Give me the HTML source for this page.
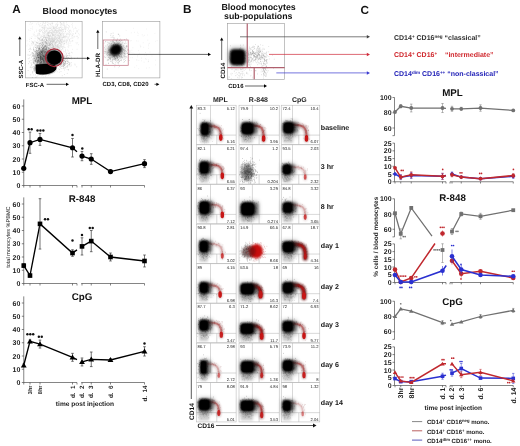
<!DOCTYPE html><html><head><meta charset="utf-8"><style>html,body{margin:0;padding:0;background:#fff;width:520px;height:446px;overflow:hidden}svg{display:block;will-change:transform}</style></head><body>
<svg width="520" height="446" viewBox="0 0 520 446" style="font-family:'Liberation Sans', sans-serif" text-rendering="geometricPrecision">
<defs>
<radialGradient id="gk"><stop offset="0" stop-color="#000" stop-opacity="1"/><stop offset="0.55" stop-color="#000" stop-opacity="0.95"/><stop offset="1" stop-color="#000" stop-opacity="0"/></radialGradient>
<radialGradient id="gg"><stop offset="0" stop-color="#444" stop-opacity="0.55"/><stop offset="1" stop-color="#444" stop-opacity="0"/></radialGradient>
<radialGradient id="gr"><stop offset="0" stop-color="#c81010" stop-opacity="1"/><stop offset="0.45" stop-color="#c81414" stop-opacity="0.85"/><stop offset="1" stop-color="#c01818" stop-opacity="0"/></radialGradient>
<radialGradient id="grl"><stop offset="0" stop-color="#c83030" stop-opacity="0.55"/><stop offset="1" stop-color="#c83030" stop-opacity="0"/></radialGradient>
<radialGradient id="gkr"><stop offset="0" stop-color="#200000" stop-opacity="1"/><stop offset="0.55" stop-color="#300505" stop-opacity="0.95"/><stop offset="1" stop-color="#300505" stop-opacity="0"/></radialGradient>
<filter id="b12" x="-60%" y="-60%" width="220%" height="220%"><feGaussianBlur stdDeviation="1.2"/></filter>
<filter id="b08" x="-60%" y="-60%" width="220%" height="220%"><feGaussianBlur stdDeviation="0.8"/></filter>
<filter id="b05" x="-60%" y="-60%" width="220%" height="220%"><feGaussianBlur stdDeviation="0.5"/></filter>
<filter id="b20" x="-60%" y="-60%" width="220%" height="220%"><feGaussianBlur stdDeviation="2.0"/></filter>
</defs>
<text transform="translate(12.2 13.2) scale(0.1)" font-size="118.00" font-weight="bold" fill="#111" text-anchor="start">A</text>
<text transform="translate(42.6 13.7) scale(0.1)" font-size="89.00" font-weight="bold" fill="#111" text-anchor="start">Blood monocytes</text>
<text transform="translate(183 13.4) scale(0.1)" font-size="118.00" font-weight="bold" fill="#111" text-anchor="start">B</text>
<text transform="translate(258.6 9.6) scale(0.1)" font-size="88.50" font-weight="bold" fill="#111" text-anchor="middle">Blood monocytes</text>
<text transform="translate(258.3 18.8) scale(0.1)" font-size="88.00" font-weight="bold" fill="#111" text-anchor="middle">sub-populations</text>
<text transform="translate(360.6 13.6) scale(0.1)" font-size="118.00" font-weight="bold" fill="#111" text-anchor="start">C</text>
<rect x="25.5" y="21.5" width="56.6" height="56.4" fill="none" stroke="#999" stroke-width="0.6"/>
<path d="M55.4,60.0h0.55M55.6,54.6h0.55M41.5,72.6h0.55M59.4,37.5h0.55M48.5,28.5h0.55M45.4,65.5h0.55M47.2,63.8h0.55M44.5,39.1h0.55M51.3,47.2h0.55M45.6,56.4h0.55M61.0,47.3h0.55M32.5,41.9h0.55M77.5,42.7h0.55M59.9,42.8h0.55M33.7,61.0h0.55M42.4,48.0h0.55M52.9,49.9h0.55M64.2,43.8h0.55M52.4,39.6h0.55M62.6,41.1h0.55M45.4,61.7h0.55M34.8,64.0h0.55M42.9,72.2h0.55M51.1,39.7h0.55M37.1,54.6h0.55M46.2,64.0h0.55M51.2,38.2h0.55M63.0,41.5h0.55M40.1,57.8h0.55M66.1,27.7h0.55M49.2,49.9h0.55M42.3,69.4h0.55M46.8,54.9h0.55M61.8,54.1h0.55M56.6,38.9h0.55M53.5,52.1h0.55M48.6,52.2h0.55M47.9,54.2h0.55M40.3,73.0h0.55M29.9,67.5h0.55M46.5,30.2h0.55M37.0,34.0h0.55M59.3,64.1h0.55M60.0,25.2h0.55M43.3,59.7h0.55M45.2,63.9h0.55M61.5,46.7h0.55M47.9,56.1h0.55M52.7,67.5h0.55M39.7,39.2h0.55M31.8,67.4h0.55M53.3,56.6h0.55M30.0,49.6h0.55M54.9,25.7h0.55M53.8,64.4h0.55M67.7,33.0h0.55M45.3,67.0h0.55M31.0,38.5h0.55M39.3,50.5h0.55M47.3,62.3h0.55M46.6,61.0h0.55M33.5,42.4h0.55M44.7,43.4h0.55M37.9,71.1h0.55M38.0,65.1h0.55M45.6,50.8h0.55M46.2,40.4h0.55M46.5,50.3h0.55M31.7,36.7h0.55M37.4,45.8h0.55M45.5,56.8h0.55M61.3,30.6h0.55M46.2,46.3h0.55M53.8,50.9h0.55M33.7,68.6h0.55M49.1,35.4h0.55M53.7,38.6h0.55M63.7,46.6h0.55M45.5,60.1h0.55M46.7,53.4h0.55M50.4,40.5h0.55M72.2,52.8h0.55M52.9,35.4h0.55M52.7,39.3h0.55M42.3,49.8h0.55M40.7,26.3h0.55M46.5,64.1h0.55M41.0,69.1h0.55M30.9,49.5h0.55M52.1,56.8h0.55M47.8,62.8h0.55M56.5,53.2h0.55M44.5,61.7h0.55M47.9,54.4h0.55M52.0,46.7h0.55M57.4,37.8h0.55M39.7,31.4h0.55M38.1,49.8h0.55M49.6,54.0h0.55M38.2,67.7h0.55M64.6,26.5h0.55M51.3,53.1h0.55M46.9,63.1h0.55M52.6,34.8h0.55M53.8,52.8h0.55M48.1,47.2h0.55M51.0,59.5h0.55M42.6,69.1h0.55M51.0,37.1h0.55M46.6,29.9h0.55M44.8,55.8h0.55M34.1,63.6h0.55M60.1,40.9h0.55M37.7,50.1h0.55M46.9,22.4h0.55M46.1,56.9h0.55M41.0,30.5h0.55M41.3,52.6h0.55M40.9,37.0h0.55M58.9,40.4h0.55M45.4,53.4h0.55M52.0,32.1h0.55M53.9,31.0h0.55M54.1,40.9h0.55M46.9,54.7h0.55M48.6,65.0h0.55M37.2,55.0h0.55M61.4,53.0h0.55M69.5,31.1h0.55M52.6,33.9h0.55M59.4,38.7h0.55M38.9,68.5h0.55M60.2,40.5h0.55M41.6,58.8h0.55M42.6,48.5h0.55M46.8,63.0h0.55M55.2,34.3h0.55M32.4,29.0h0.55M58.3,51.1h0.55M48.8,54.9h0.55M48.8,49.0h0.55M52.7,59.3h0.55M42.2,32.3h0.55M40.4,63.4h0.55M46.0,50.9h0.55M38.9,64.3h0.55M27.7,54.8h0.55M41.3,53.4h0.55M47.5,66.1h0.55M61.1,49.8h0.55M52.7,53.1h0.55M43.1,69.0h0.55M42.3,38.7h0.55M44.8,49.4h0.55M53.6,70.8h0.55M55.9,38.4h0.55M52.2,44.7h0.55M56.3,32.4h0.55M31.3,63.7h0.55M34.3,34.3h0.55M35.7,61.1h0.55M39.8,30.8h0.55M63.0,47.2h0.55M42.0,57.4h0.55M39.4,51.6h0.55M46.6,60.5h0.55M43.6,58.3h0.55M47.8,48.6h0.55M47.8,52.0h0.55M46.4,37.4h0.55M45.7,42.2h0.55M49.3,45.6h0.55M46.1,46.7h0.55M41.6,40.1h0.55M50.9,51.3h0.55M39.8,64.3h0.55M44.9,65.4h0.55M50.5,36.9h0.55M58.3,30.7h0.55M46.3,72.6h0.55M63.8,25.5h0.55M41.9,67.5h0.55M43.1,55.2h0.55M44.8,54.4h0.55M48.5,63.0h0.55M36.0,51.2h0.55M36.6,56.9h0.55M52.3,65.1h0.55M54.0,32.9h0.55M47.0,68.7h0.55M51.9,36.2h0.55M49.2,28.2h0.55M55.8,56.5h0.55M34.5,35.9h0.55M67.7,44.0h0.55M55.2,39.0h0.55M47.3,53.3h0.55M40.4,31.7h0.55M48.4,50.4h0.55M39.9,61.2h0.55M39.3,59.2h0.55M54.7,34.8h0.55M47.2,40.8h0.55M48.1,54.5h0.55M49.9,30.6h0.55M66.1,26.1h0.55M45.6,63.5h0.55M39.7,60.0h0.55M48.9,28.0h0.55M26.8,40.8h0.55M66.2,22.2h0.55M43.3,72.8h0.55M60.4,41.0h0.55M56.0,35.6h0.55M34.4,61.2h0.55M46.8,60.1h0.55M48.0,39.5h0.55M45.3,72.2h0.55M47.4,53.8h0.55M45.4,61.3h0.55M45.9,71.4h0.55M53.9,55.0h0.55M44.4,48.9h0.55M55.0,36.4h0.55M58.8,60.1h0.55M41.5,54.4h0.55M50.1,62.3h0.55M49.5,37.0h0.55M52.6,50.3h0.55M48.2,35.4h0.55M57.5,32.6h0.55M54.5,44.8h0.55M56.6,47.1h0.55M69.5,35.5h0.55M58.1,29.8h0.55M48.1,57.1h0.55M43.5,47.1h0.55M36.8,76.4h0.55M37.9,60.7h0.55M59.3,36.2h0.55M41.8,42.7h0.55M36.5,70.5h0.55M48.9,37.0h0.55M51.8,45.6h0.55M46.3,49.0h0.55M59.7,42.6h0.55M35.8,67.6h0.55M72.6,40.9h0.55M63.3,52.0h0.55M46.4,52.2h0.55M65.7,33.0h0.55M71.1,35.0h0.55M32.9,62.5h0.55M51.6,58.9h0.55M51.5,70.2h0.55M48.8,40.4h0.55M44.1,41.4h0.55M48.5,34.9h0.55M48.1,23.2h0.55M46.8,37.9h0.55M59.7,37.1h0.55M43.4,23.3h0.55M46.6,58.9h0.55M33.2,48.6h0.55M51.1,63.6h0.55M52.2,55.9h0.55M39.6,60.6h0.55M62.4,57.7h0.55M47.7,51.3h0.55M45.4,38.8h0.55M35.4,67.3h0.55M61.0,45.5h0.55M44.4,52.6h0.55M55.0,61.1h0.55M35.1,72.4h0.55M38.8,42.1h0.55M61.6,34.1h0.55M35.6,64.7h0.55M49.4,51.3h0.55M47.2,58.3h0.55M50.5,28.5h0.55M54.1,40.0h0.55M57.2,40.2h0.55M56.0,33.2h0.55M56.7,23.9h0.55M60.8,40.2h0.55M38.1,24.3h0.55M39.3,51.8h0.55M44.2,35.7h0.55M42.6,61.6h0.55M48.5,75.5h0.55M48.3,61.1h0.55M46.8,32.1h0.55M38.6,70.3h0.55M72.0,37.3h0.55M53.6,31.9h0.55M46.3,62.7h0.55M40.6,40.8h0.55M43.1,62.1h0.55M46.9,54.2h0.55M47.5,42.4h0.55M53.1,28.0h0.55M35.9,54.0h0.55M38.2,55.3h0.55M45.6,63.1h0.55M47.1,72.2h0.55M34.8,47.6h0.55M43.4,62.4h0.55M53.0,34.7h0.55M51.6,37.3h0.55M47.3,24.9h0.55M57.4,31.6h0.55M44.4,65.2h0.55M57.2,54.8h0.55M55.7,39.6h0.55M36.0,42.2h0.55M53.2,62.4h0.55M46.0,30.5h0.55M57.6,48.3h0.55M61.3,28.8h0.55M58.8,36.8h0.55M51.5,60.0h0.55M54.3,59.2h0.55M42.5,55.3h0.55M54.1,28.5h0.55M41.9,61.3h0.55M35.7,73.5h0.55M50.5,35.8h0.55M39.0,48.2h0.55M59.5,31.2h0.55M41.7,48.5h0.55M34.4,32.2h0.55M43.0,55.9h0.55M45.3,63.7h0.55M37.7,60.0h0.55M56.8,45.4h0.55M52.7,34.7h0.55M49.0,43.9h0.55M64.0,33.0h0.55M38.6,63.9h0.55M55.2,34.7h0.55M46.9,48.2h0.55M72.0,49.4h0.55M49.7,52.1h0.55M37.9,54.2h0.55M51.9,52.2h0.55M50.1,55.9h0.55M51.4,52.8h0.55M38.1,42.9h0.55M44.5,52.8h0.55M44.0,35.7h0.55M62.4,37.8h0.55M43.6,59.4h0.55M48.6,49.0h0.55M42.1,63.1h0.55M38.7,41.4h0.55M73.7,37.6h0.55M49.3,36.0h0.55M49.7,71.2h0.55M55.6,43.4h0.55M50.5,39.1h0.55M48.8,38.6h0.55M42.1,24.0h0.55M48.1,32.8h0.55M33.2,42.3h0.55M56.0,48.9h0.55M40.0,68.0h0.55M47.9,47.5h0.55M41.1,35.4h0.55M44.7,26.6h0.55M38.7,61.7h0.55M35.5,72.8h0.55M42.9,28.1h0.55M59.7,27.3h0.55M45.8,38.6h0.55M44.1,40.1h0.55M53.6,40.2h0.55M59.5,33.1h0.55M51.6,47.5h0.55M67.6,38.4h0.55M53.3,31.8h0.55M51.4,57.2h0.55M32.8,34.0h0.55M46.2,34.0h0.55M65.3,29.5h0.55M43.6,66.1h0.55M47.0,28.0h0.55M47.6,33.8h0.55M48.1,48.4h0.55M68.7,33.3h0.55M48.1,60.3h0.55M54.9,49.4h0.55M43.9,37.0h0.55M40.6,62.5h0.55M43.7,61.3h0.55M73.7,36.5h0.55M45.6,63.8h0.55M55.4,63.0h0.55M41.3,46.1h0.55M31.9,42.1h0.55M44.7,58.2h0.55M52.9,38.5h0.55M42.2,58.6h0.55M36.6,71.6h0.55M44.2,50.8h0.55M44.0,36.4h0.55M31.0,53.0h0.55M61.3,60.7h0.55M45.1,25.2h0.55M45.2,30.7h0.55M44.1,46.7h0.55M56.4,26.5h0.55M44.2,65.4h0.55M72.5,35.4h0.55M44.8,32.9h0.55M52.5,54.2h0.55M58.4,35.1h0.55M41.5,43.7h0.55M56.2,30.2h0.55M34.8,66.3h0.55M65.5,26.2h0.55M45.6,48.9h0.55M44.9,45.0h0.55M46.7,68.7h0.55M56.2,56.7h0.55M64.9,31.3h0.55M54.6,72.7h0.55M54.1,31.9h0.55M62.0,46.7h0.55M52.6,38.8h0.55M45.8,61.6h0.55M44.0,56.6h0.55M37.1,64.6h0.55M42.6,58.0h0.55M49.7,23.5h0.55M66.7,52.8h0.55M41.0,72.7h0.55M45.1,42.8h0.55M36.3,24.0h0.55M48.8,73.6h0.55M36.1,50.6h0.55M45.9,68.4h0.55M44.9,64.0h0.55M54.5,40.3h0.55M59.9,46.2h0.55M51.1,29.9h0.55M63.4,22.5h0.55M59.6,40.9h0.55M43.9,64.3h0.55M50.0,41.8h0.55M50.6,54.0h0.55M58.9,28.0h0.55M76.6,43.8h0.55M38.5,68.7h0.55M46.8,59.2h0.55M49.2,54.5h0.55M47.5,54.6h0.55M76.8,49.3h0.55M47.2,53.7h0.55M42.6,57.8h0.55M35.2,61.5h0.55M38.1,62.5h0.55M54.6,54.0h0.55M49.6,45.5h0.55M59.4,48.6h0.55M54.8,44.8h0.55M53.0,35.6h0.55M50.6,65.5h0.55M53.6,51.8h0.55M40.2,48.3h0.55M33.0,66.5h0.55M40.1,45.6h0.55M35.0,62.1h0.55M48.0,45.2h0.55M62.5,33.3h0.55M58.5,35.1h0.55M53.7,32.3h0.55M47.6,43.2h0.55M51.2,38.2h0.55M49.3,49.6h0.55M56.2,52.6h0.55M49.7,40.3h0.55M50.9,23.2h0.55M35.0,54.1h0.55M58.8,32.5h0.55M54.9,37.5h0.55M58.5,47.4h0.55M54.1,46.9h0.55M55.2,30.9h0.55M64.4,40.0h0.55M50.5,27.1h0.55M55.3,44.8h0.55M60.9,46.6h0.55M45.8,64.2h0.55M48.3,55.6h0.55M56.4,38.1h0.55M45.2,42.3h0.55M41.7,40.5h0.55M51.1,49.7h0.55M58.3,43.7h0.55M67.3,27.5h0.55M50.6,39.9h0.55M50.1,60.4h0.55M36.6,54.6h0.55M56.1,64.3h0.55M39.9,59.9h0.55M38.8,32.3h0.55M53.1,30.1h0.55M31.7,44.9h0.55M42.2,66.1h0.55M48.0,38.1h0.55M47.4,28.5h0.55M50.2,47.2h0.55M45.4,48.0h0.55M44.6,31.8h0.55M51.8,60.4h0.55M62.4,38.4h0.55M62.2,32.7h0.55M47.6,56.6h0.55M61.6,42.1h0.55M50.9,36.4h0.55M41.2,57.0h0.55M45.0,50.6h0.55M39.7,56.0h0.55M37.1,37.4h0.55M59.1,41.7h0.55M45.3,38.8h0.55M51.4,34.0h0.55M36.0,45.8h0.55M51.3,53.8h0.55M48.6,49.6h0.55M35.3,57.9h0.55M54.5,42.6h0.55M58.9,39.4h0.55M44.9,36.2h0.55M49.9,53.0h0.55M50.8,43.0h0.55M44.1,59.8h0.55M48.6,67.8h0.55M53.7,35.3h0.55M66.1,33.9h0.55M57.3,63.1h0.55M57.3,42.0h0.55M32.0,23.4h0.55M43.8,61.6h0.55M46.1,46.3h0.55M65.9,42.0h0.55M55.5,36.6h0.55M60.4,43.4h0.55M52.7,39.5h0.55M65.5,50.9h0.55M39.0,63.3h0.55M49.7,53.1h0.55M46.2,61.5h0.55M48.5,56.5h0.55M58.8,41.4h0.55M62.4,40.1h0.55M36.7,67.9h0.55M46.7,57.9h0.55M41.4,59.3h0.55M71.9,33.6h0.55M41.3,55.5h0.55M63.8,27.4h0.55M42.2,42.5h0.55M57.6,47.2h0.55M47.9,42.2h0.55M40.0,60.7h0.55M40.5,69.9h0.55M38.6,55.4h0.55M68.6,27.5h0.55M44.4,60.4h0.55M36.8,57.0h0.55M70.0,33.7h0.55M54.8,67.7h0.55M49.8,41.3h0.55M42.6,64.4h0.55M46.7,72.2h0.55M50.6,39.5h0.55M41.4,59.9h0.55M52.4,37.9h0.55M51.9,33.3h0.55M59.1,49.4h0.55M61.6,28.8h0.55M53.9,36.9h0.55M64.6,25.9h0.55M44.6,28.9h0.55M36.5,57.9h0.55M43.0,62.2h0.55M45.6,23.0h0.55M43.9,40.0h0.55M44.8,68.5h0.55M41.9,56.4h0.55M52.6,47.1h0.55M43.3,63.4h0.55M40.6,65.1h0.55M58.6,45.0h0.55M52.5,44.3h0.55M42.6,58.4h0.55M44.6,65.9h0.55M39.1,68.9h0.55M49.7,69.0h0.55M66.1,42.1h0.55M43.6,60.2h0.55M42.4,39.9h0.55M44.8,60.1h0.55M32.9,68.7h0.55M63.3,29.8h0.55M33.8,61.2h0.55M45.6,56.9h0.55M44.1,54.1h0.55M34.8,66.1h0.55M32.2,41.7h0.55M52.5,50.8h0.55M58.0,46.8h0.55M59.2,30.1h0.55M60.3,59.9h0.55M56.6,26.4h0.55M38.5,51.9h0.55M41.5,40.3h0.55M62.7,23.3h0.55M48.3,55.2h0.55M48.4,62.9h0.55M69.3,26.6h0.55M60.4,30.5h0.55M59.0,41.9h0.55M58.8,42.0h0.55M41.3,55.7h0.55M37.7,61.9h0.55M41.5,43.2h0.55M53.7,62.1h0.55M54.0,35.9h0.55M59.2,41.6h0.55M57.7,48.5h0.55M55.6,49.0h0.55M39.3,29.6h0.55M74.5,36.3h0.55M48.5,36.6h0.55M46.7,37.2h0.55M43.3,71.7h0.55M38.3,68.5h0.55M57.6,44.8h0.55M43.4,35.4h0.55M43.4,46.3h0.55M47.8,32.6h0.55M55.9,27.8h0.55M58.1,43.6h0.55M50.9,26.0h0.55M46.2,58.1h0.55M46.4,74.8h0.55M41.8,58.8h0.55M47.3,58.6h0.55M31.8,45.0h0.55M32.3,62.2h0.55M55.4,39.3h0.55M42.0,51.7h0.55M65.2,31.5h0.55M49.4,64.7h0.55M52.5,38.9h0.55M45.1,47.2h0.55M37.7,75.7h0.55M61.9,29.6h0.55M58.7,35.2h0.55M29.3,41.4h0.55M60.1,30.1h0.55M41.8,29.4h0.55M59.2,61.2h0.55M44.9,49.6h0.55M50.4,32.7h0.55M55.0,52.4h0.55M47.1,51.6h0.55M43.6,60.4h0.55M37.8,66.2h0.55M47.8,56.8h0.55M55.6,43.6h0.55M54.1,50.1h0.55M48.5,70.3h0.55M35.4,41.8h0.55M40.7,66.3h0.55M43.3,72.7h0.55M61.5,41.4h0.55M51.5,29.3h0.55M50.9,47.8h0.55M52.2,35.5h0.55M39.5,53.5h0.55M38.2,66.4h0.55M57.6,39.8h0.55M58.2,52.4h0.55M45.6,53.4h0.55M46.5,68.2h0.55M62.3,27.4h0.55M43.1,67.4h0.55M64.0,29.3h0.55M39.2,40.3h0.55M62.3,42.2h0.55M55.8,31.1h0.55M52.6,34.8h0.55M57.4,30.8h0.55M36.6,36.6h0.55M47.3,56.4h0.55M42.3,64.2h0.55M49.2,59.1h0.55M52.3,64.8h0.55M41.2,66.3h0.55M42.6,59.2h0.55M40.8,61.8h0.55M65.7,36.0h0.55M41.2,47.7h0.55M44.3,62.7h0.55M55.4,55.8h0.55M58.2,37.1h0.55M36.4,61.2h0.55M53.5,40.1h0.55M46.5,44.2h0.55M33.2,43.1h0.55M41.5,61.2h0.55M54.5,49.1h0.55M47.0,56.0h0.55M64.8,40.1h0.55M50.0,68.6h0.55M58.1,31.5h0.55M36.4,68.7h0.55M49.2,54.4h0.55M63.0,37.7h0.55M44.2,62.1h0.55M47.4,37.5h0.55M45.1,50.7h0.55M50.6,57.8h0.55M40.8,50.4h0.55M49.4,48.6h0.55M40.2,29.3h0.55M44.0,29.6h0.55M48.5,33.4h0.55M70.9,57.9h0.55M54.7,40.0h0.55M52.2,59.5h0.55M57.1,34.7h0.55M63.2,34.0h0.55M73.3,29.1h0.55M51.9,38.1h0.55M50.7,35.7h0.55M58.3,31.3h0.55M39.6,49.5h0.55M41.1,63.4h0.55M41.1,37.1h0.55M57.1,53.0h0.55M51.7,41.7h0.55M38.7,55.6h0.55M55.3,30.3h0.55M36.7,53.9h0.55M50.4,60.2h0.55M50.9,40.6h0.55M36.7,52.6h0.55M43.2,51.8h0.55M52.6,55.7h0.55M55.3,45.2h0.55M60.3,38.8h0.55M37.7,58.9h0.55M47.8,56.3h0.55M36.6,69.8h0.55M61.1,31.6h0.55M38.5,57.5h0.55M49.0,42.3h0.55M60.0,23.1h0.55M65.6,38.2h0.55M50.3,42.8h0.55M43.9,34.8h0.55M39.3,45.9h0.55M37.8,63.7h0.55M48.2,36.8h0.55M57.4,36.2h0.55M51.2,32.7h0.55M58.9,50.4h0.55M31.6,54.6h0.55M38.2,67.4h0.55M40.8,71.0h0.55M51.3,52.3h0.55M50.3,42.4h0.55M60.0,31.2h0.55M48.0,56.0h0.55M43.3,44.4h0.55M75.2,33.2h0.55M39.4,53.5h0.55M55.8,45.5h0.55M55.4,30.6h0.55M46.2,50.0h0.55M46.4,48.1h0.55M61.4,39.3h0.55M55.2,37.7h0.55M44.5,42.8h0.55M48.5,61.0h0.55M49.0,69.4h0.55M50.2,53.8h0.55M54.6,38.8h0.55M51.6,38.5h0.55M59.8,50.9h0.55M50.4,51.6h0.55M53.1,41.4h0.55M53.3,48.7h0.55M42.6,59.3h0.55M44.7,62.2h0.55M56.8,25.1h0.55M46.8,46.9h0.55M62.8,36.5h0.55M52.6,46.8h0.55M39.4,58.2h0.55M33.8,62.8h0.55M44.7,57.8h0.55M48.9,58.0h0.55M39.5,66.4h0.55M34.5,62.8h0.55M50.9,40.2h0.55M59.2,46.9h0.55M53.3,54.5h0.55M45.7,41.6h0.55M54.5,43.9h0.55M37.5,64.2h0.55M42.9,58.8h0.55M49.3,57.4h0.55M48.2,63.6h0.55M78.5,33.4h0.55M39.4,45.7h0.55M56.3,41.2h0.55M43.4,67.0h0.55M41.0,64.4h0.55M37.6,47.1h0.55M53.4,42.6h0.55M35.2,36.0h0.55M51.2,47.9h0.55M60.1,34.5h0.55M50.5,34.4h0.55M50.8,54.1h0.55M75.8,28.6h0.55M47.4,55.5h0.55M54.1,49.4h0.55M49.8,32.3h0.55M51.1,60.2h0.55M67.3,50.0h0.55M60.3,27.3h0.55M55.1,45.7h0.55M52.1,53.7h0.55M76.0,31.1h0.55M53.9,38.1h0.55M57.7,55.6h0.55M38.6,45.4h0.55M31.0,38.5h0.55M35.9,58.9h0.55M37.7,53.6h0.55M52.8,47.5h0.55M59.0,29.0h0.55M37.8,66.7h0.55M54.4,40.8h0.55M42.5,40.5h0.55M41.4,65.2h0.55M51.0,55.2h0.55M40.5,62.6h0.55M57.7,44.9h0.55M75.7,32.9h0.55M43.3,47.0h0.55M56.8,39.3h0.55M42.6,50.8h0.55M29.8,47.1h0.55M37.8,47.9h0.55M61.5,35.8h0.55M47.1,56.5h0.55M35.5,47.6h0.55M37.2,37.7h0.55M54.4,60.2h0.55M38.5,67.1h0.55M48.1,33.1h0.55M57.2,32.2h0.55M46.3,50.1h0.55M33.6,57.8h0.55M57.4,22.2h0.55M43.3,58.9h0.55M49.0,44.6h0.55M60.8,34.8h0.55M64.5,26.9h0.55M40.7,60.1h0.55M62.7,35.6h0.55M41.9,25.1h0.55M56.6,48.0h0.55M52.0,35.1h0.55M43.8,50.7h0.55M47.1,55.6h0.55M49.1,39.0h0.55M52.0,60.5h0.55M43.4,38.0h0.55M35.0,44.2h0.55M36.2,30.1h0.55M48.9,42.7h0.55M58.2,40.5h0.55M40.1,35.0h0.55M44.7,58.6h0.55M48.1,25.7h0.55M44.4,56.1h0.55M61.2,41.8h0.55M50.6,45.4h0.55M40.5,23.6h0.55M34.7,60.5h0.55M34.2,62.0h0.55M50.3,62.7h0.55M59.8,22.7h0.55M61.5,38.7h0.55M55.7,45.4h0.55M42.5,67.9h0.55M59.0,37.2h0.55M57.3,37.7h0.55M57.8,47.4h0.55M52.7,35.1h0.55M46.4,47.5h0.55M39.3,35.7h0.55M53.7,55.1h0.55M41.9,67.0h0.55M36.8,43.7h0.55M40.6,62.6h0.55M37.1,57.2h0.55M54.7,43.4h0.55M27.7,44.1h0.55M42.5,71.7h0.55M49.1,47.3h0.55M28.8,61.2h0.55M36.7,69.1h0.55M54.3,38.0h0.55M43.7,32.7h0.55M36.5,62.5h0.55M45.8,65.8h0.55M65.8,29.0h0.55M62.6,39.5h0.55M41.3,75.9h0.55M50.0,53.1h0.55M44.5,65.1h0.55M47.4,70.5h0.55M52.3,45.6h0.55M57.7,28.4h0.55M36.6,61.6h0.55M41.7,50.3h0.55M37.6,68.6h0.55M44.9,34.3h0.55M58.3,57.5h0.55M53.8,47.1h0.55M50.7,41.4h0.55M48.6,55.3h0.55M58.0,35.6h0.55M43.9,52.5h0.55M55.2,39.0h0.55M46.3,72.2h0.55M60.3,49.1h0.55M43.1,64.0h0.55M73.4,31.2h0.55M41.6,38.7h0.55M55.4,36.2h0.55M57.7,54.6h0.55M44.7,63.1h0.55M57.4,50.0h0.55M50.2,63.6h0.55M54.6,58.9h0.55M38.1,67.8h0.55M64.2,47.5h0.55M41.9,72.1h0.55M44.4,33.1h0.55M39.5,31.5h0.55M33.1,42.9h0.55M36.0,61.9h0.55M45.3,55.2h0.55M51.6,44.0h0.55M49.5,39.1h0.55M66.2,36.4h0.55M54.9,33.1h0.55M54.0,50.9h0.55M50.9,33.5h0.55M56.4,24.0h0.55M39.1,61.8h0.55M53.8,44.5h0.55M40.6,51.0h0.55M46.5,66.2h0.55M41.2,42.2h0.55M45.9,58.2h0.55M51.3,41.9h0.55M37.9,68.9h0.55M42.9,36.2h0.55M43.4,44.9h0.55M39.2,72.2h0.55M40.7,62.9h0.55M54.2,39.0h0.55M50.4,47.2h0.55M47.2,63.6h0.55M59.3,35.9h0.55M51.6,30.5h0.55M49.6,74.2h0.55M48.8,40.1h0.55M54.7,57.7h0.55M51.7,46.1h0.55M39.1,74.3h0.55M62.8,46.6h0.55M50.2,60.3h0.55M51.7,41.5h0.55M59.3,37.7h0.55M43.0,47.7h0.55M60.4,35.2h0.55M38.3,70.2h0.55M45.1,53.1h0.55M45.5,66.2h0.55M45.8,53.5h0.55M55.8,46.3h0.55M43.4,49.5h0.55M48.2,62.6h0.55M57.0,58.4h0.55M52.3,54.2h0.55M58.1,36.0h0.55M49.2,42.7h0.55M56.0,38.7h0.55M58.5,47.1h0.55M50.3,28.7h0.55M61.3,49.5h0.55M46.8,67.1h0.55M58.9,38.6h0.55M46.8,70.0h0.55M48.1,43.0h0.55M56.5,37.6h0.55M47.5,54.3h0.55M46.7,56.2h0.55M57.4,34.0h0.55M41.5,57.3h0.55M42.2,69.9h0.55M50.3,49.1h0.55M45.5,44.4h0.55M59.5,32.4h0.55M39.4,49.8h0.55M38.7,58.8h0.55M41.9,59.2h0.55M49.8,54.8h0.55M40.8,71.4h0.55M59.1,53.6h0.55M43.4,52.8h0.55M52.5,49.1h0.55M41.6,53.2h0.55M53.9,64.9h0.55M62.7,43.8h0.55M37.3,51.1h0.55M35.1,60.1h0.55M64.8,35.7h0.55M38.6,46.4h0.55M56.6,42.6h0.55M66.4,43.9h0.55M43.9,53.7h0.55M46.9,41.1h0.55M49.6,57.4h0.55M48.9,39.3h0.55M40.9,51.0h0.55M56.6,57.6h0.55M34.0,70.6h0.55M41.8,29.8h0.55M60.5,40.3h0.55M58.4,47.1h0.55M47.4,30.1h0.55M37.5,70.3h0.55M43.5,76.9h0.55M43.5,68.6h0.55M45.4,76.5h0.55M64.0,23.0h0.55M42.1,50.7h0.55M43.5,72.7h0.55M51.4,50.1h0.55M61.0,43.3h0.55M56.8,45.4h0.55M60.4,40.6h0.55M66.1,39.9h0.55M33.6,61.2h0.55M38.3,60.5h0.55M50.5,68.1h0.55M45.7,63.1h0.55M47.6,44.7h0.55M38.8,49.6h0.55M48.0,38.9h0.55M49.3,60.0h0.55M40.1,47.3h0.55M41.5,62.4h0.55M40.0,72.6h0.55M54.2,58.3h0.55M52.5,41.5h0.55M45.2,46.0h0.55M55.6,30.5h0.55M43.9,54.3h0.55M46.4,55.0h0.55M63.5,43.2h0.55M57.7,38.8h0.55M50.4,67.7h0.55M43.3,62.9h0.55M54.4,30.2h0.55M43.3,67.2h0.55M46.2,53.0h0.55M44.5,56.3h0.55M48.0,68.5h0.55M51.1,50.4h0.55M45.0,71.5h0.55M48.9,40.7h0.55M35.3,57.5h0.55M57.5,40.6h0.55M49.5,38.9h0.55M46.1,63.1h0.55M53.3,61.9h0.55M53.9,57.9h0.55M62.9,44.4h0.55M40.1,37.1h0.55M54.4,40.7h0.55M52.3,54.9h0.55M42.7,36.3h0.55M46.8,42.6h0.55M68.0,25.6h0.55M39.8,62.2h0.55M68.5,42.2h0.55M49.9,60.0h0.55M49.2,45.1h0.55M40.4,56.8h0.55M48.7,33.2h0.55M42.6,65.9h0.55M57.1,45.1h0.55M39.2,61.1h0.55M51.8,25.8h0.55M57.5,42.5h0.55M40.9,60.1h0.55M43.1,33.2h0.55M41.5,51.5h0.55M58.6,50.3h0.55M42.5,59.6h0.55M48.0,39.5h0.55M37.3,43.2h0.55M55.3,33.0h0.55M55.0,24.4h0.55M58.9,36.0h0.55M42.1,48.0h0.55M65.4,52.2h0.55M47.0,34.3h0.55M52.9,32.9h0.55M45.5,58.7h0.55M46.3,51.3h0.55M42.6,39.1h0.55M51.8,51.4h0.55M46.9,65.6h0.55M45.4,38.0h0.55M35.3,54.9h0.55M38.2,59.7h0.55M48.1,50.4h0.55M65.5,27.9h0.55M44.2,60.5h0.55M43.9,67.0h0.55M53.1,40.7h0.55M46.7,60.9h0.55M48.7,60.6h0.55M45.6,49.0h0.55M29.8,30.4h0.55M59.1,50.0h0.55M38.6,55.7h0.55M53.3,45.7h0.55M57.2,60.1h0.55M52.9,43.1h0.55M58.0,38.6h0.55M57.0,44.8h0.55M60.2,35.0h0.55M41.3,30.6h0.55M44.1,27.8h0.55M53.9,61.1h0.55M38.3,55.0h0.55M43.8,40.4h0.55M42.8,42.0h0.55M38.0,51.1h0.55M38.0,60.4h0.55M56.9,46.7h0.55M57.3,39.9h0.55M39.4,67.6h0.55M44.8,48.9h0.55M51.7,33.8h0.55M48.5,32.5h0.55M46.0,47.9h0.55M32.3,26.9h0.55M42.5,75.3h0.55M55.3,43.9h0.55M37.4,65.2h0.55M45.6,31.5h0.55M62.7,65.2h0.55M45.3,63.6h0.55M44.5,45.1h0.55M33.4,71.8h0.55M53.6,39.4h0.55M60.7,47.3h0.55M52.2,34.1h0.55M69.3,39.6h0.55M53.0,37.7h0.55M37.4,35.8h0.55M45.6,57.3h0.55M41.9,57.4h0.55M37.4,40.4h0.55M42.7,48.9h0.55M42.6,60.6h0.55M47.2,55.3h0.55M49.1,31.1h0.55M44.0,27.6h0.55M66.2,34.8h0.55M47.2,60.7h0.55M67.6,36.2h0.55M47.8,43.1h0.55M59.7,53.5h0.55M42.0,32.1h0.55M42.6,39.2h0.55M49.3,30.4h0.55M65.0,55.0h0.55M50.5,42.0h0.55M55.3,42.0h0.55M61.8,53.4h0.55M40.6,50.1h0.55M53.4,62.8h0.55M47.2,49.7h0.55M56.4,30.5h0.55M54.0,55.1h0.55M61.8,56.2h0.55M37.9,35.8h0.55M76.8,30.8h0.55M36.7,59.5h0.55M37.4,64.0h0.55M50.8,57.2h0.55M46.5,58.8h0.55M40.1,50.1h0.55M43.3,68.2h0.55M63.6,41.3h0.55M45.3,42.2h0.55M43.2,46.5h0.55M45.9,57.0h0.55M37.7,70.0h0.55M61.1,42.2h0.55M69.7,30.1h0.55M52.6,23.6h0.55M46.7,54.3h0.55M43.3,50.6h0.55M49.2,68.0h0.55M41.6,68.9h0.55M52.5,53.0h0.55M60.9,42.0h0.55M51.9,40.8h0.55M30.8,69.3h0.55M47.9,38.9h0.55M48.7,41.9h0.55M44.6,65.0h0.55M45.8,35.4h0.55M41.1,48.2h0.55M43.1,71.0h0.55M48.9,54.6h0.55M42.1,61.6h0.55M40.7,50.6h0.55M45.9,45.9h0.55M45.3,68.7h0.55M37.5,63.7h0.55M56.5,34.2h0.55M58.4,53.5h0.55M45.6,62.2h0.55M48.9,31.8h0.55M47.1,48.7h0.55M41.2,42.0h0.55M47.7,47.4h0.55M55.6,27.9h0.55M36.6,52.7h0.55M56.8,54.6h0.55M48.0,40.9h0.55M35.0,68.5h0.55M43.7,46.9h0.55M50.2,36.3h0.55M50.4,35.3h0.55M58.6,45.0h0.55M71.0,31.9h0.55M59.7,43.3h0.55M44.4,46.0h0.55M41.4,58.0h0.55M45.5,75.0h0.55M49.4,40.2h0.55M36.0,68.8h0.55M54.1,49.4h0.55M37.8,22.8h0.55M51.6,50.8h0.55M55.0,39.9h0.55M43.5,64.5h0.55M53.8,49.4h0.55M48.1,48.5h0.55M51.6,42.8h0.55M44.9,57.2h0.55M42.9,38.1h0.55M43.7,52.4h0.55M35.6,53.6h0.55M45.6,27.7h0.55M44.2,46.7h0.55M46.7,68.0h0.55M50.0,40.8h0.55M46.0,57.5h0.55M53.1,38.3h0.55M50.7,52.7h0.55M41.1,72.3h0.55M70.4,38.7h0.55M44.4,55.6h0.55M40.5,59.1h0.55M52.4,57.9h0.55M48.8,52.1h0.55M46.7,36.9h0.55M34.8,69.3h0.55M61.0,30.6h0.55M46.2,48.5h0.55M42.9,36.7h0.55M47.6,60.1h0.55M78.1,44.7h0.55M41.9,53.8h0.55M43.0,61.4h0.55M38.5,58.3h0.55M48.8,59.2h0.55M43.5,27.2h0.55M43.3,72.3h0.55M48.6,45.4h0.55M41.8,72.7h0.55M49.6,50.1h0.55M55.8,45.7h0.55M48.7,48.8h0.55M48.0,37.1h0.55M47.3,55.2h0.55M56.3,57.3h0.55M55.7,48.4h0.55M54.0,48.7h0.55M57.7,47.8h0.55M48.3,60.2h0.55M42.5,48.3h0.55M53.5,57.1h0.55M50.8,41.1h0.55M49.5,36.6h0.55M61.4,44.5h0.55M43.9,53.7h0.55M45.7,44.3h0.55M40.5,38.1h0.55M59.4,47.6h0.55M44.8,42.2h0.55M42.1,36.5h0.55M52.8,64.6h0.55M70.3,43.1h0.55M68.2,47.1h0.55M38.8,38.4h0.55M48.4,57.1h0.55M42.1,74.9h0.55M45.9,67.1h0.55M40.8,66.7h0.55M47.9,44.9h0.55M39.7,31.0h0.55M41.7,27.6h0.55M55.3,61.8h0.55M33.4,56.2h0.55M50.0,54.8h0.55M64.1,28.0h0.55M52.2,23.9h0.55M53.6,51.8h0.55M42.1,50.1h0.55M56.0,31.9h0.55M41.3,47.3h0.55M49.3,61.0h0.55M52.3,49.8h0.55M37.4,74.2h0.55M46.4,40.5h0.55M71.3,38.2h0.55M38.4,38.4h0.55M60.2,22.7h0.55M46.1,71.6h0.55M51.6,48.3h0.55M40.3,46.3h0.55M48.1,50.0h0.55M41.5,63.3h0.55M64.2,41.9h0.55M38.4,55.4h0.55M47.2,47.0h0.55M33.8,59.8h0.55M34.9,68.2h0.55M42.4,67.8h0.55M55.7,41.8h0.55M52.6,32.5h0.55M46.0,64.6h0.55M60.8,35.8h0.55M36.6,72.7h0.55M60.6,60.2h0.55M51.5,47.5h0.55M50.5,52.9h0.55M61.7,24.9h0.55M50.2,51.3h0.55M59.8,46.3h0.55M34.5,66.5h0.55M54.4,30.4h0.55M57.7,46.6h0.55M49.7,35.5h0.55M48.6,45.6h0.55M66.8,37.4h0.55M66.7,41.9h0.55M41.6,66.2h0.55M37.7,64.3h0.55M55.1,45.8h0.55M45.1,53.1h0.55M69.0,32.5h0.55M51.1,39.9h0.55M42.3,69.8h0.55M53.0,40.2h0.55M56.1,49.4h0.55M47.7,45.1h0.55M45.8,41.5h0.55M43.0,66.2h0.55M44.8,53.2h0.55M53.6,48.1h0.55M46.5,60.8h0.55M46.8,58.7h0.55M57.5,65.3h0.55M47.9,63.6h0.55M47.9,51.3h0.55M49.8,38.5h0.55M57.5,45.4h0.55M45.9,62.5h0.55M37.1,66.1h0.55M36.9,46.2h0.55M53.4,49.7h0.55M37.9,62.1h0.55M58.8,33.6h0.55M40.2,65.8h0.55M36.6,61.9h0.55M40.2,58.9h0.55M57.8,40.5h0.55M48.0,32.2h0.55M49.0,58.5h0.55M63.1,35.7h0.55M70.6,30.4h0.55M57.3,30.4h0.55M53.7,27.8h0.55M63.7,25.5h0.55M50.7,62.3h0.55M48.1,70.8h0.55M40.9,61.1h0.55M44.1,57.2h0.55M48.9,52.8h0.55M42.1,71.2h0.55M46.2,55.7h0.55M48.1,51.3h0.55M77.0,31.8h0.55M69.5,34.8h0.55M41.3,36.3h0.55M48.4,51.0h0.55M36.5,61.5h0.55M63.2,37.6h0.55M66.3,42.2h0.55M42.7,42.0h0.55M32.1,42.1h0.55M48.0,43.4h0.55M34.9,64.6h0.55M60.0,34.4h0.55M64.7,53.2h0.55M49.2,32.5h0.55M59.7,27.7h0.55M32.3,54.9h0.55M38.4,46.8h0.55M39.1,55.3h0.55M50.1,24.9h0.55M41.9,60.4h0.55M45.2,68.9h0.55M52.0,42.9h0.55M38.7,65.9h0.55M50.8,45.9h0.55M57.5,48.2h0.55M54.6,45.8h0.55M48.7,53.9h0.55M49.7,28.6h0.55M46.2,48.3h0.55M40.2,43.2h0.55M51.3,44.0h0.55M43.0,56.1h0.55M42.1,42.4h0.55M51.7,33.3h0.55M43.8,66.3h0.55M45.3,37.7h0.55M40.1,37.2h0.55M35.6,56.4h0.55M36.6,57.1h0.55M43.0,44.7h0.55M62.9,30.9h0.55M47.8,50.1h0.55M51.8,43.9h0.55M49.9,51.2h0.55M62.9,50.9h0.55M62.2,48.2h0.55M57.4,25.5h0.55M35.7,77.4h0.55M41.8,27.1h0.55M73.2,33.8h0.55M44.2,28.5h0.55M56.4,41.0h0.55M59.9,29.8h0.55M47.6,40.9h0.55M49.0,57.4h0.55M54.9,37.9h0.55M50.3,50.9h0.55M39.9,65.7h0.55M38.3,49.0h0.55M48.2,48.3h0.55M50.0,24.5h0.55M45.4,41.8h0.55M46.1,52.5h0.55M59.5,50.2h0.55M61.6,45.7h0.55M40.4,48.6h0.55M34.6,64.8h0.55M47.9,57.5h0.55M61.7,29.7h0.55M35.3,69.7h0.55M40.0,54.5h0.55M49.6,59.5h0.55M51.8,46.9h0.55M47.1,63.4h0.55M43.2,52.1h0.55M51.1,59.7h0.55M68.6,38.9h0.55M35.0,44.9h0.55M47.1,32.0h0.55M42.0,42.8h0.55M60.2,24.9h0.55M44.3,25.5h0.55M54.6,43.8h0.55M48.9,26.9h0.55M45.7,69.6h0.55M44.3,52.9h0.55M48.9,53.1h0.55M37.4,48.9h0.55M57.0,25.4h0.55M51.2,60.2h0.55M34.7,68.2h0.55M47.6,61.2h0.55M56.6,27.8h0.55M47.2,38.0h0.55M72.2,40.8h0.55M56.6,44.5h0.55M44.2,49.1h0.55M52.2,30.5h0.55M39.7,57.5h0.55M36.1,31.4h0.55M75.8,42.7h0.55M36.9,68.2h0.55M58.8,38.0h0.55M48.9,37.0h0.55M63.9,41.2h0.55M52.7,31.5h0.55M36.9,50.9h0.55M51.0,38.9h0.55M48.6,49.9h0.55M58.1,52.2h0.55M39.9,66.9h0.55M47.7,58.0h0.55M72.2,27.2h0.55M59.2,53.4h0.55M43.3,72.0h0.55M75.3,33.5h0.55M49.6,54.3h0.55M41.8,65.8h0.55M51.6,57.0h0.55M51.8,36.5h0.55M42.3,47.7h0.55M55.7,62.0h0.55M64.1,43.6h0.55M52.7,46.6h0.55M62.7,31.8h0.55M28.1,49.5h0.55M42.5,60.1h0.55M40.6,61.9h0.55M62.3,37.6h0.55M45.0,53.5h0.55M63.7,36.5h0.55M60.9,26.3h0.55M48.8,50.8h0.55M47.8,35.3h0.55M68.2,28.5h0.55M38.0,45.0h0.55M40.4,70.0h0.55M48.5,42.5h0.55M40.6,73.6h0.55M64.9,47.7h0.55M65.1,28.2h0.55M43.3,68.4h0.55M44.5,56.3h0.55M49.4,57.2h0.55M48.4,37.2h0.55M49.1,38.6h0.55M47.8,48.7h0.55M77.7,38.7h0.55M51.0,31.1h0.55M53.8,52.5h0.55M69.6,30.6h0.55M36.8,59.8h0.55M44.7,26.3h0.55M49.8,59.6h0.55M52.0,66.0h0.55M58.3,41.3h0.55M44.5,37.2h0.55M37.4,38.8h0.55M51.6,65.8h0.55M40.9,66.1h0.55M38.7,39.4h0.55M59.6,40.2h0.55M44.9,40.9h0.55M36.8,65.6h0.55M44.6,45.0h0.55M51.0,51.7h0.55M36.2,65.1h0.55M47.7,53.2h0.55M52.0,26.7h0.55M48.9,62.3h0.55M54.7,59.5h0.55M47.8,61.0h0.55M45.6,39.2h0.55M39.9,69.6h0.55M61.6,39.5h0.55M58.8,38.1h0.55M54.8,27.1h0.55M50.9,56.1h0.55M61.1,44.2h0.55M43.1,50.5h0.55M37.8,67.8h0.55M53.0,46.8h0.55M42.1,67.4h0.55M53.2,26.9h0.55M57.0,40.0h0.55M46.3,50.3h0.55M42.2,63.4h0.55M58.1,27.9h0.55M34.8,38.3h0.55M45.4,55.4h0.55M53.6,64.4h0.55M39.2,49.0h0.55M39.4,67.1h0.55M51.6,43.0h0.55M48.4,66.1h0.55M55.2,43.5h0.55M50.8,44.1h0.55M44.2,40.4h0.55M43.6,67.4h0.55M47.3,35.3h0.55M54.0,38.6h0.55M76.8,36.1h0.55M52.5,49.9h0.55M51.9,71.4h0.55M50.1,44.5h0.55M42.4,62.7h0.55M31.2,64.8h0.55M53.6,54.3h0.55M45.0,59.2h0.55M50.9,55.2h0.55M60.9,33.5h0.55M40.6,67.5h0.55M52.1,39.6h0.55M38.8,61.5h0.55M49.5,37.5h0.55M55.6,43.7h0.55M38.9,67.4h0.55M57.0,49.1h0.55M47.4,33.6h0.55M55.7,63.1h0.55M50.1,60.8h0.55M60.0,22.5h0.55M56.5,52.7h0.55M53.4,61.5h0.55M42.4,45.4h0.55M60.3,33.2h0.55M60.7,39.7h0.55M43.6,63.4h0.55M57.2,40.8h0.55M45.7,63.9h0.55M46.9,42.2h0.55M59.4,33.1h0.55M37.7,34.9h0.55M42.7,68.1h0.55M63.6,36.5h0.55M60.1,40.0h0.55M47.6,60.2h0.55M46.4,49.2h0.55M42.1,53.6h0.55M34.6,44.9h0.55M49.5,52.9h0.55M50.7,44.5h0.55M33.7,41.8h0.55M58.0,41.8h0.55M39.4,66.0h0.55M51.0,61.7h0.55M51.7,40.0h0.55M72.0,25.8h0.55M56.5,32.3h0.55M62.7,49.0h0.55M63.1,34.9h0.55M37.8,66.9h0.55M45.8,36.8h0.55M51.1,32.5h0.55M50.8,40.6h0.55M52.1,53.0h0.55M43.8,35.6h0.55M57.8,37.2h0.55M42.8,69.6h0.55M42.1,45.9h0.55M50.4,60.7h0.55M65.0,37.4h0.55M52.6,42.5h0.55M29.7,24.2h0.55M50.2,56.8h0.55M33.7,46.7h0.55M50.1,30.5h0.55M53.1,48.7h0.55M44.0,50.2h0.55M42.7,64.5h0.55M55.9,58.3h0.55M38.1,38.2h0.55M50.8,27.8h0.55M59.9,36.2h0.55M66.1,34.3h0.55M66.9,40.2h0.55M41.5,47.2h0.55M45.0,73.7h0.55M67.2,24.6h0.55M45.9,57.4h0.55M37.2,71.5h0.55M50.4,51.4h0.55M44.3,69.4h0.55M63.9,24.4h0.55M45.8,46.2h0.55M57.7,30.3h0.55M67.9,37.8h0.55M54.7,32.1h0.55M35.9,49.3h0.55M52.8,35.0h0.55M68.2,31.4h0.55M56.4,53.7h0.55M60.3,39.3h0.55M59.9,33.3h0.55M48.9,53.0h0.55M46.2,46.8h0.55M53.4,40.1h0.55M41.4,63.0h0.55M48.0,55.8h0.55M66.3,24.2h0.55M60.3,36.1h0.55M41.9,58.6h0.55M52.5,39.7h0.55M59.7,29.9h0.55M47.4,49.3h0.55M46.7,36.0h0.55M42.9,61.3h0.55M64.7,59.1h0.55M53.9,28.6h0.55M58.7,27.6h0.55M54.5,45.9h0.55M47.5,33.6h0.55M61.0,52.1h0.55M49.7,40.5h0.55M50.9,57.2h0.55M41.0,62.9h0.55M62.0,59.3h0.55M49.8,63.4h0.55M48.4,35.5h0.55M47.7,24.5h0.55M38.2,50.0h0.55M53.1,45.3h0.55M48.0,53.0h0.55M53.1,51.4h0.55M48.3,28.2h0.55M52.9,64.7h0.55M49.4,40.9h0.55M41.0,72.5h0.55M44.4,42.6h0.55M52.0,35.9h0.55M50.4,32.4h0.55M53.1,41.4h0.55M50.1,44.1h0.55M40.4,74.6h0.55M49.0,53.7h0.55M53.2,26.2h0.55M49.1,69.0h0.55M57.8,32.4h0.55M47.2,43.3h0.55M44.2,33.7h0.55M48.1,57.4h0.55M69.0,36.7h0.55M46.7,66.8h0.55M35.1,44.5h0.55M39.8,57.5h0.55M44.5,62.3h0.55M50.6,59.4h0.55M53.3,28.7h0.55M55.4,46.7h0.55M55.0,47.9h0.55M49.1,64.7h0.55M36.1,62.9h0.55M38.6,61.6h0.55M52.7,51.7h0.55M42.6,59.3h0.55M47.2,37.0h0.55M53.8,31.3h0.55M51.1,58.8h0.55M37.7,52.0h0.55M47.4,49.9h0.55M46.5,53.1h0.55M45.1,70.9h0.55M45.6,50.9h0.55M30.4,66.2h0.55M49.9,55.8h0.55M57.4,35.5h0.55M48.3,50.1h0.55M32.6,42.7h0.55M40.3,40.3h0.55M41.8,27.5h0.55M37.2,64.7h0.55M48.6,34.9h0.55M45.4,72.0h0.55M44.9,64.6h0.55M45.0,61.4h0.55M55.2,29.7h0.55M41.9,62.4h0.55M39.5,63.4h0.55M44.8,48.1h0.55M42.1,50.0h0.55M67.3,30.4h0.55M39.9,68.1h0.55M42.1,43.1h0.55M59.4,43.2h0.55M74.7,28.4h0.55M61.3,23.4h0.55M57.2,35.3h0.55M47.9,43.9h0.55M35.2,47.4h0.55M60.2,67.1h0.55M42.6,60.6h0.55M76.8,30.9h0.55M47.0,67.8h0.55M68.3,37.1h0.55M58.9,49.6h0.55M60.3,47.9h0.55M46.0,65.8h0.55M49.1,43.4h0.55M53.7,28.2h0.55M52.3,28.9h0.55M39.1,34.0h0.55M43.8,70.6h0.55M69.0,40.4h0.55M48.0,40.9h0.55M52.3,35.0h0.55M50.6,66.1h0.55M47.8,51.4h0.55M46.2,53.2h0.55M48.0,38.4h0.55M50.8,46.9h0.55M37.0,55.6h0.55M39.7,63.8h0.55M43.2,44.7h0.55M43.7,58.6h0.55M47.1,50.2h0.55M42.1,33.9h0.55M68.7,43.4h0.55M59.6,38.2h0.55M49.1,44.5h0.55M54.6,43.3h0.55M33.3,35.1h0.55M46.3,39.8h0.55M56.9,45.7h0.55M41.9,68.3h0.55M60.0,43.5h0.55M45.3,60.5h0.55M56.9,48.1h0.55M51.8,44.0h0.55M58.0,52.8h0.55M44.6,31.7h0.55M50.9,43.4h0.55M38.0,64.3h0.55M61.2,42.1h0.55M63.7,34.9h0.55M42.7,62.7h0.55M34.6,40.9h0.55M30.7,28.5h0.55M56.5,54.7h0.55M60.2,41.2h0.55M36.5,50.0h0.55M47.0,46.1h0.55M43.0,65.4h0.55M54.0,40.9h0.55M51.2,61.1h0.55M38.3,62.4h0.55M40.1,51.0h0.55M40.7,71.8h0.55M47.7,38.2h0.55M57.7,45.4h0.55M43.1,67.3h0.55M49.9,44.9h0.55M41.0,39.5h0.55M52.4,33.9h0.55M47.8,66.3h0.55M41.3,40.0h0.55M59.4,29.1h0.55M47.7,50.9h0.55M68.3,53.4h0.55M41.1,56.0h0.55M51.9,61.3h0.55M44.0,64.6h0.55M35.0,77.4h0.55M45.1,45.1h0.55M45.8,46.7h0.55M40.9,65.2h0.55M53.4,45.3h0.55M53.3,47.2h0.55M56.6,41.1h0.55M69.9,34.3h0.55M49.7,24.0h0.55M42.8,27.9h0.55M47.9,66.2h0.55M46.9,55.6h0.55M43.2,71.1h0.55M52.7,46.1h0.55M53.6,46.3h0.55M44.9,46.1h0.55M41.2,61.1h0.55M69.6,41.1h0.55M38.9,68.0h0.55M44.7,39.5h0.55M46.1,54.1h0.55M38.2,62.0h0.55M57.2,28.6h0.55M42.5,57.0h0.55M61.4,37.6h0.55M38.7,57.3h0.55M43.6,40.9h0.55M45.1,65.2h0.55M66.9,40.8h0.55M50.3,66.4h0.55M65.8,40.8h0.55M44.6,37.1h0.55M49.9,61.1h0.55M44.8,56.9h0.55M52.6,52.0h0.55M41.3,58.4h0.55M52.3,41.9h0.55M43.8,26.0h0.55M39.6,61.5h0.55M38.8,66.5h0.55M47.0,54.7h0.55M37.7,58.5h0.55M34.9,45.8h0.55M49.5,60.8h0.55M54.0,41.9h0.55M51.7,23.9h0.55M40.8,49.2h0.55M55.7,41.9h0.55M51.3,66.9h0.55M62.4,29.5h0.55M40.6,66.6h0.55M50.5,48.5h0.55M64.9,41.8h0.55M53.7,34.4h0.55M44.0,64.4h0.55M45.7,56.1h0.55M58.3,47.4h0.55M29.4,39.5h0.55M59.9,44.7h0.55M47.9,50.7h0.55M43.4,40.6h0.55M38.8,33.8h0.55M46.7,28.7h0.55M54.9,29.5h0.55M71.8,40.8h0.55M53.6,56.4h0.55M29.8,38.1h0.55M46.0,38.9h0.55M39.3,54.7h0.55M49.6,38.9h0.55M62.1,37.2h0.55M33.6,51.3h0.55M40.8,65.4h0.55M54.1,42.1h0.55M48.7,56.3h0.55M61.6,37.7h0.55M52.3,37.8h0.55M59.3,30.6h0.55M51.7,33.1h0.55M44.7,52.7h0.55M51.5,56.5h0.55M40.4,69.2h0.55M46.6,47.6h0.55M50.2,35.4h0.55M64.5,37.4h0.55M46.5,48.2h0.55M50.0,45.3h0.55M47.5,50.3h0.55M58.0,38.6h0.55M54.1,35.1h0.55M56.2,31.3h0.55M67.4,39.9h0.55M53.9,55.7h0.55M38.6,63.1h0.55M54.0,56.3h0.55M48.7,42.3h0.55M41.0,57.2h0.55M43.2,47.0h0.55M46.3,43.3h0.55M58.9,36.1h0.55M45.9,54.3h0.55M45.6,38.2h0.55M49.8,45.5h0.55M60.0,46.1h0.55M50.3,55.5h0.55M46.2,31.4h0.55M51.6,27.9h0.55M48.3,42.9h0.55M67.7,46.8h0.55M69.3,41.0h0.55M42.2,63.9h0.55M42.8,44.7h0.55M68.7,25.9h0.55M43.6,30.1h0.55M43.9,68.5h0.55M38.9,24.9h0.55M61.3,40.5h0.55M67.6,33.8h0.55M71.6,36.7h0.55M48.3,41.0h0.55M57.2,46.6h0.55M52.4,39.4h0.55M54.2,50.8h0.55M65.7,36.6h0.55M47.4,59.7h0.55M42.8,47.2h0.55M48.5,36.1h0.55M45.1,63.1h0.55M45.7,61.6h0.55M31.9,52.8h0.55M44.7,53.2h0.55M61.9,34.4h0.55M45.1,51.5h0.55M35.2,60.1h0.55M49.8,31.0h0.55M43.2,46.5h0.55M38.8,44.3h0.55M53.5,66.7h0.55M62.7,42.1h0.55M63.8,28.5h0.55M47.5,70.3h0.55M47.0,44.9h0.55M44.8,65.3h0.55M55.8,33.9h0.55M42.3,31.3h0.55M55.7,69.2h0.55M41.0,60.9h0.55M59.5,48.2h0.55M62.1,42.9h0.55M48.6,33.7h0.55M37.6,61.6h0.55M49.3,40.0h0.55M44.6,62.4h0.55M53.0,28.1h0.55M42.9,39.8h0.55M60.3,34.3h0.55M48.5,35.5h0.55M42.0,53.1h0.55M45.3,23.2h0.55M31.8,53.3h0.55M39.6,50.6h0.55M46.1,38.0h0.55M32.0,56.5h0.55M42.7,61.5h0.55M47.2,57.3h0.55M45.7,43.2h0.55M53.5,44.9h0.55M50.8,37.4h0.55M72.7,34.6h0.55M39.4,72.3h0.55M68.1,45.0h0.55M60.0,27.4h0.55M45.7,59.0h0.55M50.1,70.0h0.55M78.0,37.5h0.55M49.0,49.3h0.55M46.7,34.6h0.55M41.7,59.8h0.55M60.6,39.5h0.55M62.4,47.1h0.55M41.2,69.3h0.55M51.1,41.3h0.55M50.0,48.1h0.55M35.0,51.6h0.55M44.0,31.6h0.55M35.5,67.9h0.55M49.1,50.3h0.55M36.8,35.6h0.55M40.5,64.5h0.55M50.4,59.9h0.55M54.7,35.1h0.55M45.1,22.2h0.55M45.7,51.7h0.55M52.0,45.3h0.55M38.3,38.5h0.55M40.7,25.5h0.55M41.5,61.8h0.55M34.8,69.7h0.55M61.0,33.7h0.55M63.0,29.5h0.55M48.3,52.8h0.55M31.4,24.1h0.55M48.0,48.7h0.55M44.2,61.2h0.55M43.6,57.7h0.55M48.5,41.3h0.55M68.4,51.0h0.55M30.4,63.0h0.55M61.9,24.9h0.55M48.6,35.7h0.55M46.0,47.1h0.55M55.4,49.5h0.55M34.6,46.0h0.55M55.2,46.8h0.55M43.3,66.4h0.55M43.4,68.7h0.55M52.0,38.6h0.55M47.7,47.7h0.55M38.6,37.5h0.55M40.1,40.3h0.55M35.4,60.7h0.55M51.9,22.8h0.55M48.2,54.1h0.55M48.7,58.5h0.55M43.9,40.8h0.55M47.9,56.0h0.55M44.7,51.6h0.55M26.7,45.9h0.55M75.9,36.4h0.55M54.6,54.0h0.55M31.3,41.1h0.55M55.1,49.5h0.55M55.0,65.5h0.55M58.2,52.2h0.55M53.8,59.2h0.55M42.8,34.8h0.55M49.4,45.0h0.55M44.4,39.6h0.55M42.8,22.2h0.55M43.0,64.8h0.55M52.4,52.4h0.55M59.3,52.7h0.55M65.0,49.6h0.55M53.3,47.6h0.55M40.2,57.6h0.55M40.6,67.0h0.55M32.1,72.9h0.55M37.9,68.3h0.55M51.7,61.7h0.55M59.4,60.5h0.55M54.5,41.2h0.55M48.5,63.9h0.55M47.1,37.8h0.55M54.2,39.5h0.55M60.2,37.4h0.55M64.0,38.0h0.55M49.9,41.5h0.55M77.4,36.8h0.55M50.1,45.3h0.55M53.6,32.7h0.55M51.5,52.0h0.55M43.8,30.6h0.55M50.0,41.8h0.55M41.4,63.1h0.55M37.9,54.5h0.55M65.9,40.1h0.55M46.7,33.3h0.55M44.6,51.3h0.55M48.6,32.4h0.55M46.7,51.7h0.55M44.2,43.9h0.55M49.9,57.4h0.55M38.2,62.5h0.55M40.6,53.4h0.55M68.9,39.4h0.55M42.2,62.9h0.55M34.6,49.8h0.55M38.9,66.7h0.55M49.1,36.7h0.55M47.6,32.6h0.55M52.7,39.2h0.55M43.8,57.5h0.55M50.4,38.6h0.55M45.7,58.6h0.55M54.2,49.2h0.55M42.9,49.4h0.55M46.3,37.5h0.55M49.6,33.0h0.55M60.1,34.4h0.55M68.8,45.7h0.55M39.8,50.8h0.55M58.4,50.8h0.55M50.2,54.8h0.55M42.1,69.3h0.55M42.7,66.2h0.55M59.3,50.6h0.55M43.5,71.9h0.55M44.5,61.5h0.55M39.4,33.6h0.55M34.4,65.2h0.55M50.6,57.3h0.55M59.6,47.0h0.55M53.2,35.8h0.55M53.7,33.9h0.55M63.5,33.5h0.55M45.7,54.9h0.55M63.2,37.2h0.55M59.5,38.9h0.55M45.2,25.3h0.55M52.4,30.3h0.55M49.5,45.8h0.55M78.9,34.8h0.55M46.5,27.2h0.55M58.7,47.7h0.55M52.2,37.8h0.55M48.4,47.3h0.55M41.8,42.9h0.55M39.1,52.7h0.55M37.2,55.9h0.55M36.0,77.2h0.55M64.6,43.7h0.55M42.5,47.3h0.55M54.4,27.8h0.55M47.5,40.4h0.55M71.7,24.5h0.55M50.6,39.2h0.55M62.2,30.9h0.55M55.8,28.8h0.55M50.9,38.6h0.55M52.8,51.0h0.55M45.1,32.6h0.55M35.7,58.7h0.55M42.9,61.6h0.55M46.8,44.8h0.55M46.7,51.6h0.55M41.1,44.0h0.55M45.2,57.9h0.55M46.6,49.1h0.55M63.5,37.4h0.55M43.1,64.8h0.55M40.0,44.2h0.55M47.3,24.4h0.55M47.3,40.7h0.55M35.4,45.7h0.55M39.8,63.3h0.55M42.2,70.1h0.55M63.4,23.3h0.55M46.1,50.2h0.55M36.4,69.3h0.55M70.8,45.7h0.55M60.4,41.8h0.55M58.2,44.8h0.55M42.2,27.6h0.55M36.9,53.4h0.55M50.5,59.8h0.55M43.7,51.7h0.55M42.7,48.5h0.55M51.1,40.7h0.55M60.1,45.5h0.55M42.5,62.5h0.55M42.8,26.0h0.55M31.0,62.7h0.55M43.9,67.6h0.55M59.8,50.0h0.55M37.6,46.0h0.55M42.9,56.5h0.55M42.8,28.5h0.55M50.9,41.6h0.55M36.8,66.3h0.55M61.5,24.2h0.55M44.1,49.0h0.55M52.0,42.3h0.55M48.9,47.4h0.55M47.0,57.2h0.55M39.2,39.3h0.55M51.5,60.1h0.55M45.9,61.7h0.55M48.5,48.7h0.55M53.2,48.7h0.55M52.0,56.1h0.55M32.1,60.8h0.55M69.4,34.3h0.55M52.9,42.9h0.55M72.3,23.4h0.55M45.2,46.2h0.55M42.2,71.5h0.55M64.0,40.8h0.55M53.7,52.7h0.55M44.8,59.6h0.55M42.7,67.2h0.55M48.0,39.1h0.55M30.4,22.6h0.55M65.4,29.1h0.55M36.6,63.3h0.55M45.8,58.0h0.55M54.5,29.9h0.55M61.8,29.2h0.55M34.3,65.3h0.55M39.1,26.1h0.55M41.8,66.0h0.55M44.3,54.6h0.55M45.3,60.2h0.55M52.0,23.2h0.55M44.7,27.9h0.55M42.9,56.9h0.55M57.9,46.3h0.55M39.8,39.7h0.55M50.3,41.7h0.55M47.4,72.5h0.55M35.4,65.4h0.55M54.7,44.5h0.55M36.2,70.9h0.55M54.5,56.1h0.55M42.9,62.0h0.55M65.6,27.4h0.55M38.9,39.2h0.55M43.9,58.0h0.55M47.8,52.5h0.55M47.1,50.3h0.55M45.9,35.2h0.55M49.9,53.2h0.55M41.9,61.8h0.55M43.2,44.3h0.55M52.9,27.2h0.55M40.4,64.4h0.55M46.2,67.5h0.55M47.2,41.6h0.55M56.3,27.9h0.55M45.0,62.8h0.55M53.7,42.1h0.55M53.4,40.8h0.55M44.3,52.0h0.55M54.4,39.3h0.55M48.0,29.8h0.55M34.0,56.7h0.55M57.1,52.7h0.55M44.4,23.7h0.55M54.3,37.4h0.55M67.3,34.1h0.55M54.6,57.6h0.55M59.1,33.2h0.55M41.3,66.7h0.55M41.6,58.1h0.55M62.9,31.6h0.55M54.2,40.9h0.55M41.9,61.7h0.55M68.1,29.3h0.55M41.1,54.3h0.55M56.0,40.2h0.55M43.0,69.2h0.55M57.0,41.6h0.55M51.9,43.1h0.55M39.7,55.6h0.55M47.4,45.8h0.55M46.1,44.8h0.55M57.0,48.4h0.55M58.7,38.7h0.55M45.3,59.5h0.55M63.3,24.7h0.55M56.5,38.2h0.55M51.6,61.5h0.55M41.6,58.7h0.55M48.1,39.0h0.55M38.0,33.8h0.55M38.6,63.2h0.55M42.3,68.1h0.55M48.1,48.9h0.55M44.6,51.5h0.55M50.1,48.9h0.55M57.8,24.4h0.55M57.0,26.3h0.55M62.2,39.7h0.55M49.7,55.8h0.55M49.6,38.4h0.55M61.0,27.7h0.55M53.0,45.6h0.55M45.1,39.8h0.55M57.4,24.4h0.55M47.7,62.8h0.55M64.0,43.5h0.55M58.8,42.5h0.55M43.1,51.6h0.55M60.1,44.3h0.55M36.8,54.7h0.55M64.7,36.5h0.55M52.0,54.1h0.55M56.6,32.0h0.55M64.8,36.5h0.55M45.7,48.7h0.55M47.6,50.0h0.55M33.0,49.4h0.55M44.4,29.3h0.55M61.3,24.0h0.55M47.2,44.7h0.55M44.0,49.0h0.55M57.0,44.4h0.55M47.1,48.5h0.55M44.8,68.6h0.55M44.1,46.0h0.55M29.6,45.3h0.55M42.2,67.9h0.55M37.9,69.1h0.55M64.4,36.7h0.55M42.9,22.3h0.55M44.8,50.8h0.55M60.2,52.0h0.55M33.3,74.8h0.55M41.4,59.3h0.55M39.7,67.9h0.55M46.9,55.1h0.55M58.7,34.2h0.55M61.3,36.1h0.55M43.2,32.8h0.55M69.7,31.9h0.55M50.5,67.0h0.55M46.0,56.6h0.55M52.1,40.9h0.55M58.4,30.2h0.55M42.5,24.4h0.55M52.0,44.0h0.55M39.9,41.0h0.55M58.6,41.9h0.55M65.3,31.0h0.55M42.7,55.8h0.55M50.7,56.8h0.55M42.0,55.3h0.55M41.6,51.3h0.55M47.6,35.2h0.55M47.9,42.2h0.55M55.7,28.9h0.55M36.5,71.5h0.55M54.6,60.4h0.55M38.5,65.8h0.55M57.9,38.7h0.55M54.4,48.2h0.55M43.2,40.9h0.55M37.9,30.3h0.55M42.0,47.2h0.55M59.0,54.9h0.55M49.6,48.5h0.55M70.7,41.5h0.55M48.0,42.0h0.55M49.7,43.3h0.55M53.1,27.8h0.55M41.7,44.1h0.55M55.3,27.3h0.55M55.6,42.2h0.55M68.3,34.4h0.55M72.6,38.6h0.55M56.6,36.8h0.55M47.2,62.4h0.55M58.3,40.6h0.55M56.7,49.7h0.55M64.6,51.5h0.55M62.9,40.7h0.55M36.2,53.7h0.55M51.0,32.6h0.55M50.3,48.9h0.55M47.3,56.9h0.55M54.1,47.0h0.55M39.1,47.5h0.55M45.3,67.1h0.55M42.7,64.3h0.55M45.7,42.8h0.55M46.5,54.8h0.55M45.0,48.5h0.55M52.6,43.1h0.55M53.5,28.2h0.55M52.7,46.8h0.55M44.7,47.6h0.55M37.8,67.2h0.55M45.7,64.9h0.55M48.0,52.5h0.55M43.6,37.4h0.55M52.4,63.3h0.55M60.8,32.2h0.55M42.9,49.9h0.55M44.5,44.1h0.55M42.1,59.4h0.55M52.7,55.2h0.55M53.7,51.6h0.55M42.6,46.7h0.55M43.8,46.1h0.55M39.9,51.0h0.55M45.3,71.6h0.55M38.9,34.2h0.55M46.5,52.1h0.55M54.0,36.4h0.55M56.2,47.2h0.55M28.0,29.9h0.55M49.2,43.1h0.55M54.3,59.5h0.55M39.0,64.1h0.55M57.9,52.1h0.55M47.5,65.0h0.55M54.8,32.7h0.55M55.8,35.7h0.55M44.1,49.7h0.55M43.9,54.9h0.55M49.6,33.3h0.55M39.4,57.8h0.55M46.8,73.9h0.55M49.9,54.2h0.55M61.0,42.0h0.55M39.0,44.7h0.55M72.2,35.5h0.55M48.4,44.2h0.55M58.6,33.6h0.55M53.5,46.7h0.55M49.1,38.4h0.55M78.6,29.8h0.55M44.1,48.6h0.55M51.7,29.6h0.55M46.7,66.7h0.55M50.5,64.9h0.55M47.4,51.0h0.55M59.3,45.5h0.55M48.7,50.6h0.55M75.4,27.4h0.55M44.2,53.0h0.55M37.0,60.5h0.55M37.0,64.6h0.55M65.5,50.7h0.55M42.9,51.4h0.55M39.0,30.3h0.55M48.3,55.3h0.55M56.3,42.9h0.55M57.9,49.1h0.55M55.0,47.6h0.55M45.2,49.2h0.55M48.0,64.1h0.55M61.2,50.4h0.55M42.0,51.0h0.55M37.5,62.8h0.55M57.1,55.4h0.55M43.4,74.5h0.55M43.2,64.8h0.55M52.2,31.5h0.55M45.6,51.6h0.55M39.9,74.4h0.55M52.1,47.2h0.55M60.8,44.7h0.55M54.6,26.8h0.55M48.8,31.5h0.55M40.5,59.3h0.55M44.9,37.4h0.55M39.1,51.9h0.55M63.6,45.3h0.55" stroke="#555" stroke-width="0.55" opacity="0.28"/>
<ellipse cx="44" cy="58" rx="11" ry="11" fill="url(#gg)" opacity="1"/>
<ellipse cx="47" cy="62" rx="7" ry="6" fill="url(#gg)" opacity="1"/>
<path d="M39.6,51.7h0.60M41.1,61.8h0.60M36.7,56.2h0.60M38.4,62.2h0.60M40.9,52.9h0.60M42.4,45.0h0.60M40.9,60.0h0.60M45.7,58.8h0.60M42.8,48.3h0.60M39.4,48.2h0.60M43.0,56.2h0.60M33.0,50.0h0.60M43.9,47.8h0.60M40.3,58.3h0.60M41.8,44.5h0.60M39.9,56.0h0.60M36.3,64.3h0.60M45.5,48.9h0.60M47.0,52.3h0.60M44.4,56.9h0.60M49.9,51.0h0.60M43.6,59.0h0.60M36.2,57.7h0.60M50.0,61.5h0.60M39.3,52.6h0.60M46.4,59.1h0.60M49.9,53.6h0.60M51.9,47.4h0.60M42.2,52.8h0.60M36.4,61.8h0.60M38.5,56.1h0.60M47.0,63.7h0.60M42.5,49.6h0.60M32.7,53.6h0.60M42.3,63.7h0.60M36.6,69.1h0.60M51.9,41.8h0.60M36.0,58.4h0.60M37.9,59.5h0.60M54.6,55.0h0.60M51.1,58.6h0.60M35.7,52.8h0.60M47.3,53.0h0.60M50.9,52.4h0.60M38.5,60.5h0.60M42.8,51.0h0.60M40.0,59.1h0.60M45.0,66.9h0.60M49.6,58.3h0.60M35.4,51.6h0.60M43.2,47.9h0.60M40.1,53.6h0.60M39.5,60.9h0.60M34.9,60.5h0.60M40.0,59.7h0.60M50.7,49.5h0.60M50.6,53.5h0.60M40.4,62.7h0.60M50.4,46.8h0.60M39.3,62.5h0.60M41.7,54.3h0.60M37.4,65.6h0.60M42.6,48.0h0.60M39.1,49.5h0.60M40.0,56.8h0.60M46.7,43.9h0.60M33.6,56.3h0.60M48.9,47.8h0.60M53.0,41.3h0.60M49.7,63.1h0.60M33.7,55.1h0.60M43.2,52.0h0.60M41.2,52.9h0.60M44.2,49.1h0.60M38.0,57.5h0.60M48.1,47.5h0.60M35.3,64.0h0.60M40.0,66.8h0.60M39.6,45.8h0.60M38.9,38.6h0.60M43.6,47.6h0.60M39.6,48.5h0.60M38.8,59.9h0.60M49.5,44.9h0.60M49.0,55.7h0.60M38.0,52.9h0.60M44.5,45.4h0.60M50.1,54.3h0.60M38.0,57.3h0.60M47.4,61.3h0.60M37.0,56.1h0.60M45.4,59.5h0.60M46.1,53.2h0.60M46.7,44.2h0.60M42.4,46.4h0.60M37.6,64.5h0.60M36.7,42.3h0.60M38.5,52.7h0.60M49.0,52.3h0.60M35.2,61.2h0.60M42.0,59.1h0.60M47.6,51.9h0.60M44.9,51.2h0.60M38.7,54.5h0.60M47.5,47.7h0.60M37.0,57.4h0.60M40.7,59.5h0.60M43.1,49.3h0.60M43.4,60.3h0.60M27.8,55.1h0.60M36.9,57.8h0.60M49.2,56.2h0.60M37.3,54.8h0.60M40.7,58.8h0.60M35.5,53.9h0.60M43.6,61.2h0.60M41.0,63.8h0.60M35.0,61.2h0.60M45.8,49.1h0.60M40.0,56.2h0.60M39.3,64.2h0.60M44.3,52.1h0.60M51.9,57.1h0.60M35.9,59.3h0.60M42.6,49.2h0.60M34.1,60.5h0.60M37.3,53.6h0.60M40.7,52.9h0.60M38.2,54.4h0.60M41.3,62.9h0.60M44.0,46.9h0.60M35.9,52.2h0.60M27.9,58.7h0.60M41.7,55.9h0.60M38.2,48.3h0.60M36.9,57.9h0.60M38.5,58.2h0.60M49.8,43.8h0.60M37.3,62.6h0.60M39.5,54.9h0.60M45.1,47.0h0.60M51.3,58.3h0.60M45.9,53.4h0.60M44.3,65.0h0.60M44.0,63.3h0.60M40.7,65.2h0.60M43.2,56.7h0.60M47.9,50.9h0.60M29.2,55.3h0.60M44.7,50.9h0.60M43.7,48.5h0.60M38.0,54.6h0.60M40.0,60.6h0.60M39.7,58.9h0.60M46.9,51.9h0.60M37.1,47.5h0.60M42.5,51.2h0.60M53.0,54.9h0.60M46.2,51.1h0.60M48.5,48.4h0.60M45.3,58.0h0.60M43.9,46.7h0.60M50.5,54.6h0.60M55.0,42.5h0.60M31.7,64.3h0.60M49.2,58.6h0.60M44.3,60.8h0.60M40.1,55.2h0.60M41.2,44.4h0.60M40.3,59.9h0.60M46.2,47.6h0.60M45.2,57.2h0.60M45.9,54.7h0.60M37.8,61.2h0.60M51.1,50.1h0.60M34.6,59.1h0.60M43.3,56.1h0.60M35.0,59.6h0.60M42.1,56.8h0.60M45.1,52.5h0.60M43.2,56.7h0.60M43.8,58.9h0.60M38.8,48.1h0.60M37.4,61.9h0.60M36.0,61.0h0.60M43.8,62.7h0.60M51.2,59.3h0.60M39.7,63.4h0.60M40.7,62.1h0.60M37.3,63.8h0.60M49.1,43.6h0.60M47.0,55.9h0.60M39.2,51.5h0.60M37.4,61.8h0.60M43.5,55.3h0.60M44.6,49.4h0.60M40.7,50.9h0.60M44.5,47.3h0.60M37.4,60.7h0.60M43.8,55.9h0.60M44.1,54.2h0.60M34.5,58.4h0.60M49.6,62.6h0.60M37.5,72.0h0.60M35.5,56.1h0.60M41.4,52.7h0.60M35.4,51.4h0.60M48.3,45.7h0.60M42.5,51.6h0.60M36.0,57.2h0.60M47.5,60.9h0.60M43.9,61.9h0.60M40.0,58.6h0.60M48.6,54.9h0.60M45.4,46.1h0.60M36.7,46.4h0.60M44.6,59.1h0.60M39.2,63.9h0.60M30.7,60.4h0.60M40.0,60.2h0.60M50.0,52.6h0.60M37.2,56.0h0.60M43.4,51.3h0.60M43.6,50.3h0.60M43.6,52.9h0.60M52.0,51.8h0.60M44.1,56.7h0.60M51.3,52.0h0.60M35.0,65.1h0.60M40.4,51.4h0.60M43.2,48.2h0.60M42.5,67.0h0.60M43.5,50.1h0.60M34.5,56.7h0.60M38.2,57.5h0.60M33.3,47.8h0.60M43.3,58.9h0.60M29.4,51.5h0.60M42.5,55.2h0.60M41.9,51.7h0.60M41.0,58.6h0.60M29.0,49.0h0.60M46.4,55.5h0.60M49.7,51.5h0.60M47.0,64.8h0.60M32.2,71.6h0.60M43.2,67.8h0.60M37.4,52.1h0.60M40.8,62.6h0.60M46.1,47.1h0.60M47.5,56.4h0.60M44.7,53.9h0.60M45.5,46.2h0.60M46.5,52.4h0.60M33.5,54.3h0.60M39.0,61.0h0.60M48.9,49.0h0.60M41.2,54.7h0.60M45.4,48.6h0.60M39.4,61.4h0.60M42.8,66.6h0.60M52.5,40.7h0.60M42.4,51.1h0.60M45.7,56.8h0.60M42.0,58.8h0.60M37.1,63.3h0.60M47.0,63.7h0.60M38.9,55.6h0.60M43.9,61.5h0.60M36.4,59.8h0.60M43.2,60.1h0.60M40.3,54.1h0.60M34.2,51.2h0.60M41.0,52.4h0.60M41.8,52.5h0.60M42.0,55.8h0.60M39.8,53.1h0.60M40.2,58.0h0.60M44.8,53.7h0.60M43.4,43.2h0.60M35.7,55.2h0.60M33.5,63.4h0.60M42.4,52.4h0.60M42.9,51.4h0.60M39.2,54.3h0.60M35.7,53.1h0.60M44.2,49.2h0.60M45.1,59.3h0.60M48.4,53.0h0.60M40.4,45.3h0.60M41.1,40.2h0.60M49.8,55.1h0.60M44.3,52.1h0.60M36.8,64.7h0.60M37.7,45.6h0.60M45.2,49.6h0.60M41.0,64.5h0.60M43.4,61.5h0.60M38.4,61.0h0.60M42.2,46.1h0.60M41.6,53.0h0.60M49.9,51.2h0.60M48.9,52.4h0.60M41.8,42.0h0.60M46.1,45.9h0.60M42.7,55.8h0.60M46.0,42.2h0.60M38.5,56.9h0.60M32.7,56.0h0.60M43.6,51.7h0.60M40.9,59.5h0.60M44.2,50.1h0.60M47.2,52.3h0.60M40.6,61.8h0.60M42.7,67.5h0.60M45.7,57.9h0.60M40.6,55.8h0.60M35.4,74.8h0.60M47.1,51.1h0.60M52.9,48.0h0.60M49.8,48.9h0.60M39.0,49.8h0.60M44.8,46.0h0.60M44.8,55.5h0.60M50.5,51.2h0.60M32.6,55.9h0.60M38.2,60.7h0.60M36.1,42.8h0.60M36.6,67.5h0.60M42.5,40.7h0.60M36.0,63.0h0.60M52.4,49.5h0.60M44.9,42.3h0.60M41.4,47.4h0.60M40.4,63.0h0.60M52.8,57.3h0.60M44.7,58.0h0.60M36.8,67.4h0.60M40.3,66.2h0.60M40.7,61.0h0.60M44.3,55.4h0.60M40.3,51.2h0.60M43.2,52.7h0.60M42.7,50.0h0.60M46.2,55.1h0.60M42.1,53.4h0.60M48.9,54.2h0.60M50.3,52.3h0.60M46.4,61.8h0.60M38.7,57.0h0.60M49.4,51.2h0.60M40.2,56.6h0.60M42.0,52.8h0.60M41.2,57.0h0.60M40.8,65.8h0.60M32.1,72.8h0.60M35.5,65.6h0.60M45.7,45.7h0.60M41.2,52.0h0.60M52.3,44.4h0.60M39.8,53.0h0.60M43.5,58.8h0.60M46.0,55.7h0.60M37.5,62.2h0.60M47.9,60.7h0.60M45.1,50.0h0.60M49.4,61.5h0.60M49.2,46.1h0.60M37.4,71.4h0.60M41.9,53.4h0.60M48.8,56.8h0.60M39.8,68.8h0.60M39.7,47.6h0.60M44.4,57.1h0.60M42.7,54.1h0.60M41.5,57.5h0.60M40.9,52.4h0.60M46.1,48.7h0.60M50.2,42.1h0.60M45.0,55.5h0.60M33.3,61.3h0.60M31.2,65.8h0.60M35.5,61.3h0.60M37.0,65.0h0.60M38.1,61.1h0.60M46.2,42.7h0.60M42.2,58.8h0.60M38.7,66.3h0.60M43.2,44.7h0.60M45.1,51.2h0.60M41.6,54.8h0.60M35.5,60.3h0.60M36.3,66.0h0.60M39.9,62.1h0.60M42.8,50.3h0.60M42.4,48.5h0.60M43.4,56.8h0.60M42.1,43.3h0.60M43.9,41.9h0.60M42.9,43.8h0.60M48.3,49.1h0.60M40.0,53.2h0.60M40.9,57.7h0.60M43.2,60.5h0.60M36.9,62.2h0.60M45.6,51.3h0.60M51.5,50.4h0.60M40.2,63.8h0.60M41.5,57.4h0.60M40.5,59.5h0.60M42.9,55.5h0.60M50.4,44.5h0.60M43.9,53.6h0.60M49.1,60.6h0.60M37.4,57.9h0.60M43.9,46.9h0.60M39.4,57.7h0.60M43.7,63.9h0.60M43.4,54.4h0.60M39.3,63.0h0.60M38.1,62.1h0.60M38.8,53.5h0.60M43.1,60.9h0.60M44.3,52.2h0.60M36.0,48.9h0.60M39.8,50.9h0.60M50.6,53.2h0.60M45.5,56.5h0.60M37.2,53.6h0.60M48.5,49.0h0.60M38.4,50.5h0.60M46.7,52.6h0.60M42.4,58.7h0.60M40.7,57.9h0.60M47.7,56.2h0.60M46.4,49.0h0.60M39.4,53.0h0.60M47.3,52.3h0.60M33.7,58.2h0.60M59.1,43.3h0.60M37.4,53.8h0.60M46.7,50.0h0.60M40.1,62.6h0.60M38.8,59.1h0.60M45.2,49.4h0.60M41.3,50.0h0.60M44.0,64.8h0.60M47.6,45.7h0.60M41.2,51.6h0.60M34.3,51.3h0.60M47.0,47.3h0.60M41.6,51.4h0.60M47.5,62.6h0.60M44.8,57.0h0.60M34.2,58.4h0.60M44.9,41.7h0.60M45.9,54.2h0.60M40.5,58.2h0.60M39.9,57.2h0.60M48.1,55.4h0.60M40.5,54.5h0.60M45.8,53.7h0.60M44.3,50.9h0.60M40.1,58.3h0.60M39.3,52.4h0.60M38.2,47.9h0.60M40.8,58.5h0.60M38.2,52.5h0.60M37.4,55.3h0.60M41.8,58.3h0.60M45.3,45.7h0.60M43.7,45.6h0.60M39.5,53.4h0.60M48.2,53.0h0.60M38.3,54.9h0.60M28.0,63.6h0.60M32.9,58.5h0.60M43.1,62.9h0.60M39.5,59.4h0.60M37.8,60.4h0.60M41.8,48.7h0.60M44.8,52.9h0.60M47.2,50.9h0.60M45.9,49.4h0.60M35.3,68.3h0.60M41.3,45.3h0.60M36.3,50.6h0.60M49.8,55.2h0.60M46.2,55.6h0.60M33.6,66.4h0.60M51.7,45.5h0.60M36.9,55.8h0.60M45.2,54.8h0.60M41.7,59.0h0.60M37.7,60.6h0.60M36.4,58.2h0.60M45.0,58.0h0.60M40.7,54.3h0.60M32.5,52.5h0.60M42.2,39.8h0.60M47.7,50.7h0.60M43.3,56.0h0.60M37.7,46.1h0.60M39.6,57.4h0.60M46.0,47.3h0.60M39.6,54.7h0.60M38.3,49.9h0.60M46.0,40.7h0.60M46.3,63.7h0.60M37.4,60.1h0.60M33.4,62.6h0.60M40.1,55.2h0.60M39.4,54.5h0.60M43.2,55.8h0.60M36.5,58.2h0.60M44.2,56.0h0.60M48.3,52.3h0.60M47.5,56.4h0.60M49.3,55.0h0.60M40.4,55.9h0.60M42.1,66.0h0.60M42.3,49.6h0.60M41.4,64.2h0.60M45.7,54.3h0.60M47.1,57.2h0.60M40.9,59.2h0.60M46.4,39.8h0.60M40.8,59.9h0.60M42.2,59.2h0.60M39.6,61.8h0.60M38.1,64.5h0.60M39.9,60.1h0.60M39.0,55.9h0.60M43.3,56.7h0.60M48.0,58.1h0.60M45.4,59.3h0.60M48.9,51.4h0.60M37.8,60.4h0.60M37.6,56.0h0.60M43.7,57.3h0.60M42.2,59.2h0.60M39.9,57.1h0.60M41.3,51.2h0.60M36.0,51.4h0.60M35.2,52.1h0.60M46.0,48.6h0.60M41.4,56.9h0.60M43.3,48.7h0.60M40.4,57.4h0.60M40.0,68.8h0.60M33.2,53.5h0.60M45.6,51.8h0.60M37.2,68.7h0.60M38.5,63.8h0.60M47.5,54.2h0.60M29.5,58.0h0.60M53.2,46.8h0.60M43.3,50.3h0.60M42.6,55.8h0.60M48.2,53.4h0.60M54.6,47.9h0.60M35.0,72.2h0.60M39.8,58.8h0.60M30.5,74.8h0.60M46.6,54.5h0.60M33.8,52.8h0.60M50.9,43.6h0.60M38.4,57.6h0.60M33.1,49.4h0.60M39.6,43.7h0.60M40.3,62.9h0.60M48.5,53.0h0.60M49.2,44.9h0.60M34.6,55.7h0.60M43.4,47.9h0.60M35.3,50.1h0.60M56.7,46.5h0.60M34.6,60.1h0.60M36.2,47.6h0.60M39.0,62.2h0.60M36.4,66.3h0.60M42.2,54.3h0.60M42.7,58.0h0.60M38.9,46.3h0.60M40.1,56.7h0.60M39.3,48.3h0.60M38.1,55.8h0.60M38.5,58.0h0.60M46.2,50.0h0.60M44.5,46.7h0.60M40.1,60.3h0.60M43.3,42.1h0.60M44.9,54.1h0.60M40.5,57.8h0.60M40.8,61.5h0.60M46.6,40.3h0.60M41.0,52.2h0.60M39.2,56.7h0.60M37.2,62.7h0.60M39.5,53.8h0.60M34.4,67.7h0.60M41.2,46.9h0.60M38.3,59.1h0.60M42.6,53.9h0.60M42.3,39.2h0.60M41.9,53.1h0.60M47.9,60.6h0.60M40.8,61.9h0.60M42.1,45.6h0.60M36.2,63.7h0.60M47.6,53.2h0.60M34.3,58.6h0.60M49.6,50.1h0.60M50.7,53.1h0.60M45.6,55.1h0.60M42.5,50.5h0.60M42.9,60.2h0.60M46.0,54.7h0.60M32.3,67.0h0.60M49.4,57.0h0.60M33.0,62.3h0.60M42.4,55.6h0.60M44.4,58.8h0.60M36.6,67.8h0.60M32.6,55.6h0.60M37.9,53.6h0.60M40.5,56.4h0.60M30.3,54.9h0.60M52.5,56.7h0.60M43.8,60.6h0.60M44.7,52.4h0.60M43.7,57.9h0.60M45.3,62.9h0.60M47.8,35.3h0.60M46.6,60.9h0.60M44.5,51.5h0.60M48.1,68.1h0.60M43.5,52.9h0.60M40.3,64.7h0.60M41.3,61.9h0.60M42.0,57.7h0.60M36.6,53.4h0.60M42.4,54.6h0.60M40.1,56.5h0.60M40.3,52.7h0.60M29.9,67.2h0.60M42.0,45.7h0.60M41.1,51.4h0.60M44.9,37.6h0.60M45.6,64.5h0.60M38.8,57.8h0.60M42.3,42.7h0.60M41.6,59.3h0.60M39.3,53.7h0.60M30.0,48.4h0.60M45.8,58.1h0.60M41.0,59.0h0.60M37.4,42.9h0.60M36.2,54.1h0.60M45.0,41.9h0.60M46.1,55.5h0.60M40.1,69.6h0.60M39.1,43.8h0.60M42.2,65.9h0.60M42.5,58.0h0.60M42.9,60.5h0.60M34.7,57.3h0.60M47.2,54.3h0.60M39.7,50.2h0.60M38.1,57.2h0.60M45.1,56.6h0.60M46.0,43.2h0.60M43.2,47.9h0.60M38.7,56.1h0.60M32.3,77.5h0.60M40.0,50.0h0.60M38.1,51.2h0.60M37.9,60.8h0.60M31.4,57.1h0.60M46.1,52.9h0.60M38.6,54.9h0.60M44.6,55.0h0.60M41.3,54.8h0.60M36.8,54.7h0.60M44.2,56.4h0.60M37.4,52.9h0.60M40.6,56.8h0.60M37.9,59.4h0.60M44.0,62.3h0.60M39.4,63.1h0.60M42.3,53.9h0.60M36.1,52.4h0.60M49.7,51.3h0.60M48.9,48.5h0.60M37.9,67.0h0.60M45.6,47.8h0.60M43.6,54.6h0.60M46.7,53.2h0.60M36.4,48.7h0.60M41.4,62.6h0.60M43.0,55.7h0.60M45.3,55.1h0.60M39.5,55.6h0.60M47.9,53.9h0.60M45.9,51.9h0.60M38.5,54.7h0.60M39.1,47.2h0.60M38.9,49.0h0.60M31.5,67.8h0.60M44.2,56.6h0.60M43.5,37.7h0.60M45.6,51.9h0.60M47.4,54.5h0.60M38.5,48.6h0.60M39.9,43.3h0.60M46.4,53.0h0.60M46.4,52.8h0.60M42.6,51.1h0.60M41.7,49.9h0.60M48.2,57.5h0.60M29.2,61.9h0.60M43.8,64.3h0.60M42.0,53.8h0.60M39.7,54.9h0.60M43.9,55.9h0.60M41.4,47.5h0.60M43.8,68.6h0.60M38.8,48.7h0.60M40.1,58.6h0.60M40.8,56.3h0.60M40.1,62.8h0.60M33.5,59.3h0.60M42.2,59.2h0.60M36.5,50.7h0.60M39.1,58.5h0.60M42.7,60.5h0.60M33.1,60.3h0.60M39.5,60.9h0.60M43.9,50.6h0.60M50.7,64.0h0.60M46.4,53.6h0.60M37.8,61.4h0.60M38.7,66.6h0.60M49.9,50.6h0.60M32.4,59.2h0.60M45.1,54.5h0.60M42.4,51.0h0.60M49.7,57.4h0.60M33.7,58.0h0.60M40.6,57.0h0.60M40.5,54.0h0.60M32.8,54.7h0.60M40.2,51.4h0.60M39.6,63.5h0.60M33.6,50.1h0.60M41.2,62.3h0.60M37.3,55.2h0.60M40.9,61.5h0.60M39.9,52.7h0.60M36.6,61.0h0.60M47.6,54.3h0.60M40.7,56.1h0.60M38.6,52.6h0.60M43.2,61.4h0.60M41.0,49.7h0.60M45.6,45.8h0.60M42.8,56.3h0.60M37.2,51.1h0.60M40.0,52.1h0.60M34.5,61.7h0.60M35.8,57.8h0.60M38.6,64.2h0.60M41.7,54.9h0.60M47.5,43.7h0.60M52.3,58.3h0.60M43.8,47.6h0.60M36.8,64.6h0.60M37.6,56.3h0.60M43.4,62.7h0.60M45.2,43.7h0.60M41.9,59.3h0.60M41.8,51.8h0.60M53.5,48.8h0.60M41.5,50.4h0.60M37.5,47.9h0.60M35.1,61.1h0.60M38.7,43.4h0.60M47.3,46.2h0.60M35.5,47.5h0.60M39.7,46.8h0.60M40.0,57.5h0.60M40.0,52.1h0.60M45.2,55.5h0.60M46.5,52.9h0.60M40.3,63.7h0.60M27.8,70.5h0.60M41.5,52.4h0.60M39.9,57.5h0.60M36.9,53.0h0.60M35.5,62.5h0.60M33.0,55.7h0.60M42.7,49.9h0.60M43.1,53.9h0.60M41.4,56.6h0.60M47.9,54.9h0.60M56.3,42.0h0.60M45.9,65.8h0.60M47.7,59.2h0.60M45.9,49.5h0.60M50.6,50.6h0.60M38.7,53.5h0.60M41.9,57.5h0.60M38.1,50.8h0.60M40.6,63.1h0.60M43.8,59.0h0.60M42.3,51.3h0.60M40.1,53.5h0.60M45.4,53.0h0.60M53.1,52.9h0.60M45.8,55.4h0.60M42.4,52.5h0.60M49.0,56.2h0.60M43.8,56.8h0.60M43.3,60.0h0.60M50.6,53.8h0.60M33.8,63.7h0.60M46.9,57.9h0.60M40.0,56.0h0.60M49.3,52.9h0.60M47.9,57.5h0.60M41.5,52.0h0.60M32.5,53.0h0.60M38.1,49.2h0.60M37.6,54.8h0.60M44.7,56.7h0.60M41.5,57.9h0.60M46.8,61.6h0.60M48.4,57.7h0.60M45.1,51.8h0.60M46.7,51.1h0.60M45.6,52.2h0.60M37.0,61.7h0.60M40.3,60.1h0.60M46.1,43.4h0.60M48.4,56.8h0.60M36.6,59.5h0.60M39.3,48.5h0.60M48.5,53.1h0.60M47.3,55.4h0.60M40.8,55.1h0.60M36.9,60.5h0.60M46.1,57.5h0.60M42.8,59.5h0.60M53.1,48.8h0.60M43.5,62.5h0.60M40.6,54.6h0.60M37.0,61.8h0.60M35.5,56.5h0.60M45.5,60.9h0.60M41.2,51.4h0.60M36.1,44.9h0.60M49.0,51.5h0.60M35.9,50.5h0.60M34.6,55.0h0.60M35.7,59.1h0.60M45.4,46.4h0.60M40.5,49.7h0.60M35.0,60.9h0.60M36.8,55.3h0.60M37.9,57.5h0.60M40.4,43.0h0.60M40.0,64.6h0.60M37.1,50.6h0.60M42.4,48.5h0.60M45.7,57.2h0.60M36.9,51.2h0.60M49.3,53.4h0.60M42.1,49.2h0.60M44.1,52.1h0.60M47.8,51.8h0.60M34.7,55.0h0.60M31.6,43.4h0.60M42.3,57.1h0.60M40.8,51.3h0.60M39.1,52.5h0.60M38.5,57.5h0.60M40.4,58.4h0.60M49.3,56.5h0.60M39.7,56.8h0.60M51.4,56.9h0.60M45.5,65.4h0.60M33.5,43.9h0.60M36.8,55.6h0.60M47.1,57.9h0.60M36.5,68.3h0.60M37.3,68.6h0.60M33.7,63.2h0.60M46.6,39.6h0.60" stroke="#222" stroke-width="0.60" opacity="0.35" fill="none"/>
<path d="M57.8,60.3h0.60M61.7,64.9h0.60M65.4,64.0h0.60M58.2,68.8h0.60M67.9,62.2h0.60M59.1,61.9h0.60M60.8,59.4h0.60M61.9,59.6h0.60M65.1,59.6h0.60M64.4,63.3h0.60M62.8,64.0h0.60M56.8,71.8h0.60M58.5,64.8h0.60M62.0,60.4h0.60M70.6,66.2h0.60M60.6,64.2h0.60M65.3,68.0h0.60M67.0,61.4h0.60M60.7,57.7h0.60M63.2,65.3h0.60M60.0,64.6h0.60M62.6,60.3h0.60M55.8,66.3h0.60M74.6,64.1h0.60M56.5,58.2h0.60M63.2,64.5h0.60M69.5,52.9h0.60M71.2,62.7h0.60M62.6,63.5h0.60M60.2,61.0h0.60M67.2,55.5h0.60M61.4,64.2h0.60M53.7,61.5h0.60M69.6,63.5h0.60M65.5,64.7h0.60M63.0,63.4h0.60M57.9,61.3h0.60M71.2,57.4h0.60M61.1,57.3h0.60M59.3,59.1h0.60M55.8,63.0h0.60M57.2,64.1h0.60M71.0,52.4h0.60M61.1,54.1h0.60M61.3,63.5h0.60M63.0,66.6h0.60M62.7,55.5h0.60M69.5,58.5h0.60M61.5,63.3h0.60M57.6,62.4h0.60M69.4,55.7h0.60M53.6,60.4h0.60M61.1,57.2h0.60M50.4,65.5h0.60M63.9,57.0h0.60M64.8,61.8h0.60M62.8,57.0h0.60M60.9,63.9h0.60M53.2,58.1h0.60M66.8,69.6h0.60M65.3,61.8h0.60M56.5,60.5h0.60M60.7,63.7h0.60M60.7,71.5h0.60M68.6,53.7h0.60M56.1,62.0h0.60M66.9,63.6h0.60M48.2,55.8h0.60M68.7,64.3h0.60M74.8,65.1h0.60M64.3,67.9h0.60M59.7,60.0h0.60M56.9,63.0h0.60M64.2,65.6h0.60M69.2,64.4h0.60M68.1,61.1h0.60M57.2,64.8h0.60M67.1,67.2h0.60M61.2,60.3h0.60M60.2,63.4h0.60M61.7,61.3h0.60M63.3,60.9h0.60M63.7,59.8h0.60M54.2,60.9h0.60M71.5,58.9h0.60M66.6,67.2h0.60M59.3,63.0h0.60M50.5,64.2h0.60M69.7,62.8h0.60M52.0,59.8h0.60M58.3,62.5h0.60M63.4,60.5h0.60M60.4,58.9h0.60M64.9,62.8h0.60M63.7,60.1h0.60M64.5,60.9h0.60M63.5,61.4h0.60M58.7,57.8h0.60M52.6,56.8h0.60M64.3,74.5h0.60M53.8,58.9h0.60M61.9,75.7h0.60M61.0,57.6h0.60M64.1,70.0h0.60M48.0,57.5h0.60M68.2,57.6h0.60M61.5,59.6h0.60M65.8,56.4h0.60M63.5,62.9h0.60M64.8,63.7h0.60M62.8,55.2h0.60M60.4,58.4h0.60M64.7,61.1h0.60M62.8,66.3h0.60M61.5,68.5h0.60M66.2,56.3h0.60M59.1,66.7h0.60M59.5,66.6h0.60M59.2,61.6h0.60M67.1,55.9h0.60M62.4,60.3h0.60M62.8,68.6h0.60M64.5,56.8h0.60M66.8,60.3h0.60M62.8,66.5h0.60M60.4,65.7h0.60M62.9,58.5h0.60M60.4,56.8h0.60M67.9,62.6h0.60M66.8,57.7h0.60M66.2,57.4h0.60M63.4,62.0h0.60M59.0,63.2h0.60M62.2,58.7h0.60M58.3,57.0h0.60M68.9,62.6h0.60M60.2,64.7h0.60M57.7,57.5h0.60M63.8,68.1h0.60M63.5,62.6h0.60M70.7,56.0h0.60M77.3,57.8h0.60M61.6,56.8h0.60M55.9,61.1h0.60M74.2,58.4h0.60M58.9,63.1h0.60M56.9,61.0h0.60M66.1,53.6h0.60M60.5,60.9h0.60M59.4,61.6h0.60M53.0,60.3h0.60M59.4,58.0h0.60M68.3,69.8h0.60M66.0,58.7h0.60M69.1,63.9h0.60M57.9,64.3h0.60M59.1,64.2h0.60M66.6,66.5h0.60M56.7,61.5h0.60M62.0,57.3h0.60M64.1,64.7h0.60M55.1,59.9h0.60M56.5,57.1h0.60M56.7,67.3h0.60M58.7,60.5h0.60M66.9,66.0h0.60M69.0,54.0h0.60M65.8,55.2h0.60M58.8,60.4h0.60M59.1,69.6h0.60M61.2,66.6h0.60M61.1,61.8h0.60M64.6,63.7h0.60M64.5,55.3h0.60M64.5,63.2h0.60M65.0,61.8h0.60M64.0,56.9h0.60M67.7,57.3h0.60M69.0,65.9h0.60M61.7,60.9h0.60M65.9,60.8h0.60M56.1,63.1h0.60M55.9,60.2h0.60M71.0,65.1h0.60M59.7,61.7h0.60M58.8,62.0h0.60M54.8,64.7h0.60M62.1,59.6h0.60M58.9,72.2h0.60M59.8,60.1h0.60M59.1,60.1h0.60M68.5,64.6h0.60M64.1,63.4h0.60M56.3,52.6h0.60M69.6,64.8h0.60M63.1,63.1h0.60M63.0,62.1h0.60M60.7,53.3h0.60M64.8,62.2h0.60M66.9,63.2h0.60M60.6,64.3h0.60M62.9,60.3h0.60M60.1,60.4h0.60M60.5,60.3h0.60M66.9,73.4h0.60M61.4,66.4h0.60M52.1,49.4h0.60M59.6,61.4h0.60M58.3,56.7h0.60M57.7,60.0h0.60M62.8,60.7h0.60M56.0,60.6h0.60M69.6,58.6h0.60M62.3,65.9h0.60M58.0,59.8h0.60M76.5,66.8h0.60M59.4,62.6h0.60M62.5,62.6h0.60M64.3,60.8h0.60M50.9,58.3h0.60M62.8,56.7h0.60M60.4,67.8h0.60M63.2,59.4h0.60M62.7,66.1h0.60M53.4,57.1h0.60M58.7,60.3h0.60M61.6,59.7h0.60M62.5,62.3h0.60M56.2,59.6h0.60M55.8,63.1h0.60M63.3,64.5h0.60M57.6,59.9h0.60M50.9,62.0h0.60M53.9,63.3h0.60M67.4,63.7h0.60M65.1,62.9h0.60M63.9,65.6h0.60M68.3,69.8h0.60M60.7,65.2h0.60M66.3,63.7h0.60M63.3,57.1h0.60M67.4,58.6h0.60M58.7,58.7h0.60M64.8,58.2h0.60M64.3,64.2h0.60M62.5,60.7h0.60M65.0,67.1h0.60M59.7,57.9h0.60M59.0,58.6h0.60M60.8,61.4h0.60M50.5,67.7h0.60M57.9,60.3h0.60M52.2,54.4h0.60M56.9,62.9h0.60M66.2,55.0h0.60M63.1,67.9h0.60M60.6,65.6h0.60M63.6,58.4h0.60M67.0,59.6h0.60M63.8,60.4h0.60M60.9,62.6h0.60M68.6,55.5h0.60M56.4,62.4h0.60M66.9,61.3h0.60M61.1,64.0h0.60M69.9,58.5h0.60M54.0,60.9h0.60M65.8,56.9h0.60M67.6,65.6h0.60M65.9,58.7h0.60M55.5,64.5h0.60M63.3,64.7h0.60M55.3,50.5h0.60M67.6,65.9h0.60M60.6,62.0h0.60M64.3,64.9h0.60M61.1,60.0h0.60M57.1,66.0h0.60M62.5,48.8h0.60M63.7,59.8h0.60M55.6,60.0h0.60M55.6,60.3h0.60M59.3,64.0h0.60M56.9,54.9h0.60M59.0,56.7h0.60M65.7,61.2h0.60M53.7,58.6h0.60M61.9,61.8h0.60M52.8,61.5h0.60M63.5,65.8h0.60M67.5,61.5h0.60M55.5,60.5h0.60M65.2,58.4h0.60M68.3,58.3h0.60M56.4,65.2h0.60M61.5,63.2h0.60M60.5,62.1h0.60M59.1,69.3h0.60M65.3,61.5h0.60M64.4,65.2h0.60" stroke="#333" stroke-width="0.60" opacity="0.3" fill="none"/>
<path d="M35.6,64.5 C42,63.6 51,63.8 55.5,65.5 C58,67.5 56,71 51,73 C45,75 38,75 36,73.5 Z" fill="#000"/>
<ellipse cx="45" cy="69" rx="12.5" ry="6.5" fill="url(#gk)" opacity="0.7"/>
<circle cx="54.3" cy="57.7" r="7.2" fill="#000"/>
<ellipse cx="54.3" cy="57.7" rx="9.3" ry="9.3" fill="url(#gk)" opacity="1"/>
<circle cx="54.3" cy="57.7" r="8.8" fill="none" stroke="#a82838" stroke-width="1.25"/>
<line x1="63.2" y1="58.3" x2="87.5" y2="58.3" stroke="#000" stroke-width="0.6"/>
<path d="M90,58.3 L87,56.65 L87,59.949999999999996 Z" fill="#000"/>
<text transform="translate(22.8 78.6) rotate(-90) scale(0.1)" font-size="60.00" font-weight="bold" fill="#111" text-anchor="start">SSC-A</text>
<line x1="19.8" y1="56" x2="19.8" y2="38.7" stroke="#000" stroke-width="0.6"/>
<path d="M19.8,36.2 L18.150000000000002,39.2 L21.45,39.2 Z" fill="#000"/>
<text transform="translate(25.8 87) scale(0.1)" font-size="60.00" font-weight="bold" fill="#111" text-anchor="start">FSC-A</text>
<line x1="46.6" y1="84.3" x2="66.5" y2="84.3" stroke="#000" stroke-width="0.6"/>
<path d="M69,84.3 L66,82.64999999999999 L66,85.95 Z" fill="#000"/>
<rect x="102.4" y="21.4" width="57.5" height="56.5" fill="none" stroke="#999" stroke-width="0.6"/>
<path d="M112.6,52.1h0.60M116.6,47.4h0.60M111.2,49.7h0.60M113.8,48.4h0.60M104.8,51.5h0.60M119.1,51.4h0.60M124.9,56.4h0.60M113.5,46.7h0.60M118.2,48.6h0.60M106.6,51.8h0.60M113.9,49.6h0.60M118.9,52.2h0.60M126.6,46.3h0.60M115.0,52.9h0.60M113.1,47.8h0.60M125.1,41.9h0.60M117.4,40.0h0.60M117.4,38.9h0.60M109.1,58.1h0.60M123.9,51.8h0.60M116.8,44.0h0.60M113.5,42.7h0.60M115.0,50.4h0.60M116.2,56.0h0.60M112.0,37.1h0.60M109.1,43.1h0.60M113.5,48.2h0.60M115.3,59.6h0.60M115.6,44.2h0.60M113.8,45.5h0.60M114.2,54.6h0.60M109.3,55.4h0.60M125.3,60.5h0.60M124.4,51.6h0.60M108.1,63.6h0.60M115.2,52.4h0.60M113.5,45.1h0.60M118.9,42.2h0.60M108.0,54.5h0.60M113.4,45.7h0.60M118.2,59.9h0.60M113.9,50.1h0.60M118.6,56.9h0.60M121.2,55.2h0.60M111.9,54.3h0.60M115.5,40.4h0.60M122.3,54.6h0.60M123.0,50.6h0.60M119.5,50.6h0.60M116.4,56.7h0.60M115.8,54.8h0.60M115.3,58.7h0.60M119.1,40.6h0.60M124.6,53.7h0.60M112.7,47.1h0.60M126.4,51.6h0.60M118.3,54.7h0.60M112.2,61.9h0.60M127.0,46.1h0.60M121.7,40.8h0.60M113.7,51.4h0.60M115.8,54.6h0.60M117.7,53.3h0.60M114.8,52.9h0.60M112.5,63.3h0.60M115.8,58.7h0.60M116.1,50.1h0.60M114.5,42.9h0.60M126.9,53.6h0.60M116.2,48.1h0.60M122.5,48.9h0.60M113.0,47.6h0.60M123.9,52.9h0.60M114.7,47.0h0.60M122.5,52.8h0.60M113.7,56.6h0.60M120.3,44.8h0.60M121.8,57.8h0.60M114.2,42.7h0.60M121.5,48.9h0.60M114.4,49.2h0.60M114.0,56.2h0.60M109.6,54.3h0.60M121.8,57.6h0.60M119.5,52.7h0.60M114.5,50.3h0.60M110.7,61.4h0.60M114.9,44.7h0.60M120.1,60.4h0.60M117.0,49.0h0.60M109.5,55.0h0.60M114.2,46.9h0.60M118.8,43.0h0.60M119.5,35.9h0.60M112.2,42.1h0.60M114.2,56.0h0.60M108.5,59.5h0.60M111.8,48.0h0.60M120.9,46.5h0.60M123.4,49.7h0.60M115.0,45.0h0.60M121.8,50.6h0.60M112.9,45.1h0.60M112.1,50.4h0.60M111.7,55.9h0.60M115.4,47.2h0.60M118.0,59.8h0.60M104.3,53.2h0.60M121.4,51.9h0.60M120.0,41.5h0.60M111.5,57.3h0.60M115.1,51.4h0.60M119.0,53.3h0.60M118.0,47.9h0.60M113.9,59.1h0.60M112.9,42.1h0.60M113.7,56.5h0.60M125.3,51.9h0.60M112.2,54.8h0.60M117.2,58.3h0.60M118.4,55.7h0.60M118.3,53.6h0.60M110.7,50.0h0.60M124.2,59.2h0.60M120.8,53.4h0.60M115.0,53.2h0.60M113.8,57.7h0.60M113.9,46.3h0.60M106.9,60.6h0.60M111.5,45.7h0.60M117.8,62.1h0.60M119.2,49.0h0.60M118.6,45.9h0.60M114.3,51.2h0.60M115.7,55.8h0.60M118.5,62.6h0.60M120.1,49.3h0.60M117.0,45.8h0.60M112.3,48.9h0.60M121.1,46.8h0.60M107.3,44.8h0.60M109.2,49.9h0.60M114.0,43.8h0.60M111.4,48.5h0.60M117.7,54.8h0.60M122.7,49.4h0.60M119.0,51.5h0.60M109.8,47.1h0.60M127.4,50.0h0.60M124.5,56.1h0.60M124.6,49.9h0.60M120.7,49.2h0.60M109.7,43.8h0.60M118.0,41.1h0.60M117.6,45.7h0.60M117.6,42.6h0.60M120.2,49.6h0.60M107.5,42.2h0.60M116.0,41.0h0.60M117.4,54.0h0.60M112.2,59.6h0.60M123.4,52.9h0.60M118.1,53.9h0.60M114.3,59.1h0.60M112.8,35.6h0.60M115.8,53.7h0.60M120.1,44.2h0.60M123.1,46.0h0.60M119.1,55.5h0.60M116.7,58.0h0.60M113.1,63.6h0.60M118.3,48.4h0.60M129.6,51.0h0.60M107.1,59.7h0.60M123.9,47.5h0.60M110.4,57.9h0.60M116.0,45.1h0.60M113.2,51.4h0.60M120.9,60.6h0.60M112.4,60.4h0.60M107.7,55.4h0.60M115.0,53.7h0.60M113.4,46.6h0.60M117.2,58.0h0.60M103.9,51.3h0.60M113.6,44.4h0.60M108.6,54.2h0.60M118.7,55.0h0.60M105.1,41.7h0.60M112.5,48.4h0.60M125.1,48.6h0.60M116.4,57.1h0.60M124.6,53.3h0.60M117.5,62.9h0.60M113.6,40.0h0.60M111.7,49.1h0.60M122.7,53.0h0.60M122.1,51.6h0.60M116.0,47.5h0.60M109.2,54.1h0.60M117.7,54.5h0.60M112.9,48.4h0.60M117.7,54.8h0.60M126.3,45.6h0.60M121.0,56.5h0.60M114.3,51.9h0.60M115.4,60.4h0.60M129.3,53.0h0.60M114.4,56.9h0.60M118.4,49.9h0.60M119.7,56.4h0.60M113.6,56.3h0.60M103.8,43.1h0.60M114.1,52.0h0.60M108.0,60.1h0.60M113.7,51.9h0.60M115.5,55.7h0.60M112.7,55.6h0.60M111.3,41.9h0.60M118.5,52.0h0.60M120.4,39.1h0.60M116.3,47.1h0.60M114.7,48.6h0.60M113.7,46.9h0.60M121.2,40.4h0.60M106.8,53.1h0.60M126.4,46.3h0.60M110.9,43.8h0.60M110.3,58.7h0.60M119.4,56.6h0.60M117.6,52.5h0.60M112.6,45.0h0.60M119.0,66.3h0.60M113.8,58.8h0.60M112.0,51.3h0.60M124.8,50.6h0.60M119.1,47.6h0.60M125.7,43.4h0.60M118.7,49.5h0.60M116.8,53.2h0.60M122.7,56.4h0.60M121.3,53.3h0.60M110.1,59.3h0.60M123.9,54.0h0.60M120.0,49.6h0.60M108.1,57.1h0.60M111.9,62.8h0.60M119.4,50.9h0.60M112.5,51.7h0.60M110.4,48.7h0.60M124.2,49.2h0.60M125.5,50.4h0.60M117.9,45.3h0.60M114.1,48.3h0.60M108.3,63.0h0.60M118.9,50.5h0.60M109.9,51.2h0.60M110.1,45.0h0.60M114.7,64.4h0.60M106.5,54.5h0.60M112.8,33.1h0.60M108.2,50.2h0.60M116.0,46.4h0.60M125.2,54.3h0.60M112.4,40.8h0.60M116.6,46.9h0.60M121.2,44.6h0.60M122.1,48.2h0.60M116.7,49.3h0.60M119.0,58.1h0.60M112.8,45.4h0.60M125.8,56.9h0.60M125.9,56.9h0.60M116.4,61.1h0.60M112.1,48.4h0.60M113.6,55.3h0.60M111.2,49.9h0.60M111.2,49.6h0.60M121.7,57.9h0.60M114.5,66.8h0.60M111.9,53.8h0.60M113.1,37.3h0.60M109.4,58.7h0.60M106.9,69.1h0.60M115.0,52.7h0.60M122.4,51.2h0.60M112.3,47.2h0.60M110.7,54.4h0.60M113.2,54.2h0.60M107.7,48.3h0.60M126.7,53.3h0.60M115.1,58.4h0.60M117.2,60.5h0.60M109.5,55.8h0.60M110.0,55.2h0.60M128.8,60.5h0.60M111.1,53.6h0.60M118.1,46.5h0.60M117.0,44.4h0.60M120.8,56.7h0.60M114.8,55.3h0.60M128.4,50.0h0.60M105.7,53.1h0.60M113.2,46.2h0.60M120.5,57.2h0.60M118.9,61.2h0.60M112.3,48.4h0.60M117.9,34.2h0.60M114.5,51.4h0.60M110.5,52.4h0.60M121.3,47.1h0.60M118.7,50.1h0.60M114.8,51.7h0.60M123.7,54.3h0.60M119.3,51.9h0.60M104.2,56.9h0.60M115.5,51.6h0.60M112.9,41.4h0.60M123.6,62.4h0.60M124.1,39.6h0.60M118.6,43.7h0.60M114.6,47.8h0.60M112.3,46.2h0.60M113.1,55.8h0.60M124.3,56.8h0.60M115.6,50.1h0.60M114.3,50.9h0.60M112.3,49.9h0.60M120.2,49.6h0.60M111.3,50.3h0.60M116.1,50.5h0.60M114.2,55.4h0.60M115.4,44.7h0.60M118.7,46.6h0.60M119.8,56.1h0.60M118.2,52.9h0.60M108.4,49.8h0.60M116.3,55.0h0.60M109.6,50.1h0.60M107.4,52.1h0.60M116.0,51.8h0.60M124.5,55.6h0.60M114.6,47.4h0.60M113.2,55.9h0.60M120.5,47.9h0.60M115.0,48.3h0.60M119.3,52.2h0.60M111.7,45.5h0.60M122.6,42.3h0.60M105.9,31.9h0.60M126.5,47.7h0.60M120.2,54.5h0.60M120.1,58.1h0.60M113.1,50.9h0.60M120.9,54.5h0.60M111.5,46.3h0.60M107.8,52.6h0.60M112.7,41.3h0.60M112.6,53.0h0.60M116.6,49.6h0.60M116.5,55.1h0.60M109.1,45.9h0.60M120.9,55.6h0.60M108.0,46.5h0.60M123.4,55.7h0.60M114.8,57.4h0.60M123.0,59.8h0.60M108.1,43.0h0.60M112.9,50.7h0.60M113.7,52.5h0.60M123.6,57.8h0.60M121.0,51.0h0.60M124.5,53.9h0.60M116.9,50.9h0.60M105.7,64.4h0.60M115.5,56.6h0.60M127.9,49.8h0.60M109.3,57.3h0.60M116.9,45.1h0.60M120.8,51.1h0.60M110.5,35.3h0.60M110.2,53.4h0.60M110.0,57.1h0.60M127.5,53.0h0.60M116.8,50.5h0.60M120.3,51.2h0.60M121.2,59.8h0.60M120.2,45.0h0.60M119.2,49.4h0.60M117.3,57.0h0.60M112.0,52.3h0.60M123.6,45.8h0.60M114.6,55.5h0.60M114.3,57.4h0.60M110.1,41.7h0.60M117.7,50.2h0.60M117.3,57.0h0.60M121.3,48.9h0.60M113.5,39.0h0.60M110.3,52.5h0.60M116.8,41.8h0.60M119.9,50.8h0.60M121.6,48.8h0.60M120.8,44.2h0.60M105.5,46.0h0.60M119.4,53.6h0.60M105.4,51.9h0.60M119.2,61.4h0.60M119.8,54.2h0.60M107.0,53.3h0.60M104.9,49.2h0.60M113.6,45.0h0.60M110.1,50.2h0.60M118.8,47.0h0.60M117.2,55.4h0.60M115.5,62.8h0.60M113.9,46.5h0.60M105.3,57.6h0.60M119.3,49.9h0.60M117.3,50.2h0.60M120.3,51.0h0.60M116.8,50.5h0.60M110.8,37.3h0.60M118.6,43.3h0.60M117.8,55.0h0.60M125.8,46.4h0.60M116.4,56.9h0.60M112.0,47.4h0.60M118.0,63.8h0.60M121.5,56.9h0.60M110.4,55.1h0.60M121.8,43.2h0.60M115.7,49.8h0.60M119.1,40.3h0.60M119.4,51.0h0.60M114.1,38.0h0.60M104.3,47.7h0.60M119.1,53.6h0.60M119.7,40.6h0.60M116.7,59.3h0.60M107.2,55.0h0.60M111.6,54.4h0.60M116.1,41.0h0.60M109.9,58.9h0.60M115.0,58.6h0.60M117.4,56.5h0.60M113.4,52.4h0.60M113.6,56.6h0.60M112.5,57.8h0.60M124.1,43.5h0.60M114.7,54.4h0.60M125.2,58.1h0.60M116.1,40.4h0.60M120.2,47.4h0.60M116.6,53.5h0.60M107.9,57.6h0.60M120.6,54.6h0.60M118.8,53.2h0.60M108.0,47.9h0.60M120.0,49.0h0.60M115.7,53.3h0.60M116.1,52.6h0.60M118.2,51.0h0.60M109.6,49.4h0.60M120.8,46.9h0.60M118.1,52.9h0.60M110.8,33.7h0.60M115.5,46.2h0.60M112.2,56.8h0.60M111.4,53.2h0.60M116.2,52.2h0.60M126.4,38.9h0.60M120.8,50.1h0.60M114.1,46.9h0.60M115.8,51.3h0.60M110.6,61.1h0.60M111.5,50.2h0.60M108.7,51.9h0.60M117.5,57.7h0.60M120.9,47.9h0.60M124.3,50.4h0.60M124.0,61.5h0.60M113.4,44.4h0.60M118.5,59.8h0.60M117.7,57.7h0.60M118.8,56.5h0.60M122.8,49.2h0.60M107.9,50.3h0.60M111.3,43.7h0.60M114.7,55.4h0.60M105.6,41.7h0.60M119.9,45.6h0.60M113.5,59.3h0.60M121.7,53.2h0.60M118.5,34.4h0.60M118.6,53.4h0.60M108.0,52.1h0.60M118.1,50.3h0.60" stroke="#333" stroke-width="0.60" opacity="0.45" fill="none"/>
<path d="M147.9,61.7h0.60M140.6,46.7h0.60M128.5,65.1h0.60M134.5,54.2h0.60M155.3,60.2h0.60M127.6,48.9h0.60M133.1,28.3h0.60M132.2,57.7h0.60M143.5,47.3h0.60M141.9,34.7h0.60M132.6,47.8h0.60M148.0,45.8h0.60M138.5,54.4h0.60M154.6,33.4h0.60M145.4,52.5h0.60M139.4,53.3h0.60M120.6,50.4h0.60M137.8,33.7h0.60M148.4,48.4h0.60M136.7,60.0h0.60M131.0,40.6h0.60M148.3,61.5h0.60M125.8,30.4h0.60M128.3,51.4h0.60M137.8,41.1h0.60M130.2,40.9h0.60M136.5,65.7h0.60M146.3,68.1h0.60M148.2,60.0h0.60M151.7,56.0h0.60M155.3,64.9h0.60M158.0,52.9h0.60M137.3,56.9h0.60M136.4,40.9h0.60M144.4,35.3h0.60M138.5,68.6h0.60M141.3,60.8h0.60M146.4,55.1h0.60M141.1,58.1h0.60M130.6,57.7h0.60M129.5,40.1h0.60M134.3,32.4h0.60M120.7,55.0h0.60M145.1,58.7h0.60M147.5,40.2h0.60M147.1,35.0h0.60M136.0,59.9h0.60M118.4,67.7h0.60M130.7,52.6h0.60M149.7,52.1h0.60M149.3,43.4h0.60M155.0,41.3h0.60M131.6,50.2h0.60M156.8,40.7h0.60M139.9,45.3h0.60M130.9,32.8h0.60M145.9,59.3h0.60M132.7,53.0h0.60M144.5,55.0h0.60M138.4,50.6h0.60M142.8,36.0h0.60M138.6,60.5h0.60M134.5,67.3h0.60M137.7,35.5h0.60M137.2,32.2h0.60M146.1,29.0h0.60M140.2,46.9h0.60M137.1,55.6h0.60M142.9,42.7h0.60M148.1,44.1h0.60M148.9,67.7h0.60M143.8,62.2h0.60M126.9,57.4h0.60M125.3,47.7h0.60" stroke="#999" stroke-width="0.60" opacity="0.3" fill="none"/>
<ellipse cx="115.3" cy="50.5" rx="8.5" ry="7.5" transform="rotate(-35 115.3 50.5)" fill="#333" opacity="0.4" filter="url(#b20)"/>
<ellipse cx="115.7" cy="49.8" rx="6.4" ry="5.4" transform="rotate(-35 115.7 49.8)" fill="#000" filter="url(#b08)"/>
<rect x="103.2" y="40" width="25" height="25.3" fill="none" stroke="#c07080" stroke-width="0.7"/>
<line x1="128.2" y1="54.4" x2="208.5" y2="54.4" stroke="#000" stroke-width="0.6"/>
<path d="M211,54.4 L208,52.75 L208,56.05 Z" fill="#000"/>
<text transform="translate(99.6 77) rotate(-90) scale(0.1)" font-size="63.00" font-weight="bold" fill="#111" text-anchor="start">HLA-DR</text>
<line x1="97.8" y1="49" x2="97.8" y2="32.3" stroke="#000" stroke-width="0.6"/>
<path d="M97.8,29.8 L96.14999999999999,32.8 L99.45,32.8 Z" fill="#000"/>
<text transform="translate(102.5 86.4) scale(0.1)" font-size="60.00" font-weight="bold" fill="#111" text-anchor="start">CD3, CD8, CD20</text>
<line x1="154.5" y1="84.3" x2="156.9" y2="84.3" stroke="#000" stroke-width="0.6"/>
<path d="M159.4,84.3 L156.4,82.64999999999999 L156.4,85.95 Z" fill="#000"/>
<rect x="227.4" y="23.5" width="57.3" height="55.8" fill="none" stroke="#999" stroke-width="0.6"/>
<path d="M252.4,51.7h0.60M251.5,55.1h0.60M260.8,50.1h0.60M253.3,47.1h0.60M252.9,46.1h0.60M248.1,57.0h0.60M262.2,51.6h0.60M259.1,51.7h0.60M263.3,62.4h0.60M253.2,53.0h0.60M266.3,61.7h0.60M256.9,57.7h0.60M255.3,54.4h0.60M258.8,48.4h0.60M250.8,64.1h0.60M261.3,57.1h0.60M257.3,48.2h0.60M254.2,48.4h0.60M268.6,56.5h0.60M261.3,55.9h0.60M254.7,60.0h0.60M262.2,57.7h0.60M260.5,58.1h0.60M255.4,56.8h0.60M257.5,53.9h0.60M260.8,64.1h0.60M254.4,60.1h0.60M251.0,54.2h0.60M263.1,54.7h0.60M259.1,49.9h0.60M250.2,62.1h0.60M257.9,54.6h0.60M248.8,50.6h0.60M250.9,54.8h0.60M256.3,52.4h0.60M253.0,55.5h0.60M263.9,49.1h0.60M248.6,59.8h0.60M248.6,53.3h0.60M257.7,62.7h0.60M256.5,59.6h0.60M257.8,51.6h0.60M258.1,46.3h0.60M261.9,61.3h0.60M255.8,58.5h0.60M250.8,61.3h0.60M253.2,51.6h0.60M252.5,47.5h0.60M261.0,63.5h0.60M248.5,54.2h0.60M259.7,52.6h0.60M262.9,55.4h0.60M250.7,53.7h0.60M264.2,59.7h0.60M256.5,56.8h0.60M253.9,55.6h0.60M253.5,55.7h0.60M253.9,55.8h0.60M261.1,54.9h0.60M249.3,57.1h0.60M255.5,52.9h0.60M260.3,51.5h0.60M262.5,57.4h0.60M252.9,52.0h0.60M256.3,51.2h0.60M262.6,45.4h0.60M257.9,53.5h0.60M250.5,57.7h0.60M254.1,56.9h0.60M254.4,53.8h0.60M260.1,59.1h0.60M262.9,54.9h0.60M265.8,53.6h0.60M249.0,47.1h0.60M248.5,51.3h0.60M257.2,54.9h0.60M258.4,54.5h0.60M255.5,53.7h0.60M257.2,50.2h0.60M264.6,61.6h0.60M257.2,64.7h0.60M251.3,58.8h0.60M252.6,59.3h0.60M257.7,59.0h0.60M260.6,57.2h0.60M255.4,61.8h0.60M259.1,57.1h0.60M265.5,53.9h0.60M267.3,59.6h0.60M257.5,48.8h0.60M264.2,53.7h0.60M257.6,55.5h0.60M262.6,57.7h0.60M259.1,55.7h0.60M261.7,57.4h0.60M266.6,51.9h0.60M264.7,56.6h0.60M258.8,57.9h0.60M255.0,58.1h0.60M255.8,58.1h0.60M252.5,60.0h0.60M248.0,52.2h0.60M256.7,56.0h0.60M252.3,53.3h0.60M258.5,59.5h0.60M264.7,53.0h0.60M256.6,53.7h0.60M248.0,53.1h0.60M263.7,49.3h0.60M273.9,59.2h0.60M267.2,55.8h0.60M266.4,52.6h0.60M264.5,58.2h0.60M261.7,58.2h0.60M260.5,57.8h0.60M264.1,56.8h0.60M260.8,56.8h0.60M257.9,51.3h0.60M249.7,48.7h0.60M261.1,53.6h0.60M264.5,68.3h0.60M261.6,53.0h0.60M259.3,54.1h0.60M258.7,63.9h0.60M266.5,60.5h0.60M258.7,62.6h0.60M261.9,58.8h0.60M250.2,52.4h0.60M258.0,54.1h0.60M254.0,46.5h0.60M252.6,54.6h0.60M258.9,50.4h0.60M256.3,62.7h0.60M258.0,46.6h0.60M256.0,55.0h0.60M264.5,55.8h0.60M265.1,56.4h0.60M264.0,60.8h0.60M266.1,55.9h0.60M260.8,71.8h0.60M249.9,55.9h0.60M259.9,52.0h0.60M261.9,54.3h0.60M261.7,55.8h0.60M251.6,59.5h0.60M268.9,59.0h0.60M258.7,47.7h0.60M259.0,54.9h0.60M252.4,46.8h0.60M259.7,59.2h0.60M261.3,64.8h0.60M256.9,61.1h0.60M256.9,50.9h0.60M256.7,56.9h0.60M252.7,51.7h0.60M258.6,58.8h0.60M255.7,57.1h0.60M254.1,53.6h0.60M258.2,59.2h0.60M266.4,54.5h0.60M259.7,63.4h0.60M262.0,53.5h0.60M259.5,48.9h0.60M252.9,49.3h0.60M263.1,53.1h0.60M257.6,55.3h0.60M255.9,50.0h0.60M268.5,46.5h0.60M256.9,58.0h0.60M255.9,54.6h0.60M258.9,56.0h0.60M255.1,59.6h0.60M260.1,61.5h0.60M257.6,46.5h0.60M259.8,48.0h0.60M253.8,60.4h0.60M259.0,52.0h0.60M256.4,55.5h0.60M254.6,53.7h0.60M253.4,56.0h0.60M266.4,61.3h0.60M249.8,65.0h0.60M256.4,49.0h0.60M248.4,55.6h0.60M258.5,52.3h0.60M252.4,54.1h0.60M258.6,57.9h0.60M260.4,44.8h0.60M253.6,56.1h0.60M259.3,58.5h0.60M248.4,61.7h0.60M250.1,54.2h0.60M254.4,53.0h0.60M252.6,58.5h0.60M261.7,56.5h0.60M249.7,52.3h0.60M256.8,56.7h0.60M253.9,53.9h0.60M272.4,55.3h0.60M255.4,44.5h0.60M252.7,62.0h0.60M262.0,49.9h0.60M261.7,55.8h0.60M252.5,58.4h0.60M253.5,53.7h0.60M257.2,55.9h0.60M254.6,56.3h0.60M257.1,55.9h0.60M259.4,52.3h0.60M249.1,54.7h0.60M264.3,56.4h0.60M258.4,51.9h0.60M250.4,49.7h0.60M251.8,53.4h0.60M248.1,54.5h0.60M257.0,47.5h0.60M253.9,56.0h0.60M259.3,58.3h0.60M255.1,54.4h0.60M255.7,57.4h0.60M253.1,54.3h0.60M258.0,53.5h0.60M250.8,60.8h0.60M260.0,51.1h0.60M268.5,51.8h0.60M252.0,53.5h0.60M260.2,61.4h0.60M265.1,57.4h0.60M257.5,57.9h0.60M252.5,52.0h0.60M260.2,55.9h0.60M258.5,50.7h0.60M258.5,48.9h0.60M262.5,55.1h0.60M253.4,53.0h0.60M273.3,68.4h0.60M253.0,60.9h0.60M257.2,56.1h0.60M251.5,49.4h0.60M258.5,53.1h0.60M260.0,59.6h0.60M256.4,57.3h0.60M258.1,56.0h0.60M254.1,56.1h0.60M259.6,55.4h0.60M254.5,48.8h0.60M250.9,61.7h0.60M263.0,56.3h0.60M258.8,54.4h0.60M261.1,59.1h0.60M255.7,56.4h0.60M262.7,48.3h0.60M251.7,52.6h0.60M250.4,53.2h0.60M252.2,53.3h0.60M259.9,50.0h0.60M257.7,60.9h0.60M258.2,49.8h0.60M253.6,60.0h0.60M255.6,52.3h0.60M261.7,52.0h0.60M250.7,57.7h0.60M257.2,52.3h0.60M259.8,59.8h0.60M263.4,55.5h0.60M259.8,57.2h0.60M248.5,62.2h0.60M253.3,52.6h0.60M252.4,50.9h0.60M263.5,55.1h0.60M253.8,47.2h0.60M258.1,54.8h0.60M251.2,54.6h0.60M250.1,57.2h0.60M257.7,45.9h0.60M250.6,52.2h0.60M261.7,57.6h0.60M260.8,62.2h0.60M255.5,52.9h0.60M260.4,51.4h0.60M252.1,59.1h0.60" stroke="#333" stroke-width="0.60" opacity="0.35" fill="none"/>
<path d="M261.0,74.7h0.60M266.4,59.5h0.60M265.2,68.0h0.60M265.8,66.4h0.60M264.4,74.8h0.60M263.7,70.0h0.60M265.4,67.5h0.60M265.8,70.5h0.60M265.7,59.9h0.60M263.0,69.4h0.60M266.2,74.9h0.60M264.6,64.5h0.60M263.0,58.8h0.60M263.8,70.8h0.60M264.4,61.0h0.60M264.4,68.3h0.60M263.5,75.0h0.60M265.2,73.3h0.60M264.7,63.4h0.60M266.1,73.3h0.60M263.7,61.7h0.60M265.7,65.4h0.60M262.9,67.7h0.60M265.3,64.5h0.60M264.6,72.8h0.60M265.6,60.6h0.60M265.6,76.5h0.60M265.9,67.6h0.60M265.1,60.5h0.60M263.7,65.6h0.60M267.5,68.1h0.60M263.1,76.1h0.60M266.3,60.2h0.60M264.2,60.0h0.60M266.0,57.2h0.60M267.2,63.0h0.60M263.0,78.1h0.60M265.3,69.7h0.60M265.8,63.3h0.60M265.8,66.7h0.60M265.3,69.2h0.60M266.5,61.9h0.60M262.5,71.2h0.60M267.9,70.7h0.60M264.3,71.3h0.60M262.8,68.5h0.60M262.1,68.6h0.60M265.6,76.2h0.60M263.8,72.5h0.60M266.5,63.1h0.60M264.1,59.2h0.60M263.3,70.1h0.60M261.6,66.6h0.60M265.6,74.9h0.60M260.9,69.9h0.60M263.6,57.1h0.60M263.1,70.9h0.60M264.5,71.4h0.60M264.1,71.2h0.60M263.1,63.4h0.60M264.3,59.7h0.60M266.3,66.9h0.60M263.1,63.9h0.60M263.1,68.6h0.60M264.0,72.2h0.60M262.9,67.7h0.60M262.4,65.8h0.60M266.5,67.5h0.60M265.8,67.8h0.60M263.0,63.8h0.60M262.9,69.7h0.60M266.9,72.1h0.60M263.1,68.6h0.60M263.5,73.6h0.60M262.6,71.7h0.60M262.8,65.8h0.60M264.8,68.7h0.60M264.4,67.7h0.60M263.3,67.5h0.60M264.4,63.6h0.60M265.3,68.9h0.60M263.4,74.3h0.60M263.7,58.9h0.60M266.3,66.2h0.60M266.6,70.1h0.60M263.3,73.4h0.60M265.2,72.5h0.60M264.6,75.5h0.60" stroke="#444" stroke-width="0.60" opacity="0.4" fill="none"/>
<path d="M246.3,73.1h0.60M230.0,73.9h0.60M240.6,71.2h0.60M238.8,78.3h0.60M237.0,77.3h0.60M233.9,71.2h0.60M246.4,73.5h0.60M241.6,77.0h0.60M251.0,70.5h0.60M244.0,74.7h0.60M238.5,72.3h0.60M243.5,68.2h0.60M242.6,71.5h0.60M242.3,71.9h0.60M243.5,73.3h0.60M235.3,75.6h0.60M245.1,69.4h0.60M231.5,73.3h0.60M237.6,77.9h0.60M250.7,75.4h0.60M247.4,73.1h0.60M231.0,74.9h0.60M228.3,78.7h0.60M241.8,77.4h0.60M235.8,69.4h0.60M238.8,75.4h0.60M238.7,72.6h0.60M240.6,73.5h0.60M249.4,70.2h0.60M241.9,69.6h0.60M239.8,75.3h0.60M242.3,74.9h0.60M235.1,69.8h0.60M246.5,73.0h0.60M230.9,78.5h0.60M257.4,74.4h0.60M229.3,76.8h0.60M242.3,77.6h0.60M240.2,69.2h0.60M239.0,72.8h0.60M242.0,73.5h0.60M243.8,70.5h0.60M236.4,72.5h0.60M242.9,69.1h0.60M228.0,77.0h0.60M240.7,76.9h0.60M240.4,74.8h0.60M242.5,75.3h0.60M232.0,73.6h0.60M252.3,78.1h0.60M234.4,71.3h0.60M238.9,77.1h0.60M246.2,72.3h0.60M228.9,77.5h0.60M250.0,76.0h0.60M244.1,75.7h0.60M252.4,77.2h0.60M249.7,70.7h0.60M236.6,74.0h0.60M239.9,73.8h0.60M257.0,73.4h0.60M238.7,73.7h0.60M237.8,69.9h0.60M247.6,74.1h0.60M242.5,74.1h0.60M234.8,69.4h0.60M238.1,75.6h0.60M239.2,76.1h0.60M234.8,73.2h0.60M241.1,73.7h0.60M241.2,78.2h0.60M237.2,74.4h0.60M235.7,75.6h0.60M241.6,71.9h0.60" stroke="#777" stroke-width="0.60" opacity="0.35" fill="none"/>
<path d="M232.3,52.2h0.60M237.9,58.8h0.60M236.3,57.5h0.60M241.1,69.4h0.60M249.1,69.2h0.60M241.1,59.1h0.60M255.0,59.9h0.60M245.1,55.6h0.60M235.9,61.8h0.60M235.5,54.8h0.60M228.6,59.4h0.60M239.3,60.7h0.60M233.4,52.0h0.60M248.5,58.1h0.60M246.1,52.5h0.60M230.1,45.8h0.60M242.3,62.8h0.60M250.2,66.6h0.60M236.0,54.2h0.60M238.4,54.2h0.60M228.8,57.8h0.60M241.0,54.3h0.60M240.3,51.7h0.60M237.5,56.4h0.60M236.5,57.6h0.60M230.3,51.5h0.60M233.7,61.6h0.60M232.7,53.5h0.60M255.2,56.8h0.60M237.1,53.7h0.60M251.3,60.6h0.60M242.0,65.7h0.60M230.9,49.9h0.60M248.5,60.1h0.60M236.1,61.9h0.60M239.3,67.4h0.60M230.3,59.7h0.60M247.5,62.3h0.60M237.2,56.1h0.60M236.7,61.3h0.60M236.9,57.3h0.60M247.9,57.5h0.60M241.9,57.4h0.60M240.1,47.3h0.60M232.8,59.8h0.60M235.1,55.0h0.60M240.4,69.1h0.60M234.2,53.4h0.60M239.6,53.9h0.60M236.9,62.7h0.60M247.8,59.8h0.60M248.9,62.9h0.60M236.5,61.9h0.60M241.2,61.7h0.60M242.1,68.3h0.60M230.3,59.8h0.60M231.7,69.2h0.60M236.0,56.2h0.60M239.8,57.8h0.60M253.1,57.7h0.60M241.9,63.2h0.60M251.6,53.4h0.60M242.3,51.6h0.60M243.8,64.9h0.60M236.0,56.6h0.60M249.2,60.1h0.60M246.2,55.8h0.60M237.6,56.2h0.60M252.1,50.8h0.60M236.0,65.6h0.60M239.5,52.7h0.60M241.8,56.9h0.60M239.1,60.4h0.60M246.1,50.7h0.60M241.5,65.3h0.60M229.7,57.5h0.60M231.1,61.2h0.60M233.5,56.4h0.60M236.8,60.2h0.60M229.9,51.2h0.60M241.4,64.6h0.60M236.1,60.0h0.60M242.0,58.5h0.60M239.8,55.3h0.60M238.1,63.9h0.60M243.4,64.2h0.60M234.4,58.6h0.60M235.0,51.6h0.60M246.9,56.6h0.60M241.8,51.1h0.60M238.0,57.4h0.60M237.0,62.9h0.60M243.5,58.6h0.60M241.7,55.8h0.60M234.5,56.6h0.60M232.1,57.2h0.60M239.1,63.5h0.60M236.6,69.8h0.60M236.0,58.6h0.60M239.8,55.0h0.60M239.5,49.4h0.60M248.6,55.2h0.60M239.8,49.1h0.60M244.3,51.7h0.60M250.4,52.9h0.60M234.3,61.2h0.60M249.8,48.3h0.60M243.4,50.6h0.60M236.6,61.4h0.60M237.0,65.4h0.60M234.5,58.8h0.60M248.8,65.2h0.60M241.8,60.9h0.60M237.4,57.7h0.60M235.5,59.9h0.60M246.4,53.1h0.60M231.0,58.2h0.60M255.3,59.1h0.60M241.0,57.8h0.60M251.5,47.7h0.60M253.7,52.1h0.60M255.6,70.9h0.60M251.4,57.3h0.60M244.5,55.3h0.60M236.5,59.0h0.60M237.5,52.7h0.60M237.8,61.2h0.60M234.0,59.8h0.60M229.6,58.5h0.60M231.1,61.8h0.60M231.9,61.0h0.60M248.4,53.9h0.60M240.4,53.8h0.60M243.6,61.7h0.60M248.7,64.5h0.60M249.9,54.4h0.60M240.8,60.6h0.60M241.4,51.5h0.60M255.5,70.5h0.60M240.4,45.2h0.60M253.9,57.1h0.60M257.3,52.8h0.60M244.0,61.9h0.60M228.9,56.4h0.60M243.7,61.2h0.60M242.9,45.1h0.60M252.2,50.4h0.60M242.9,62.6h0.60M232.4,50.2h0.60M242.0,55.8h0.60M239.2,57.0h0.60M239.0,59.5h0.60M235.9,57.8h0.60M235.6,53.7h0.60M242.6,53.9h0.60M244.0,57.9h0.60M248.2,60.9h0.60M245.0,58.5h0.60M240.2,63.3h0.60M245.1,51.3h0.60M240.6,62.9h0.60M241.1,51.7h0.60M245.9,61.0h0.60M248.7,58.8h0.60M240.8,62.2h0.60M231.5,66.5h0.60M243.0,59.1h0.60M245.7,61.9h0.60M239.1,54.1h0.60M246.8,62.6h0.60M242.8,54.9h0.60M240.7,53.3h0.60M259.3,54.7h0.60M246.6,66.0h0.60M233.3,55.3h0.60M229.8,58.8h0.60M238.2,58.0h0.60M240.2,55.7h0.60M240.8,57.6h0.60M234.4,56.4h0.60M235.5,51.6h0.60M239.7,48.7h0.60M244.0,57.8h0.60M241.2,63.7h0.60M247.2,55.8h0.60M242.6,63.9h0.60M238.7,59.9h0.60M243.1,52.8h0.60M242.1,56.0h0.60M237.9,60.1h0.60" stroke="#222" stroke-width="0.60" opacity="0.4" fill="none"/>
<rect x="228.5" y="47.5" width="19" height="19" rx="5" fill="#333" opacity="0.35" filter="url(#b20)"/>
<rect x="229.8" y="49.2" width="15.6" height="16" rx="4.5" fill="#000" filter="url(#b08)"/>
<g stroke="#b0606e" stroke-width="1.2" fill="none"><line x1="247.25" y1="23.5" x2="247.25" y2="67.6"/><line x1="227.4" y1="67.6" x2="284.7" y2="67.6"/><line x1="254.2" y1="67.6" x2="254.2" y2="79.3"/></g>
<text transform="translate(224.6 78.6) rotate(-90) scale(0.1)" font-size="62.00" font-weight="bold" fill="#111" text-anchor="start">CD14</text>
<line x1="221.7" y1="60" x2="221.7" y2="40.1" stroke="#000" stroke-width="0.6"/>
<path d="M221.7,37.6 L220.04999999999998,40.6 L223.35,40.6 Z" fill="#000"/>
<text transform="translate(228.2 88.4) scale(0.1)" font-size="60.00" font-weight="bold" fill="#111" text-anchor="start">CD16</text>
<line x1="245" y1="86" x2="264.5" y2="86" stroke="#000" stroke-width="0.6"/>
<path d="M267,86 L264,84.35 L264,87.65 Z" fill="#000"/>
<line x1="240" y1="36.8" x2="367.3" y2="36.8" stroke="#444" stroke-width="0.7"/>
<path d="M370,36.8 L366.8,35.04 L366.8,38.559999999999995 Z" fill="#444"/>
<line x1="269" y1="54.4" x2="367.3" y2="54.4" stroke="#d02a3a" stroke-width="0.7"/>
<path d="M370,54.4 L366.8,52.64 L366.8,56.16 Z" fill="#d02a3a"/>
<line x1="276.3" y1="72.9" x2="367.3" y2="72.9" stroke="#3a3ad0" stroke-width="0.7"/>
<path d="M370,72.9 L366.8,71.14 L366.8,74.66000000000001 Z" fill="#3a3ad0"/>
<text x="394" y="40" font-size="7.0" font-weight="bold" fill="#333">CD14<tspan dy="-2.2" font-size="4.6">+</tspan><tspan dy="2.2"> CD16</tspan><tspan dy="-2.2" font-size="4.6">neg</tspan><tspan dy="2.2"> “classical”</tspan></text>
<text x="394" y="57" font-size="7.0" font-weight="bold" fill="#d0282e">CD14<tspan dy="-2.2" font-size="4.6">+</tspan><tspan dy="2.2"> CD16</tspan><tspan dy="-2.2" font-size="4.6">+</tspan><tspan dy="2.2" xml:space="preserve">    “intermediate”</tspan></text>
<text x="394" y="76" font-size="7.0" font-weight="bold" fill="#2424b8">CD14<tspan dy="-2.2" font-size="4.6">dim</tspan><tspan dy="2.2"> CD16</tspan><tspan dy="-2.2" font-size="4.6">++</tspan><tspan dy="2.2"> “non-classical”</tspan></text>
<text transform="translate(82 104.3) scale(0.1)" font-size="98.00" font-weight="bold" fill="#111" text-anchor="middle">MPL</text>
<line x1="23.75" y1="185.5" x2="23.75" y2="99.375" stroke="#333" stroke-width="0.6"/>
<line x1="21.8" y1="185.5" x2="23.75" y2="185.5" stroke="#333" stroke-width="0.6"/>
<text transform="translate(20.3 188.0) scale(0.1)" font-size="70.00" font-weight="bold" fill="#222" text-anchor="end">0</text>
<line x1="21.8" y1="172.25" x2="23.75" y2="172.25" stroke="#333" stroke-width="0.6"/>
<text transform="translate(20.3 174.75) scale(0.1)" font-size="70.00" font-weight="bold" fill="#222" text-anchor="end">10</text>
<line x1="21.8" y1="159.0" x2="23.75" y2="159.0" stroke="#333" stroke-width="0.6"/>
<text transform="translate(20.3 161.5) scale(0.1)" font-size="70.00" font-weight="bold" fill="#222" text-anchor="end">20</text>
<line x1="21.8" y1="145.75" x2="23.75" y2="145.75" stroke="#333" stroke-width="0.6"/>
<text transform="translate(20.3 148.25) scale(0.1)" font-size="70.00" font-weight="bold" fill="#222" text-anchor="end">30</text>
<line x1="21.8" y1="132.5" x2="23.75" y2="132.5" stroke="#333" stroke-width="0.6"/>
<text transform="translate(20.3 135.0) scale(0.1)" font-size="70.00" font-weight="bold" fill="#222" text-anchor="end">40</text>
<line x1="21.8" y1="119.25" x2="23.75" y2="119.25" stroke="#333" stroke-width="0.6"/>
<text transform="translate(20.3 121.75) scale(0.1)" font-size="70.00" font-weight="bold" fill="#222" text-anchor="end">50</text>
<line x1="21.8" y1="106.0" x2="23.75" y2="106.0" stroke="#333" stroke-width="0.6"/>
<text transform="translate(20.3 108.5) scale(0.1)" font-size="70.00" font-weight="bold" fill="#222" text-anchor="end">60</text>
<line x1="23.75" y1="185.5" x2="77" y2="185.5" stroke="#333" stroke-width="0.6"/>
<line x1="81.25" y1="185.5" x2="144.5" y2="185.5" stroke="#333" stroke-width="0.6"/>
<line x1="23.75" y1="185.5" x2="23.75" y2="187.5" stroke="#333" stroke-width="0.6"/>
<line x1="30" y1="185.5" x2="30" y2="187.5" stroke="#333" stroke-width="0.6"/>
<line x1="40" y1="185.5" x2="40" y2="187.5" stroke="#333" stroke-width="0.6"/>
<line x1="72.5" y1="185.5" x2="72.5" y2="187.5" stroke="#333" stroke-width="0.6"/>
<line x1="82" y1="185.5" x2="82" y2="187.5" stroke="#333" stroke-width="0.6"/>
<line x1="91.25" y1="185.5" x2="91.25" y2="187.5" stroke="#333" stroke-width="0.6"/>
<line x1="110.5" y1="185.5" x2="110.5" y2="187.5" stroke="#333" stroke-width="0.6"/>
<line x1="144.5" y1="185.5" x2="144.5" y2="187.5" stroke="#333" stroke-width="0.6"/>
<line x1="77" y1="185.5" x2="77" y2="187.5" stroke="#333" stroke-width="0.6"/>
<polyline points="23.75,168.28 30.00,142.70 40.00,139.39 72.50,147.74 77.00,151.69" fill="none" stroke="#000" stroke-width="1.35"/>
<polyline points="82.00,156.09 91.25,159.00 110.50,171.59 144.50,163.64" fill="none" stroke="#000" stroke-width="1.35"/>
<path d="M23.75,166.95V169.6M22.45,166.95h2.6M22.45,169.6h2.6" stroke="#444" stroke-width="0.75" fill="none"/>
<path d="M30,132.10250000000002V153.3025M28.7,132.10250000000002h2.6M28.7,153.3025h2.6" stroke="#444" stroke-width="0.75" fill="none"/>
<path d="M40,133.4275V145.35250000000002M38.7,133.4275h2.6M38.7,145.35250000000002h2.6" stroke="#444" stroke-width="0.75" fill="none"/>
<path d="M72.5,138.4625V157.0125M71.2,138.4625h2.6M71.2,157.0125h2.6" stroke="#444" stroke-width="0.75" fill="none"/>
<path d="M82,151.4475V160.7225M80.7,151.4475h2.6M80.7,160.7225h2.6" stroke="#444" stroke-width="0.75" fill="none"/>
<path d="M91.25,153.7V164.3M89.95,153.7h2.6M89.95,164.3h2.6" stroke="#444" stroke-width="0.75" fill="none"/>
<path d="M110.5,170.2625V172.9125M109.2,170.2625h2.6M109.2,172.9125h2.6" stroke="#444" stroke-width="0.75" fill="none"/>
<path d="M144.5,159.6625V167.6125M143.2,159.6625h2.6M143.2,167.6125h2.6" stroke="#444" stroke-width="0.75" fill="none"/>
<circle cx="23.75" cy="168.28" r="2.6" fill="#000"/>
<circle cx="30" cy="142.70" r="2.6" fill="#000"/>
<circle cx="40" cy="139.39" r="2.6" fill="#000"/>
<circle cx="72.5" cy="147.74" r="2.6" fill="#000"/>
<circle cx="82" cy="156.09" r="2.6" fill="#000"/>
<circle cx="91.25" cy="159.00" r="2.6" fill="#000"/>
<circle cx="110.5" cy="171.59" r="2.6" fill="#000"/>
<circle cx="144.5" cy="163.64" r="2.6" fill="#000"/>
<circle cx="28.75" cy="129.25" r="1.23" fill="#111"/>
<circle cx="31.65" cy="129.25" r="1.23" fill="#111"/>
<circle cx="37.55" cy="130.40" r="1.23" fill="#111"/>
<circle cx="40.45" cy="130.40" r="1.23" fill="#111"/>
<circle cx="43.35" cy="130.40" r="1.23" fill="#111"/>
<circle cx="72.50" cy="135.00" r="1.23" fill="#111"/>
<circle cx="82.30" cy="148.60" r="1.23" fill="#111"/>
<text transform="translate(82 202.3) scale(0.1)" font-size="98.00" font-weight="bold" fill="#111" text-anchor="middle">R-848</text>
<line x1="23.75" y1="283.5" x2="23.75" y2="197.375" stroke="#333" stroke-width="0.6"/>
<line x1="21.8" y1="283.5" x2="23.75" y2="283.5" stroke="#333" stroke-width="0.6"/>
<text transform="translate(20.3 286.0) scale(0.1)" font-size="70.00" font-weight="bold" fill="#222" text-anchor="end">0</text>
<line x1="21.8" y1="270.25" x2="23.75" y2="270.25" stroke="#333" stroke-width="0.6"/>
<text transform="translate(20.3 272.75) scale(0.1)" font-size="70.00" font-weight="bold" fill="#222" text-anchor="end">10</text>
<line x1="21.8" y1="257.0" x2="23.75" y2="257.0" stroke="#333" stroke-width="0.6"/>
<text transform="translate(20.3 259.5) scale(0.1)" font-size="70.00" font-weight="bold" fill="#222" text-anchor="end">20</text>
<line x1="21.8" y1="243.75" x2="23.75" y2="243.75" stroke="#333" stroke-width="0.6"/>
<text transform="translate(20.3 246.25) scale(0.1)" font-size="70.00" font-weight="bold" fill="#222" text-anchor="end">30</text>
<line x1="21.8" y1="230.5" x2="23.75" y2="230.5" stroke="#333" stroke-width="0.6"/>
<text transform="translate(20.3 233.0) scale(0.1)" font-size="70.00" font-weight="bold" fill="#222" text-anchor="end">40</text>
<line x1="21.8" y1="217.25" x2="23.75" y2="217.25" stroke="#333" stroke-width="0.6"/>
<text transform="translate(20.3 219.75) scale(0.1)" font-size="70.00" font-weight="bold" fill="#222" text-anchor="end">50</text>
<line x1="21.8" y1="204.0" x2="23.75" y2="204.0" stroke="#333" stroke-width="0.6"/>
<text transform="translate(20.3 206.5) scale(0.1)" font-size="70.00" font-weight="bold" fill="#222" text-anchor="end">60</text>
<line x1="23.75" y1="283.5" x2="77" y2="283.5" stroke="#333" stroke-width="0.6"/>
<line x1="81.25" y1="283.5" x2="144.5" y2="283.5" stroke="#333" stroke-width="0.6"/>
<line x1="23.75" y1="283.5" x2="23.75" y2="285.5" stroke="#333" stroke-width="0.6"/>
<line x1="30" y1="283.5" x2="30" y2="285.5" stroke="#333" stroke-width="0.6"/>
<line x1="40" y1="283.5" x2="40" y2="285.5" stroke="#333" stroke-width="0.6"/>
<line x1="72.5" y1="283.5" x2="72.5" y2="285.5" stroke="#333" stroke-width="0.6"/>
<line x1="82" y1="283.5" x2="82" y2="285.5" stroke="#333" stroke-width="0.6"/>
<line x1="91.25" y1="283.5" x2="91.25" y2="285.5" stroke="#333" stroke-width="0.6"/>
<line x1="110.5" y1="283.5" x2="110.5" y2="285.5" stroke="#333" stroke-width="0.6"/>
<line x1="144.5" y1="283.5" x2="144.5" y2="285.5" stroke="#333" stroke-width="0.6"/>
<line x1="77" y1="283.5" x2="77" y2="285.5" stroke="#333" stroke-width="0.6"/>
<polyline points="23.75,265.61 30.00,275.55 40.00,223.88 72.50,253.03 77.00,249.89" fill="none" stroke="#000" stroke-width="1.35"/>
<polyline points="82.00,246.40 91.25,241.10 110.50,257.00 144.50,260.98" fill="none" stroke="#000" stroke-width="1.35"/>
<path d="M23.75,263.625V267.6M22.45,263.625h2.6M22.45,267.6h2.6" stroke="#444" stroke-width="0.75" fill="none"/>
<path d="M30,274.225V276.875M28.7,274.225h2.6M28.7,276.875h2.6" stroke="#444" stroke-width="0.75" fill="none"/>
<path d="M40,198.7V249.05M38.7,198.7h2.6M38.7,249.05h2.6" stroke="#444" stroke-width="0.75" fill="none"/>
<path d="M72.5,249.7125V256.3375M71.2,249.7125h2.6M71.2,256.3375h2.6" stroke="#444" stroke-width="0.75" fill="none"/>
<path d="M82,237.7875V255.0125M80.7,237.7875h2.6M80.7,255.0125h2.6" stroke="#444" stroke-width="0.75" fill="none"/>
<path d="M91.25,230.5V251.7M89.95,230.5h2.6M89.95,251.7h2.6" stroke="#444" stroke-width="0.75" fill="none"/>
<path d="M110.5,253.025V260.975M109.2,253.025h2.6M109.2,260.975h2.6" stroke="#444" stroke-width="0.75" fill="none"/>
<path d="M144.5,255.0125V266.9375M143.2,255.0125h2.6M143.2,266.9375h2.6" stroke="#444" stroke-width="0.75" fill="none"/>
<rect x="21.45" y="263.31" width="4.6" height="4.6" fill="#000"/>
<rect x="27.7" y="273.25" width="4.6" height="4.6" fill="#000"/>
<rect x="37.7" y="221.57" width="4.6" height="4.6" fill="#000"/>
<rect x="70.2" y="250.72" width="4.6" height="4.6" fill="#000"/>
<rect x="79.7" y="244.10" width="4.6" height="4.6" fill="#000"/>
<rect x="88.95" y="238.80" width="4.6" height="4.6" fill="#000"/>
<rect x="108.2" y="254.70" width="4.6" height="4.6" fill="#000"/>
<rect x="142.2" y="258.68" width="4.6" height="4.6" fill="#000"/>
<circle cx="45.05" cy="219.20" r="1.23" fill="#111"/>
<circle cx="47.95" cy="219.20" r="1.23" fill="#111"/>
<circle cx="72.50" cy="240.60" r="1.23" fill="#111"/>
<circle cx="82.00" cy="235.00" r="1.23" fill="#111"/>
<circle cx="89.80" cy="228.00" r="1.23" fill="#111"/>
<circle cx="92.70" cy="228.00" r="1.23" fill="#111"/>
<text transform="translate(9.7 267.8) rotate(-90) scale(0.1)" font-size="55.50" font-weight="normal" fill="#222" text-anchor="start">total monocytes %PBMC</text>
<text transform="translate(82 300.4) scale(0.1)" font-size="98.00" font-weight="bold" fill="#111" text-anchor="middle">CpG</text>
<line x1="23.75" y1="382.5" x2="23.75" y2="296.375" stroke="#333" stroke-width="0.6"/>
<line x1="21.8" y1="382.5" x2="23.75" y2="382.5" stroke="#333" stroke-width="0.6"/>
<text transform="translate(20.3 385.0) scale(0.1)" font-size="70.00" font-weight="bold" fill="#222" text-anchor="end">0</text>
<line x1="21.8" y1="369.25" x2="23.75" y2="369.25" stroke="#333" stroke-width="0.6"/>
<text transform="translate(20.3 371.75) scale(0.1)" font-size="70.00" font-weight="bold" fill="#222" text-anchor="end">10</text>
<line x1="21.8" y1="356.0" x2="23.75" y2="356.0" stroke="#333" stroke-width="0.6"/>
<text transform="translate(20.3 358.5) scale(0.1)" font-size="70.00" font-weight="bold" fill="#222" text-anchor="end">20</text>
<line x1="21.8" y1="342.75" x2="23.75" y2="342.75" stroke="#333" stroke-width="0.6"/>
<text transform="translate(20.3 345.25) scale(0.1)" font-size="70.00" font-weight="bold" fill="#222" text-anchor="end">30</text>
<line x1="21.8" y1="329.5" x2="23.75" y2="329.5" stroke="#333" stroke-width="0.6"/>
<text transform="translate(20.3 332.0) scale(0.1)" font-size="70.00" font-weight="bold" fill="#222" text-anchor="end">40</text>
<line x1="21.8" y1="316.25" x2="23.75" y2="316.25" stroke="#333" stroke-width="0.6"/>
<text transform="translate(20.3 318.75) scale(0.1)" font-size="70.00" font-weight="bold" fill="#222" text-anchor="end">50</text>
<line x1="21.8" y1="303.0" x2="23.75" y2="303.0" stroke="#333" stroke-width="0.6"/>
<text transform="translate(20.3 305.5) scale(0.1)" font-size="70.00" font-weight="bold" fill="#222" text-anchor="end">60</text>
<line x1="23.75" y1="382.5" x2="77" y2="382.5" stroke="#333" stroke-width="0.6"/>
<line x1="81.25" y1="382.5" x2="144.5" y2="382.5" stroke="#333" stroke-width="0.6"/>
<line x1="23.75" y1="382.5" x2="23.75" y2="384.5" stroke="#333" stroke-width="0.6"/>
<line x1="30" y1="382.5" x2="30" y2="384.5" stroke="#333" stroke-width="0.6"/>
<line x1="40" y1="382.5" x2="40" y2="384.5" stroke="#333" stroke-width="0.6"/>
<line x1="72.5" y1="382.5" x2="72.5" y2="384.5" stroke="#333" stroke-width="0.6"/>
<line x1="82" y1="382.5" x2="82" y2="384.5" stroke="#333" stroke-width="0.6"/>
<line x1="91.25" y1="382.5" x2="91.25" y2="384.5" stroke="#333" stroke-width="0.6"/>
<line x1="110.5" y1="382.5" x2="110.5" y2="384.5" stroke="#333" stroke-width="0.6"/>
<line x1="144.5" y1="382.5" x2="144.5" y2="384.5" stroke="#333" stroke-width="0.6"/>
<line x1="77" y1="382.5" x2="77" y2="384.5" stroke="#333" stroke-width="0.6"/>
<polyline points="23.75,365.27 30.00,341.43 40.00,344.07 72.50,357.32 77.00,359.52" fill="none" stroke="#000" stroke-width="1.35"/>
<polyline points="82.00,361.96 91.25,359.31 110.50,359.98 144.50,351.36" fill="none" stroke="#000" stroke-width="1.35"/>
<path d="M23.75,363.95V366.6M22.45,363.95h2.6M22.45,366.6h2.6" stroke="#444" stroke-width="0.75" fill="none"/>
<path d="M30,340.1V342.75M28.7,340.1h2.6M28.7,342.75h2.6" stroke="#444" stroke-width="0.75" fill="none"/>
<path d="M40,340.1V348.05M38.7,340.1h2.6M38.7,348.05h2.6" stroke="#444" stroke-width="0.75" fill="none"/>
<path d="M72.5,353.35V361.3M71.2,353.35h2.6M71.2,361.3h2.6" stroke="#444" stroke-width="0.75" fill="none"/>
<path d="M82,357.9875V365.9375M80.7,357.9875h2.6M80.7,365.9375h2.6" stroke="#444" stroke-width="0.75" fill="none"/>
<path d="M91.25,352.025V366.6M89.95,352.025h2.6M89.95,366.6h2.6" stroke="#444" stroke-width="0.75" fill="none"/>
<path d="M110.5,358.65V361.3M109.2,358.65h2.6M109.2,361.3h2.6" stroke="#444" stroke-width="0.75" fill="none"/>
<path d="M144.5,346.725V356.0M143.2,346.725h2.6M143.2,356.0h2.6" stroke="#444" stroke-width="0.75" fill="none"/>
<path d="M23.75,362.38 L26.65,367.38 L20.85,367.38 Z" fill="#000"/>
<path d="M30,338.53 L32.9,343.53 L27.1,343.53 Z" fill="#000"/>
<path d="M40,341.18 L42.9,346.18 L37.1,346.18 Z" fill="#000"/>
<path d="M72.5,354.43 L75.4,359.43 L69.6,359.43 Z" fill="#000"/>
<path d="M82,359.06 L84.9,364.06 L79.1,364.06 Z" fill="#000"/>
<path d="M91.25,356.41 L94.15,361.41 L88.35,361.41 Z" fill="#000"/>
<path d="M110.5,357.08 L113.4,362.08 L107.6,362.08 Z" fill="#000"/>
<path d="M144.5,348.46 L147.4,353.46 L141.6,353.46 Z" fill="#000"/>
<circle cx="27.40" cy="334.20" r="1.23" fill="#111"/>
<circle cx="30.30" cy="334.20" r="1.23" fill="#111"/>
<circle cx="33.20" cy="334.20" r="1.23" fill="#111"/>
<circle cx="38.85" cy="336.70" r="1.23" fill="#111"/>
<circle cx="41.75" cy="336.70" r="1.23" fill="#111"/>
<circle cx="144.50" cy="343.50" r="1.23" fill="#111"/>
<text transform="translate(31.8 385.5) rotate(-90) scale(0.1)" font-size="56.00" font-weight="bold" fill="#222" text-anchor="end">3hr</text>
<text transform="translate(41.8 385.5) rotate(-90) scale(0.1)" font-size="56.00" font-weight="bold" fill="#222" text-anchor="end">8hr</text>
<text transform="translate(74.7 385.5) rotate(-90) scale(0.1)" font-size="63.00" font-weight="bold" fill="#222" text-anchor="end" xml:space="preserve">d.  1</text>
<text transform="translate(84.2 385.5) rotate(-90) scale(0.1)" font-size="63.00" font-weight="bold" fill="#222" text-anchor="end" xml:space="preserve">d.  2</text>
<text transform="translate(93.45 385.5) rotate(-90) scale(0.1)" font-size="63.00" font-weight="bold" fill="#222" text-anchor="end" xml:space="preserve">d.  3</text>
<text transform="translate(112.7 385.5) rotate(-90) scale(0.1)" font-size="63.00" font-weight="bold" fill="#222" text-anchor="end" xml:space="preserve">d.  6</text>
<text transform="translate(146.7 385.5) rotate(-90) scale(0.1)" font-size="63.00" font-weight="bold" fill="#222" text-anchor="end" xml:space="preserve">d.  14</text>
<text transform="translate(85 405.8) scale(0.1)" font-size="66.00" font-weight="bold" fill="#222" text-anchor="middle">time post injection</text>
<text transform="translate(220.4 101.6) scale(0.1)" font-size="70.00" font-weight="bold" fill="#222" text-anchor="middle">MPL</text>
<text transform="translate(258.4 101.6) scale(0.1)" font-size="70.00" font-weight="bold" fill="#222" text-anchor="middle">R-848</text>
<text transform="translate(299.4 101.6) scale(0.1)" font-size="70.00" font-weight="bold" fill="#222" text-anchor="middle">CpG</text>
<text transform="translate(320.8 130.4) scale(0.1)" font-size="71.00" font-weight="bold" fill="#111" text-anchor="start">baseline</text>
<text transform="translate(320.8 168.70000000000002) scale(0.1)" font-size="71.00" font-weight="bold" fill="#111" text-anchor="start">3 hr</text>
<text transform="translate(320.8 208.9) scale(0.1)" font-size="71.00" font-weight="bold" fill="#111" text-anchor="start">8 hr</text>
<text transform="translate(320.8 248.3) scale(0.1)" font-size="71.00" font-weight="bold" fill="#111" text-anchor="start">day 1</text>
<text transform="translate(320.8 288.5) scale(0.1)" font-size="71.00" font-weight="bold" fill="#111" text-anchor="start">day 2</text>
<text transform="translate(320.8 327.3) scale(0.1)" font-size="71.00" font-weight="bold" fill="#111" text-anchor="start">day 3</text>
<text transform="translate(320.8 367.3) scale(0.1)" font-size="71.00" font-weight="bold" fill="#111" text-anchor="start">day 6</text>
<text transform="translate(320.8 405.3) scale(0.1)" font-size="71.00" font-weight="bold" fill="#111" text-anchor="start">day 14</text>
<rect x="196.3" y="105.2" width="39.8" height="39.2" fill="none" stroke="#b0b0b0" stroke-width="0.5"/>
<g stroke="#a8a8a8" stroke-width="0.45"><line x1="210.5" y1="105.2" x2="210.5" y2="135.1"/><line x1="196.3" y1="135.1" x2="236.10000000000002" y2="135.1"/><line x1="216.8" y1="135.1" x2="216.8" y2="144.4"/></g>
<text transform="translate(197.5 110.2) scale(0.1)" font-size="42.00" font-weight="normal" fill="#222" text-anchor="start">83.3</text>
<text transform="translate(234.90000000000003 110.2) scale(0.1)" font-size="42.00" font-weight="normal" fill="#222" text-anchor="end">5.12</text>
<text transform="translate(234.90000000000003 143.4) scale(0.1)" font-size="42.00" font-weight="normal" fill="#222" text-anchor="end">5.16</text>
<path d="M206.5,135.2h0.56M204.1,136.9h0.56M202.2,138.3h0.56M204.2,135.7h0.56M207.3,137.2h0.56M201.7,137.2h0.56M204.3,138.1h0.56M210.8,138.7h0.56M208.6,137.0h0.56M206.0,138.6h0.56M204.5,138.0h0.56M203.6,139.0h0.56M202.3,141.5h0.56M204.4,138.3h0.56M205.2,133.5h0.56M205.9,135.3h0.56M205.3,136.4h0.56M204.0,133.8h0.56M201.3,136.1h0.56M201.9,138.0h0.56M201.0,137.9h0.56M206.2,135.6h0.56M202.2,136.6h0.56M206.9,140.7h0.56M210.5,137.6h0.56M206.4,137.8h0.56M204.7,134.8h0.56M203.8,140.0h0.56M208.5,136.0h0.56M200.4,141.9h0.56M204.8,138.5h0.56M204.3,133.1h0.56M205.6,135.1h0.56M204.0,135.9h0.56M204.1,143.1h0.56M208.8,132.7h0.56M200.6,136.2h0.56M203.0,139.2h0.56M209.0,135.6h0.56M206.3,136.9h0.56M199.5,140.2h0.56M209.4,135.4h0.56M206.5,136.2h0.56M204.5,136.3h0.56M204.4,137.5h0.56M203.1,138.0h0.56M201.3,139.3h0.56M202.2,133.0h0.56M207.0,136.6h0.56M203.3,139.6h0.56M204.7,142.0h0.56M205.9,134.0h0.56M203.4,135.8h0.56M204.0,141.4h0.56M212.1,141.5h0.56M206.0,138.7h0.56M205.2,132.1h0.56M208.5,142.1h0.56M203.4,137.3h0.56M202.9,136.9h0.56M202.4,134.7h0.56M208.0,132.8h0.56M207.5,134.7h0.56M204.1,132.6h0.56M206.5,135.0h0.56M211.5,135.2h0.56M205.4,139.0h0.56M202.2,135.4h0.56M201.9,138.7h0.56M205.6,139.8h0.56M200.9,135.2h0.56M204.4,136.3h0.56M205.6,140.1h0.56M205.1,135.5h0.56M204.6,135.7h0.56M203.0,141.8h0.56M206.6,141.7h0.56M204.2,137.2h0.56M201.4,138.0h0.56M206.7,139.0h0.56M201.6,137.6h0.56M207.2,136.3h0.56M206.7,136.2h0.56M204.8,136.0h0.56M200.8,135.4h0.56M205.2,136.7h0.56M204.7,136.0h0.56M207.1,137.0h0.56M205.8,136.3h0.56M208.3,137.1h0.56M205.9,142.6h0.56M205.9,133.7h0.56M203.0,138.2h0.56M201.2,133.9h0.56M204.4,133.6h0.56M207.7,138.4h0.56M203.9,140.3h0.56M202.9,134.6h0.56M207.2,137.4h0.56M204.2,139.9h0.56M204.4,138.9h0.56M205.4,140.1h0.56M206.2,136.3h0.56M208.8,136.5h0.56M209.4,134.4h0.56M204.9,132.1h0.56M206.2,140.6h0.56M203.7,138.5h0.56M204.2,140.8h0.56" stroke="#444" stroke-width="0.56" opacity="0.35" fill="none"/>
<rect x="200.93" y="134.72" width="7.62" height="8.18" fill="#666" opacity="0.32" filter="url(#b12)"/>
<path d="M207.40,125.80 C217.80,125.80 221.60,127.30 220.80,139.40" fill="none" stroke="#702020" stroke-width="4.17" stroke-linecap="round" opacity="0.41" filter="url(#b08)"/>
<path d="M207.40,125.80 C217.80,125.80 221.60,127.30 220.80,139.40" fill="none" stroke="#b01818" stroke-width="1.84" stroke-linecap="round" opacity="0.39" filter="url(#b05)"/>
<path d="M211.5,127.3h0.5M221.6,133.7h0.5M204.1,125.1h0.5M208.8,125.3h0.5M219.2,129.8h0.5M211.3,125.6h0.5M211.4,126.0h0.5M218.8,134.2h0.5M220.5,127.8h0.5M214.7,127.2h0.5M213.9,125.2h0.5M209.0,128.2h0.5M214.7,128.3h0.5M220.2,139.2h0.5M214.7,127.7h0.5M220.0,131.9h0.5M221.5,134.6h0.5M214.4,125.2h0.5M215.2,126.7h0.5M216.3,127.0h0.5M214.6,125.5h0.5M215.7,129.0h0.5M205.8,128.3h0.5M221.0,132.2h0.5M216.4,126.6h0.5M207.9,127.0h0.5M222.0,137.5h0.5M219.2,127.4h0.5M213.2,125.5h0.5M211.1,127.2h0.5M212.2,125.9h0.5M211.1,124.8h0.5M219.3,133.4h0.5M209.4,125.0h0.5M221.8,133.6h0.5M213.6,124.4h0.5M210.9,125.8h0.5M208.5,125.5h0.5M223.3,138.7h0.5M220.5,131.0h0.5M221.8,130.3h0.5M206.6,129.0h0.5M219.2,134.0h0.5M221.3,125.6h0.5M221.8,137.9h0.5M220.8,138.4h0.5M223.1,129.1h0.5M221.1,137.8h0.5M217.6,126.8h0.5M221.0,134.5h0.5M212.8,127.0h0.5M214.5,126.9h0.5M214.9,125.6h0.5M221.0,134.8h0.5M214.7,125.2h0.5M214.1,126.0h0.5M218.2,127.6h0.5M221.4,133.4h0.5M219.6,128.5h0.5M214.5,127.4h0.5M209.1,126.2h0.5M207.9,126.6h0.5M210.3,124.1h0.5M221.5,128.7h0.5M220.7,131.8h0.5M214.9,127.5h0.5" stroke="#6a1515" stroke-width="0.5" opacity="0.5"/>
<ellipse cx="220.80" cy="137.60" rx="1.75" ry="3.30" fill="#c81212" opacity="1.00" filter="url(#b05)"/>
<path d="M202.9,131.9h0.60M208.9,137.0h0.60M204.5,130.9h0.60M203.1,131.2h0.60M206.4,134.2h0.60M204.4,129.1h0.60M206.1,128.3h0.60M210.3,120.8h0.60M200.3,127.1h0.60M206.6,129.0h0.60M205.9,123.4h0.60M206.4,130.9h0.60M209.1,131.9h0.60M203.2,126.2h0.60M201.8,127.1h0.60M204.6,133.5h0.60M209.2,129.2h0.60M206.4,128.3h0.60M201.4,130.9h0.60M202.9,123.0h0.60M202.6,134.4h0.60M201.8,133.9h0.60M201.2,128.7h0.60M206.2,127.5h0.60M202.3,128.9h0.60M209.2,131.3h0.60M205.3,131.0h0.60M208.0,133.8h0.60M204.1,125.7h0.60M202.2,129.2h0.60M204.0,128.9h0.60M203.2,138.0h0.60M203.0,134.1h0.60M202.5,126.1h0.60M201.7,124.9h0.60M200.5,125.9h0.60M204.2,131.5h0.60M200.1,130.5h0.60M204.5,128.9h0.60M199.1,130.7h0.60M206.6,133.1h0.60M204.0,133.4h0.60M205.0,125.6h0.60M206.2,132.5h0.60M205.4,128.8h0.60M204.2,131.4h0.60M200.0,130.0h0.60M201.4,127.0h0.60M205.4,133.4h0.60M204.8,125.6h0.60M212.0,130.1h0.60M197.6,128.6h0.60M202.9,126.7h0.60M207.6,136.7h0.60M205.1,124.0h0.60M207.1,129.3h0.60M203.7,129.7h0.60M201.7,129.6h0.60M205.8,133.3h0.60M210.2,126.6h0.60M205.8,126.0h0.60M205.1,133.1h0.60M206.5,127.9h0.60M209.6,132.2h0.60M208.1,129.2h0.60M208.4,128.4h0.60M207.1,129.1h0.60M204.8,123.3h0.60M207.4,131.0h0.60M203.2,129.2h0.60M206.4,131.2h0.60M199.3,134.3h0.60M202.1,135.9h0.60M207.9,129.4h0.60M205.4,130.0h0.60M203.7,134.4h0.60M203.0,127.0h0.60M204.2,123.2h0.60M207.6,124.6h0.60M208.9,132.4h0.60M210.2,126.8h0.60M204.0,127.3h0.60M206.9,125.7h0.60M204.0,120.5h0.60M204.9,129.7h0.60M210.2,125.9h0.60M207.4,131.0h0.60M207.2,124.9h0.60M207.4,129.6h0.60M208.7,136.8h0.60M202.9,127.4h0.60M208.9,122.8h0.60M198.1,129.9h0.60M205.7,134.5h0.60M206.8,128.8h0.60M203.3,122.2h0.60M206.2,126.7h0.60M203.8,130.1h0.60M199.3,128.6h0.60M203.1,136.2h0.60M204.5,133.1h0.60M202.1,123.1h0.60M207.2,127.7h0.60M201.2,132.9h0.60M206.2,122.6h0.60M204.2,136.3h0.60M205.1,123.9h0.60M202.6,134.0h0.60M208.9,131.5h0.60M200.7,132.0h0.60M202.6,127.1h0.60M203.5,132.9h0.60M206.2,131.1h0.60M203.6,127.0h0.60M207.8,126.7h0.60M204.1,131.0h0.60M204.3,132.6h0.60M206.4,131.3h0.60M211.1,126.9h0.60M210.5,124.2h0.60M202.7,119.7h0.60M203.0,126.0h0.60M206.8,133.6h0.60M211.2,127.0h0.60M207.7,128.2h0.60M199.8,113.4h0.60M203.9,121.7h0.60M207.2,125.4h0.60M206.6,126.4h0.60M206.1,125.4h0.60M205.9,135.7h0.60M205.8,123.8h0.60M202.7,129.4h0.60M207.0,124.3h0.60M202.3,122.9h0.60M209.6,130.0h0.60M205.7,127.3h0.60M210.1,131.1h0.60M204.6,133.5h0.60M206.4,127.9h0.60M203.8,128.9h0.60M208.6,123.6h0.60M200.3,131.5h0.60M207.7,134.4h0.60M206.4,123.3h0.60M207.1,129.6h0.60M202.1,122.9h0.60M200.6,129.2h0.60M201.3,130.3h0.60M204.4,131.3h0.60M207.2,125.5h0.60M203.8,131.7h0.60M203.1,132.7h0.60M206.5,132.3h0.60M203.2,131.9h0.60M204.2,129.7h0.60M206.6,126.8h0.60M204.7,119.9h0.60M202.9,131.3h0.60" stroke="#000" stroke-width="0.60" opacity="0.5" fill="none"/>
<rect x="199.93" y="121.39" width="12.97" height="17.33" rx="3" fill="#333" opacity="0.35" filter="url(#b20)"/>
<rect x="201.43" y="122.89" width="11.47" height="11.83" rx="2" fill="#222" opacity="0.45" filter="url(#b12)"/>
<rect x="200.43" y="122.39" width="8.97" height="13.33" rx="3.45" fill="#000" filter="url(#b08)"/>
<rect x="201.63" y="123.59" width="6.17" height="10.93" rx="2.30" fill="#000" opacity="0.8"/>
<rect x="239.0" y="105.2" width="40.2" height="39.2" fill="none" stroke="#b0b0b0" stroke-width="0.5"/>
<g stroke="#a8a8a8" stroke-width="0.45"><line x1="252.4" y1="105.2" x2="252.4" y2="135.1"/><line x1="239.0" y1="135.1" x2="279.2" y2="135.1"/><line x1="259.1" y1="135.1" x2="259.1" y2="144.4"/></g>
<text transform="translate(240.2 110.2) scale(0.1)" font-size="42.00" font-weight="normal" fill="#222" text-anchor="start">79.9</text>
<text transform="translate(278.0 110.2) scale(0.1)" font-size="42.00" font-weight="normal" fill="#222" text-anchor="end">10.2</text>
<text transform="translate(278.0 143.4) scale(0.1)" font-size="42.00" font-weight="normal" fill="#222" text-anchor="end">3.95</text>
<path d="M244.4,131.8h0.56M243.4,136.2h0.56M249.3,138.2h0.56M243.5,137.9h0.56M244.0,139.6h0.56M248.5,135.4h0.56M246.1,136.7h0.56M245.8,139.7h0.56M248.3,135.5h0.56M248.7,133.5h0.56M247.9,136.1h0.56M245.8,136.8h0.56M248.1,133.3h0.56M249.6,135.5h0.56M248.4,140.9h0.56M244.5,140.9h0.56M246.4,141.5h0.56M245.1,139.5h0.56M245.9,140.0h0.56M249.9,137.7h0.56M245.1,139.5h0.56M248.4,134.2h0.56M249.0,136.5h0.56M247.1,134.5h0.56M248.0,139.0h0.56M245.1,138.9h0.56M242.4,137.2h0.56M248.1,134.6h0.56M247.8,133.7h0.56M252.5,137.9h0.56M250.4,134.6h0.56M241.3,136.7h0.56M251.1,136.5h0.56M250.6,137.9h0.56M248.3,139.5h0.56M245.8,135.9h0.56M250.4,138.0h0.56M246.0,134.2h0.56M251.4,129.0h0.56M249.9,136.5h0.56M243.9,137.9h0.56M248.7,142.5h0.56M248.2,130.7h0.56M244.9,138.8h0.56M246.1,136.8h0.56M247.2,140.4h0.56M248.3,136.5h0.56M245.7,139.4h0.56M245.6,137.9h0.56M248.5,138.7h0.56M249.5,137.6h0.56M252.7,138.8h0.56M245.4,134.7h0.56M245.6,140.2h0.56M244.5,140.7h0.56M248.6,135.5h0.56M244.8,136.7h0.56M249.4,136.7h0.56M249.3,137.3h0.56M251.0,135.7h0.56M247.1,134.1h0.56M246.6,134.5h0.56M243.4,136.4h0.56M249.2,131.4h0.56M244.0,133.5h0.56M248.4,138.3h0.56M248.3,136.4h0.56M245.4,137.4h0.56M245.1,136.3h0.56M248.5,136.3h0.56M250.6,131.6h0.56M243.2,139.3h0.56M245.9,135.7h0.56M246.0,136.7h0.56M247.0,137.8h0.56M249.9,141.4h0.56M241.8,136.6h0.56M245.1,137.4h0.56M244.8,137.1h0.56M248.1,136.8h0.56M248.0,138.5h0.56M244.6,136.8h0.56M250.2,139.2h0.56M250.0,134.9h0.56M245.7,139.3h0.56M247.4,137.6h0.56M246.5,139.1h0.56M247.9,134.5h0.56M248.4,136.0h0.56M246.7,138.3h0.56M247.8,135.5h0.56M244.3,135.8h0.56M247.1,134.0h0.56M245.8,142.6h0.56M245.7,137.0h0.56M244.2,136.1h0.56M248.1,137.3h0.56M243.0,137.0h0.56M244.8,139.6h0.56M247.1,140.8h0.56M248.4,134.1h0.56M249.9,135.7h0.56M247.1,137.1h0.56M244.0,139.8h0.56M247.8,134.4h0.56M243.8,138.0h0.56M250.6,137.9h0.56M248.2,135.9h0.56M250.3,138.2h0.56" stroke="#444" stroke-width="0.56" opacity="0.35" fill="none"/>
<rect x="241.44" y="133.78" width="11.27" height="9.12" fill="#666" opacity="0.32" filter="url(#b12)"/>
<path d="M252.20,125.50 C260.60,125.50 264.40,127.00 263.60,140.30" fill="none" stroke="#702020" stroke-width="4.24" stroke-linecap="round" opacity="0.45" filter="url(#b08)"/>
<path d="M252.20,125.50 C260.60,125.50 264.40,127.00 263.60,140.30" fill="none" stroke="#b01818" stroke-width="1.88" stroke-linecap="round" opacity="0.42" filter="url(#b05)"/>
<path d="M262.7,127.7h0.5M267.0,137.9h0.5M254.1,126.5h0.5M262.5,136.1h0.5M254.3,122.4h0.5M255.3,125.9h0.5M263.7,135.6h0.5M263.0,134.7h0.5M256.6,125.4h0.5M262.8,130.3h0.5M262.8,139.9h0.5M256.6,126.0h0.5M263.5,136.8h0.5M257.1,123.7h0.5M256.5,126.7h0.5M261.8,134.1h0.5M264.1,127.7h0.5M252.1,124.8h0.5M262.0,134.4h0.5M264.9,127.7h0.5M264.0,136.6h0.5M262.4,133.1h0.5M259.3,125.8h0.5M255.1,126.1h0.5M264.5,135.1h0.5M256.8,125.1h0.5M253.7,125.5h0.5M253.6,124.6h0.5M262.3,127.4h0.5M259.8,124.9h0.5M261.5,130.9h0.5M253.6,125.9h0.5M251.3,125.2h0.5M255.1,126.3h0.5M262.4,136.1h0.5M258.7,126.6h0.5M254.8,125.4h0.5M264.0,130.5h0.5M253.1,126.3h0.5M253.1,127.1h0.5M260.0,124.7h0.5M264.1,137.3h0.5M265.7,128.4h0.5M259.3,126.4h0.5M256.3,126.0h0.5M262.5,132.6h0.5M262.5,132.7h0.5M255.6,126.5h0.5M264.2,138.2h0.5M265.4,138.2h0.5M258.7,127.6h0.5M253.3,125.4h0.5M260.0,124.4h0.5M254.7,125.9h0.5M257.9,126.3h0.5M252.9,125.7h0.5M263.9,136.7h0.5M259.9,126.3h0.5M264.6,134.7h0.5M255.6,126.6h0.5M256.0,125.4h0.5M263.8,131.0h0.5M260.7,136.5h0.5M264.8,129.9h0.5M255.3,126.6h0.5M261.4,140.2h0.5M262.8,138.9h0.5M263.2,131.9h0.5M252.4,126.4h0.5M258.6,127.0h0.5M257.1,126.6h0.5M263.1,131.3h0.5" stroke="#6a1515" stroke-width="0.5" opacity="0.5"/>
<ellipse cx="263.60" cy="138.50" rx="1.75" ry="3.30" fill="#c81212" opacity="1.00" filter="url(#b05)"/>
<path d="M250.5,125.6h0.60M245.7,133.3h0.60M253.2,124.3h0.60M248.1,130.7h0.60M256.7,130.9h0.60M246.7,131.8h0.60M247.7,125.5h0.60M247.3,127.8h0.60M246.6,128.9h0.60M248.8,125.8h0.60M250.1,123.0h0.60M250.0,130.3h0.60M249.1,123.3h0.60M245.5,129.3h0.60M249.3,131.2h0.60M241.5,128.7h0.60M251.7,124.5h0.60M242.7,126.9h0.60M246.4,127.7h0.60M252.3,129.6h0.60M240.0,131.4h0.60M247.8,131.6h0.60M247.3,133.5h0.60M248.0,126.9h0.60M242.8,131.9h0.60M246.9,122.5h0.60M250.7,133.2h0.60M250.0,134.7h0.60M252.2,126.0h0.60M249.2,131.2h0.60M241.7,133.7h0.60M249.4,131.6h0.60M244.0,131.5h0.60M247.3,127.5h0.60M247.6,129.8h0.60M241.5,128.6h0.60M248.9,122.9h0.60M254.1,137.7h0.60M250.1,128.6h0.60M243.4,124.7h0.60M242.6,131.7h0.60M244.0,129.3h0.60M245.7,131.8h0.60M252.4,131.9h0.60M250.0,132.4h0.60M254.1,125.6h0.60M248.5,126.4h0.60M247.6,127.9h0.60M247.9,131.2h0.60M242.4,119.5h0.60M248.5,132.4h0.60M245.9,133.8h0.60M256.3,128.9h0.60M246.6,130.5h0.60M250.4,123.4h0.60M249.4,121.5h0.60M243.3,129.5h0.60M248.7,124.5h0.60M247.6,133.2h0.60M241.0,130.6h0.60M252.4,123.9h0.60M252.1,130.2h0.60M246.2,128.8h0.60M247.3,128.8h0.60M246.6,126.1h0.60M251.0,134.7h0.60M246.7,133.7h0.60M244.4,124.2h0.60M249.9,129.5h0.60M249.2,125.3h0.60M245.9,132.3h0.60M253.7,129.6h0.60M248.9,119.4h0.60M244.9,133.3h0.60M254.9,125.8h0.60M242.3,127.2h0.60M245.1,127.4h0.60M243.6,131.0h0.60M248.6,124.1h0.60M241.2,136.0h0.60M249.6,129.4h0.60M240.8,136.3h0.60M243.4,129.1h0.60M248.7,126.1h0.60M247.9,127.1h0.60M245.0,126.8h0.60M249.1,134.5h0.60M246.5,136.4h0.60M245.7,129.1h0.60M246.5,122.7h0.60M247.1,128.0h0.60M244.1,131.3h0.60M249.0,127.6h0.60M244.0,129.8h0.60M244.2,125.7h0.60M245.4,132.0h0.60M246.3,128.1h0.60M246.1,130.8h0.60M246.7,131.6h0.60M246.8,131.7h0.60M246.2,126.1h0.60M249.0,128.0h0.60M245.6,133.8h0.60M245.4,126.0h0.60M246.0,133.8h0.60M242.1,132.8h0.60M249.4,127.3h0.60M246.0,126.2h0.60M241.9,123.1h0.60M245.6,130.8h0.60M243.7,127.5h0.60M244.3,128.0h0.60M248.9,133.0h0.60M249.6,130.0h0.60M252.7,131.3h0.60M249.2,130.7h0.60M250.5,125.1h0.60M243.8,129.0h0.60M240.4,127.8h0.60M246.0,129.9h0.60M250.0,133.3h0.60M248.6,133.8h0.60M244.8,130.2h0.60M246.7,125.4h0.60M248.2,132.1h0.60M245.9,129.1h0.60M251.5,128.1h0.60M246.0,129.8h0.60M249.0,130.2h0.60M252.0,130.3h0.60M242.6,123.0h0.60M246.9,134.7h0.60M247.4,127.2h0.60M248.3,130.6h0.60M252.1,124.2h0.60M250.2,129.4h0.60M250.4,132.6h0.60M249.1,126.0h0.60M246.7,132.5h0.60M241.4,131.9h0.60M250.3,134.9h0.60M243.9,126.6h0.60M251.1,127.7h0.60M248.8,119.5h0.60M256.5,122.2h0.60M240.8,130.5h0.60M249.1,125.9h0.60M248.1,125.5h0.60M247.7,126.7h0.60M243.2,131.2h0.60M247.2,128.9h0.60M242.4,126.2h0.60M246.1,126.6h0.60" stroke="#000" stroke-width="0.60" opacity="0.5" fill="none"/>
<rect x="240.44" y="121.31" width="17.26" height="16.47" rx="3" fill="#333" opacity="0.35" filter="url(#b20)"/>
<rect x="241.94" y="122.81" width="15.76" height="10.97" rx="2" fill="#222" opacity="0.45" filter="url(#b12)"/>
<rect x="240.94" y="122.31" width="13.26" height="12.47" rx="4.35" fill="#000" filter="url(#b08)"/>
<rect x="242.14" y="123.51" width="10.46" height="10.07" rx="2.90" fill="#000" opacity="0.8"/>
<rect x="281.2" y="105.2" width="38.6" height="39.2" fill="none" stroke="#b0b0b0" stroke-width="0.5"/>
<g stroke="#a8a8a8" stroke-width="0.45"><line x1="292.5" y1="105.2" x2="292.5" y2="135.1"/><line x1="281.2" y1="135.1" x2="319.8" y2="135.1"/><line x1="298.8" y1="135.1" x2="298.8" y2="144.4"/></g>
<text transform="translate(282.4 110.2) scale(0.1)" font-size="42.00" font-weight="normal" fill="#222" text-anchor="start">72.4</text>
<text transform="translate(318.6 110.2) scale(0.1)" font-size="42.00" font-weight="normal" fill="#222" text-anchor="end">10.4</text>
<text transform="translate(318.6 143.4) scale(0.1)" font-size="42.00" font-weight="normal" fill="#222" text-anchor="end">6.07</text>
<path d="M289.2,136.5h0.56M287.7,136.0h0.56M289.3,138.9h0.56M285.4,138.8h0.56M290.6,138.4h0.56M286.8,136.9h0.56M293.9,133.2h0.56M290.5,135.8h0.56M292.7,136.8h0.56M290.5,134.9h0.56M286.9,140.4h0.56M284.9,135.2h0.56M287.6,133.4h0.56M289.9,133.4h0.56M288.4,135.8h0.56M282.4,136.8h0.56M284.1,136.5h0.56M282.0,135.1h0.56M290.4,137.1h0.56M291.2,140.4h0.56M290.2,136.0h0.56M287.9,138.0h0.56M284.9,133.9h0.56M288.2,140.7h0.56M285.3,137.0h0.56M286.4,138.2h0.56M289.2,136.3h0.56M290.7,135.8h0.56M283.8,141.6h0.56M287.9,137.2h0.56M290.3,134.4h0.56M287.0,134.6h0.56M289.8,137.4h0.56M288.8,133.2h0.56M286.0,132.9h0.56M284.6,134.6h0.56M289.0,137.6h0.56M283.4,138.0h0.56M289.2,140.3h0.56M290.5,132.7h0.56M289.5,137.0h0.56M289.1,134.6h0.56M292.1,136.7h0.56M286.7,132.0h0.56M287.6,133.0h0.56M284.3,140.4h0.56M288.1,138.8h0.56M291.2,138.2h0.56M287.1,133.5h0.56M287.8,136.7h0.56M287.9,135.7h0.56M288.6,132.9h0.56M291.1,133.5h0.56M288.6,134.3h0.56M291.9,135.0h0.56M285.8,135.5h0.56M290.6,133.4h0.56M284.8,135.1h0.56M290.3,129.2h0.56M290.7,142.0h0.56M287.8,138.7h0.56M287.9,131.8h0.56M287.1,137.9h0.56M285.3,135.7h0.56M286.5,137.4h0.56M294.9,136.6h0.56M284.8,140.5h0.56M287.5,135.4h0.56M289.6,138.3h0.56M288.8,137.3h0.56M288.7,133.4h0.56M290.3,138.6h0.56M286.1,132.1h0.56M286.6,136.9h0.56M292.0,137.0h0.56M288.4,137.0h0.56M284.2,135.5h0.56M288.6,138.1h0.56M290.4,140.5h0.56M286.4,135.3h0.56M287.0,137.6h0.56M293.6,136.9h0.56M288.7,134.1h0.56M284.8,140.8h0.56M288.0,139.9h0.56M290.5,135.2h0.56M288.9,134.2h0.56M290.0,136.0h0.56M290.4,139.5h0.56M286.7,138.4h0.56M289.4,135.1h0.56M289.0,139.5h0.56M288.7,138.8h0.56M289.2,139.5h0.56M287.9,135.6h0.56M290.0,130.7h0.56M286.9,140.2h0.56M286.3,141.0h0.56M292.6,135.2h0.56M286.2,137.4h0.56M290.7,140.7h0.56M292.4,134.6h0.56M290.6,135.1h0.56M291.2,137.6h0.56M292.2,136.2h0.56M290.5,133.2h0.56M285.6,137.7h0.56M288.5,138.6h0.56M294.5,134.8h0.56" stroke="#444" stroke-width="0.56" opacity="0.35" fill="none"/>
<rect x="283.20" y="132.86" width="9.94" height="10.04" fill="#666" opacity="0.32" filter="url(#b12)"/>
<path d="M292.40,124.90 C303.50,124.90 307.30,126.40 306.50,140.20" fill="none" stroke="#702020" stroke-width="4.24" stroke-linecap="round" opacity="0.45" filter="url(#b08)"/>
<path d="M292.40,124.90 C303.50,124.90 307.30,126.40 306.50,140.20" fill="none" stroke="#b01818" stroke-width="1.88" stroke-linecap="round" opacity="0.42" filter="url(#b05)"/>
<path d="M306.2,125.3h0.5M306.9,127.2h0.5M306.7,139.6h0.5M291.2,126.0h0.5M298.7,124.4h0.5M295.1,124.2h0.5M308.5,130.6h0.5M298.6,124.8h0.5M301.0,125.8h0.5M300.4,125.3h0.5M305.3,140.6h0.5M305.1,132.7h0.5M304.5,139.9h0.5M299.4,129.0h0.5M296.8,124.5h0.5M295.9,124.9h0.5M308.5,129.7h0.5M305.9,135.5h0.5M307.5,136.4h0.5M295.2,125.5h0.5M303.5,138.2h0.5M292.8,125.4h0.5M298.9,124.4h0.5M294.1,124.0h0.5M298.4,124.7h0.5M295.5,125.3h0.5M301.4,125.9h0.5M306.0,138.3h0.5M302.8,126.1h0.5M305.8,128.2h0.5M294.7,124.5h0.5M305.2,126.7h0.5M309.4,138.9h0.5M305.0,125.3h0.5M295.0,125.2h0.5M297.0,124.4h0.5M305.3,137.8h0.5M302.7,125.5h0.5M294.7,123.3h0.5M306.4,133.2h0.5M293.7,124.7h0.5M308.5,130.6h0.5M303.6,125.5h0.5M308.1,127.0h0.5M295.5,127.4h0.5M307.8,130.5h0.5M298.0,124.7h0.5M305.9,130.7h0.5M297.9,122.4h0.5M308.9,139.6h0.5M306.2,127.1h0.5M305.7,129.9h0.5M304.6,126.8h0.5M306.1,131.0h0.5M292.7,125.4h0.5M306.1,136.3h0.5M300.0,124.9h0.5M297.8,126.2h0.5M297.6,125.0h0.5M296.8,125.0h0.5M291.8,125.9h0.5M308.3,126.0h0.5M292.9,124.1h0.5M306.8,125.7h0.5M303.4,124.9h0.5M306.6,126.2h0.5M294.3,124.8h0.5M305.0,137.8h0.5M293.7,124.8h0.5M307.3,128.3h0.5M302.5,123.7h0.5M294.0,124.5h0.5" stroke="#6a1515" stroke-width="0.5" opacity="0.5"/>
<ellipse cx="306.50" cy="138.40" rx="1.75" ry="3.30" fill="#c81212" opacity="1.00" filter="url(#b05)"/>
<path d="M290.2,125.0h0.60M288.2,131.7h0.60M286.5,127.7h0.60M283.1,123.6h0.60M290.6,131.9h0.60M286.0,127.1h0.60M289.6,126.3h0.60M288.7,126.4h0.60M290.6,126.0h0.60M286.6,123.0h0.60M285.6,122.6h0.60M287.9,131.3h0.60M283.6,124.8h0.60M285.6,129.4h0.60M287.3,126.7h0.60M284.9,126.8h0.60M287.1,125.0h0.60M293.6,129.5h0.60M287.8,128.9h0.60M296.9,129.9h0.60M286.4,127.7h0.60M292.6,129.4h0.60M287.4,128.1h0.60M284.3,126.6h0.60M286.9,126.9h0.60M293.4,127.9h0.60M292.7,127.8h0.60M282.9,132.0h0.60M286.4,127.4h0.60M292.5,132.6h0.60M289.0,132.2h0.60M286.6,130.0h0.60M285.0,131.2h0.60M286.3,130.0h0.60M284.0,132.8h0.60M294.4,126.9h0.60M288.6,124.4h0.60M287.7,122.7h0.60M291.1,127.5h0.60M292.7,127.8h0.60M287.6,124.9h0.60M290.8,127.3h0.60M284.0,122.6h0.60M291.9,127.4h0.60M288.2,125.8h0.60M286.5,127.7h0.60M289.1,123.6h0.60M297.6,130.9h0.60M292.6,125.5h0.60M283.4,129.6h0.60M286.1,127.7h0.60M294.5,127.7h0.60M293.3,125.0h0.60M287.0,130.1h0.60M290.0,120.9h0.60M284.3,126.2h0.60M285.7,125.5h0.60M287.2,128.3h0.60M282.9,124.5h0.60M285.0,131.9h0.60M287.8,122.6h0.60M290.2,130.9h0.60M282.4,123.5h0.60M290.1,127.9h0.60M290.7,133.3h0.60M290.9,131.2h0.60M286.6,132.6h0.60M285.8,128.9h0.60M291.3,124.5h0.60M286.7,120.3h0.60M287.1,123.2h0.60M288.6,126.1h0.60M285.9,126.6h0.60M286.9,127.7h0.60M287.4,131.6h0.60M292.3,119.1h0.60M293.4,127.0h0.60M289.7,124.6h0.60M290.6,129.7h0.60M286.3,123.8h0.60M290.3,129.2h0.60M285.1,120.3h0.60M284.3,129.1h0.60M293.1,124.3h0.60M286.3,124.0h0.60M289.7,125.0h0.60M294.6,129.7h0.60M287.7,126.3h0.60M292.1,126.3h0.60M287.0,128.1h0.60M292.3,132.6h0.60M287.1,123.5h0.60M285.1,127.1h0.60M290.8,118.7h0.60M290.8,129.1h0.60M289.2,122.6h0.60M288.8,125.9h0.60M285.0,129.8h0.60M293.0,128.3h0.60M290.6,131.1h0.60M288.6,126.2h0.60M293.9,125.6h0.60M287.4,128.8h0.60M286.9,124.4h0.60M292.5,127.6h0.60M285.9,125.7h0.60M290.6,130.5h0.60M289.2,131.6h0.60M288.4,133.1h0.60M291.8,123.8h0.60M288.1,128.8h0.60M288.4,124.3h0.60M290.2,127.4h0.60M283.1,123.3h0.60M287.1,130.8h0.60M288.4,128.3h0.60M291.9,126.9h0.60M288.6,127.4h0.60M291.8,125.4h0.60M289.9,125.2h0.60M288.8,131.4h0.60M285.7,129.3h0.60M288.8,128.4h0.60M290.4,127.9h0.60M290.3,133.8h0.60M286.0,124.0h0.60M291.2,129.0h0.60M295.7,125.5h0.60M291.1,125.8h0.60M286.8,125.6h0.60M285.6,124.5h0.60M287.4,127.1h0.60M288.7,130.4h0.60M285.3,127.4h0.60M285.4,130.5h0.60M285.3,126.5h0.60M285.7,131.3h0.60M284.2,123.8h0.60M287.1,126.5h0.60M285.3,131.5h0.60M286.6,120.6h0.60M287.8,123.2h0.60M286.2,126.0h0.60M285.3,126.2h0.60M287.1,129.8h0.60M297.5,125.3h0.60M286.9,131.5h0.60M294.6,130.3h0.60M287.6,134.2h0.60M288.8,131.7h0.60M286.6,123.5h0.60M293.3,124.7h0.60M284.8,128.1h0.60M285.2,129.9h0.60M288.8,127.0h0.60M286.6,132.6h0.60" stroke="#000" stroke-width="0.60" opacity="0.5" fill="none"/>
<rect x="282.20" y="120.82" width="15.70" height="16.04" rx="3" fill="#333" opacity="0.35" filter="url(#b20)"/>
<rect x="283.70" y="122.32" width="14.20" height="10.54" rx="2" fill="#222" opacity="0.45" filter="url(#b12)"/>
<rect x="282.70" y="121.82" width="11.70" height="12.04" rx="4.20" fill="#000" filter="url(#b08)"/>
<rect x="283.90" y="123.02" width="8.90" height="9.64" rx="2.80" fill="#000" opacity="0.8"/>
<rect x="196.3" y="144.85" width="39.8" height="39.2" fill="none" stroke="#b0b0b0" stroke-width="0.5"/>
<g stroke="#a8a8a8" stroke-width="0.45"><line x1="210.5" y1="144.85" x2="210.5" y2="174.75"/><line x1="196.3" y1="174.75" x2="236.10000000000002" y2="174.75"/><line x1="216.8" y1="174.75" x2="216.8" y2="184.05"/></g>
<text transform="translate(197.5 149.85) scale(0.1)" font-size="42.00" font-weight="normal" fill="#222" text-anchor="start">82.1</text>
<text transform="translate(234.90000000000003 149.85) scale(0.1)" font-size="42.00" font-weight="normal" fill="#222" text-anchor="end">6.21</text>
<text transform="translate(234.90000000000003 183.05) scale(0.1)" font-size="42.00" font-weight="normal" fill="#222" text-anchor="end">6.55</text>
<path d="M208.0,178.9h0.56M200.6,180.1h0.56M204.5,180.3h0.56M205.7,174.5h0.56M199.7,174.5h0.56M207.5,175.0h0.56M208.7,173.0h0.56M206.0,175.9h0.56M200.4,177.0h0.56M203.1,175.4h0.56M198.5,173.7h0.56M202.4,175.8h0.56M201.9,181.1h0.56M203.1,176.6h0.56M203.3,179.2h0.56M205.8,178.5h0.56M200.0,176.5h0.56M203.8,177.7h0.56M202.4,176.5h0.56M201.5,175.3h0.56M205.2,174.9h0.56M201.9,175.8h0.56M205.1,177.1h0.56M200.9,175.1h0.56M201.0,173.7h0.56M210.7,179.1h0.56M206.1,175.4h0.56M206.5,179.9h0.56M207.6,177.9h0.56M201.5,181.9h0.56M206.3,178.2h0.56M205.1,177.0h0.56M203.1,172.0h0.56M209.1,182.4h0.56M205.5,177.8h0.56M204.1,178.0h0.56M203.7,175.9h0.56M205.9,172.0h0.56M208.0,175.2h0.56M205.7,177.6h0.56M208.5,180.2h0.56M200.6,173.8h0.56M204.6,172.2h0.56M205.8,175.8h0.56M202.0,178.2h0.56M201.6,174.3h0.56M204.1,178.2h0.56M203.6,175.3h0.56M204.7,175.2h0.56M199.0,178.4h0.56M205.4,178.8h0.56M204.5,177.3h0.56M199.5,172.8h0.56M198.8,179.0h0.56M202.2,179.4h0.56M205.3,175.0h0.56M203.8,174.2h0.56M202.9,177.0h0.56M205.9,175.0h0.56M199.7,178.9h0.56M201.0,177.9h0.56M199.9,173.9h0.56M198.6,177.7h0.56M209.2,176.5h0.56M198.4,175.6h0.56M204.8,177.0h0.56M204.5,173.7h0.56M203.2,180.7h0.56M202.5,175.2h0.56M200.7,174.6h0.56M207.3,177.0h0.56M202.6,175.3h0.56M206.3,174.8h0.56M201.8,175.4h0.56M197.0,178.9h0.56M201.8,178.0h0.56M204.0,178.6h0.56M202.5,182.1h0.56M205.5,175.6h0.56M204.9,171.1h0.56M200.9,171.2h0.56M203.3,181.4h0.56M204.9,172.6h0.56M199.7,177.1h0.56M205.7,175.6h0.56M208.0,176.7h0.56M209.6,178.2h0.56M209.7,169.7h0.56M206.1,178.0h0.56M208.1,177.6h0.56M205.1,176.9h0.56M204.6,177.5h0.56M208.4,172.2h0.56M202.8,172.6h0.56M202.4,176.8h0.56M204.5,177.1h0.56M206.0,177.2h0.56M203.1,175.9h0.56M201.1,175.1h0.56M203.7,177.1h0.56M199.6,178.8h0.56M203.8,172.4h0.56M203.5,177.5h0.56M204.3,175.1h0.56M201.5,176.7h0.56M204.4,176.9h0.56M202.9,179.1h0.56M199.0,176.1h0.56M199.5,171.4h0.56" stroke="#444" stroke-width="0.56" opacity="0.35" fill="none"/>
<rect x="199.66" y="173.25" width="8.62" height="9.30" fill="#666" opacity="0.32" filter="url(#b12)"/>
<path d="M207.30,164.65 C219.30,164.65 223.10,166.15 222.30,177.65" fill="none" stroke="#702020" stroke-width="4.17" stroke-linecap="round" opacity="0.41" filter="url(#b08)"/>
<path d="M207.30,164.65 C219.30,164.65 223.10,166.15 222.30,177.65" fill="none" stroke="#b01818" stroke-width="1.84" stroke-linecap="round" opacity="0.39" filter="url(#b05)"/>
<path d="M211.4,165.9h0.5M209.9,166.2h0.5M214.4,167.0h0.5M223.6,168.8h0.5M216.5,163.7h0.5M214.6,163.8h0.5M222.5,169.7h0.5M218.3,165.5h0.5M215.9,164.7h0.5M209.3,163.5h0.5M223.3,167.0h0.5M214.9,164.5h0.5M218.8,165.2h0.5M208.0,165.2h0.5M207.9,162.4h0.5M207.7,165.4h0.5M215.3,165.0h0.5M214.2,164.9h0.5M213.4,163.2h0.5M222.0,170.5h0.5M211.8,165.0h0.5M221.8,170.0h0.5M216.6,165.4h0.5M208.9,166.7h0.5M220.7,163.8h0.5M222.9,169.0h0.5M221.3,168.8h0.5M207.1,164.8h0.5M224.2,168.2h0.5M206.7,166.1h0.5M221.0,169.4h0.5M214.3,165.9h0.5M216.0,164.7h0.5M209.6,163.7h0.5M215.8,165.0h0.5M221.9,179.0h0.5M212.4,164.3h0.5M216.7,165.4h0.5M214.7,163.7h0.5M207.9,165.5h0.5M218.7,163.6h0.5M223.6,168.8h0.5M223.6,167.6h0.5M211.7,164.6h0.5M215.4,166.7h0.5M217.7,164.3h0.5M216.2,165.0h0.5M216.1,165.2h0.5M213.1,163.5h0.5M223.0,169.5h0.5M222.8,176.0h0.5M215.9,165.8h0.5M221.2,172.7h0.5M216.6,165.0h0.5M216.9,163.4h0.5M210.2,162.2h0.5M223.5,172.3h0.5M212.0,165.0h0.5M222.6,166.9h0.5M210.4,165.1h0.5M221.1,172.1h0.5M213.0,165.5h0.5M221.9,167.8h0.5M222.7,166.4h0.5M221.6,166.1h0.5M223.2,177.4h0.5" stroke="#6a1515" stroke-width="0.5" opacity="0.5"/>
<ellipse cx="222.30" cy="175.85" rx="1.75" ry="3.30" fill="#c81212" opacity="1.00" filter="url(#b05)"/>
<path d="M201.2,162.6h0.60M201.6,168.2h0.60M203.0,169.3h0.60M205.3,163.5h0.60M206.3,167.6h0.60M208.6,167.1h0.60M202.7,167.1h0.60M207.4,169.4h0.60M207.3,171.2h0.60M204.8,175.7h0.60M203.5,166.7h0.60M207.1,163.5h0.60M204.7,171.1h0.60M201.1,160.9h0.60M199.5,171.5h0.60M211.3,164.4h0.60M199.9,163.1h0.60M208.5,170.2h0.60M205.8,165.0h0.60M205.8,164.9h0.60M205.5,164.9h0.60M200.0,166.0h0.60M205.1,168.7h0.60M202.2,170.8h0.60M199.0,160.6h0.60M205.6,167.0h0.60M203.7,165.9h0.60M205.4,168.3h0.60M208.0,164.2h0.60M200.0,167.1h0.60M203.1,166.4h0.60M197.4,168.8h0.60M208.9,168.8h0.60M207.6,169.6h0.60M204.6,168.9h0.60M207.1,169.1h0.60M205.8,167.3h0.60M201.6,168.8h0.60M202.6,169.5h0.60M197.1,173.7h0.60M207.9,172.9h0.60M205.1,163.8h0.60M202.7,163.4h0.60M205.1,167.6h0.60M204.4,161.0h0.60M199.4,159.8h0.60M208.2,169.3h0.60M204.1,166.3h0.60M198.5,166.2h0.60M202.6,164.5h0.60M207.0,160.4h0.60M204.4,170.4h0.60M206.4,162.2h0.60M208.2,166.9h0.60M203.1,168.7h0.60M207.2,167.9h0.60M202.9,168.3h0.60M205.1,174.8h0.60M204.0,164.3h0.60M209.8,172.8h0.60M208.5,164.2h0.60M202.2,162.7h0.60M203.6,172.2h0.60M206.8,167.7h0.60M204.7,169.2h0.60M203.6,163.8h0.60M201.9,173.4h0.60M201.1,163.5h0.60M205.7,166.3h0.60M203.0,168.1h0.60M203.6,161.7h0.60M206.9,168.3h0.60M209.3,170.5h0.60M202.3,166.0h0.60M201.8,159.7h0.60M206.3,165.1h0.60M207.1,168.2h0.60M203.7,173.3h0.60M201.2,173.7h0.60M202.9,175.1h0.60M207.6,165.7h0.60M209.5,169.0h0.60M205.1,166.1h0.60M203.9,166.1h0.60M203.0,170.4h0.60M206.6,171.9h0.60M207.8,167.3h0.60M206.4,166.7h0.60M205.9,169.8h0.60M205.3,164.7h0.60M200.5,173.6h0.60M201.7,165.4h0.60M205.3,166.2h0.60M205.4,172.4h0.60M199.4,167.9h0.60M206.0,162.6h0.60M206.4,172.8h0.60M204.2,169.3h0.60M203.2,171.0h0.60M202.5,167.6h0.60M202.1,165.0h0.60M207.7,167.4h0.60M206.9,161.9h0.60M200.5,164.4h0.60M210.0,171.7h0.60M211.0,166.0h0.60M206.0,168.9h0.60M203.3,169.7h0.60M204.0,169.3h0.60M198.7,163.9h0.60M201.1,173.5h0.60M206.8,164.2h0.60M205.7,165.6h0.60M200.7,164.3h0.60M213.3,167.9h0.60M203.9,172.0h0.60M205.0,163.7h0.60M210.7,175.4h0.60M206.6,164.6h0.60M204.0,168.0h0.60M200.7,176.9h0.60M204.2,165.6h0.60M203.3,166.4h0.60M207.7,168.4h0.60M205.5,167.3h0.60M198.8,169.7h0.60M206.2,163.9h0.60M200.7,165.5h0.60M200.1,158.8h0.60M202.9,165.5h0.60M204.5,171.8h0.60M201.4,162.1h0.60M203.8,170.0h0.60M208.6,170.9h0.60M204.5,167.8h0.60M198.8,170.0h0.60M206.5,167.3h0.60M203.2,169.0h0.60M205.5,169.4h0.60M205.4,162.2h0.60M202.4,161.7h0.60M206.6,176.7h0.60M201.7,167.1h0.60M204.9,165.1h0.60M209.3,168.3h0.60M210.7,175.6h0.60M205.6,164.9h0.60M208.2,166.6h0.60M201.6,166.8h0.60M207.6,164.8h0.60M203.4,170.7h0.60M203.3,170.7h0.60M207.9,165.8h0.60M200.5,163.4h0.60M208.0,169.5h0.60M204.4,166.2h0.60M207.4,165.9h0.60M212.5,168.7h0.60" stroke="#000" stroke-width="0.60" opacity="0.5" fill="none"/>
<rect x="198.66" y="160.35" width="14.14" height="16.90" rx="3" fill="#333" opacity="0.35" filter="url(#b20)"/>
<rect x="200.16" y="161.85" width="12.64" height="11.40" rx="2" fill="#222" opacity="0.45" filter="url(#b12)"/>
<rect x="199.16" y="161.35" width="10.14" height="12.90" rx="3.90" fill="#000" filter="url(#b08)"/>
<rect x="200.36" y="162.55" width="7.34" height="10.50" rx="2.60" fill="#000" opacity="0.8"/>
<rect x="239.0" y="144.85" width="40.2" height="39.2" fill="none" stroke="#b0b0b0" stroke-width="0.5"/>
<g stroke="#a8a8a8" stroke-width="0.45"><line x1="252.4" y1="144.85" x2="252.4" y2="174.75"/><line x1="239.0" y1="174.75" x2="279.2" y2="174.75"/><line x1="259.1" y1="174.75" x2="259.1" y2="184.05"/></g>
<text transform="translate(240.2 149.85) scale(0.1)" font-size="42.00" font-weight="normal" fill="#222" text-anchor="start">97.4</text>
<text transform="translate(278.0 149.85) scale(0.1)" font-size="42.00" font-weight="normal" fill="#222" text-anchor="end">1.2</text>
<text transform="translate(278.0 183.05) scale(0.1)" font-size="42.00" font-weight="normal" fill="#222" text-anchor="end">0.204</text>
<path d="M241.8,177.4h0.60M248.4,172.2h0.60M246.9,178.1h0.60M245.8,179.9h0.60M244.8,176.7h0.60M242.2,177.0h0.60M244.1,171.1h0.60M250.2,168.5h0.60M249.4,172.2h0.60M252.1,176.6h0.60M248.4,171.3h0.60M244.3,179.1h0.60M246.7,166.1h0.60M244.7,163.0h0.60M244.4,170.0h0.60M248.4,176.7h0.60M250.4,163.3h0.60M245.8,175.1h0.60M248.7,172.1h0.60M244.7,175.7h0.60M247.2,171.0h0.60M247.1,171.1h0.60M248.5,177.6h0.60M247.7,169.1h0.60M247.1,171.4h0.60M249.2,175.9h0.60M253.3,176.5h0.60M241.5,168.1h0.60M243.0,173.6h0.60M255.8,174.4h0.60M245.5,178.9h0.60M249.7,168.2h0.60M244.1,179.4h0.60M250.2,162.0h0.60M244.8,174.9h0.60M242.7,172.2h0.60M244.3,164.0h0.60M245.6,169.6h0.60M248.4,163.8h0.60M248.4,170.4h0.60M241.8,178.1h0.60M245.8,174.2h0.60M253.0,174.2h0.60M250.8,173.2h0.60M245.4,173.1h0.60M241.8,174.5h0.60M250.4,174.3h0.60M245.0,166.3h0.60M244.8,170.8h0.60M242.4,181.5h0.60M244.5,172.8h0.60M245.7,172.8h0.60M239.8,167.2h0.60M247.3,172.0h0.60M248.8,169.6h0.60M250.3,173.3h0.60M247.2,172.3h0.60M251.2,172.0h0.60M252.9,172.8h0.60M248.3,172.2h0.60M248.5,174.4h0.60M245.2,176.0h0.60M256.6,174.8h0.60M247.8,168.3h0.60M244.7,168.2h0.60M248.3,168.8h0.60M253.1,170.1h0.60M244.2,167.8h0.60M247.1,171.5h0.60M250.7,168.7h0.60M248.6,176.8h0.60M246.4,163.7h0.60M248.2,177.2h0.60M248.8,172.2h0.60M240.5,180.0h0.60M246.7,166.4h0.60M246.2,172.9h0.60M247.5,167.8h0.60M256.0,178.2h0.60M251.0,175.3h0.60M246.0,166.5h0.60M242.8,177.4h0.60M247.7,180.1h0.60M249.0,169.5h0.60M250.5,168.9h0.60M246.4,174.7h0.60M247.9,173.6h0.60M248.2,177.2h0.60M244.4,162.4h0.60M244.1,160.4h0.60M254.3,169.0h0.60M247.2,173.8h0.60M244.6,169.7h0.60M248.3,172.2h0.60M250.3,171.0h0.60M245.0,165.1h0.60M241.4,173.5h0.60M248.5,170.2h0.60M251.7,159.1h0.60M249.7,166.4h0.60M246.2,171.0h0.60M244.7,170.8h0.60M247.4,175.7h0.60M250.3,167.6h0.60M249.1,170.2h0.60M250.6,169.3h0.60M251.2,167.8h0.60M245.7,176.3h0.60M251.0,176.4h0.60M254.5,177.2h0.60M247.3,176.7h0.60M244.4,176.1h0.60M248.8,171.4h0.60M244.8,177.3h0.60M240.2,171.3h0.60M242.3,170.5h0.60M245.8,168.1h0.60M245.2,173.6h0.60M254.4,180.7h0.60M246.7,170.1h0.60M249.6,168.1h0.60M242.1,176.9h0.60M245.9,179.6h0.60M248.6,165.1h0.60M248.4,174.5h0.60M247.6,165.5h0.60M242.0,181.3h0.60M250.2,180.9h0.60M249.7,172.0h0.60M248.7,177.7h0.60M245.5,178.4h0.60M248.3,173.2h0.60M248.9,173.7h0.60M244.1,179.8h0.60M245.6,170.9h0.60M249.4,171.7h0.60M247.0,170.4h0.60M249.6,169.0h0.60M242.1,164.2h0.60M244.5,173.7h0.60M252.5,174.9h0.60M244.9,165.7h0.60M250.3,174.6h0.60M247.2,175.2h0.60M249.5,174.7h0.60M252.1,164.6h0.60M245.0,169.6h0.60M243.8,181.8h0.60M248.7,174.2h0.60M250.2,171.0h0.60M250.4,171.2h0.60M250.1,174.9h0.60M252.0,164.7h0.60M244.1,168.5h0.60M244.4,174.1h0.60M250.8,170.5h0.60M251.2,176.5h0.60M245.3,175.4h0.60M252.5,169.8h0.60M239.5,174.9h0.60M248.4,175.2h0.60M249.2,171.9h0.60M247.3,168.2h0.60M254.4,179.8h0.60M246.9,168.0h0.60M248.9,180.0h0.60M247.6,168.2h0.60M250.8,173.5h0.60M244.6,171.1h0.60M248.0,166.7h0.60M248.4,178.5h0.60M251.2,178.3h0.60M250.1,171.8h0.60M249.6,178.2h0.60M247.6,174.8h0.60M245.2,172.3h0.60M245.7,167.0h0.60M248.8,183.1h0.60M241.4,169.9h0.60M248.1,168.6h0.60M248.0,176.4h0.60M241.6,171.7h0.60M249.5,175.1h0.60M253.9,173.3h0.60M251.9,169.5h0.60M244.2,169.6h0.60M245.9,176.6h0.60M250.1,172.4h0.60M244.3,173.0h0.60M246.0,170.4h0.60M241.3,180.0h0.60M257.0,172.5h0.60M255.3,170.2h0.60M257.4,172.0h0.60M240.9,172.2h0.60M250.3,180.7h0.60M250.9,181.0h0.60M248.1,164.8h0.60M248.0,168.0h0.60M250.4,161.8h0.60M244.0,166.6h0.60M247.9,177.4h0.60M246.4,165.9h0.60M245.7,171.5h0.60M251.6,172.9h0.60M252.4,158.3h0.60M253.8,183.2h0.60M241.9,176.9h0.60M242.8,169.3h0.60M249.3,173.4h0.60M248.5,171.4h0.60M240.9,164.3h0.60M244.4,167.4h0.60M245.8,163.9h0.60M247.0,174.7h0.60M245.7,178.9h0.60M248.2,176.9h0.60M244.3,173.3h0.60M242.4,162.9h0.60M241.2,170.3h0.60M248.3,182.9h0.60M248.6,170.5h0.60M251.2,172.9h0.60M247.5,173.0h0.60M251.0,180.3h0.60M242.4,172.8h0.60M245.8,172.4h0.60M256.0,171.2h0.60M245.8,167.7h0.60M255.4,182.3h0.60M251.1,173.6h0.60M244.9,179.6h0.60M246.6,173.5h0.60M246.8,173.1h0.60M240.3,166.2h0.60M242.9,161.5h0.60M243.3,169.8h0.60M246.8,171.9h0.60M245.9,177.5h0.60M240.0,169.7h0.60M246.6,168.0h0.60M252.4,171.7h0.60M251.4,175.0h0.60M246.5,177.2h0.60M242.2,166.2h0.60M246.0,160.4h0.60M245.9,171.3h0.60M241.2,167.1h0.60M252.0,175.3h0.60M248.2,178.9h0.60M247.8,178.5h0.60M250.6,182.9h0.60M251.3,169.5h0.60M249.7,177.9h0.60M249.9,183.2h0.60M248.5,170.2h0.60M250.7,178.0h0.60M247.4,174.9h0.60M248.0,173.6h0.60M248.8,170.3h0.60M250.1,174.1h0.60M253.7,173.8h0.60M247.9,166.2h0.60M255.6,171.1h0.60M245.6,170.9h0.60M247.5,171.8h0.60M253.6,169.9h0.60M246.7,170.1h0.60M249.7,164.1h0.60M251.1,170.5h0.60M242.4,179.6h0.60M242.7,175.8h0.60M247.5,169.0h0.60M241.5,168.7h0.60M250.2,171.9h0.60M245.4,177.1h0.60M247.6,172.6h0.60M244.4,165.4h0.60M245.8,173.7h0.60M246.0,173.8h0.60M246.6,171.0h0.60M247.3,174.0h0.60M246.8,170.0h0.60M251.0,178.0h0.60M251.6,175.9h0.60M249.1,172.9h0.60M250.2,169.0h0.60M247.0,173.8h0.60M246.9,166.0h0.60M247.1,170.1h0.60M245.2,175.3h0.60M251.3,172.6h0.60M243.3,171.3h0.60M246.8,167.0h0.60M245.3,172.9h0.60M245.3,174.4h0.60M242.8,175.4h0.60M244.9,172.8h0.60M247.5,169.7h0.60M251.2,163.4h0.60M248.2,175.4h0.60M246.6,171.9h0.60M243.3,171.9h0.60M248.0,169.2h0.60M247.5,170.3h0.60M243.8,171.7h0.60M244.6,176.5h0.60M244.6,179.1h0.60M247.4,172.0h0.60M244.8,174.3h0.60M243.7,164.5h0.60M249.0,161.8h0.60M251.5,169.5h0.60M253.1,173.3h0.60M253.4,164.9h0.60M245.8,173.4h0.60M245.4,172.5h0.60M246.9,175.4h0.60M252.6,161.5h0.60M249.7,166.4h0.60M253.3,164.8h0.60M244.4,174.6h0.60M246.8,175.5h0.60M248.8,168.3h0.60M241.5,177.8h0.60M246.6,171.6h0.60M246.3,170.8h0.60M244.8,172.4h0.60M248.3,166.0h0.60M241.7,174.8h0.60M250.6,169.4h0.60M246.8,169.6h0.60M248.9,171.7h0.60M245.4,168.3h0.60M249.0,173.9h0.60M245.9,174.0h0.60M248.1,162.1h0.60M245.3,173.2h0.60M252.0,174.0h0.60M242.9,176.4h0.60M246.4,176.1h0.60M242.4,164.1h0.60M241.6,175.0h0.60M251.7,173.3h0.60M248.1,171.5h0.60M248.1,167.1h0.60M251.9,176.0h0.60M250.9,171.7h0.60M250.5,176.9h0.60M256.6,177.4h0.60M244.7,168.2h0.60M250.6,174.5h0.60M249.4,172.4h0.60M244.5,172.8h0.60M242.1,173.5h0.60M255.7,175.6h0.60M244.3,167.8h0.60M256.2,175.3h0.60M245.6,174.9h0.60M246.2,166.9h0.60M248.0,174.6h0.60M252.2,165.9h0.60M252.8,170.9h0.60M240.2,176.9h0.60M251.1,174.7h0.60M250.5,167.7h0.60M249.3,164.1h0.60M253.5,174.0h0.60M249.3,172.5h0.60M249.8,173.1h0.60M244.0,170.4h0.60M240.4,167.8h0.60M246.8,173.9h0.60M255.6,164.1h0.60M255.2,170.0h0.60M245.9,171.7h0.60M255.5,166.8h0.60M246.1,174.8h0.60M251.0,174.0h0.60M247.9,176.9h0.60M243.9,179.8h0.60M245.7,174.0h0.60M244.1,169.1h0.60M251.1,174.9h0.60M246.8,176.1h0.60M259.3,160.1h0.60M239.9,173.0h0.60M241.2,177.1h0.60M244.4,172.1h0.60M244.4,182.2h0.60M253.1,163.8h0.60M249.9,170.6h0.60M252.9,173.7h0.60M244.7,170.0h0.60M247.7,180.4h0.60M247.8,169.6h0.60M246.0,176.3h0.60M246.3,180.7h0.60M250.7,172.9h0.60M247.9,170.5h0.60M253.0,171.1h0.60M248.5,165.5h0.60M246.7,173.0h0.60M247.2,172.4h0.60M251.1,175.6h0.60M250.4,169.3h0.60M245.6,172.1h0.60M241.6,165.1h0.60M248.7,172.2h0.60M247.8,177.9h0.60M239.6,174.1h0.60M246.6,165.8h0.60M249.9,179.0h0.60M242.0,172.4h0.60M251.0,172.4h0.60M245.8,176.9h0.60M241.2,171.9h0.60M245.1,171.8h0.60M242.8,173.0h0.60M252.0,174.3h0.60M242.7,169.6h0.60M244.7,164.9h0.60M250.2,174.6h0.60M246.8,179.4h0.60M250.1,169.3h0.60M247.6,171.5h0.60M247.4,178.6h0.60M252.2,167.4h0.60M254.7,164.3h0.60M250.0,177.9h0.60M248.0,174.7h0.60M245.1,179.4h0.60M246.7,169.6h0.60M242.0,182.9h0.60M242.0,167.2h0.60M249.3,172.3h0.60M253.9,175.3h0.60M248.7,168.4h0.60M249.5,165.2h0.60M244.7,178.9h0.60M248.5,166.5h0.60M245.2,171.5h0.60M248.7,173.2h0.60M250.5,157.7h0.60M250.2,163.0h0.60M245.8,172.8h0.60M251.4,169.2h0.60M242.6,168.2h0.60M242.9,169.7h0.60M244.9,177.7h0.60M249.6,171.4h0.60M248.6,179.9h0.60M246.5,166.7h0.60M247.6,166.2h0.60M248.3,176.5h0.60M246.2,176.8h0.60M252.0,181.2h0.60M246.2,175.1h0.60M250.5,176.2h0.60M251.0,174.6h0.60M250.1,176.8h0.60M249.3,175.1h0.60M248.6,171.9h0.60M240.8,171.9h0.60M247.7,169.6h0.60M245.9,178.4h0.60M246.6,161.2h0.60M245.6,171.7h0.60M252.1,173.8h0.60M249.4,169.6h0.60M245.4,164.5h0.60M249.9,172.4h0.60M244.9,172.6h0.60M251.6,176.8h0.60M250.5,177.9h0.60M248.4,172.3h0.60M247.5,174.7h0.60M241.3,173.7h0.60M247.7,168.0h0.60M245.5,177.9h0.60M246.1,171.8h0.60M253.0,167.6h0.60M247.4,170.2h0.60M245.6,171.4h0.60M249.6,171.0h0.60M251.0,175.9h0.60M243.6,172.6h0.60M246.9,166.0h0.60M241.0,177.2h0.60M248.6,178.3h0.60M253.3,176.1h0.60M248.9,178.5h0.60M247.1,170.4h0.60M251.1,175.5h0.60M245.7,170.3h0.60M242.9,182.5h0.60M246.2,169.9h0.60M245.4,169.8h0.60M248.0,172.5h0.60M250.4,160.2h0.60M248.0,180.4h0.60M247.7,169.4h0.60M254.8,169.8h0.60M250.0,173.4h0.60M247.0,167.4h0.60M248.1,173.3h0.60M254.2,164.9h0.60M241.9,175.0h0.60M242.1,158.5h0.60M246.3,177.8h0.60M240.9,165.0h0.60M252.9,168.0h0.60M244.3,171.5h0.60M253.4,171.3h0.60M250.4,171.5h0.60M243.6,173.5h0.60M240.9,177.3h0.60M241.6,172.9h0.60M239.7,171.8h0.60M249.0,168.7h0.60M254.6,172.2h0.60M249.1,165.1h0.60M245.7,173.4h0.60M250.2,175.1h0.60M242.4,165.0h0.60M243.4,177.7h0.60M241.1,166.3h0.60M247.9,172.0h0.60M247.3,168.2h0.60M248.7,171.7h0.60M246.8,173.3h0.60M246.7,171.3h0.60M251.6,175.7h0.60M247.8,172.9h0.60M252.5,165.7h0.60M240.5,172.4h0.60M241.2,167.1h0.60M248.3,173.2h0.60M246.2,168.5h0.60M242.2,168.8h0.60M244.5,172.1h0.60M250.9,170.8h0.60M243.4,174.3h0.60M251.9,173.7h0.60M245.8,170.3h0.60M246.3,167.1h0.60M250.8,170.7h0.60M254.5,178.1h0.60M245.8,168.4h0.60M241.0,172.2h0.60M248.9,170.5h0.60M247.1,174.5h0.60M244.6,172.0h0.60M246.5,179.5h0.60M249.9,171.7h0.60M243.8,171.5h0.60M244.6,170.5h0.60M248.7,176.1h0.60M251.1,169.4h0.60M248.2,172.1h0.60M250.5,182.8h0.60M251.2,176.6h0.60M248.4,174.8h0.60M240.3,173.9h0.60M246.9,172.0h0.60M248.5,166.4h0.60M246.1,176.3h0.60M250.0,173.2h0.60M249.5,168.4h0.60M252.9,162.3h0.60M246.2,168.6h0.60M245.8,173.3h0.60M247.9,177.0h0.60M254.4,174.7h0.60M244.1,172.3h0.60M244.7,168.5h0.60M246.0,176.8h0.60M244.6,173.9h0.60M244.8,176.5h0.60M251.7,165.4h0.60M250.2,168.1h0.60M248.7,171.8h0.60M250.6,166.2h0.60M254.4,174.0h0.60M245.2,178.4h0.60M252.4,174.8h0.60M245.7,168.4h0.60M244.3,180.0h0.60M247.7,172.2h0.60M246.2,178.2h0.60M246.2,176.4h0.60M241.1,168.5h0.60M248.7,167.7h0.60M254.4,162.4h0.60M248.9,174.9h0.60M249.1,172.0h0.60M248.5,169.3h0.60M247.4,181.0h0.60M247.4,177.6h0.60M252.4,169.6h0.60M254.4,165.1h0.60M245.7,171.9h0.60M246.6,175.2h0.60M247.1,175.2h0.60M244.6,164.7h0.60M254.1,173.6h0.60M248.9,166.7h0.60M249.1,172.1h0.60M249.3,172.9h0.60M251.3,179.1h0.60M246.2,170.5h0.60M250.1,165.3h0.60M245.0,170.6h0.60M240.0,181.6h0.60M246.5,171.3h0.60M243.3,174.9h0.60M245.9,166.6h0.60M248.7,179.7h0.60M242.2,172.2h0.60M255.3,171.4h0.60M245.0,180.1h0.60M248.3,176.8h0.60M253.4,175.4h0.60M248.7,181.6h0.60M242.1,166.9h0.60M246.7,169.4h0.60M246.9,163.3h0.60M241.7,175.8h0.60M246.8,174.4h0.60M246.1,172.2h0.60M242.1,180.9h0.60M251.3,165.9h0.60M245.9,174.1h0.60M246.0,172.1h0.60M248.3,163.4h0.60M250.2,174.6h0.60M244.0,171.4h0.60M247.2,171.1h0.60M247.7,165.0h0.60M247.7,174.4h0.60M248.9,174.5h0.60M245.5,173.0h0.60M251.0,172.7h0.60M248.3,172.6h0.60M249.4,166.1h0.60M247.3,176.5h0.60M244.3,175.1h0.60M245.9,170.3h0.60M243.5,168.0h0.60M251.7,165.3h0.60M248.0,165.8h0.60M254.8,175.8h0.60M244.6,166.8h0.60M246.5,174.0h0.60M253.5,179.4h0.60M244.0,173.5h0.60M250.8,168.9h0.60M245.8,176.8h0.60M242.5,172.5h0.60M247.2,171.0h0.60M247.6,164.5h0.60M250.5,170.1h0.60M254.5,181.9h0.60M245.8,181.7h0.60M252.6,168.4h0.60M246.6,178.2h0.60M244.9,170.7h0.60M243.3,168.9h0.60M244.9,173.6h0.60M248.4,170.6h0.60M242.6,173.5h0.60M249.7,172.1h0.60M252.4,170.1h0.60M250.5,173.7h0.60M252.2,180.2h0.60M243.3,163.6h0.60M251.2,173.9h0.60M248.7,170.2h0.60M244.8,178.2h0.60M249.2,169.7h0.60" stroke="#222" stroke-width="0.60" opacity="0.5" fill="none"/>
<ellipse cx="247.2" cy="172.35" rx="6" ry="9" fill="#555" opacity="0.5" filter="url(#b12)"/>
<rect x="281.2" y="144.85" width="38.6" height="39.2" fill="none" stroke="#b0b0b0" stroke-width="0.5"/>
<g stroke="#a8a8a8" stroke-width="0.45"><line x1="292.5" y1="144.85" x2="292.5" y2="174.75"/><line x1="281.2" y1="174.75" x2="319.8" y2="174.75"/><line x1="298.8" y1="174.75" x2="298.8" y2="184.05"/></g>
<text transform="translate(282.4 149.85) scale(0.1)" font-size="42.00" font-weight="normal" fill="#222" text-anchor="start">93.5</text>
<text transform="translate(318.6 149.85) scale(0.1)" font-size="42.00" font-weight="normal" fill="#222" text-anchor="end">2.03</text>
<text transform="translate(318.6 183.05) scale(0.1)" font-size="42.00" font-weight="normal" fill="#222" text-anchor="end">2.32</text>
<path d="M286.3,178.5h0.56M282.6,176.4h0.56M287.6,178.2h0.56M282.4,178.6h0.56M291.8,179.3h0.56M282.5,176.8h0.56M284.5,176.0h0.56M283.9,176.5h0.56M286.0,175.0h0.56M288.8,178.6h0.56M291.6,179.8h0.56M288.9,179.1h0.56M285.9,175.4h0.56M288.1,178.1h0.56M284.4,178.8h0.56M287.1,176.4h0.56M290.2,176.7h0.56M286.6,180.3h0.56M284.8,177.1h0.56M287.5,177.1h0.56M284.8,175.3h0.56M286.8,177.0h0.56M288.5,180.2h0.56M286.1,179.7h0.56M284.2,181.6h0.56M284.7,177.6h0.56M285.2,176.7h0.56M288.4,177.9h0.56M283.7,179.7h0.56M286.3,179.2h0.56M286.8,176.8h0.56M283.7,180.7h0.56M285.6,181.3h0.56M292.6,180.6h0.56M292.8,175.7h0.56M284.8,175.5h0.56M282.5,174.9h0.56M288.7,176.0h0.56M285.3,179.2h0.56M285.1,181.5h0.56M289.5,179.5h0.56M290.8,179.1h0.56M286.7,180.4h0.56M289.1,174.8h0.56M289.3,180.2h0.56M286.7,181.1h0.56M283.0,178.4h0.56M284.3,176.0h0.56M287.0,174.6h0.56M286.1,179.5h0.56M284.1,175.4h0.56M287.8,180.0h0.56M288.8,176.7h0.56M285.1,181.1h0.56M288.7,178.7h0.56M286.9,177.5h0.56M287.9,179.5h0.56M286.3,178.5h0.56M282.4,177.6h0.56M290.6,178.4h0.56M282.4,176.8h0.56M286.5,181.2h0.56M292.2,177.8h0.56M285.8,178.2h0.56M283.2,181.0h0.56M282.9,179.6h0.56M285.0,175.5h0.56M287.1,181.8h0.56M282.9,178.4h0.56M284.3,180.4h0.56M282.1,175.0h0.56M285.2,174.9h0.56M288.9,174.5h0.56M286.4,176.8h0.56M289.0,176.7h0.56M285.7,181.8h0.56M288.0,180.8h0.56M290.2,179.1h0.56M287.1,174.1h0.56M287.0,180.5h0.56M284.1,177.2h0.56M292.0,175.4h0.56M285.7,177.7h0.56M284.3,181.4h0.56M281.8,177.2h0.56M290.5,173.3h0.56M287.2,176.2h0.56M287.4,177.5h0.56M285.1,178.1h0.56M289.6,175.2h0.56M288.6,178.6h0.56M285.6,176.2h0.56M287.2,179.8h0.56M283.6,179.6h0.56M286.3,179.8h0.56M287.0,177.5h0.56M286.8,179.4h0.56M282.2,177.9h0.56M284.9,178.0h0.56M289.0,180.1h0.56M290.2,180.1h0.56M285.6,176.1h0.56M293.4,176.4h0.56M285.2,178.9h0.56" stroke="#444" stroke-width="0.56" opacity="0.35" fill="none"/>
<rect x="282.70" y="173.85" width="8.07" height="8.70" fill="#666" opacity="0.32" filter="url(#b12)"/>
<path d="M289.70,166.85 C302.20,166.85 306.00,168.35 305.20,178.85" fill="none" stroke="#702020" stroke-width="3.75" stroke-linecap="round" opacity="0.19" filter="url(#b08)"/>
<path d="M289.70,166.85 C302.20,166.85 306.00,168.35 305.20,178.85" fill="none" stroke="#b01818" stroke-width="1.60" stroke-linecap="round" opacity="0.17" filter="url(#b05)"/>
<path d="M298.7,169.5h0.5M291.1,167.0h0.5M304.7,174.2h0.5M289.0,167.4h0.5M297.9,166.2h0.5M300.7,167.5h0.5M297.8,166.3h0.5M305.7,177.6h0.5M294.8,167.7h0.5M294.3,166.9h0.5M306.3,174.9h0.5M305.2,171.0h0.5M301.2,167.1h0.5M303.2,167.2h0.5M303.5,172.6h0.5M295.5,167.8h0.5M301.6,168.3h0.5M305.7,170.9h0.5M304.4,179.4h0.5M307.2,168.8h0.5M303.9,173.4h0.5M289.4,166.8h0.5M304.8,177.9h0.5M291.2,166.2h0.5M290.4,168.6h0.5M301.5,168.6h0.5M290.1,167.4h0.5M305.8,179.3h0.5M307.0,170.1h0.5M305.2,172.9h0.5" stroke="#6a1515" stroke-width="0.5" opacity="0.5"/>
<ellipse cx="305.20" cy="177.05" rx="1.47" ry="2.77" fill="#c81212" opacity="0.60" filter="url(#b05)"/>
<path d="M290.6,171.1h0.60M291.3,168.1h0.60M291.1,169.9h0.60M288.0,170.6h0.60M282.1,172.0h0.60M284.7,171.3h0.60M286.1,166.6h0.60M285.2,170.3h0.60M285.2,174.3h0.60M290.2,169.7h0.60M285.0,173.6h0.60M286.4,172.8h0.60M281.8,163.7h0.60M288.7,172.1h0.60M285.7,168.9h0.60M287.7,170.9h0.60M286.0,169.5h0.60M287.0,172.5h0.60M288.6,161.9h0.60M287.4,168.5h0.60M289.8,171.5h0.60M284.5,169.2h0.60M282.6,169.8h0.60M283.9,173.0h0.60M290.5,168.4h0.60M283.3,173.2h0.60M281.8,168.4h0.60M285.0,170.1h0.60M286.4,166.8h0.60M289.1,170.5h0.60M287.3,174.0h0.60M292.4,170.1h0.60M284.9,168.6h0.60M285.8,166.3h0.60M283.9,167.9h0.60M287.9,171.5h0.60M284.2,166.3h0.60M286.1,164.3h0.60M285.5,170.0h0.60M287.5,168.2h0.60M287.6,171.6h0.60M285.1,166.4h0.60M284.5,170.2h0.60M287.1,164.5h0.60M292.1,170.6h0.60M286.8,166.0h0.60M288.2,162.3h0.60M291.5,170.5h0.60M286.1,170.1h0.60M289.2,163.6h0.60M287.1,165.7h0.60M284.9,168.8h0.60M284.8,167.2h0.60M286.8,168.2h0.60M287.1,171.6h0.60M283.4,168.8h0.60M283.4,171.7h0.60M288.6,172.4h0.60M289.7,169.7h0.60M282.9,167.2h0.60M290.2,169.8h0.60M288.8,167.7h0.60M285.5,174.9h0.60M289.4,164.8h0.60M283.9,169.8h0.60M289.7,172.2h0.60M289.0,172.9h0.60M288.5,171.8h0.60M283.3,165.9h0.60M284.5,173.1h0.60M290.6,166.3h0.60M285.3,169.6h0.60M288.1,170.4h0.60M291.1,170.1h0.60M285.5,168.7h0.60M289.8,168.7h0.60M287.9,168.2h0.60M282.4,163.2h0.60M285.3,167.1h0.60M288.9,168.3h0.60M283.2,171.5h0.60M284.8,175.4h0.60M284.7,169.6h0.60M283.7,173.8h0.60M287.2,168.7h0.60M285.9,163.4h0.60M290.3,169.4h0.60M290.0,167.0h0.60M290.9,167.5h0.60M286.3,175.2h0.60M284.6,169.5h0.60M285.7,169.7h0.60M286.7,168.9h0.60M287.6,168.1h0.60M290.6,171.4h0.60M282.5,167.9h0.60M285.1,172.1h0.60M283.4,168.4h0.60M288.8,172.1h0.60M285.9,168.8h0.60M283.0,172.8h0.60M284.6,177.2h0.60M288.5,174.7h0.60M285.2,170.7h0.60M284.2,170.0h0.60M284.5,170.6h0.60M285.8,166.6h0.60M286.1,171.5h0.60M289.9,172.2h0.60M293.0,172.3h0.60M292.1,171.7h0.60M287.3,164.4h0.60M289.4,169.0h0.60M284.9,165.5h0.60M290.3,169.4h0.60M284.8,167.1h0.60M285.9,170.7h0.60M288.2,169.7h0.60M286.9,169.6h0.60M284.8,172.7h0.60M285.8,167.7h0.60M291.8,166.7h0.60M284.7,169.7h0.60M285.6,169.1h0.60M289.4,172.3h0.60M281.8,174.8h0.60M282.3,166.4h0.60M288.4,166.5h0.60M282.3,171.8h0.60M287.9,170.5h0.60M290.8,172.4h0.60M284.7,168.0h0.60M287.6,168.2h0.60M287.1,171.9h0.60M287.1,165.3h0.60M291.6,169.2h0.60M287.3,164.7h0.60M286.1,165.7h0.60M291.4,168.0h0.60M283.2,169.6h0.60M283.1,164.4h0.60M285.6,168.5h0.60M283.6,171.4h0.60M289.0,169.1h0.60M285.9,170.4h0.60M289.2,169.9h0.60M282.5,171.2h0.60M294.0,171.2h0.60M287.3,167.8h0.60" stroke="#000" stroke-width="0.60" opacity="0.5" fill="none"/>
<rect x="281.70" y="163.10" width="13.50" height="14.75" rx="3" fill="#333" opacity="0.35" filter="url(#b20)"/>
<rect x="283.20" y="164.60" width="12.00" height="9.25" rx="2" fill="#222" opacity="0.45" filter="url(#b12)"/>
<rect x="282.20" y="164.10" width="9.50" height="10.75" rx="3.75" fill="#000" filter="url(#b08)"/>
<rect x="283.40" y="165.30" width="6.70" height="8.35" rx="2.50" fill="#000" opacity="0.8"/>
<rect x="196.3" y="184.5" width="39.8" height="39.2" fill="none" stroke="#b0b0b0" stroke-width="0.5"/>
<g stroke="#a8a8a8" stroke-width="0.45"><line x1="210.5" y1="184.5" x2="210.5" y2="214.4"/><line x1="196.3" y1="214.4" x2="236.10000000000002" y2="214.4"/><line x1="216.8" y1="214.4" x2="216.8" y2="223.7"/></g>
<text transform="translate(197.5 189.5) scale(0.1)" font-size="42.00" font-weight="normal" fill="#222" text-anchor="start">86</text>
<text transform="translate(234.90000000000003 189.5) scale(0.1)" font-size="42.00" font-weight="normal" fill="#222" text-anchor="end">6.37</text>
<text transform="translate(234.90000000000003 222.7) scale(0.1)" font-size="42.00" font-weight="normal" fill="#222" text-anchor="end">7.12</text>
<path d="M205.9,217.2h0.56M204.7,219.1h0.56M204.0,211.8h0.56M203.9,216.5h0.56M206.5,217.4h0.56M206.2,217.2h0.56M205.1,213.4h0.56M203.4,218.5h0.56M208.9,210.0h0.56M203.9,215.1h0.56M206.7,211.6h0.56M202.7,216.6h0.56M202.1,212.1h0.56M209.5,215.6h0.56M204.5,217.5h0.56M209.6,214.5h0.56M203.9,215.4h0.56M206.9,218.3h0.56M208.7,215.1h0.56M200.9,214.7h0.56M199.0,216.9h0.56M198.6,217.1h0.56M201.4,217.1h0.56M208.4,215.9h0.56M203.9,216.2h0.56M202.5,216.9h0.56M203.6,216.5h0.56M202.0,217.4h0.56M205.2,214.1h0.56M204.1,212.9h0.56M200.3,213.6h0.56M205.4,215.2h0.56M204.1,216.8h0.56M203.5,215.7h0.56M202.7,221.1h0.56M202.0,217.5h0.56M203.6,220.3h0.56M201.1,215.9h0.56M205.4,215.0h0.56M210.2,216.7h0.56M205.4,212.3h0.56M205.4,213.4h0.56M205.8,217.0h0.56M203.9,214.8h0.56M202.0,214.7h0.56M208.6,214.3h0.56M203.4,217.1h0.56M200.5,215.2h0.56M207.4,216.7h0.56M205.8,217.8h0.56M204.2,210.7h0.56M206.4,217.4h0.56M197.6,215.6h0.56M208.2,213.4h0.56M206.9,219.5h0.56M203.9,215.5h0.56M201.4,217.6h0.56M204.9,217.4h0.56M204.1,216.2h0.56M202.6,218.6h0.56M203.9,219.0h0.56M206.8,214.4h0.56M201.1,218.5h0.56M205.4,215.3h0.56M207.2,211.5h0.56M205.9,215.3h0.56M206.3,214.8h0.56M202.9,217.7h0.56M205.3,212.8h0.56M205.7,217.7h0.56M199.7,213.9h0.56M201.1,213.9h0.56M202.3,220.5h0.56M201.5,213.9h0.56M203.5,219.2h0.56M203.1,218.3h0.56M207.1,215.2h0.56M205.4,218.4h0.56M204.9,219.8h0.56M205.3,219.8h0.56M201.5,216.7h0.56M197.6,212.8h0.56M202.7,215.2h0.56M203.6,217.3h0.56M200.2,212.2h0.56M206.4,216.8h0.56M206.9,218.0h0.56M205.1,214.9h0.56M205.6,214.0h0.56M200.6,215.4h0.56M210.5,213.9h0.56M208.0,215.7h0.56M209.0,215.0h0.56M201.0,214.6h0.56M203.7,217.4h0.56M202.2,216.6h0.56M210.8,216.2h0.56M206.1,222.2h0.56M202.1,216.1h0.56M203.3,216.7h0.56M202.0,215.4h0.56M206.3,216.1h0.56M198.9,218.7h0.56M205.3,220.5h0.56M201.9,216.9h0.56M201.7,217.9h0.56M202.6,219.1h0.56M204.5,211.1h0.56M201.1,217.6h0.56M206.3,218.4h0.56" stroke="#444" stroke-width="0.56" opacity="0.35" fill="none"/>
<rect x="199.29" y="213.64" width="9.61" height="8.56" fill="#666" opacity="0.32" filter="url(#b12)"/>
<path d="M208.10,204.40 C219.30,204.40 223.10,205.90 222.30,216.70" fill="none" stroke="#702020" stroke-width="3.96" stroke-linecap="round" opacity="0.30" filter="url(#b08)"/>
<path d="M208.10,204.40 C219.30,204.40 223.10,205.90 222.30,216.70" fill="none" stroke="#b01818" stroke-width="1.72" stroke-linecap="round" opacity="0.28" filter="url(#b05)"/>
<path d="M222.5,213.8h0.5M208.2,205.6h0.5M215.5,207.2h0.5M219.1,204.4h0.5M212.5,204.6h0.5M221.5,210.2h0.5M218.0,204.2h0.5M223.5,214.8h0.5M220.2,205.0h0.5M216.2,202.9h0.5M222.5,208.3h0.5M212.3,203.0h0.5M214.3,202.6h0.5M216.4,203.0h0.5M222.5,206.9h0.5M223.8,212.5h0.5M212.4,204.4h0.5M211.3,204.6h0.5M216.4,204.4h0.5M223.4,216.6h0.5M224.3,212.0h0.5M215.5,206.6h0.5M222.1,205.8h0.5M224.6,209.5h0.5M210.8,205.4h0.5M212.9,207.0h0.5M209.8,206.3h0.5M221.6,207.0h0.5M219.8,212.8h0.5M213.9,205.6h0.5M222.2,212.6h0.5M209.4,205.3h0.5M221.7,209.8h0.5M218.1,205.0h0.5M216.2,204.1h0.5M217.3,203.9h0.5M210.9,204.4h0.5M217.9,203.4h0.5M221.2,211.7h0.5M210.9,205.7h0.5M212.4,204.3h0.5M212.5,205.1h0.5M222.5,217.1h0.5M222.7,206.1h0.5M215.3,205.3h0.5M222.7,213.6h0.5M214.7,204.6h0.5M221.8,207.3h0.5" stroke="#6a1515" stroke-width="0.5" opacity="0.5"/>
<ellipse cx="222.30" cy="214.90" rx="1.75" ry="3.30" fill="#c81212" opacity="1.00" filter="url(#b05)"/>
<path d="M200.8,206.7h0.60M208.1,207.2h0.60M201.3,203.2h0.60M202.5,212.3h0.60M213.8,203.9h0.60M199.9,209.9h0.60M203.6,206.0h0.60M203.7,212.6h0.60M206.9,204.7h0.60M206.0,202.9h0.60M208.1,199.9h0.60M202.7,211.0h0.60M210.2,209.5h0.60M197.3,206.8h0.60M207.5,210.0h0.60M205.6,205.4h0.60M197.4,205.7h0.60M204.7,205.0h0.60M201.2,209.0h0.60M203.0,208.2h0.60M208.0,204.8h0.60M207.7,203.3h0.60M207.3,209.1h0.60M205.9,210.3h0.60M205.0,201.0h0.60M210.1,208.4h0.60M204.9,207.7h0.60M205.6,206.7h0.60M199.5,203.1h0.60M210.4,209.9h0.60M200.4,213.6h0.60M205.2,203.3h0.60M201.5,205.1h0.60M208.2,210.4h0.60M203.3,206.6h0.60M201.7,208.0h0.60M200.5,210.9h0.60M203.9,211.1h0.60M209.7,208.7h0.60M207.3,196.0h0.60M200.9,208.5h0.60M201.1,211.6h0.60M203.0,206.9h0.60M202.4,212.5h0.60M206.0,207.3h0.60M207.3,206.5h0.60M201.3,207.4h0.60M203.4,211.7h0.60M201.8,203.5h0.60M209.0,210.9h0.60M202.9,208.0h0.60M198.5,213.8h0.60M202.3,199.4h0.60M203.8,209.5h0.60M206.5,208.5h0.60M205.1,206.9h0.60M203.9,206.7h0.60M213.0,207.8h0.60M204.7,199.7h0.60M204.1,209.7h0.60M206.7,201.6h0.60M204.0,213.6h0.60M203.5,206.8h0.60M206.3,207.2h0.60M202.3,205.1h0.60M198.1,208.2h0.60M206.2,209.8h0.60M201.6,209.1h0.60M200.5,201.3h0.60M206.5,202.7h0.60M199.3,206.3h0.60M203.1,213.4h0.60M207.9,215.5h0.60M204.9,201.3h0.60M199.7,208.6h0.60M199.4,209.2h0.60M207.9,209.8h0.60M198.3,211.8h0.60M210.3,211.5h0.60M212.6,204.5h0.60M203.8,210.8h0.60M207.8,213.2h0.60M203.7,204.9h0.60M203.5,204.8h0.60M204.6,206.3h0.60M207.0,204.9h0.60M207.5,204.6h0.60M208.6,212.2h0.60M204.1,206.7h0.60M205.5,209.3h0.60M200.6,210.2h0.60M197.7,203.1h0.60M200.0,208.3h0.60M201.3,198.5h0.60M208.1,205.3h0.60M203.1,208.8h0.60M205.5,209.8h0.60M199.7,208.8h0.60M207.7,210.4h0.60M209.4,202.0h0.60M208.5,202.0h0.60M200.3,208.3h0.60M212.5,212.1h0.60M203.8,207.9h0.60M208.1,202.9h0.60M203.0,205.3h0.60M208.5,209.7h0.60M205.4,212.2h0.60M203.4,204.1h0.60M207.5,200.6h0.60M205.2,207.5h0.60M198.6,208.3h0.60M201.2,212.8h0.60M207.0,211.0h0.60M207.7,207.6h0.60M208.2,209.9h0.60M206.3,211.7h0.60M211.3,201.1h0.60M202.6,202.0h0.60M199.9,210.2h0.60M200.8,206.8h0.60M202.3,211.3h0.60M210.0,208.0h0.60M201.8,205.4h0.60M203.6,201.4h0.60M200.0,208.3h0.60M205.1,208.2h0.60M205.5,204.8h0.60M203.9,203.7h0.60M205.1,199.9h0.60M206.1,208.5h0.60M202.8,208.2h0.60M207.9,207.8h0.60M211.1,212.2h0.60M204.7,206.8h0.60M200.1,203.5h0.60M205.0,208.0h0.60M205.5,214.0h0.60M205.8,209.1h0.60M203.5,203.4h0.60M202.7,207.2h0.60M206.8,210.2h0.60M200.7,207.2h0.60M207.0,202.1h0.60M203.4,202.0h0.60M201.9,212.0h0.60M205.6,215.9h0.60M200.7,211.1h0.60M203.7,201.5h0.60M205.0,208.5h0.60M203.4,212.2h0.60M203.2,210.4h0.60M204.3,205.6h0.60M205.7,211.6h0.60M209.4,212.1h0.60M198.4,202.5h0.60M203.4,212.1h0.60M197.7,208.1h0.60M200.2,210.6h0.60" stroke="#000" stroke-width="0.60" opacity="0.5" fill="none"/>
<rect x="198.29" y="199.88" width="15.31" height="17.76" rx="3" fill="#333" opacity="0.35" filter="url(#b20)"/>
<rect x="199.79" y="201.38" width="13.81" height="12.26" rx="2" fill="#222" opacity="0.45" filter="url(#b12)"/>
<rect x="198.79" y="200.88" width="11.31" height="13.76" rx="4.35" fill="#000" filter="url(#b08)"/>
<rect x="199.99" y="202.08" width="8.51" height="11.36" rx="2.90" fill="#000" opacity="0.8"/>
<rect x="239.0" y="184.5" width="40.2" height="39.2" fill="none" stroke="#b0b0b0" stroke-width="0.5"/>
<g stroke="#a8a8a8" stroke-width="0.45"><line x1="252.4" y1="184.5" x2="252.4" y2="214.4"/><line x1="239.0" y1="214.4" x2="279.2" y2="214.4"/><line x1="259.1" y1="214.4" x2="259.1" y2="223.7"/></g>
<text transform="translate(240.2 189.5) scale(0.1)" font-size="42.00" font-weight="normal" fill="#222" text-anchor="start">93</text>
<text transform="translate(278.0 189.5) scale(0.1)" font-size="42.00" font-weight="normal" fill="#222" text-anchor="end">3.29</text>
<text transform="translate(278.0 222.7) scale(0.1)" font-size="42.00" font-weight="normal" fill="#222" text-anchor="end">0.274</text>
<path d="M250.5,216.7h0.56M251.4,219.2h0.56M247.2,220.9h0.56M253.6,217.2h0.56M248.3,218.2h0.56M249.9,216.4h0.56M247.0,220.2h0.56M247.3,220.6h0.56M248.4,221.5h0.56M251.8,214.7h0.56M249.6,216.8h0.56M246.0,219.5h0.56M250.6,218.7h0.56M250.7,221.3h0.56M248.7,218.9h0.56M249.0,221.0h0.56M245.2,217.3h0.56M244.3,216.1h0.56M248.7,216.6h0.56M245.5,216.9h0.56M250.8,222.4h0.56M248.0,215.7h0.56M248.2,216.0h0.56M248.6,219.1h0.56M253.1,215.7h0.56M247.3,215.5h0.56M250.7,215.2h0.56M251.3,221.7h0.56M242.9,220.0h0.56M254.1,217.7h0.56M247.5,222.3h0.56M247.1,217.2h0.56M245.1,219.0h0.56M251.4,215.6h0.56M250.0,218.7h0.56M252.1,217.2h0.56M245.5,218.0h0.56M249.0,216.8h0.56M245.1,219.0h0.56M243.2,214.7h0.56M247.4,214.2h0.56M249.1,213.6h0.56M247.1,218.5h0.56M251.5,215.5h0.56M248.5,220.3h0.56M245.4,218.4h0.56M250.9,220.1h0.56M247.5,218.3h0.56M245.7,218.8h0.56M248.9,216.2h0.56M254.4,219.0h0.56M245.4,217.6h0.56M249.1,215.0h0.56M245.2,219.2h0.56M247.5,217.3h0.56M250.6,216.8h0.56M243.5,214.8h0.56M247.3,217.0h0.56M246.6,215.4h0.56M242.8,216.9h0.56M248.9,218.1h0.56M244.4,216.0h0.56M248.1,211.7h0.56M249.7,217.2h0.56M256.6,217.2h0.56M247.4,217.5h0.56M247.0,215.9h0.56M250.8,218.3h0.56M248.6,216.8h0.56M242.3,216.3h0.56M241.3,216.0h0.56M248.7,216.8h0.56M247.9,221.2h0.56M249.2,219.9h0.56M246.8,216.7h0.56M243.7,221.0h0.56M250.9,217.3h0.56M249.0,218.1h0.56M251.5,218.7h0.56M247.4,214.9h0.56M240.8,211.8h0.56M247.0,220.3h0.56M245.7,216.9h0.56M249.4,221.3h0.56M241.0,217.1h0.56M246.3,219.4h0.56M246.6,213.3h0.56M241.0,213.4h0.56M246.5,214.9h0.56M243.8,222.2h0.56M243.4,216.7h0.56M251.1,217.4h0.56M241.9,217.5h0.56M247.6,220.7h0.56M245.3,213.7h0.56M246.5,214.8h0.56M248.2,219.0h0.56M247.4,217.3h0.56M244.2,214.1h0.56M248.5,220.8h0.56M244.8,212.3h0.56M247.5,218.1h0.56M245.2,212.9h0.56M251.5,212.9h0.56M249.1,219.4h0.56M251.3,217.3h0.56M250.3,216.8h0.56M249.7,220.6h0.56" stroke="#444" stroke-width="0.56" opacity="0.35" fill="none"/>
<rect x="240.88" y="215.16" width="12.60" height="7.04" fill="#666" opacity="0.32" filter="url(#b12)"/>
<path d="M247.5,202.0h0.60M249.6,197.0h0.60M254.1,206.5h0.60M245.1,212.9h0.60M251.7,210.9h0.60M245.0,211.8h0.60M248.3,207.5h0.60M243.9,210.8h0.60M244.1,214.1h0.60M248.5,202.2h0.60M256.2,203.4h0.60M244.8,207.3h0.60M248.4,214.4h0.60M245.6,206.9h0.60M253.6,208.9h0.60M251.2,209.1h0.60M245.2,206.5h0.60M243.0,205.8h0.60M248.4,208.7h0.60M251.3,209.3h0.60M249.5,205.4h0.60M240.1,212.9h0.60M255.9,207.8h0.60M251.6,205.4h0.60M243.4,210.5h0.60M251.6,211.2h0.60M252.7,209.3h0.60M246.9,209.3h0.60M243.5,207.5h0.60M239.9,204.2h0.60M251.2,206.7h0.60M251.2,208.6h0.60M247.2,211.2h0.60M253.0,207.7h0.60M248.7,216.8h0.60M250.4,206.7h0.60M243.7,207.1h0.60M253.0,200.7h0.60M250.5,207.2h0.60M250.6,209.7h0.60M240.3,207.0h0.60M244.0,212.5h0.60M243.1,206.9h0.60M239.7,216.2h0.60M246.5,209.2h0.60M258.2,202.0h0.60M247.1,205.2h0.60M246.3,207.2h0.60M250.0,211.9h0.60M247.9,213.6h0.60M246.1,203.8h0.60M239.7,212.3h0.60M246.0,210.8h0.60M250.9,205.3h0.60M253.6,211.8h0.60M255.2,211.7h0.60M242.3,211.2h0.60M248.2,203.2h0.60M251.7,207.9h0.60M249.5,215.4h0.60M253.7,207.3h0.60M251.0,213.0h0.60M248.3,213.2h0.60M250.3,207.1h0.60M254.1,207.9h0.60M245.4,207.4h0.60M242.0,201.6h0.60M249.1,200.2h0.60M246.3,211.9h0.60M249.2,210.4h0.60M246.3,205.1h0.60M248.9,212.0h0.60M247.3,212.8h0.60M248.4,203.8h0.60M245.1,208.5h0.60M243.8,208.0h0.60M252.1,208.9h0.60M252.5,210.7h0.60M245.2,209.2h0.60M251.9,206.7h0.60M244.5,213.8h0.60M251.5,211.5h0.60M245.2,208.2h0.60M249.4,210.5h0.60M251.7,204.5h0.60M251.8,204.9h0.60M243.1,207.0h0.60M245.1,213.1h0.60M253.2,217.3h0.60M244.4,209.5h0.60M253.7,202.1h0.60M251.4,216.4h0.60M252.2,206.0h0.60M247.2,209.5h0.60M244.5,204.8h0.60M253.0,205.4h0.60M252.6,204.6h0.60M244.0,199.8h0.60M244.6,207.4h0.60M251.6,203.2h0.60M247.6,213.4h0.60M251.4,214.8h0.60M247.0,202.9h0.60M247.7,211.0h0.60M242.8,207.7h0.60M247.5,217.7h0.60M244.6,205.8h0.60M246.7,206.4h0.60M247.8,206.8h0.60M241.9,206.1h0.60M254.0,208.4h0.60M248.6,211.6h0.60M249.1,205.4h0.60M243.5,212.1h0.60M246.4,210.6h0.60M245.8,212.4h0.60M246.9,209.9h0.60M250.3,200.9h0.60M251.9,214.2h0.60M245.4,202.4h0.60M249.4,205.4h0.60M243.0,215.1h0.60M247.1,204.6h0.60M241.6,210.5h0.60M249.2,210.5h0.60M242.3,206.2h0.60M247.5,207.3h0.60M247.9,207.6h0.60M247.4,209.6h0.60M250.6,214.0h0.60M247.4,200.8h0.60M254.3,202.9h0.60M248.8,213.7h0.60M250.5,214.2h0.60M247.7,217.7h0.60M250.1,202.3h0.60M251.0,207.6h0.60M252.6,206.1h0.60M251.6,203.8h0.60M246.3,208.5h0.60M252.9,205.7h0.60M249.1,213.4h0.60M247.2,209.8h0.60M256.6,208.7h0.60M251.0,213.9h0.60M254.4,213.8h0.60M244.8,210.4h0.60M241.0,204.0h0.60M246.2,207.7h0.60M245.0,205.8h0.60" stroke="#000" stroke-width="0.60" opacity="0.5" fill="none"/>
<rect x="239.88" y="200.97" width="18.82" height="18.19" rx="3" fill="#333" opacity="0.35" filter="url(#b20)"/>
<rect x="241.38" y="202.47" width="17.32" height="12.69" rx="2" fill="#222" opacity="0.45" filter="url(#b12)"/>
<rect x="240.38" y="201.97" width="14.82" height="14.19" rx="4.95" fill="#000" filter="url(#b08)"/>
<rect x="241.58" y="203.17" width="12.02" height="11.79" rx="3.30" fill="#000" opacity="0.8"/>
<rect x="281.2" y="184.5" width="38.6" height="39.2" fill="none" stroke="#b0b0b0" stroke-width="0.5"/>
<g stroke="#a8a8a8" stroke-width="0.45"><line x1="292.5" y1="184.5" x2="292.5" y2="214.4"/><line x1="281.2" y1="214.4" x2="319.8" y2="214.4"/><line x1="298.8" y1="214.4" x2="298.8" y2="223.7"/></g>
<text transform="translate(282.4 189.5) scale(0.1)" font-size="42.00" font-weight="normal" fill="#222" text-anchor="start">84.8</text>
<text transform="translate(318.6 189.5) scale(0.1)" font-size="42.00" font-weight="normal" fill="#222" text-anchor="end">3.32</text>
<text transform="translate(318.6 222.7) scale(0.1)" font-size="42.00" font-weight="normal" fill="#222" text-anchor="end">3.65</text>
<path d="M292.5,212.9h0.56M289.2,213.0h0.56M288.6,214.0h0.56M282.9,211.2h0.56M291.0,219.1h0.56M286.9,215.7h0.56M288.7,212.3h0.56M286.4,212.1h0.56M286.1,216.1h0.56M286.8,220.3h0.56M289.5,214.7h0.56M288.4,215.0h0.56M285.5,219.8h0.56M287.2,214.7h0.56M291.8,215.4h0.56M290.6,209.7h0.56M289.7,213.4h0.56M286.6,218.3h0.56M292.7,210.5h0.56M291.5,215.4h0.56M286.4,218.6h0.56M287.3,214.7h0.56M287.1,215.5h0.56M286.3,218.7h0.56M292.4,213.9h0.56M285.8,215.8h0.56M285.5,216.3h0.56M288.1,216.1h0.56M285.6,216.8h0.56M284.1,215.2h0.56M287.3,216.2h0.56M290.1,215.6h0.56M284.9,217.1h0.56M287.3,218.0h0.56M292.4,219.8h0.56M287.6,213.7h0.56M288.4,215.6h0.56M285.6,212.4h0.56M291.0,213.7h0.56M290.6,218.7h0.56M285.1,217.1h0.56M287.5,212.5h0.56M285.9,216.4h0.56M290.4,214.3h0.56M287.1,218.6h0.56M286.5,214.4h0.56M283.4,217.1h0.56M285.7,213.7h0.56M286.4,214.3h0.56M295.9,214.7h0.56M289.9,213.0h0.56M290.1,216.9h0.56M286.6,221.5h0.56M285.0,213.4h0.56M285.7,215.9h0.56M289.9,215.9h0.56M285.5,213.7h0.56M292.3,215.0h0.56M292.6,215.8h0.56M286.6,215.2h0.56M289.1,218.0h0.56M286.6,217.3h0.56M284.0,212.1h0.56M283.2,214.9h0.56M285.8,217.8h0.56M286.7,215.0h0.56M286.8,212.5h0.56M284.2,220.8h0.56M289.3,212.5h0.56M284.2,216.9h0.56M286.3,214.7h0.56M289.9,213.4h0.56M284.1,217.1h0.56M284.9,216.4h0.56M282.3,215.1h0.56M292.8,212.6h0.56M287.5,215.8h0.56M288.0,215.7h0.56M289.7,214.4h0.56M285.0,216.5h0.56M288.3,211.6h0.56M289.8,215.1h0.56M290.4,216.1h0.56M284.1,215.1h0.56M289.6,218.6h0.56M287.2,217.6h0.56M291.4,216.8h0.56M291.7,217.7h0.56M285.0,213.0h0.56M285.3,220.2h0.56M291.0,213.9h0.56M287.6,221.1h0.56M285.4,216.1h0.56M286.7,218.2h0.56M282.4,216.9h0.56M288.2,218.9h0.56M288.9,217.0h0.56M285.0,216.8h0.56M286.2,220.5h0.56M288.6,216.2h0.56M288.1,216.3h0.56M286.6,217.7h0.56M287.7,213.9h0.56M290.2,217.9h0.56M290.9,215.1h0.56M290.3,219.8h0.56M289.5,217.1h0.56" stroke="#444" stroke-width="0.56" opacity="0.35" fill="none"/>
<rect x="282.88" y="212.54" width="9.28" height="9.66" fill="#666" opacity="0.32" filter="url(#b12)"/>
<path d="M291.30,204.90 C302.20,204.90 306.00,206.40 305.20,218.90" fill="none" stroke="#702020" stroke-width="3.82" stroke-linecap="round" opacity="0.22" filter="url(#b08)"/>
<path d="M291.30,204.90 C302.20,204.90 306.00,206.40 305.20,218.90" fill="none" stroke="#b01818" stroke-width="1.64" stroke-linecap="round" opacity="0.21" filter="url(#b05)"/>
<path d="M304.9,209.2h0.5M299.9,206.0h0.5M300.2,206.9h0.5M295.6,206.2h0.5M299.2,205.2h0.5M297.5,205.9h0.5M292.2,204.3h0.5M305.4,209.0h0.5M305.9,208.7h0.5M307.7,212.7h0.5M303.8,218.0h0.5M294.4,204.0h0.5M294.7,206.1h0.5M290.1,205.6h0.5M295.1,207.1h0.5M299.6,206.3h0.5M296.5,207.6h0.5M295.0,204.2h0.5M304.7,216.7h0.5M305.3,216.0h0.5M305.5,214.1h0.5M303.8,216.5h0.5M291.9,204.6h0.5M304.4,212.6h0.5M306.3,215.0h0.5M293.2,204.8h0.5M302.4,204.6h0.5M304.5,215.3h0.5M297.0,203.9h0.5M294.7,205.4h0.5M295.5,207.0h0.5M305.9,217.4h0.5M295.6,205.2h0.5M297.2,205.0h0.5M292.3,205.8h0.5M305.7,211.9h0.5" stroke="#6a1515" stroke-width="0.5" opacity="0.5"/>
<ellipse cx="305.20" cy="217.10" rx="1.54" ry="2.90" fill="#c81212" opacity="0.70" filter="url(#b05)"/>
<path d="M284.4,210.8h0.60M285.5,209.0h0.60M285.4,209.7h0.60M292.2,204.9h0.60M285.1,210.8h0.60M284.7,211.2h0.60M289.0,204.7h0.60M285.9,212.1h0.60M290.6,208.2h0.60M288.5,211.3h0.60M285.7,208.9h0.60M289.3,212.1h0.60M286.5,207.1h0.60M288.6,207.0h0.60M286.9,209.5h0.60M286.1,206.8h0.60M288.6,208.1h0.60M286.5,207.5h0.60M283.7,205.3h0.60M285.4,204.2h0.60M292.8,214.6h0.60M286.9,207.4h0.60M287.3,206.6h0.60M285.9,210.7h0.60M289.5,203.5h0.60M288.5,205.0h0.60M289.8,205.2h0.60M288.8,205.3h0.60M287.1,208.9h0.60M290.0,203.2h0.60M285.9,205.1h0.60M282.1,208.5h0.60M287.0,206.8h0.60M285.0,213.5h0.60M284.8,199.2h0.60M286.5,208.7h0.60M284.1,207.3h0.60M287.9,204.7h0.60M284.0,204.3h0.60M285.9,211.2h0.60M288.1,205.7h0.60M286.1,210.3h0.60M285.5,204.8h0.60M290.3,207.7h0.60M292.1,206.9h0.60M286.7,209.1h0.60M288.4,207.8h0.60M284.6,205.5h0.60M285.2,206.1h0.60M292.0,204.7h0.60M289.3,209.1h0.60M282.5,211.0h0.60M288.5,208.9h0.60M288.4,210.9h0.60M289.0,205.6h0.60M285.6,204.9h0.60M285.1,204.9h0.60M288.5,210.9h0.60M287.0,211.0h0.60M291.5,209.9h0.60M282.2,199.3h0.60M291.3,209.3h0.60M283.0,205.3h0.60M288.5,207.6h0.60M283.4,207.5h0.60M282.8,206.9h0.60M289.8,208.6h0.60M285.8,209.7h0.60M294.2,206.8h0.60M288.1,203.0h0.60M290.3,202.4h0.60M287.0,210.6h0.60M289.7,197.0h0.60M285.0,199.8h0.60M286.7,202.9h0.60M295.2,211.5h0.60M284.4,206.7h0.60M287.9,210.8h0.60M292.4,209.8h0.60M283.4,197.4h0.60M282.5,203.9h0.60M290.3,203.3h0.60M292.0,210.2h0.60M288.0,210.4h0.60M285.3,211.1h0.60M288.0,205.7h0.60M285.1,200.9h0.60M286.6,209.4h0.60M286.3,206.2h0.60M293.5,217.0h0.60M283.2,211.7h0.60M287.6,207.6h0.60M284.9,206.8h0.60M288.7,209.0h0.60M285.8,205.9h0.60M289.9,212.6h0.60M286.3,209.3h0.60M290.2,208.8h0.60M284.6,207.7h0.60M288.0,204.0h0.60M287.9,207.6h0.60M285.3,213.0h0.60M288.7,204.9h0.60M291.7,206.7h0.60M284.3,203.7h0.60M291.3,203.8h0.60M288.8,209.2h0.60M285.8,210.1h0.60M291.2,207.4h0.60M287.7,209.8h0.60M288.0,212.0h0.60M290.3,207.9h0.60M288.5,206.4h0.60M290.0,205.3h0.60M287.6,203.5h0.60M295.7,208.6h0.60M287.9,209.2h0.60M282.1,212.4h0.60M282.2,209.7h0.60M286.4,210.1h0.60M289.9,208.5h0.60M291.1,206.6h0.60M288.5,206.6h0.60M285.4,204.1h0.60M289.0,213.3h0.60M284.9,206.0h0.60M285.4,208.9h0.60M285.2,204.3h0.60M288.5,208.3h0.60M288.7,211.6h0.60M283.0,211.3h0.60M289.5,215.6h0.60M292.4,209.3h0.60M292.9,210.4h0.60M287.5,203.6h0.60M287.9,202.8h0.60M285.1,206.3h0.60M289.1,205.5h0.60M287.5,207.5h0.60M288.6,209.7h0.60M289.3,206.7h0.60M288.3,205.6h0.60M283.6,205.7h0.60M287.7,201.0h0.60M290.3,208.8h0.60M282.4,204.2h0.60M284.7,200.1h0.60M281.8,209.0h0.60M292.5,212.8h0.60M289.4,211.5h0.60M292.2,204.4h0.60M293.1,205.0h0.60M286.5,198.9h0.60M286.6,201.9h0.60M295.4,208.9h0.60M290.7,206.0h0.60" stroke="#000" stroke-width="0.60" opacity="0.5" fill="none"/>
<rect x="281.88" y="200.93" width="14.92" height="15.61" rx="3" fill="#333" opacity="0.35" filter="url(#b20)"/>
<rect x="283.38" y="202.43" width="13.42" height="10.11" rx="2" fill="#222" opacity="0.45" filter="url(#b12)"/>
<rect x="282.38" y="201.93" width="10.92" height="11.61" rx="4.05" fill="#000" filter="url(#b08)"/>
<rect x="283.58" y="203.13" width="8.12" height="9.21" rx="2.70" fill="#000" opacity="0.8"/>
<rect x="196.3" y="224.14999999999998" width="39.8" height="39.2" fill="none" stroke="#b0b0b0" stroke-width="0.5"/>
<g stroke="#a8a8a8" stroke-width="0.45"><line x1="210.5" y1="224.14999999999998" x2="210.5" y2="254.04999999999998"/><line x1="196.3" y1="254.04999999999998" x2="236.10000000000002" y2="254.04999999999998"/><line x1="216.8" y1="254.04999999999998" x2="216.8" y2="263.34999999999997"/></g>
<text transform="translate(197.5 229.14999999999998) scale(0.1)" font-size="42.00" font-weight="normal" fill="#222" text-anchor="start">90.8</text>
<text transform="translate(234.90000000000003 229.14999999999998) scale(0.1)" font-size="42.00" font-weight="normal" fill="#222" text-anchor="end">2.81</text>
<text transform="translate(234.90000000000003 262.34999999999997) scale(0.1)" font-size="42.00" font-weight="normal" fill="#222" text-anchor="end">3.02</text>
<path d="M206.5,256.3h0.56M202.7,256.3h0.56M202.6,251.8h0.56M198.1,251.0h0.56M205.5,259.8h0.56M202.5,253.5h0.56M207.5,254.6h0.56M204.8,255.0h0.56M196.9,251.6h0.56M204.7,255.2h0.56M203.0,251.7h0.56M204.2,254.2h0.56M201.0,254.4h0.56M204.5,260.3h0.56M206.9,252.7h0.56M206.1,251.1h0.56M197.1,253.0h0.56M209.3,256.8h0.56M201.8,256.0h0.56M197.9,254.5h0.56M201.0,251.8h0.56M202.7,253.0h0.56M204.7,251.8h0.56M204.9,256.1h0.56M206.1,256.6h0.56M205.8,257.6h0.56M207.4,257.6h0.56M207.2,251.7h0.56M203.1,258.6h0.56M202.1,256.8h0.56M206.9,258.3h0.56M202.1,255.6h0.56M203.4,256.6h0.56M198.3,254.8h0.56M207.2,254.9h0.56M206.7,258.5h0.56M204.2,253.9h0.56M202.2,252.0h0.56M202.6,254.5h0.56M206.6,253.3h0.56M201.8,254.8h0.56M203.2,258.1h0.56M203.9,258.5h0.56M204.1,248.5h0.56M203.3,252.2h0.56M203.9,252.7h0.56M206.4,254.3h0.56M202.8,260.2h0.56M202.9,253.8h0.56M202.8,256.8h0.56M204.5,255.0h0.56M207.2,253.5h0.56M205.9,257.0h0.56M204.7,253.7h0.56M203.4,257.7h0.56M201.2,257.3h0.56M205.3,256.0h0.56M205.3,253.8h0.56M208.5,255.1h0.56M206.2,254.5h0.56M202.9,257.7h0.56M201.1,254.9h0.56M201.5,251.0h0.56M206.7,255.0h0.56M198.6,254.8h0.56M210.5,257.6h0.56M203.2,255.9h0.56M203.0,255.5h0.56M203.5,255.4h0.56M202.5,257.1h0.56M200.4,250.7h0.56M199.0,253.3h0.56M204.2,256.4h0.56M206.1,251.1h0.56M199.4,256.5h0.56M208.9,256.5h0.56M203.5,257.5h0.56M208.6,257.5h0.56M204.4,254.2h0.56M202.3,253.9h0.56M200.4,255.8h0.56M206.8,254.2h0.56M206.1,256.6h0.56M203.5,254.8h0.56M208.1,253.1h0.56M201.9,253.9h0.56M201.7,256.4h0.56M205.6,254.3h0.56M205.7,250.5h0.56M204.1,260.9h0.56M206.6,252.4h0.56M206.4,253.3h0.56M205.6,256.7h0.56M199.8,259.6h0.56M199.9,253.9h0.56M205.8,256.5h0.56M204.5,254.2h0.56M206.1,255.9h0.56M202.9,257.8h0.56M208.3,253.5h0.56M202.7,252.4h0.56M200.4,255.4h0.56M206.6,251.4h0.56M203.2,255.8h0.56M202.2,257.2h0.56M205.6,254.9h0.56M207.2,255.9h0.56M207.0,256.5h0.56M203.1,258.8h0.56" stroke="#444" stroke-width="0.56" opacity="0.35" fill="none"/>
<rect x="199.55" y="251.83" width="8.29" height="10.02" fill="#666" opacity="0.32" filter="url(#b12)"/>
<path d="M206.80,243.55 C219.30,243.55 223.10,245.05 222.30,257.65" fill="none" stroke="#702020" stroke-width="3.82" stroke-linecap="round" opacity="0.22" filter="url(#b08)"/>
<path d="M206.80,243.55 C219.30,243.55 223.10,245.05 222.30,257.65" fill="none" stroke="#b01818" stroke-width="1.64" stroke-linecap="round" opacity="0.21" filter="url(#b05)"/>
<path d="M215.0,245.8h0.5M212.0,245.4h0.5M209.6,242.5h0.5M222.5,254.8h0.5M210.6,244.5h0.5M218.3,243.5h0.5M217.9,243.3h0.5M222.3,254.6h0.5M213.9,243.0h0.5M222.0,252.3h0.5M212.2,244.7h0.5M222.1,251.5h0.5M224.8,251.9h0.5M221.4,246.8h0.5M211.4,244.7h0.5M222.4,259.4h0.5M220.6,252.0h0.5M222.7,244.9h0.5M215.0,241.2h0.5M210.0,242.8h0.5M210.8,243.8h0.5M208.2,242.1h0.5M222.3,247.0h0.5M219.5,244.0h0.5M211.3,243.5h0.5M209.8,244.1h0.5M220.7,254.3h0.5M216.5,244.8h0.5M213.5,244.3h0.5M222.2,253.2h0.5M214.3,243.4h0.5M216.1,245.3h0.5M216.7,246.8h0.5M222.0,258.4h0.5M225.3,252.5h0.5M213.4,243.1h0.5" stroke="#6a1515" stroke-width="0.5" opacity="0.5"/>
<ellipse cx="222.30" cy="255.85" rx="1.54" ry="2.90" fill="#c81212" opacity="0.70" filter="url(#b05)"/>
<path d="M204.8,248.9h0.60M203.0,249.4h0.60M206.2,242.3h0.60M209.3,247.1h0.60M206.5,251.7h0.60M203.8,255.2h0.60M201.2,242.7h0.60M202.8,253.1h0.60M208.8,249.5h0.60M200.9,245.1h0.60M203.3,246.9h0.60M200.4,246.7h0.60M202.4,248.1h0.60M200.9,244.6h0.60M204.3,248.9h0.60M204.1,247.1h0.60M203.4,244.3h0.60M202.6,243.4h0.60M205.5,247.9h0.60M203.4,243.4h0.60M202.6,245.9h0.60M207.0,245.3h0.60M204.5,244.1h0.60M205.8,245.5h0.60M201.3,239.6h0.60M202.8,245.2h0.60M207.4,242.0h0.60M202.0,242.1h0.60M206.2,247.4h0.60M202.7,248.7h0.60M204.3,244.7h0.60M203.7,248.6h0.60M206.6,252.7h0.60M204.7,246.7h0.60M204.1,243.5h0.60M203.3,248.5h0.60M202.7,245.4h0.60M200.0,248.6h0.60M207.0,246.5h0.60M204.4,247.2h0.60M204.0,245.7h0.60M206.8,254.4h0.60M206.9,247.5h0.60M202.7,242.1h0.60M206.9,245.8h0.60M205.5,244.6h0.60M200.2,248.6h0.60M207.3,240.6h0.60M204.4,246.1h0.60M199.2,252.7h0.60M202.4,248.3h0.60M203.9,253.1h0.60M201.1,245.1h0.60M204.7,249.0h0.60M203.8,250.5h0.60M207.3,247.9h0.60M199.7,243.1h0.60M198.9,244.8h0.60M206.5,252.2h0.60M204.4,249.6h0.60M202.7,245.5h0.60M206.0,240.6h0.60M203.2,243.4h0.60M204.6,248.5h0.60M204.4,251.3h0.60M204.1,250.9h0.60M204.5,239.3h0.60M203.7,243.3h0.60M202.7,238.0h0.60M203.1,245.3h0.60M200.5,245.6h0.60M206.3,246.7h0.60M205.9,243.3h0.60M209.0,243.2h0.60M200.1,247.2h0.60M205.6,251.1h0.60M206.1,249.9h0.60M199.2,247.1h0.60M202.0,238.9h0.60M208.3,242.3h0.60M205.8,249.5h0.60M202.9,243.0h0.60M207.8,246.5h0.60M204.3,246.9h0.60M204.8,248.7h0.60M204.3,249.9h0.60M203.7,241.7h0.60M201.4,248.4h0.60M201.1,247.3h0.60M206.1,244.2h0.60M203.7,242.0h0.60M200.1,248.2h0.60M204.5,242.6h0.60M202.5,244.0h0.60M202.8,244.2h0.60M202.3,254.4h0.60M202.3,241.8h0.60M202.6,250.8h0.60M203.2,248.8h0.60M202.8,245.0h0.60M208.1,247.4h0.60M202.1,248.9h0.60M199.6,241.2h0.60M202.9,245.0h0.60M204.1,242.1h0.60M205.1,245.7h0.60M203.0,247.6h0.60M202.7,250.1h0.60M201.2,247.5h0.60M203.3,238.4h0.60M200.8,244.7h0.60M205.1,241.9h0.60M202.1,244.7h0.60M199.5,244.5h0.60M206.6,249.7h0.60M200.7,243.7h0.60M201.6,238.9h0.60M210.4,243.8h0.60M204.7,244.7h0.60M202.9,241.0h0.60M200.6,245.8h0.60M201.7,248.8h0.60M202.1,247.8h0.60M205.3,242.2h0.60M207.3,245.7h0.60M211.1,244.4h0.60M206.8,248.9h0.60M199.2,240.9h0.60M199.4,249.3h0.60M203.8,249.7h0.60M200.5,249.1h0.60M203.6,248.5h0.60M205.6,246.8h0.60M207.8,241.5h0.60M202.6,250.0h0.60M200.6,249.0h0.60M203.9,247.5h0.60M205.8,242.2h0.60M206.1,248.9h0.60M200.3,242.7h0.60M198.9,247.5h0.60M207.5,255.3h0.60M208.0,244.8h0.60M198.9,250.2h0.60M206.0,246.6h0.60M199.6,242.2h0.60M203.0,251.7h0.60M208.3,243.1h0.60M198.4,246.0h0.60M206.1,243.7h0.60M204.0,249.6h0.60M198.7,252.9h0.60M208.0,246.7h0.60M204.6,248.4h0.60M201.6,249.1h0.60M204.0,243.7h0.60M203.4,245.4h0.60" stroke="#000" stroke-width="0.60" opacity="0.5" fill="none"/>
<rect x="198.55" y="239.36" width="13.75" height="16.47" rx="3" fill="#333" opacity="0.35" filter="url(#b20)"/>
<rect x="200.05" y="240.86" width="12.25" height="10.97" rx="2" fill="#222" opacity="0.45" filter="url(#b12)"/>
<rect x="199.05" y="240.36" width="9.75" height="12.47" rx="3.75" fill="#000" filter="url(#b08)"/>
<rect x="200.25" y="241.56" width="6.95" height="10.07" rx="2.50" fill="#000" opacity="0.8"/>
<rect x="239.0" y="224.14999999999998" width="40.2" height="39.2" fill="none" stroke="#b0b0b0" stroke-width="0.5"/>
<g stroke="#a8a8a8" stroke-width="0.45"><line x1="252.4" y1="224.14999999999998" x2="252.4" y2="254.04999999999998"/><line x1="239.0" y1="254.04999999999998" x2="279.2" y2="254.04999999999998"/><line x1="259.1" y1="254.04999999999998" x2="259.1" y2="263.34999999999997"/></g>
<text transform="translate(240.2 229.14999999999998) scale(0.1)" font-size="42.00" font-weight="normal" fill="#222" text-anchor="start">14.9</text>
<text transform="translate(278.0 229.14999999999998) scale(0.1)" font-size="42.00" font-weight="normal" fill="#222" text-anchor="end">66.5</text>
<text transform="translate(278.0 262.34999999999997) scale(0.1)" font-size="42.00" font-weight="normal" fill="#222" text-anchor="end">8.66</text>
<path d="M245.5,255.4h0.60M251.8,256.5h0.60M245.6,255.2h0.60M246.5,259.8h0.60M242.5,256.8h0.60M245.2,244.3h0.60M251.5,246.1h0.60M243.5,251.8h0.60M250.0,251.6h0.60M249.9,253.4h0.60M239.6,257.8h0.60M255.0,249.5h0.60M251.4,250.8h0.60M243.7,250.9h0.60M251.2,256.7h0.60M250.2,253.2h0.60M244.6,256.5h0.60M257.3,253.7h0.60M256.6,252.7h0.60M246.7,256.2h0.60M248.5,251.1h0.60M245.2,252.7h0.60M247.7,244.8h0.60M250.3,259.9h0.60M249.7,254.3h0.60M250.5,256.2h0.60M251.7,250.7h0.60M242.3,254.2h0.60M250.0,249.7h0.60M246.6,254.3h0.60M255.7,249.5h0.60M243.3,252.1h0.60M244.0,249.9h0.60M243.2,257.5h0.60M250.1,253.0h0.60M250.9,256.1h0.60M243.2,254.8h0.60M244.9,245.4h0.60M249.9,249.6h0.60M255.1,251.0h0.60M246.6,248.3h0.60M247.1,251.8h0.60M251.1,248.8h0.60M244.4,247.4h0.60M244.6,250.4h0.60M247.2,249.2h0.60M252.4,248.9h0.60M249.1,251.5h0.60M249.8,252.6h0.60M245.8,252.1h0.60M245.4,251.5h0.60M253.6,256.0h0.60M254.6,248.4h0.60M253.8,254.2h0.60M251.1,251.0h0.60M256.5,248.2h0.60M249.2,246.1h0.60M246.5,253.9h0.60M249.1,253.4h0.60M254.4,247.5h0.60M240.6,250.8h0.60M259.3,255.5h0.60M247.3,256.4h0.60M243.8,255.5h0.60M246.0,249.1h0.60M243.2,249.5h0.60M249.2,260.3h0.60M252.6,256.4h0.60M247.3,259.9h0.60M247.5,258.7h0.60M242.0,254.9h0.60M242.8,250.8h0.60M247.0,244.1h0.60M249.8,252.6h0.60M239.6,251.7h0.60M247.4,245.1h0.60M244.7,256.8h0.60M245.9,251.4h0.60M247.4,251.2h0.60M242.6,251.5h0.60M246.4,246.2h0.60M240.6,253.1h0.60M245.7,249.4h0.60M245.2,253.2h0.60M253.0,250.3h0.60M243.3,254.1h0.60M253.3,253.8h0.60M243.8,256.4h0.60M245.8,246.9h0.60M247.0,261.3h0.60M247.8,249.1h0.60M251.6,248.7h0.60M253.5,255.4h0.60M241.5,250.3h0.60M246.1,248.6h0.60M249.7,251.1h0.60M256.2,253.4h0.60M252.5,256.5h0.60M250.1,255.9h0.60M244.6,256.7h0.60M252.7,257.0h0.60M245.2,249.7h0.60M253.6,251.9h0.60M260.4,254.5h0.60M242.3,255.0h0.60M249.2,243.8h0.60M245.1,242.4h0.60M260.8,247.0h0.60M243.9,250.7h0.60M244.0,257.6h0.60M246.7,245.9h0.60M251.7,253.7h0.60M241.0,256.3h0.60M241.4,248.2h0.60M255.1,250.0h0.60M248.2,248.5h0.60M246.5,243.2h0.60M246.5,248.7h0.60M252.5,250.2h0.60M243.8,250.0h0.60M249.2,250.7h0.60M257.8,246.0h0.60M249.6,260.1h0.60M244.8,246.4h0.60M252.9,260.4h0.60M244.2,255.9h0.60M251.2,252.7h0.60M252.0,251.0h0.60M251.1,251.0h0.60M247.1,247.3h0.60M247.7,251.7h0.60M243.5,248.9h0.60M246.1,258.4h0.60M250.3,255.1h0.60M254.4,255.3h0.60M256.1,258.4h0.60M251.5,251.7h0.60M248.6,251.8h0.60M244.4,245.3h0.60M250.0,246.2h0.60M251.4,259.9h0.60M248.5,248.0h0.60M244.9,254.8h0.60M247.5,250.2h0.60M249.3,247.0h0.60M243.0,253.9h0.60M244.5,254.9h0.60M245.6,252.5h0.60M247.2,257.8h0.60M246.6,252.5h0.60M242.5,252.8h0.60M247.2,253.5h0.60M248.3,253.5h0.60M249.9,256.7h0.60M243.3,249.8h0.60M249.2,245.6h0.60M258.7,243.3h0.60M250.6,250.0h0.60M251.1,258.8h0.60M257.1,249.0h0.60M248.3,248.8h0.60M241.3,252.7h0.60M245.0,246.7h0.60M246.4,249.5h0.60M242.5,253.0h0.60M250.6,253.8h0.60M244.7,248.2h0.60M252.7,248.3h0.60M241.3,246.9h0.60M254.8,251.3h0.60M245.9,252.5h0.60M248.0,250.8h0.60M247.1,255.0h0.60M252.6,247.3h0.60M247.3,251.8h0.60M248.8,262.6h0.60M251.3,255.4h0.60M247.5,254.6h0.60M253.8,257.5h0.60M244.0,252.9h0.60M249.7,247.5h0.60M246.3,250.1h0.60M252.3,252.4h0.60M257.7,254.5h0.60M245.9,253.3h0.60M248.5,248.7h0.60M249.8,246.1h0.60M248.9,250.1h0.60M248.5,249.1h0.60M256.4,249.3h0.60M251.8,252.5h0.60M253.6,249.2h0.60M241.9,255.2h0.60M253.0,255.0h0.60M255.1,252.3h0.60M243.7,254.4h0.60M239.7,250.8h0.60M251.0,258.2h0.60M246.1,251.2h0.60M241.4,251.6h0.60M244.6,252.2h0.60M244.4,254.1h0.60M247.5,249.2h0.60M250.8,254.5h0.60M246.7,251.4h0.60M251.9,254.4h0.60M247.2,260.7h0.60M245.6,246.6h0.60M244.9,253.1h0.60M239.5,260.4h0.60M252.4,248.0h0.60M249.8,246.7h0.60M247.8,251.2h0.60M255.5,244.1h0.60M245.6,244.0h0.60M245.6,250.8h0.60M248.0,256.7h0.60M243.6,249.8h0.60M255.1,252.3h0.60M243.3,252.3h0.60M242.6,248.4h0.60M245.4,245.6h0.60M256.7,250.5h0.60M249.1,251.1h0.60M247.5,248.7h0.60M250.0,250.3h0.60M243.9,256.1h0.60M255.3,254.1h0.60M250.5,250.8h0.60M248.5,255.3h0.60M248.1,257.9h0.60M254.9,253.2h0.60M249.1,248.6h0.60M245.9,249.3h0.60M246.3,248.3h0.60M249.8,253.6h0.60M247.2,259.2h0.60M249.2,251.9h0.60M248.9,249.6h0.60M251.6,248.3h0.60" stroke="#222" stroke-width="0.60" opacity="0.4" fill="none"/>
<ellipse cx="249.0" cy="251.64999999999998" rx="7" ry="6" fill="#301010" opacity="0.55" filter="url(#b12)"/>
<path d="M255.3,259.2h0.60M256.7,246.9h0.60M250.6,255.8h0.60M247.3,257.8h0.60M261.2,249.3h0.60M256.6,249.3h0.60M251.4,252.9h0.60M252.5,253.6h0.60M256.9,248.7h0.60M255.8,251.3h0.60M254.8,250.3h0.60M260.8,248.2h0.60M256.1,255.3h0.60M257.2,249.5h0.60M250.5,250.1h0.60M247.0,249.4h0.60M255.4,256.5h0.60M258.2,255.3h0.60M257.5,252.1h0.60M248.6,248.9h0.60M254.5,250.8h0.60M250.1,245.0h0.60M256.3,250.1h0.60M255.5,250.3h0.60M254.4,246.6h0.60M259.2,252.7h0.60M255.3,258.0h0.60M252.4,254.5h0.60M255.2,251.3h0.60M259.2,251.2h0.60M255.4,246.4h0.60M256.7,252.8h0.60M253.6,246.5h0.60M259.7,251.7h0.60M260.5,250.9h0.60M266.6,246.3h0.60M258.6,251.7h0.60M256.5,250.3h0.60M257.9,254.5h0.60M255.9,247.1h0.60M259.7,255.1h0.60M250.4,252.1h0.60M262.1,253.6h0.60M253.3,252.3h0.60M257.0,246.9h0.60M254.3,249.9h0.60M254.0,256.4h0.60M247.8,247.1h0.60M252.4,256.1h0.60M255.1,250.2h0.60M254.5,257.4h0.60M263.9,252.1h0.60M251.3,250.1h0.60M247.9,254.8h0.60M254.6,255.6h0.60M252.9,248.2h0.60M246.2,252.2h0.60M260.1,242.7h0.60M250.9,250.8h0.60M260.0,258.6h0.60M262.6,252.3h0.60M249.2,247.9h0.60M257.7,251.2h0.60M252.0,250.8h0.60M256.1,260.1h0.60M254.1,253.4h0.60M256.8,254.2h0.60M252.5,257.0h0.60M261.3,253.2h0.60M250.8,246.9h0.60M254.6,250.7h0.60M251.7,250.7h0.60M248.7,250.4h0.60M249.7,252.3h0.60M244.8,248.2h0.60M253.6,245.4h0.60M253.5,250.4h0.60M261.1,253.9h0.60M253.7,254.4h0.60M255.2,254.3h0.60M253.6,252.3h0.60M254.0,254.9h0.60M263.0,257.5h0.60M261.5,250.6h0.60M262.4,250.0h0.60M255.4,247.7h0.60M259.5,244.8h0.60M255.1,253.9h0.60M250.6,253.1h0.60M250.8,249.9h0.60M256.9,256.7h0.60M264.5,247.3h0.60M248.2,248.3h0.60M256.4,250.7h0.60M249.8,247.7h0.60M256.4,251.3h0.60M264.2,246.5h0.60M250.1,255.5h0.60M253.2,251.6h0.60M260.7,248.9h0.60M254.3,251.3h0.60M255.6,257.9h0.60M261.7,248.6h0.60M261.0,245.2h0.60M252.5,248.3h0.60M252.7,251.8h0.60M256.6,247.6h0.60M257.1,248.6h0.60M257.7,252.3h0.60M250.6,247.5h0.60M259.6,250.8h0.60M256.7,249.8h0.60M262.2,252.9h0.60M252.4,252.0h0.60M250.7,249.5h0.60M253.9,247.1h0.60M251.7,255.3h0.60M251.5,250.2h0.60M250.1,256.0h0.60M251.3,254.0h0.60M258.2,253.2h0.60M253.3,242.5h0.60M251.5,250.2h0.60M249.1,246.6h0.60M256.8,251.1h0.60M259.9,252.9h0.60M261.0,252.2h0.60M254.8,251.8h0.60M259.2,254.9h0.60M258.2,249.2h0.60M250.9,255.0h0.60M260.0,247.2h0.60M255.6,247.3h0.60M255.8,259.4h0.60M253.9,249.5h0.60M255.2,249.3h0.60M257.1,244.9h0.60M258.7,248.1h0.60M255.6,260.9h0.60M260.8,251.9h0.60M254.8,253.0h0.60M264.0,256.9h0.60M252.0,256.9h0.60M254.7,251.8h0.60M253.9,249.7h0.60M257.9,251.9h0.60M258.7,249.1h0.60M251.7,249.5h0.60M254.3,252.6h0.60M263.4,251.7h0.60M254.4,261.0h0.60M263.4,254.7h0.60M259.8,244.2h0.60M253.9,251.0h0.60M255.5,243.5h0.60M256.7,258.3h0.60M261.5,252.2h0.60M257.8,251.2h0.60M246.2,253.3h0.60M259.6,245.5h0.60M265.6,254.2h0.60M257.7,256.8h0.60M251.3,250.8h0.60M249.0,254.9h0.60M257.6,260.2h0.60M258.8,249.5h0.60M246.7,249.8h0.60M254.0,250.9h0.60M253.2,249.8h0.60M256.1,248.8h0.60M251.9,250.2h0.60M248.9,242.1h0.60M255.2,247.2h0.60M249.0,250.6h0.60M255.5,256.1h0.60M253.0,251.0h0.60M254.6,248.7h0.60M249.6,243.4h0.60M247.4,246.8h0.60M251.5,249.0h0.60M247.3,252.2h0.60M257.0,246.2h0.60M252.3,249.3h0.60M258.1,255.8h0.60M258.0,253.8h0.60M260.9,253.8h0.60M256.3,253.2h0.60M259.7,251.8h0.60M259.9,249.0h0.60M250.6,251.0h0.60M257.8,259.2h0.60M254.6,247.0h0.60M247.6,247.5h0.60M253.9,249.5h0.60M256.9,251.2h0.60M252.8,261.0h0.60M252.9,250.0h0.60M249.9,248.6h0.60M256.6,244.3h0.60M254.0,248.1h0.60M255.7,253.5h0.60M255.0,254.8h0.60M253.1,252.4h0.60M251.3,244.6h0.60M250.9,249.9h0.60M257.6,258.4h0.60M257.2,253.6h0.60M251.7,257.8h0.60M252.6,250.6h0.60M263.8,254.7h0.60M264.9,248.7h0.60M257.2,246.2h0.60M257.0,248.6h0.60M261.2,253.2h0.60M248.0,249.6h0.60M252.0,251.4h0.60M259.9,246.3h0.60M254.4,253.7h0.60M251.5,249.4h0.60M252.5,255.2h0.60M258.7,246.6h0.60M260.1,257.5h0.60M254.0,252.4h0.60M258.0,253.9h0.60M265.0,251.5h0.60M254.1,252.0h0.60M255.0,243.9h0.60M259.2,252.3h0.60M251.8,247.7h0.60M248.6,251.8h0.60M256.7,251.7h0.60M259.6,250.1h0.60M250.4,251.4h0.60M262.3,256.5h0.60M255.4,258.6h0.60M251.4,248.9h0.60M253.8,259.2h0.60M242.7,252.3h0.60M255.7,247.5h0.60M257.2,243.2h0.60M256.5,247.2h0.60M252.3,252.2h0.60M255.0,249.0h0.60M255.5,248.2h0.60M261.1,252.5h0.60M256.8,256.7h0.60M263.6,245.1h0.60M256.1,246.3h0.60M258.2,248.8h0.60M252.5,250.0h0.60M260.5,247.3h0.60M257.0,250.0h0.60M254.0,251.6h0.60M263.2,249.4h0.60M256.4,252.6h0.60M248.8,250.0h0.60M257.8,252.5h0.60M255.9,247.2h0.60M253.9,253.4h0.60M252.3,254.8h0.60M257.2,257.5h0.60M248.5,251.0h0.60M248.6,246.6h0.60M264.0,254.0h0.60M257.0,246.9h0.60M255.6,253.0h0.60M261.2,243.1h0.60M255.1,246.4h0.60M265.0,257.4h0.60M255.6,249.8h0.60M261.8,257.7h0.60M253.7,254.9h0.60M256.8,252.0h0.60M249.1,259.4h0.60M255.1,246.9h0.60M249.6,257.1h0.60M256.7,254.9h0.60M256.0,245.6h0.60M254.6,247.9h0.60M250.7,251.7h0.60M252.3,252.4h0.60M256.1,249.1h0.60M251.6,250.1h0.60M260.0,255.4h0.60M260.7,247.7h0.60M251.6,252.0h0.60M255.3,253.7h0.60M257.3,245.4h0.60M256.5,257.1h0.60M255.0,250.9h0.60M255.7,244.8h0.60M258.5,252.8h0.60M259.2,248.9h0.60M252.4,246.9h0.60M254.8,251.0h0.60M258.0,247.3h0.60M252.2,246.5h0.60M253.3,254.5h0.60" stroke="#a00000" stroke-width="0.60" opacity="0.5" fill="none"/>
<ellipse cx="256.4" cy="251.14999999999998" rx="6.4" ry="7.2" fill="#c80c0c" filter="url(#b08)"/>
<ellipse cx="252.0" cy="251.14999999999998" rx="3.5" ry="5" fill="#500808" opacity="0.5" filter="url(#b12)"/>
<rect x="281.2" y="224.14999999999998" width="38.6" height="39.2" fill="none" stroke="#b0b0b0" stroke-width="0.5"/>
<g stroke="#a8a8a8" stroke-width="0.45"><line x1="292.5" y1="224.14999999999998" x2="292.5" y2="254.04999999999998"/><line x1="281.2" y1="254.04999999999998" x2="319.8" y2="254.04999999999998"/><line x1="298.8" y1="254.04999999999998" x2="298.8" y2="263.34999999999997"/></g>
<text transform="translate(282.4 229.14999999999998) scale(0.1)" font-size="42.00" font-weight="normal" fill="#222" text-anchor="start">67.8</text>
<text transform="translate(318.6 229.14999999999998) scale(0.1)" font-size="42.00" font-weight="normal" fill="#222" text-anchor="end">18.7</text>
<text transform="translate(318.6 262.34999999999997) scale(0.1)" font-size="42.00" font-weight="normal" fill="#222" text-anchor="end">4.34</text>
<path d="M290.6,255.5h0.56M291.2,256.4h0.56M287.0,256.9h0.56M284.8,253.8h0.56M288.7,255.5h0.56M286.4,254.7h0.56M285.3,253.6h0.56M295.5,256.8h0.56M290.8,258.2h0.56M284.0,257.1h0.56M286.2,252.2h0.56M286.7,255.7h0.56M291.1,257.9h0.56M288.6,258.2h0.56M282.7,255.1h0.56M289.8,261.0h0.56M283.8,249.7h0.56M287.6,254.8h0.56M289.6,254.9h0.56M285.6,254.4h0.56M288.9,261.1h0.56M287.6,254.3h0.56M284.0,254.3h0.56M286.6,255.7h0.56M289.7,254.5h0.56M289.8,253.7h0.56M286.6,256.1h0.56M287.1,257.0h0.56M290.4,254.0h0.56M293.9,257.0h0.56M286.5,252.7h0.56M287.7,255.5h0.56M289.9,256.1h0.56M289.9,252.0h0.56M286.6,255.2h0.56M290.3,255.1h0.56M288.8,253.1h0.56M291.3,255.6h0.56M284.6,254.7h0.56M287.5,255.7h0.56M293.5,252.7h0.56M291.8,252.6h0.56M287.9,252.8h0.56M288.0,257.9h0.56M292.8,257.4h0.56M287.8,257.3h0.56M284.1,255.0h0.56M286.2,250.5h0.56M287.3,252.4h0.56M291.4,253.3h0.56M291.4,254.8h0.56M291.0,256.8h0.56M291.9,253.3h0.56M284.6,255.8h0.56M294.6,258.2h0.56M288.4,257.9h0.56M288.1,255.8h0.56M291.5,256.1h0.56M287.9,255.6h0.56M291.4,258.4h0.56M292.4,256.5h0.56M285.5,257.4h0.56M287.4,253.6h0.56M287.9,253.7h0.56M284.7,255.6h0.56M285.7,257.4h0.56M289.1,252.5h0.56M289.4,256.3h0.56M285.0,257.2h0.56M287.1,254.7h0.56M290.1,250.4h0.56M286.7,257.0h0.56M289.2,258.7h0.56M289.7,255.6h0.56M291.3,255.1h0.56M290.3,249.5h0.56M284.2,257.9h0.56M291.1,256.6h0.56M291.0,251.4h0.56M289.4,252.3h0.56M286.7,253.6h0.56M291.1,253.5h0.56M290.8,257.1h0.56M289.2,256.3h0.56M291.5,255.9h0.56M290.2,256.6h0.56M283.7,259.8h0.56M289.7,255.2h0.56M289.9,253.3h0.56M287.8,252.7h0.56M287.9,257.9h0.56M284.7,253.1h0.56M289.7,253.9h0.56M295.3,253.4h0.56M291.3,255.5h0.56M289.5,257.8h0.56M293.6,258.5h0.56M290.1,255.1h0.56M290.4,257.4h0.56M288.1,253.4h0.56M285.7,252.1h0.56M289.2,257.9h0.56M289.7,254.9h0.56M285.2,256.5h0.56M295.9,259.0h0.56M288.0,258.7h0.56M288.3,255.4h0.56M288.5,252.3h0.56M292.6,254.4h0.56" stroke="#444" stroke-width="0.56" opacity="0.35" fill="none"/>
<rect x="282.70" y="251.89" width="10.54" height="9.96" fill="#666" opacity="0.32" filter="url(#b12)"/>
<path d="M292.60,244.25 C302.20,244.25 306.00,245.75 305.20,258.15" fill="none" stroke="#702020" stroke-width="5.36" stroke-linecap="round" opacity="0.90" filter="url(#b08)"/>
<path d="M292.60,244.25 C302.20,244.25 306.00,245.75 305.20,258.15" fill="none" stroke="#b01818" stroke-width="2.52" stroke-linecap="round" opacity="0.90" filter="url(#b05)"/>
<path d="M297.4,244.9h0.5M297.7,244.3h0.5M302.4,245.3h0.5M297.7,244.2h0.5M305.4,255.7h0.5M305.8,251.5h0.5M305.2,254.7h0.5M296.2,245.9h0.5M298.6,246.4h0.5M296.9,246.1h0.5M293.9,245.3h0.5M304.2,252.7h0.5M297.8,246.8h0.5M293.6,244.6h0.5M304.9,250.1h0.5M305.4,247.4h0.5M301.2,244.7h0.5M306.1,256.0h0.5M304.4,245.4h0.5M298.7,243.2h0.5M304.6,247.9h0.5M300.8,242.7h0.5M303.3,247.4h0.5M298.0,244.0h0.5M306.5,252.0h0.5M301.2,242.8h0.5M300.8,243.3h0.5M295.6,244.2h0.5M304.3,255.3h0.5M306.0,255.0h0.5M298.0,241.7h0.5M300.1,245.3h0.5M294.2,243.5h0.5M296.1,243.3h0.5M305.3,247.1h0.5M301.3,243.8h0.5M304.4,255.9h0.5M305.5,250.4h0.5M305.2,256.3h0.5M305.3,255.1h0.5M292.3,243.0h0.5M307.0,256.5h0.5M295.7,242.2h0.5M298.0,244.6h0.5M301.8,246.1h0.5M304.9,255.1h0.5M305.3,252.1h0.5M306.3,257.2h0.5M302.6,244.3h0.5M296.2,244.4h0.5M292.4,243.5h0.5M299.2,245.9h0.5M303.2,246.2h0.5M299.5,245.5h0.5M305.6,248.4h0.5M300.5,245.0h0.5M294.2,244.8h0.5M294.5,244.0h0.5M298.4,244.4h0.5M297.0,245.3h0.5M293.1,246.1h0.5M293.9,245.1h0.5M294.2,244.6h0.5M295.1,245.8h0.5M293.1,245.7h0.5M291.0,245.3h0.5M293.9,245.9h0.5M297.0,244.5h0.5M302.4,247.7h0.5M305.5,253.7h0.5M294.7,243.3h0.5M296.9,244.9h0.5M306.2,245.6h0.5M306.4,251.7h0.5M296.3,244.6h0.5M295.1,243.9h0.5M303.7,248.6h0.5M303.7,248.3h0.5M292.3,244.7h0.5M299.8,243.1h0.5M291.3,244.3h0.5M304.1,257.7h0.5M298.7,242.4h0.5M295.4,243.4h0.5M305.9,248.8h0.5M305.4,257.6h0.5M301.6,245.8h0.5M299.7,244.6h0.5M295.7,243.0h0.5M307.4,251.7h0.5M302.9,245.7h0.5M297.5,244.1h0.5M298.1,243.5h0.5M293.5,245.3h0.5M306.8,254.7h0.5M294.4,243.6h0.5M290.5,244.6h0.5M298.1,244.3h0.5M304.8,258.0h0.5M303.3,249.2h0.5M304.0,248.2h0.5M299.9,244.6h0.5M300.3,244.7h0.5M304.5,249.5h0.5M296.2,245.4h0.5M299.6,244.5h0.5M298.1,244.7h0.5M302.6,245.0h0.5M303.5,250.9h0.5M304.4,259.3h0.5M294.1,243.3h0.5M293.9,243.8h0.5M294.8,246.2h0.5M304.9,256.4h0.5M299.3,244.3h0.5M303.5,246.3h0.5M298.0,244.3h0.5M295.0,245.0h0.5M306.1,255.5h0.5M297.9,241.4h0.5M304.1,255.9h0.5M305.0,254.5h0.5M294.5,244.7h0.5M301.0,244.7h0.5M298.0,243.7h0.5M294.5,241.4h0.5M297.9,244.9h0.5M304.2,253.7h0.5M292.4,244.2h0.5M300.7,246.3h0.5M305.0,247.7h0.5M304.1,251.5h0.5M305.7,249.5h0.5M298.8,243.1h0.5M291.8,242.8h0.5M298.2,246.5h0.5M300.6,246.3h0.5M292.7,245.8h0.5M296.3,246.0h0.5M301.4,244.6h0.5M304.6,247.4h0.5M296.8,243.8h0.5M295.5,243.6h0.5M304.7,256.7h0.5M302.3,244.0h0.5M303.8,256.6h0.5M297.0,245.3h0.5M303.7,255.6h0.5M302.3,243.4h0.5M301.0,245.2h0.5M304.3,251.9h0.5M302.0,244.1h0.5M300.6,242.3h0.5M305.8,244.9h0.5M304.0,249.1h0.5M300.1,244.1h0.5M302.2,243.5h0.5M298.6,245.3h0.5M306.2,249.7h0.5M296.1,246.0h0.5M300.9,245.2h0.5M304.1,248.6h0.5M296.8,244.0h0.5M298.8,245.3h0.5M306.4,257.0h0.5M298.7,243.2h0.5M305.0,257.8h0.5M306.2,244.2h0.5" stroke="#6a1515" stroke-width="0.5" opacity="0.5"/>
<ellipse cx="305.20" cy="256.35" rx="1.47" ry="2.77" fill="#c81212" opacity="0.60" filter="url(#b05)"/>
<path d="M283.8,249.3h0.60M282.8,250.6h0.60M292.4,244.7h0.60M288.7,250.6h0.60M291.5,240.4h0.60M282.4,247.2h0.60M292.4,251.9h0.60M289.6,246.5h0.60M284.8,249.2h0.60M288.2,253.2h0.60M295.5,249.4h0.60M285.0,246.6h0.60M292.3,247.8h0.60M290.2,245.0h0.60M295.2,245.6h0.60M289.0,241.0h0.60M293.7,254.6h0.60M293.5,243.6h0.60M288.6,247.4h0.60M289.5,245.0h0.60M289.9,247.5h0.60M283.7,243.7h0.60M294.6,247.7h0.60M289.9,253.5h0.60M285.7,250.9h0.60M292.5,244.6h0.60M287.5,248.0h0.60M282.2,241.5h0.60M285.8,251.2h0.60M287.2,252.0h0.60M289.5,250.6h0.60M291.1,250.4h0.60M290.9,247.5h0.60M294.2,249.6h0.60M285.7,249.8h0.60M290.6,247.6h0.60M290.5,246.1h0.60M286.7,241.8h0.60M286.6,251.5h0.60M290.5,249.0h0.60M282.2,246.8h0.60M289.1,250.4h0.60M288.5,244.9h0.60M290.4,247.3h0.60M283.9,247.0h0.60M289.3,246.7h0.60M286.5,246.9h0.60M288.5,249.2h0.60M283.9,245.4h0.60M290.6,245.6h0.60M284.6,242.9h0.60M282.7,243.9h0.60M287.9,249.0h0.60M288.7,247.5h0.60M290.5,246.7h0.60M283.2,247.3h0.60M288.7,253.6h0.60M288.2,253.7h0.60M287.6,242.6h0.60M287.1,246.1h0.60M287.8,245.9h0.60M297.1,248.0h0.60M287.5,246.9h0.60M288.0,250.4h0.60M288.1,250.0h0.60M284.5,247.7h0.60M287.8,247.6h0.60M283.6,245.0h0.60M282.2,248.3h0.60M293.0,246.9h0.60M282.8,245.9h0.60M292.3,241.8h0.60M286.9,247.3h0.60M286.3,247.8h0.60M289.8,248.1h0.60M291.5,250.3h0.60M282.1,243.6h0.60M287.3,247.3h0.60M288.9,243.3h0.60M283.3,252.6h0.60M288.7,248.1h0.60M294.8,241.0h0.60M289.0,246.2h0.60M287.7,251.4h0.60M287.7,242.4h0.60M283.7,242.8h0.60M292.5,245.0h0.60M283.7,246.4h0.60M282.9,248.4h0.60M288.5,247.7h0.60M292.5,245.7h0.60M291.6,241.7h0.60M291.7,252.7h0.60M285.0,249.5h0.60M284.3,247.3h0.60M290.1,245.3h0.60M283.9,246.6h0.60M287.9,248.2h0.60M288.4,241.5h0.60M292.3,248.5h0.60M282.4,246.5h0.60M292.1,253.6h0.60M287.6,245.3h0.60M292.9,246.8h0.60M288.0,242.0h0.60M284.1,248.3h0.60M295.2,248.2h0.60M287.5,245.8h0.60M283.7,243.2h0.60M291.0,252.9h0.60M286.9,244.3h0.60M282.1,245.6h0.60M292.1,241.8h0.60M287.0,250.9h0.60M294.2,244.8h0.60M289.1,248.5h0.60M288.8,246.7h0.60M288.9,247.6h0.60M287.4,246.4h0.60M286.7,254.3h0.60M288.1,250.5h0.60M284.7,251.7h0.60M292.2,247.5h0.60M297.6,249.6h0.60M295.3,244.2h0.60M288.3,245.0h0.60M284.2,248.7h0.60M291.4,250.5h0.60M288.0,245.7h0.60M282.9,243.9h0.60M293.4,242.8h0.60M287.7,245.5h0.60M285.5,242.9h0.60M286.6,248.5h0.60M287.1,248.0h0.60M285.5,243.7h0.60M291.2,246.6h0.60M287.1,248.7h0.60M291.9,245.2h0.60M288.4,246.3h0.60M293.3,242.7h0.60M285.3,246.8h0.60M290.0,250.5h0.60M294.5,246.0h0.60M290.2,247.1h0.60M285.2,247.7h0.60M287.9,251.0h0.60M287.1,242.5h0.60M289.1,245.1h0.60M288.6,248.2h0.60M289.4,249.6h0.60M285.8,246.8h0.60M290.0,245.1h0.60M287.8,245.4h0.60" stroke="#000" stroke-width="0.60" opacity="0.5" fill="none"/>
<rect x="281.70" y="240.28" width="16.40" height="15.61" rx="3" fill="#333" opacity="0.35" filter="url(#b20)"/>
<rect x="283.20" y="241.78" width="14.90" height="10.11" rx="2" fill="#222" opacity="0.45" filter="url(#b12)"/>
<rect x="282.20" y="241.28" width="12.40" height="11.61" rx="4.05" fill="#000" filter="url(#b08)"/>
<rect x="283.40" y="242.48" width="9.60" height="9.21" rx="2.70" fill="#000" opacity="0.8"/>
<rect x="196.3" y="263.8" width="39.8" height="39.2" fill="none" stroke="#b0b0b0" stroke-width="0.5"/>
<g stroke="#a8a8a8" stroke-width="0.45"><line x1="210.5" y1="263.8" x2="210.5" y2="293.7"/><line x1="196.3" y1="293.7" x2="236.10000000000002" y2="293.7"/><line x1="216.8" y1="293.7" x2="216.8" y2="303.0"/></g>
<text transform="translate(197.5 268.8) scale(0.1)" font-size="42.00" font-weight="normal" fill="#222" text-anchor="start">89</text>
<text transform="translate(234.90000000000003 268.8) scale(0.1)" font-size="42.00" font-weight="normal" fill="#222" text-anchor="end">4.15</text>
<text transform="translate(234.90000000000003 302.0) scale(0.1)" font-size="42.00" font-weight="normal" fill="#222" text-anchor="end">6.98</text>
<path d="M206.6,296.2h0.56M201.0,296.8h0.56M201.7,295.5h0.56M200.2,295.7h0.56M205.9,297.8h0.56M205.4,294.2h0.56M203.7,296.1h0.56M203.0,295.5h0.56M199.5,300.6h0.56M201.6,296.5h0.56M204.3,293.6h0.56M202.0,297.1h0.56M203.6,297.4h0.56M200.9,296.0h0.56M201.1,296.3h0.56M201.9,295.0h0.56M205.4,298.8h0.56M203.5,296.8h0.56M201.1,295.1h0.56M202.5,297.1h0.56M208.5,291.9h0.56M207.0,299.5h0.56M205.4,295.4h0.56M205.8,292.8h0.56M200.0,296.6h0.56M202.1,297.9h0.56M201.2,291.9h0.56M203.3,297.6h0.56M199.6,296.4h0.56M204.0,297.2h0.56M206.0,296.9h0.56M201.8,293.1h0.56M205.5,295.6h0.56M206.3,299.0h0.56M202.0,294.9h0.56M207.3,296.7h0.56M200.6,295.8h0.56M202.6,299.1h0.56M200.2,294.7h0.56M206.0,298.2h0.56M204.4,295.0h0.56M201.1,290.2h0.56M205.6,296.9h0.56M203.9,293.2h0.56M198.7,295.3h0.56M202.5,299.0h0.56M210.3,293.0h0.56M201.6,298.2h0.56M206.5,298.1h0.56M203.3,295.0h0.56M202.5,293.0h0.56M201.8,294.4h0.56M206.9,299.5h0.56M204.5,292.6h0.56M203.2,295.0h0.56M207.1,293.9h0.56M204.9,296.1h0.56M206.1,294.9h0.56M208.3,297.0h0.56M203.3,295.7h0.56M202.4,298.8h0.56M206.0,295.6h0.56M211.6,297.3h0.56M206.4,300.0h0.56M206.9,297.3h0.56M201.0,294.1h0.56M206.0,296.0h0.56M203.0,299.2h0.56M205.8,299.6h0.56M202.9,293.9h0.56M203.5,298.3h0.56M200.8,296.1h0.56M205.5,296.7h0.56M205.1,290.4h0.56M205.2,298.5h0.56M201.2,297.0h0.56M203.7,296.2h0.56M213.0,295.5h0.56M200.3,294.4h0.56M201.9,296.4h0.56M204.9,295.1h0.56M210.5,297.3h0.56M203.8,295.4h0.56M204.4,294.2h0.56M203.2,295.0h0.56M206.0,294.4h0.56M200.5,295.2h0.56M206.8,297.1h0.56M202.6,296.0h0.56M201.5,294.3h0.56M204.6,294.6h0.56M201.3,295.4h0.56M203.9,297.5h0.56M202.4,296.7h0.56M204.9,300.3h0.56M204.1,291.0h0.56M204.6,293.8h0.56M204.8,296.5h0.56M200.8,290.7h0.56M205.2,294.3h0.56M206.7,292.9h0.56M200.1,292.7h0.56M204.5,299.7h0.56M204.3,293.3h0.56M205.4,292.8h0.56M203.9,299.7h0.56M203.5,292.8h0.56M203.7,297.0h0.56M199.4,297.3h0.56M203.9,290.8h0.56" stroke="#444" stroke-width="0.56" opacity="0.35" fill="none"/>
<rect x="199.55" y="292.64" width="8.29" height="8.86" fill="#666" opacity="0.32" filter="url(#b12)"/>
<path d="M206.80,285.00 C217.10,285.00 220.90,286.50 220.10,296.40" fill="none" stroke="#702020" stroke-width="4.03" stroke-linecap="round" opacity="0.34" filter="url(#b08)"/>
<path d="M206.80,285.00 C217.10,285.00 220.90,286.50 220.10,296.40" fill="none" stroke="#b01818" stroke-width="1.76" stroke-linecap="round" opacity="0.32" filter="url(#b05)"/>
<path d="M219.1,291.8h0.5M216.5,284.9h0.5M212.3,283.3h0.5M222.3,289.0h0.5M219.4,285.0h0.5M219.9,295.2h0.5M219.9,288.7h0.5M209.4,283.8h0.5M219.1,292.1h0.5M213.3,286.0h0.5M211.7,285.7h0.5M211.1,283.8h0.5M207.4,286.5h0.5M214.4,284.1h0.5M210.5,284.3h0.5M223.0,288.7h0.5M213.8,286.4h0.5M209.6,287.7h0.5M211.7,284.0h0.5M211.2,285.0h0.5M215.0,285.3h0.5M218.4,292.0h0.5M220.4,293.9h0.5M218.9,289.1h0.5M220.0,292.0h0.5M211.5,288.0h0.5M220.4,292.7h0.5M207.1,283.5h0.5M215.4,286.5h0.5M210.5,285.1h0.5M220.2,291.9h0.5M221.3,293.4h0.5M206.5,284.6h0.5M218.2,290.1h0.5M210.6,286.1h0.5M211.5,285.1h0.5M219.1,294.2h0.5M211.6,285.0h0.5M220.7,286.0h0.5M220.0,294.0h0.5M211.5,287.4h0.5M214.1,285.8h0.5M216.4,294.5h0.5M209.9,286.6h0.5M221.3,291.6h0.5M206.5,285.2h0.5M220.7,290.6h0.5M221.4,288.5h0.5M217.6,283.4h0.5M218.1,288.3h0.5M221.3,289.5h0.5M208.5,286.9h0.5M221.5,295.7h0.5M221.8,289.3h0.5" stroke="#6a1515" stroke-width="0.5" opacity="0.5"/>
<ellipse cx="220.10" cy="294.60" rx="1.75" ry="3.30" fill="#c81212" opacity="1.00" filter="url(#b05)"/>
<path d="M203.4,283.3h0.60M205.0,287.4h0.60M201.4,289.2h0.60M210.8,286.8h0.60M203.2,289.6h0.60M201.7,286.7h0.60M208.4,286.9h0.60M204.3,284.8h0.60M200.0,286.7h0.60M203.4,283.9h0.60M202.2,288.8h0.60M204.4,293.1h0.60M201.5,283.9h0.60M205.1,286.5h0.60M205.6,285.3h0.60M198.2,293.6h0.60M202.4,289.7h0.60M208.5,286.2h0.60M199.5,288.5h0.60M205.8,289.3h0.60M198.7,286.7h0.60M210.3,283.7h0.60M207.7,282.9h0.60M201.9,283.7h0.60M207.1,290.8h0.60M205.4,285.0h0.60M205.3,289.2h0.60M208.5,283.7h0.60M203.4,289.6h0.60M203.3,284.4h0.60M202.6,294.5h0.60M206.3,291.3h0.60M205.2,287.3h0.60M202.8,286.9h0.60M202.9,286.8h0.60M200.1,286.3h0.60M204.1,284.5h0.60M208.1,292.8h0.60M201.1,283.9h0.60M196.9,287.7h0.60M201.7,287.1h0.60M199.1,288.5h0.60M200.7,288.3h0.60M202.8,290.1h0.60M202.0,290.0h0.60M202.4,283.6h0.60M206.6,287.8h0.60M208.6,287.7h0.60M203.3,294.0h0.60M201.2,283.8h0.60M204.8,283.5h0.60M203.4,282.1h0.60M207.9,289.8h0.60M205.1,285.6h0.60M199.4,292.2h0.60M205.8,286.7h0.60M200.3,287.8h0.60M202.0,286.6h0.60M199.4,292.0h0.60M204.2,294.1h0.60M205.0,287.4h0.60M205.8,286.4h0.60M206.2,290.2h0.60M207.8,287.7h0.60M203.2,291.9h0.60M203.3,285.8h0.60M206.9,286.4h0.60M206.5,291.4h0.60M201.3,287.6h0.60M204.2,287.3h0.60M202.9,292.0h0.60M204.2,288.3h0.60M203.9,285.9h0.60M204.9,290.7h0.60M200.7,289.3h0.60M208.3,290.3h0.60M208.1,288.1h0.60M202.2,286.1h0.60M203.4,295.0h0.60M203.5,285.1h0.60M207.8,291.2h0.60M205.1,289.1h0.60M202.5,283.7h0.60M203.4,286.3h0.60M199.3,295.7h0.60M202.9,284.8h0.60M203.2,289.0h0.60M204.1,292.2h0.60M203.4,292.7h0.60M203.7,288.0h0.60M204.5,287.9h0.60M201.2,282.3h0.60M198.9,285.9h0.60M202.1,287.1h0.60M204.1,290.8h0.60M198.7,285.3h0.60M205.3,284.9h0.60M204.9,285.2h0.60M199.9,285.2h0.60M202.4,282.7h0.60M203.1,285.3h0.60M206.8,283.5h0.60M205.1,285.5h0.60M201.7,289.5h0.60M205.8,284.4h0.60M199.8,282.8h0.60M201.3,290.6h0.60M201.2,287.9h0.60M199.8,287.4h0.60M207.2,289.8h0.60M202.6,289.4h0.60M201.0,282.2h0.60M201.6,282.0h0.60M205.2,290.7h0.60M203.9,288.9h0.60M203.0,286.2h0.60M205.6,284.4h0.60M198.3,290.0h0.60M201.3,293.7h0.60M202.7,283.1h0.60M205.2,284.1h0.60M200.6,291.3h0.60M206.1,292.3h0.60M209.1,292.3h0.60M206.1,286.7h0.60M201.4,291.9h0.60M207.1,286.6h0.60M200.4,289.0h0.60M208.4,291.7h0.60M200.9,283.5h0.60M204.6,286.2h0.60M202.5,292.5h0.60M205.5,291.4h0.60M201.3,287.5h0.60M207.2,289.7h0.60M207.7,291.1h0.60M204.9,286.4h0.60M201.5,284.2h0.60M201.7,286.1h0.60M203.9,295.4h0.60M204.0,286.2h0.60M204.5,290.7h0.60M202.4,288.4h0.60M207.5,284.6h0.60M202.7,290.7h0.60M204.9,289.8h0.60M203.9,294.4h0.60M202.7,287.4h0.60M205.9,286.0h0.60M208.7,288.9h0.60M203.7,281.9h0.60M208.6,292.3h0.60M205.9,291.7h0.60M208.5,287.3h0.60M200.5,290.7h0.60M199.5,287.1h0.60M197.8,284.4h0.60M203.9,284.5h0.60M203.9,282.8h0.60M203.6,292.6h0.60" stroke="#000" stroke-width="0.60" opacity="0.5" fill="none"/>
<rect x="198.55" y="281.03" width="13.75" height="15.61" rx="3" fill="#333" opacity="0.35" filter="url(#b20)"/>
<rect x="200.05" y="282.53" width="12.25" height="10.11" rx="2" fill="#222" opacity="0.45" filter="url(#b12)"/>
<rect x="199.05" y="282.03" width="9.75" height="11.61" rx="3.75" fill="#000" filter="url(#b08)"/>
<rect x="200.25" y="283.23" width="6.95" height="9.21" rx="2.50" fill="#000" opacity="0.8"/>
<rect x="239.0" y="263.8" width="40.2" height="39.2" fill="none" stroke="#b0b0b0" stroke-width="0.5"/>
<g stroke="#a8a8a8" stroke-width="0.45"><line x1="252.4" y1="263.8" x2="252.4" y2="293.7"/><line x1="239.0" y1="293.7" x2="279.2" y2="293.7"/><line x1="259.1" y1="293.7" x2="259.1" y2="303.0"/></g>
<text transform="translate(240.2 268.8) scale(0.1)" font-size="42.00" font-weight="normal" fill="#222" text-anchor="start">53.5</text>
<text transform="translate(278.0 268.8) scale(0.1)" font-size="42.00" font-weight="normal" fill="#222" text-anchor="end">18</text>
<text transform="translate(278.0 302.0) scale(0.1)" font-size="42.00" font-weight="normal" fill="#222" text-anchor="end">16.3</text>
<path d="M245.6,296.8h0.56M244.0,296.3h0.56M242.1,296.9h0.56M245.3,292.5h0.56M250.0,301.6h0.56M247.4,297.2h0.56M242.1,299.6h0.56M252.0,299.1h0.56M251.0,297.1h0.56M243.7,297.3h0.56M245.3,298.7h0.56M246.8,295.0h0.56M246.5,296.9h0.56M254.7,297.1h0.56M246.5,301.3h0.56M242.6,296.2h0.56M248.9,301.7h0.56M243.4,298.0h0.56M246.7,296.9h0.56M242.7,297.1h0.56M248.9,299.5h0.56M245.4,297.1h0.56M247.6,295.6h0.56M243.7,298.0h0.56M249.8,301.1h0.56M248.8,297.4h0.56M247.8,293.9h0.56M245.9,292.5h0.56M245.7,293.3h0.56M246.5,295.2h0.56M247.8,295.7h0.56M249.0,294.0h0.56M250.8,301.2h0.56M246.7,294.8h0.56M248.1,294.8h0.56M247.8,297.0h0.56M251.0,299.1h0.56M243.9,297.4h0.56M245.5,300.7h0.56M250.3,297.2h0.56M247.7,295.0h0.56M243.9,298.0h0.56M248.5,295.5h0.56M251.8,298.5h0.56M252.0,293.5h0.56M246.1,298.6h0.56M249.1,298.2h0.56M244.9,296.7h0.56M243.3,299.0h0.56M244.6,297.8h0.56M250.0,301.3h0.56M250.5,297.9h0.56M241.0,297.1h0.56M244.2,299.8h0.56M242.2,297.1h0.56M240.4,296.6h0.56M245.8,297.0h0.56M248.3,297.0h0.56M249.8,298.1h0.56M245.0,294.6h0.56M250.5,299.2h0.56M245.9,293.9h0.56M245.1,296.2h0.56M248.5,297.9h0.56M249.3,299.4h0.56M245.1,295.0h0.56M246.0,295.4h0.56M248.7,300.3h0.56M248.5,295.3h0.56M250.6,301.8h0.56M250.4,299.6h0.56M244.8,299.0h0.56M248.7,296.4h0.56M249.7,292.5h0.56M251.5,291.3h0.56M247.5,296.4h0.56M246.7,298.4h0.56M246.5,300.0h0.56M242.1,300.2h0.56M251.4,296.3h0.56M241.6,296.8h0.56M247.9,297.7h0.56M249.8,295.5h0.56M249.9,294.6h0.56M244.6,296.7h0.56M247.0,291.6h0.56M245.2,297.1h0.56M245.3,298.5h0.56M248.5,295.5h0.56M244.5,296.7h0.56M252.8,299.8h0.56M244.9,294.1h0.56M244.4,297.9h0.56M251.3,298.5h0.56M244.8,294.6h0.56M249.3,299.3h0.56M246.6,297.6h0.56M250.6,297.9h0.56M250.5,299.7h0.56M248.0,301.6h0.56M246.0,299.5h0.56M244.4,300.5h0.56M242.5,294.6h0.56M244.8,302.2h0.56M248.2,302.0h0.56M249.2,294.1h0.56M247.3,298.4h0.56" stroke="#444" stroke-width="0.56" opacity="0.35" fill="none"/>
<rect x="240.57" y="294.06" width="12.43" height="7.44" fill="#666" opacity="0.32" filter="url(#b12)"/>
<path d="M252.70,286.10 C257.50,286.10 261.30,287.60 260.50,296.40" fill="none" stroke="#702020" stroke-width="5.36" stroke-linecap="round" opacity="0.90" filter="url(#b08)"/>
<path d="M252.70,286.10 C257.50,286.10 261.30,287.60 260.50,296.40" fill="none" stroke="#b01818" stroke-width="2.52" stroke-linecap="round" opacity="0.90" filter="url(#b05)"/>
<path d="M252.2,287.4h0.5M254.0,285.2h0.5M254.2,286.1h0.5M253.8,286.5h0.5M262.5,287.5h0.5M253.6,288.5h0.5M254.5,283.0h0.5M260.3,293.1h0.5M261.5,293.2h0.5M261.2,286.0h0.5M255.7,288.3h0.5M261.0,288.9h0.5M260.0,291.4h0.5M261.1,287.4h0.5M258.8,298.6h0.5M259.3,297.7h0.5M260.9,293.8h0.5M255.4,284.9h0.5M258.7,295.0h0.5M253.8,285.4h0.5M261.7,290.0h0.5M254.9,286.7h0.5M261.2,295.2h0.5M253.8,288.3h0.5M258.6,289.4h0.5M253.0,286.5h0.5M254.6,286.5h0.5M256.2,285.5h0.5M261.5,290.0h0.5M255.4,287.4h0.5M261.1,295.0h0.5M256.3,288.1h0.5M259.9,294.2h0.5M255.6,287.6h0.5M260.1,290.4h0.5M255.7,286.6h0.5M261.1,290.4h0.5M256.7,287.1h0.5M261.4,290.5h0.5M255.9,287.3h0.5M254.5,286.3h0.5M255.4,287.6h0.5M259.6,287.0h0.5M258.0,289.2h0.5M256.3,287.4h0.5M256.0,284.7h0.5M258.5,295.5h0.5M260.9,288.5h0.5M261.6,293.6h0.5M253.7,288.3h0.5M255.3,284.6h0.5M255.6,286.8h0.5M254.8,287.8h0.5M259.6,289.1h0.5M262.6,294.5h0.5M256.0,286.4h0.5M254.2,285.7h0.5M258.9,287.3h0.5M255.9,286.2h0.5M257.1,284.4h0.5M262.4,294.4h0.5M261.8,291.4h0.5M253.4,286.3h0.5M251.4,285.3h0.5M262.6,294.5h0.5M256.5,285.6h0.5M256.3,285.5h0.5M252.4,287.9h0.5M254.7,286.1h0.5M258.6,287.7h0.5M255.4,287.8h0.5M254.0,288.7h0.5M256.2,285.6h0.5M261.1,294.6h0.5M255.0,284.3h0.5M260.5,294.7h0.5M260.3,291.2h0.5M253.2,286.6h0.5M252.6,286.2h0.5M263.2,290.5h0.5M259.0,291.9h0.5M255.5,285.9h0.5M255.5,286.9h0.5M253.9,285.5h0.5M253.4,287.3h0.5M260.6,294.1h0.5M260.8,294.6h0.5M259.9,289.3h0.5M260.6,294.2h0.5M261.4,292.1h0.5M255.9,286.8h0.5M258.3,291.3h0.5M252.2,288.4h0.5M258.4,288.3h0.5M252.4,285.9h0.5M256.7,287.5h0.5M254.0,285.7h0.5M262.5,289.6h0.5M258.1,290.4h0.5M259.6,290.4h0.5M253.7,284.3h0.5M262.2,293.4h0.5M257.3,286.9h0.5M261.0,297.2h0.5M257.2,285.5h0.5M259.7,293.6h0.5M259.6,287.4h0.5M254.0,285.8h0.5M261.7,292.7h0.5M254.5,285.0h0.5M254.4,285.7h0.5M263.5,292.9h0.5M259.5,292.5h0.5M253.0,286.8h0.5M253.4,286.6h0.5M252.3,287.6h0.5M261.4,286.4h0.5M253.7,284.4h0.5M254.0,288.1h0.5M259.4,291.2h0.5M253.2,283.9h0.5M256.6,283.8h0.5M254.4,285.5h0.5M259.9,295.4h0.5M253.7,290.0h0.5M257.1,287.0h0.5M259.8,290.5h0.5M254.5,284.5h0.5M254.5,285.4h0.5M254.4,288.1h0.5M253.6,286.2h0.5M255.9,284.4h0.5M256.3,285.4h0.5M256.0,287.4h0.5M260.6,289.7h0.5M252.6,286.9h0.5M255.2,286.4h0.5M258.3,289.0h0.5M255.5,285.8h0.5M254.3,286.8h0.5M260.0,294.7h0.5M254.1,287.5h0.5M257.2,285.8h0.5M259.9,290.0h0.5M261.9,287.6h0.5M261.0,287.6h0.5M254.0,286.3h0.5M254.4,287.1h0.5M256.3,285.6h0.5M260.9,290.6h0.5M258.3,290.4h0.5M256.8,288.1h0.5M256.3,286.4h0.5M259.4,287.8h0.5M262.0,288.9h0.5M259.5,287.4h0.5M254.3,287.0h0.5M259.8,291.7h0.5M256.3,286.9h0.5M259.3,294.8h0.5M254.6,288.3h0.5M252.2,286.9h0.5M259.7,287.5h0.5M262.5,294.0h0.5M260.9,293.4h0.5M254.2,286.7h0.5M259.8,285.7h0.5M259.0,292.5h0.5" stroke="#6a1515" stroke-width="0.5" opacity="0.5"/>
<ellipse cx="260.50" cy="294.60" rx="2.10" ry="3.96" fill="#c81212" opacity="1.00" filter="url(#b05)"/>
<path d="M247.4,283.1h0.60M248.4,288.6h0.60M244.7,287.6h0.60M250.5,283.2h0.60M247.3,287.9h0.60M248.9,290.6h0.60M256.0,288.3h0.60M250.9,284.3h0.60M240.9,285.9h0.60M245.7,285.7h0.60M247.4,293.4h0.60M243.6,289.2h0.60M253.2,294.4h0.60M250.9,287.9h0.60M249.1,288.9h0.60M243.4,285.2h0.60M248.0,283.4h0.60M242.3,285.5h0.60M251.0,285.8h0.60M244.9,285.7h0.60M247.5,291.6h0.60M257.6,292.8h0.60M248.2,285.2h0.60M252.7,280.7h0.60M254.4,288.9h0.60M243.1,291.2h0.60M249.6,290.6h0.60M245.6,283.0h0.60M251.9,290.1h0.60M244.0,289.3h0.60M254.1,289.2h0.60M251.9,292.3h0.60M244.4,289.6h0.60M244.2,290.5h0.60M247.9,291.3h0.60M247.5,288.4h0.60M247.3,290.5h0.60M250.8,282.1h0.60M245.4,292.0h0.60M243.5,290.4h0.60M249.1,290.9h0.60M249.4,287.4h0.60M252.9,284.8h0.60M251.8,286.2h0.60M246.2,292.1h0.60M245.6,289.0h0.60M248.0,285.8h0.60M247.3,281.7h0.60M244.1,287.9h0.60M250.2,287.9h0.60M241.1,288.1h0.60M254.5,289.1h0.60M249.0,288.8h0.60M246.6,286.0h0.60M247.1,289.2h0.60M242.7,291.9h0.60M247.9,293.8h0.60M247.4,291.7h0.60M241.4,290.5h0.60M246.4,287.8h0.60M242.1,292.5h0.60M248.1,292.2h0.60M252.1,285.8h0.60M245.8,284.9h0.60M246.1,287.4h0.60M243.4,288.9h0.60M244.5,288.9h0.60M252.6,291.4h0.60M248.8,293.3h0.60M247.5,289.3h0.60M247.2,283.3h0.60M247.3,284.6h0.60M254.2,289.9h0.60M243.7,292.0h0.60M247.4,285.9h0.60M252.0,291.2h0.60M250.0,293.2h0.60M240.8,285.4h0.60M245.7,289.2h0.60M242.8,287.0h0.60M249.6,296.8h0.60M250.1,284.2h0.60M251.9,290.2h0.60M248.6,286.9h0.60M242.7,285.7h0.60M255.6,292.0h0.60M242.5,288.7h0.60M241.7,286.7h0.60M248.1,295.1h0.60M240.2,294.1h0.60M251.3,284.5h0.60M243.1,293.1h0.60M256.3,291.7h0.60M248.4,290.8h0.60M244.1,286.9h0.60M242.9,288.1h0.60M245.1,289.3h0.60M245.0,292.8h0.60M241.7,291.9h0.60M248.1,292.9h0.60M246.8,294.8h0.60M245.3,294.8h0.60M242.9,291.0h0.60M248.6,288.2h0.60M248.5,288.6h0.60M248.8,290.1h0.60M241.1,288.9h0.60M250.2,285.6h0.60M249.3,290.7h0.60M251.5,289.0h0.60M243.1,287.0h0.60M244.7,292.3h0.60M252.4,290.5h0.60M244.7,292.6h0.60M241.7,293.0h0.60M245.5,289.4h0.60M242.5,292.1h0.60M249.7,293.3h0.60M245.3,296.3h0.60M249.1,291.4h0.60M244.2,289.6h0.60M244.6,291.0h0.60M248.0,286.2h0.60M251.2,283.4h0.60M245.5,290.9h0.60M254.9,292.4h0.60M242.3,288.8h0.60M248.4,298.5h0.60M247.7,291.3h0.60M248.4,287.2h0.60M246.9,288.5h0.60M246.0,288.9h0.60M244.0,285.8h0.60M248.0,291.1h0.60M254.5,296.3h0.60M245.9,288.9h0.60M248.7,290.8h0.60M245.0,287.3h0.60M260.1,288.9h0.60M239.8,286.9h0.60M249.4,289.0h0.60M242.7,286.6h0.60M257.6,284.6h0.60M252.2,289.4h0.60M253.2,289.7h0.60M251.3,288.2h0.60M245.7,292.7h0.60M242.5,283.3h0.60M249.8,289.7h0.60M244.8,290.4h0.60M247.2,285.7h0.60M245.9,291.7h0.60M242.7,297.1h0.60M246.3,285.2h0.60M252.9,289.4h0.60" stroke="#000" stroke-width="0.60" opacity="0.5" fill="none"/>
<rect x="239.57" y="282.02" width="18.62" height="16.04" rx="3" fill="#333" opacity="0.35" filter="url(#b20)"/>
<rect x="241.07" y="283.52" width="17.12" height="10.54" rx="2" fill="#222" opacity="0.45" filter="url(#b12)"/>
<rect x="240.07" y="283.02" width="14.62" height="12.04" rx="4.20" fill="#000" filter="url(#b08)"/>
<rect x="241.27" y="284.22" width="11.82" height="9.64" rx="2.80" fill="#000" opacity="0.8"/>
<rect x="281.2" y="263.8" width="38.6" height="39.2" fill="none" stroke="#b0b0b0" stroke-width="0.5"/>
<g stroke="#a8a8a8" stroke-width="0.45"><line x1="292.5" y1="263.8" x2="292.5" y2="293.7"/><line x1="281.2" y1="293.7" x2="319.8" y2="293.7"/><line x1="298.8" y1="293.7" x2="298.8" y2="303.0"/></g>
<text transform="translate(282.4 268.8) scale(0.1)" font-size="42.00" font-weight="normal" fill="#222" text-anchor="start">69</text>
<text transform="translate(318.6 268.8) scale(0.1)" font-size="42.00" font-weight="normal" fill="#222" text-anchor="end">16</text>
<text transform="translate(318.6 302.0) scale(0.1)" font-size="42.00" font-weight="normal" fill="#222" text-anchor="end">7.4</text>
<path d="M288.7,300.4h0.56M287.8,296.1h0.56M293.2,296.5h0.56M286.0,295.9h0.56M289.5,299.4h0.56M286.0,294.6h0.56M288.6,297.5h0.56M287.1,295.2h0.56M283.6,298.1h0.56M287.3,292.5h0.56M290.3,296.4h0.56M284.5,298.1h0.56M290.9,297.8h0.56M294.9,295.3h0.56M285.0,297.1h0.56M288.6,298.8h0.56M287.4,293.8h0.56M285.2,299.3h0.56M287.7,296.1h0.56M290.5,294.3h0.56M289.5,292.6h0.56M287.8,295.0h0.56M290.0,298.3h0.56M287.7,296.4h0.56M283.0,295.0h0.56M289.2,302.0h0.56M292.5,300.4h0.56M287.5,294.2h0.56M284.4,295.5h0.56M284.3,299.1h0.56M286.6,292.2h0.56M284.7,300.3h0.56M290.0,297.2h0.56M285.3,294.4h0.56M291.7,298.4h0.56M289.1,293.1h0.56M289.6,300.3h0.56M286.0,291.9h0.56M284.4,295.8h0.56M283.6,297.0h0.56M286.9,297.5h0.56M286.4,296.4h0.56M289.4,300.3h0.56M292.9,296.8h0.56M285.3,291.6h0.56M286.3,293.3h0.56M288.3,297.4h0.56M290.9,292.7h0.56M289.6,302.1h0.56M285.1,292.6h0.56M287.9,294.1h0.56M285.9,297.3h0.56M289.7,298.8h0.56M284.1,299.4h0.56M287.2,297.2h0.56M290.9,296.9h0.56M293.5,295.5h0.56M285.0,292.8h0.56M292.5,296.9h0.56M286.1,295.3h0.56M291.9,297.0h0.56M290.7,297.4h0.56M291.6,296.8h0.56M294.5,297.6h0.56M287.8,295.4h0.56M294.7,296.6h0.56M290.0,292.5h0.56M282.7,296.8h0.56M287.3,291.7h0.56M287.5,297.2h0.56M284.0,296.8h0.56M290.6,294.6h0.56M287.8,296.8h0.56M290.9,301.3h0.56M291.8,296.3h0.56M290.7,295.1h0.56M290.3,293.7h0.56M285.4,297.5h0.56M289.5,296.8h0.56M291.6,297.7h0.56M287.7,296.2h0.56M287.0,296.5h0.56M285.8,294.9h0.56M286.4,295.4h0.56M291.3,294.4h0.56M287.6,291.6h0.56M286.9,296.5h0.56M284.3,294.7h0.56M287.8,293.1h0.56M285.9,295.9h0.56M288.2,297.2h0.56M285.1,299.4h0.56M290.5,297.2h0.56M286.7,295.6h0.56M294.0,300.5h0.56M287.9,294.9h0.56M290.7,295.9h0.56M289.5,300.9h0.56M286.1,297.3h0.56M287.8,299.4h0.56M287.1,296.1h0.56M289.6,297.4h0.56M287.9,292.5h0.56M290.9,298.1h0.56M288.3,294.8h0.56M284.1,296.0h0.56M286.1,295.3h0.56M286.4,293.3h0.56M289.6,295.9h0.56" stroke="#444" stroke-width="0.56" opacity="0.35" fill="none"/>
<rect x="282.70" y="292.64" width="9.78" height="8.86" fill="#666" opacity="0.32" filter="url(#b12)"/>
<path d="M291.70,285.00 C301.00,285.00 304.80,286.50 304.00,297.70" fill="none" stroke="#702020" stroke-width="5.22" stroke-linecap="round" opacity="0.90" filter="url(#b08)"/>
<path d="M291.70,285.00 C301.00,285.00 304.80,286.50 304.00,297.70" fill="none" stroke="#b01818" stroke-width="2.44" stroke-linecap="round" opacity="0.90" filter="url(#b05)"/>
<path d="M296.1,286.5h0.5M296.2,284.9h0.5M293.8,284.7h0.5M304.5,288.2h0.5M301.9,287.1h0.5M298.5,286.4h0.5M304.4,288.2h0.5M302.7,289.5h0.5M299.7,286.2h0.5M292.7,284.7h0.5M304.8,287.3h0.5M304.2,292.8h0.5M301.8,285.6h0.5M291.7,286.3h0.5M304.9,289.2h0.5M291.8,285.0h0.5M302.4,293.5h0.5M292.4,285.4h0.5M295.7,284.3h0.5M302.8,298.7h0.5M304.8,292.3h0.5M305.5,291.7h0.5M304.0,296.3h0.5M299.7,287.0h0.5M293.7,285.3h0.5M293.8,285.0h0.5M298.5,284.1h0.5M304.9,294.9h0.5M292.4,284.2h0.5M294.0,285.5h0.5M303.6,293.8h0.5M305.2,289.6h0.5M297.1,285.0h0.5M303.2,287.6h0.5M305.0,292.7h0.5M302.3,296.1h0.5M298.0,285.7h0.5M302.7,288.1h0.5M299.1,284.8h0.5M302.9,293.2h0.5M298.0,283.9h0.5M297.8,286.7h0.5M299.7,286.3h0.5M297.7,285.7h0.5M295.4,286.0h0.5M293.0,284.0h0.5M294.0,284.6h0.5M292.0,283.2h0.5M300.2,286.7h0.5M297.2,283.2h0.5M290.4,286.7h0.5M303.9,294.4h0.5M295.3,284.9h0.5M294.5,285.2h0.5M297.4,285.3h0.5M303.5,291.0h0.5M301.8,286.4h0.5M299.0,285.0h0.5M296.1,286.1h0.5M304.3,293.2h0.5M296.3,287.8h0.5M290.7,282.4h0.5M296.9,284.3h0.5M296.3,286.0h0.5M300.7,285.6h0.5M304.8,291.3h0.5M300.4,285.7h0.5M303.9,299.6h0.5M303.7,295.5h0.5M304.5,288.8h0.5M302.4,284.8h0.5M296.6,285.4h0.5M293.6,286.3h0.5M303.5,296.5h0.5M299.5,284.9h0.5M302.7,285.1h0.5M304.2,290.7h0.5M300.3,286.9h0.5M293.6,284.2h0.5M303.3,284.2h0.5M301.1,286.3h0.5M301.7,292.4h0.5M297.9,285.1h0.5M305.6,291.3h0.5M293.5,286.3h0.5M304.3,298.1h0.5M300.7,290.7h0.5M295.3,283.0h0.5M298.8,284.6h0.5M291.5,285.7h0.5M305.7,290.7h0.5M305.1,291.0h0.5M303.9,290.8h0.5M298.7,287.2h0.5M304.4,298.7h0.5M290.8,285.0h0.5M303.4,287.6h0.5M296.8,284.5h0.5M303.9,297.6h0.5M290.6,286.9h0.5M295.2,285.1h0.5M303.9,285.8h0.5M305.5,293.1h0.5M298.6,284.3h0.5M298.4,285.6h0.5M303.7,286.3h0.5M293.8,283.3h0.5M304.2,288.7h0.5M305.9,294.6h0.5M291.2,284.0h0.5M300.1,285.8h0.5M303.9,294.3h0.5M302.8,294.8h0.5M304.5,288.8h0.5M298.0,287.3h0.5M305.8,295.1h0.5M303.7,295.3h0.5M305.7,286.0h0.5M298.5,285.1h0.5M294.3,286.3h0.5M295.9,283.4h0.5M304.2,294.7h0.5M305.0,294.6h0.5M292.1,284.7h0.5M298.3,284.9h0.5M303.8,287.8h0.5M293.9,285.3h0.5M298.7,285.4h0.5M298.8,285.0h0.5M301.3,286.5h0.5M291.4,284.1h0.5M297.9,286.3h0.5M300.7,286.3h0.5M299.1,284.9h0.5M304.7,290.6h0.5M294.1,287.9h0.5M293.7,284.1h0.5M297.2,285.4h0.5M303.4,287.0h0.5M293.6,287.0h0.5M300.4,286.6h0.5M304.9,292.8h0.5M306.2,288.6h0.5M293.6,287.3h0.5M292.3,287.7h0.5M292.7,284.9h0.5M304.0,292.7h0.5M300.1,286.1h0.5M300.8,287.3h0.5M304.8,296.8h0.5M303.6,292.9h0.5M304.8,286.6h0.5M293.7,284.7h0.5M303.6,289.8h0.5M303.8,286.8h0.5M297.2,284.0h0.5" stroke="#6a1515" stroke-width="0.5" opacity="0.5"/>
<ellipse cx="304.00" cy="295.90" rx="1.89" ry="3.56" fill="#c81212" opacity="1.00" filter="url(#b05)"/>
<path d="M285.9,286.7h0.60M290.0,283.0h0.60M286.4,290.4h0.60M289.1,285.7h0.60M289.7,287.6h0.60M286.6,292.2h0.60M281.9,284.9h0.60M291.9,291.0h0.60M289.3,285.5h0.60M288.5,289.6h0.60M290.0,292.6h0.60M292.5,288.0h0.60M291.3,289.8h0.60M293.5,290.7h0.60M291.7,283.0h0.60M282.7,288.7h0.60M286.0,290.1h0.60M288.1,285.3h0.60M288.3,285.6h0.60M285.1,288.7h0.60M289.4,291.6h0.60M289.3,288.5h0.60M288.5,286.5h0.60M289.7,280.9h0.60M290.4,294.7h0.60M292.1,284.3h0.60M290.6,288.8h0.60M293.5,287.3h0.60M284.2,283.3h0.60M290.9,293.0h0.60M284.1,287.9h0.60M298.2,286.8h0.60M288.5,291.4h0.60M283.2,287.7h0.60M283.7,286.7h0.60M289.4,283.5h0.60M288.9,291.4h0.60M288.1,287.7h0.60M284.6,287.1h0.60M291.8,289.2h0.60M294.1,284.2h0.60M285.3,288.3h0.60M289.2,285.7h0.60M286.2,285.9h0.60M289.8,285.9h0.60M284.9,291.7h0.60M289.8,285.3h0.60M284.7,284.8h0.60M290.2,284.9h0.60M289.4,285.0h0.60M290.2,285.7h0.60M294.4,286.3h0.60M287.1,289.7h0.60M288.2,286.2h0.60M285.6,286.8h0.60M282.2,287.0h0.60M290.9,288.5h0.60M287.4,293.7h0.60M287.0,285.2h0.60M286.8,286.7h0.60M292.8,289.4h0.60M284.3,287.9h0.60M287.7,292.0h0.60M290.1,286.5h0.60M291.7,290.5h0.60M289.9,288.8h0.60M289.1,288.2h0.60M287.6,285.6h0.60M290.3,286.4h0.60M284.4,292.0h0.60M287.6,286.0h0.60M285.7,287.6h0.60M287.8,285.7h0.60M293.1,286.0h0.60M284.8,293.0h0.60M290.8,289.1h0.60M288.7,287.6h0.60M286.9,285.0h0.60M282.3,291.0h0.60M285.0,282.7h0.60M287.3,279.3h0.60M285.1,290.6h0.60M286.1,285.8h0.60M295.2,290.1h0.60M290.5,287.4h0.60M287.8,293.6h0.60M289.4,288.8h0.60M288.2,290.6h0.60M289.8,288.1h0.60M285.5,286.0h0.60M289.7,288.7h0.60M290.2,284.8h0.60M285.9,286.5h0.60M283.1,289.4h0.60M287.5,284.8h0.60M291.1,287.9h0.60M286.7,287.0h0.60M286.8,289.8h0.60M290.5,288.6h0.60M296.9,288.4h0.60M289.6,289.7h0.60M290.7,283.1h0.60M282.4,284.4h0.60M292.6,289.1h0.60M292.8,290.5h0.60M282.6,288.3h0.60M290.7,291.5h0.60M285.0,292.8h0.60M291.3,287.1h0.60M285.6,286.9h0.60M288.2,283.5h0.60M289.7,290.4h0.60M290.3,288.9h0.60M298.4,288.8h0.60M286.9,291.2h0.60M288.3,288.2h0.60M295.0,294.6h0.60M284.6,292.1h0.60M286.2,293.1h0.60M285.5,296.1h0.60M285.3,286.1h0.60M287.5,289.3h0.60M287.8,292.6h0.60M292.0,285.5h0.60M290.1,286.6h0.60M284.1,284.8h0.60M287.3,290.1h0.60M287.5,288.3h0.60M285.0,280.7h0.60M291.0,294.5h0.60M283.8,284.5h0.60M291.1,290.0h0.60M291.5,291.3h0.60M283.4,286.8h0.60M287.2,291.5h0.60M285.8,281.3h0.60M292.7,285.7h0.60M286.1,285.6h0.60M284.3,290.3h0.60M288.4,288.1h0.60M289.5,285.1h0.60M284.0,292.3h0.60M287.0,285.5h0.60M283.3,285.9h0.60M286.4,292.2h0.60M289.4,287.1h0.60M284.1,287.1h0.60M286.7,285.8h0.60M294.7,285.6h0.60M293.4,290.6h0.60M286.8,287.8h0.60M293.9,279.4h0.60M291.2,285.4h0.60" stroke="#000" stroke-width="0.60" opacity="0.5" fill="none"/>
<rect x="281.70" y="281.03" width="15.50" height="15.61" rx="3" fill="#333" opacity="0.35" filter="url(#b20)"/>
<rect x="283.20" y="282.53" width="14.00" height="10.11" rx="2" fill="#222" opacity="0.45" filter="url(#b12)"/>
<rect x="282.20" y="282.03" width="11.50" height="11.61" rx="4.05" fill="#000" filter="url(#b08)"/>
<rect x="283.40" y="283.23" width="8.70" height="9.21" rx="2.70" fill="#000" opacity="0.8"/>
<rect x="196.3" y="303.45" width="39.8" height="39.2" fill="none" stroke="#b0b0b0" stroke-width="0.5"/>
<g stroke="#a8a8a8" stroke-width="0.45"><line x1="210.5" y1="303.45" x2="210.5" y2="333.34999999999997"/><line x1="196.3" y1="333.34999999999997" x2="236.10000000000002" y2="333.34999999999997"/><line x1="216.8" y1="333.34999999999997" x2="216.8" y2="342.65"/></g>
<text transform="translate(197.5 308.45) scale(0.1)" font-size="42.00" font-weight="normal" fill="#222" text-anchor="start">87.7</text>
<text transform="translate(234.90000000000003 308.45) scale(0.1)" font-size="42.00" font-weight="normal" fill="#222" text-anchor="end">6.3</text>
<text transform="translate(234.90000000000003 341.65) scale(0.1)" font-size="42.00" font-weight="normal" fill="#222" text-anchor="end">3.47</text>
<path d="M207.0,334.3h0.56M200.1,333.1h0.56M200.0,327.8h0.56M199.4,332.5h0.56M198.1,331.2h0.56M205.9,337.9h0.56M207.2,338.3h0.56M202.8,335.7h0.56M199.8,333.3h0.56M203.7,335.8h0.56M200.3,337.1h0.56M206.1,334.9h0.56M202.7,334.1h0.56M204.3,337.1h0.56M201.2,332.9h0.56M200.1,334.9h0.56M204.4,331.8h0.56M208.0,336.7h0.56M206.1,335.3h0.56M208.1,337.8h0.56M205.3,332.1h0.56M201.9,331.8h0.56M205.1,334.4h0.56M203.4,332.1h0.56M203.2,336.3h0.56M200.7,333.6h0.56M205.2,332.1h0.56M202.7,334.7h0.56M205.3,336.7h0.56M202.9,335.8h0.56M205.6,334.2h0.56M198.4,329.7h0.56M201.9,331.8h0.56M205.8,332.3h0.56M204.4,333.1h0.56M197.1,333.0h0.56M201.5,335.6h0.56M202.8,334.4h0.56M200.9,333.7h0.56M204.3,332.2h0.56M209.6,335.4h0.56M208.1,337.6h0.56M200.6,332.5h0.56M205.3,336.0h0.56M203.5,333.4h0.56M203.9,330.4h0.56M205.4,331.3h0.56M207.7,331.2h0.56M201.0,337.7h0.56M202.9,336.0h0.56M204.4,336.2h0.56M207.3,334.1h0.56M204.2,334.5h0.56M202.6,330.7h0.56M202.0,333.4h0.56M204.2,333.3h0.56M206.1,335.0h0.56M203.9,336.1h0.56M209.7,330.8h0.56M204.2,335.3h0.56M202.5,335.4h0.56M207.3,335.7h0.56M206.1,335.1h0.56M207.9,336.5h0.56M203.0,334.7h0.56M203.4,332.0h0.56M203.3,335.9h0.56M203.3,336.4h0.56M205.2,335.2h0.56M201.3,332.2h0.56M206.8,335.7h0.56M201.7,330.8h0.56M200.8,335.1h0.56M201.0,338.2h0.56M199.5,334.6h0.56M202.7,331.3h0.56M205.3,335.6h0.56M203.3,331.4h0.56M205.6,335.7h0.56M202.5,327.9h0.56M204.0,332.2h0.56M204.0,337.2h0.56M203.3,335.8h0.56M208.7,328.5h0.56M206.8,330.5h0.56M201.9,333.2h0.56M202.3,335.1h0.56M202.1,333.0h0.56M205.9,332.2h0.56M197.0,333.7h0.56M202.0,330.3h0.56M209.9,335.1h0.56M203.2,333.8h0.56M201.0,335.6h0.56M197.1,336.5h0.56M204.2,330.8h0.56M204.1,335.2h0.56M202.7,338.8h0.56M201.8,337.5h0.56M206.9,331.3h0.56M198.7,334.0h0.56M207.5,332.2h0.56M202.4,329.3h0.56M206.4,334.2h0.56M204.1,331.0h0.56M201.6,333.6h0.56M205.5,329.9h0.56M205.9,334.4h0.56" stroke="#444" stroke-width="0.56" opacity="0.35" fill="none"/>
<rect x="199.36" y="330.09" width="8.62" height="11.06" fill="#666" opacity="0.32" filter="url(#b12)"/>
<path d="M207.00,322.45 C218.30,322.45 222.10,323.95 221.30,336.45" fill="none" stroke="#702020" stroke-width="4.10" stroke-linecap="round" opacity="0.38" filter="url(#b08)"/>
<path d="M207.00,322.45 C218.30,322.45 222.10,323.95 221.30,336.45" fill="none" stroke="#b01818" stroke-width="1.80" stroke-linecap="round" opacity="0.35" filter="url(#b05)"/>
<path d="M212.7,323.6h0.5M221.6,329.0h0.5M209.8,324.6h0.5M209.2,322.3h0.5M209.1,325.2h0.5M212.4,323.4h0.5M221.9,325.6h0.5M220.5,333.5h0.5M221.6,327.4h0.5M223.7,331.8h0.5M221.1,321.8h0.5M214.6,323.3h0.5M222.4,321.6h0.5M211.1,323.1h0.5M217.7,321.8h0.5M207.7,319.8h0.5M221.0,329.8h0.5M217.2,324.0h0.5M221.8,330.5h0.5M214.2,322.2h0.5M216.7,322.7h0.5M219.4,327.6h0.5M209.4,322.6h0.5M221.5,330.3h0.5M209.9,322.9h0.5M214.7,322.2h0.5M209.2,324.5h0.5M207.5,322.8h0.5M217.8,321.0h0.5M210.1,325.3h0.5M221.0,327.4h0.5M213.8,322.9h0.5M214.4,323.8h0.5M222.5,327.0h0.5M207.6,323.0h0.5M218.9,324.7h0.5M216.0,320.4h0.5M222.4,330.6h0.5M219.0,321.5h0.5M208.1,321.8h0.5M222.8,329.3h0.5M220.4,333.6h0.5M212.2,322.2h0.5M209.4,323.6h0.5M218.3,324.5h0.5M222.0,322.8h0.5M222.8,334.5h0.5M214.5,321.8h0.5M222.2,329.1h0.5M219.1,324.0h0.5M223.8,329.0h0.5M224.2,329.0h0.5M211.0,324.5h0.5M220.3,334.2h0.5M212.3,324.9h0.5M212.3,324.8h0.5M220.6,323.7h0.5M214.8,322.7h0.5M214.0,322.8h0.5M219.2,327.2h0.5" stroke="#6a1515" stroke-width="0.5" opacity="0.5"/>
<ellipse cx="221.30" cy="334.65" rx="1.68" ry="3.17" fill="#c81212" opacity="0.90" filter="url(#b05)"/>
<path d="M205.1,324.6h0.60M206.9,330.7h0.60M203.2,324.7h0.60M204.5,325.9h0.60M203.3,330.3h0.60M207.1,329.3h0.60M199.7,327.0h0.60M202.7,319.6h0.60M208.5,320.3h0.60M200.0,317.8h0.60M200.1,326.4h0.60M208.4,328.4h0.60M204.8,328.2h0.60M202.6,325.0h0.60M203.3,322.3h0.60M208.0,320.2h0.60M204.4,325.6h0.60M198.8,320.9h0.60M205.1,322.4h0.60M204.3,323.7h0.60M203.8,323.5h0.60M203.1,328.0h0.60M198.8,321.9h0.60M205.1,326.5h0.60M206.1,325.9h0.60M201.5,324.8h0.60M199.6,327.5h0.60M204.3,321.3h0.60M205.5,328.6h0.60M205.9,318.7h0.60M206.1,327.1h0.60M211.3,327.6h0.60M209.5,325.9h0.60M198.1,318.9h0.60M207.6,327.1h0.60M204.4,329.7h0.60M203.6,325.7h0.60M204.8,325.4h0.60M202.2,325.1h0.60M205.3,329.4h0.60M203.9,326.5h0.60M205.6,322.2h0.60M200.7,325.5h0.60M202.8,321.9h0.60M202.0,319.6h0.60M207.3,326.8h0.60M207.6,317.6h0.60M203.7,326.0h0.60M201.5,328.0h0.60M203.7,326.6h0.60M203.7,324.2h0.60M202.3,325.3h0.60M208.0,324.8h0.60M201.5,323.0h0.60M206.5,329.9h0.60M205.8,326.6h0.60M206.2,321.7h0.60M202.4,326.8h0.60M205.0,331.6h0.60M202.3,328.1h0.60M208.9,322.1h0.60M203.4,327.4h0.60M205.1,326.3h0.60M208.6,329.3h0.60M200.8,322.8h0.60M201.0,324.4h0.60M206.2,325.8h0.60M206.8,327.2h0.60M202.0,318.7h0.60M202.2,321.2h0.60M199.7,324.0h0.60M209.9,323.5h0.60M206.2,327.3h0.60M204.0,322.2h0.60M209.8,325.1h0.60M210.1,326.1h0.60M203.5,325.2h0.60M202.4,322.9h0.60M205.7,322.6h0.60M206.0,321.6h0.60M198.2,324.2h0.60M207.3,322.7h0.60M210.0,329.2h0.60M203.4,329.2h0.60M203.0,325.0h0.60M205.2,325.0h0.60M207.7,321.5h0.60M200.5,319.9h0.60M202.9,324.4h0.60M200.3,327.2h0.60M199.4,321.9h0.60M208.7,323.1h0.60M204.5,315.9h0.60M203.9,325.3h0.60M203.3,327.3h0.60M203.1,325.3h0.60M201.5,324.6h0.60M203.7,328.3h0.60M201.7,321.7h0.60M202.6,323.2h0.60M203.0,329.3h0.60M202.4,331.1h0.60M207.6,325.2h0.60M203.5,325.5h0.60M201.2,327.0h0.60M205.4,324.2h0.60M202.3,326.8h0.60M199.7,323.3h0.60M200.8,319.5h0.60M200.7,327.0h0.60M207.8,322.1h0.60M202.1,327.0h0.60M204.3,322.9h0.60M201.8,328.6h0.60M198.2,320.5h0.60M203.8,326.2h0.60M201.1,322.0h0.60M207.4,325.7h0.60M200.0,326.3h0.60M203.0,328.9h0.60M206.7,322.1h0.60M201.5,325.1h0.60M202.3,326.9h0.60M203.0,330.9h0.60M200.6,320.4h0.60M202.1,323.4h0.60M202.1,323.1h0.60M201.0,326.6h0.60M203.6,324.0h0.60M199.3,326.9h0.60M208.1,324.6h0.60M203.8,328.9h0.60M203.6,327.9h0.60M202.5,322.6h0.60M208.3,320.6h0.60M206.1,329.2h0.60M204.3,325.3h0.60M207.0,321.8h0.60M203.5,326.2h0.60M204.3,319.8h0.60M204.6,323.7h0.60M208.1,331.8h0.60M199.3,326.1h0.60M202.7,317.3h0.60M205.7,333.0h0.60M202.4,330.7h0.60M208.5,326.8h0.60M204.4,330.9h0.60M198.3,324.5h0.60M200.8,326.7h0.60M204.1,326.3h0.60M205.4,332.1h0.60M208.5,325.5h0.60M203.0,329.5h0.60M205.1,328.6h0.60M207.2,316.8h0.60M204.1,326.4h0.60M198.4,329.0h0.60" stroke="#000" stroke-width="0.60" opacity="0.5" fill="none"/>
<rect x="198.36" y="318.48" width="14.14" height="15.61" rx="3" fill="#333" opacity="0.35" filter="url(#b20)"/>
<rect x="199.86" y="319.98" width="12.64" height="10.11" rx="2" fill="#222" opacity="0.45" filter="url(#b12)"/>
<rect x="198.86" y="319.48" width="10.14" height="11.61" rx="3.90" fill="#000" filter="url(#b08)"/>
<rect x="200.06" y="320.68" width="7.34" height="9.21" rx="2.60" fill="#000" opacity="0.8"/>
<rect x="239.0" y="303.45" width="40.2" height="39.2" fill="none" stroke="#b0b0b0" stroke-width="0.5"/>
<g stroke="#a8a8a8" stroke-width="0.45"><line x1="252.4" y1="303.45" x2="252.4" y2="333.34999999999997"/><line x1="239.0" y1="333.34999999999997" x2="279.2" y2="333.34999999999997"/><line x1="259.1" y1="333.34999999999997" x2="259.1" y2="342.65"/></g>
<text transform="translate(240.2 308.45) scale(0.1)" font-size="42.00" font-weight="normal" fill="#222" text-anchor="start">71.2</text>
<text transform="translate(278.0 308.45) scale(0.1)" font-size="42.00" font-weight="normal" fill="#222" text-anchor="end">8.62</text>
<text transform="translate(278.0 341.65) scale(0.1)" font-size="42.00" font-weight="normal" fill="#222" text-anchor="end">11.7</text>
<path d="M247.9,334.8h0.56M244.4,337.0h0.56M247.0,336.0h0.56M247.7,340.3h0.56M247.2,337.0h0.56M252.2,339.9h0.56M245.8,337.2h0.56M245.2,336.8h0.56M245.8,335.1h0.56M248.7,336.2h0.56M244.4,335.9h0.56M243.9,336.9h0.56M246.2,335.1h0.56M249.5,337.7h0.56M249.2,337.5h0.56M248.5,333.5h0.56M245.9,339.5h0.56M245.3,338.0h0.56M242.7,332.9h0.56M242.7,341.9h0.56M248.5,335.1h0.56M247.9,336.9h0.56M247.9,336.1h0.56M246.7,339.7h0.56M249.0,337.6h0.56M248.6,337.5h0.56M247.7,334.8h0.56M246.3,340.6h0.56M247.2,338.3h0.56M251.3,339.9h0.56M252.0,339.8h0.56M251.6,334.6h0.56M248.3,337.4h0.56M242.3,337.9h0.56M247.6,337.6h0.56M248.2,337.3h0.56M251.7,336.3h0.56M247.1,333.2h0.56M246.4,338.5h0.56M248.2,338.8h0.56M247.3,337.8h0.56M245.5,341.1h0.56M244.0,336.7h0.56M243.1,339.6h0.56M246.0,337.1h0.56M243.1,341.0h0.56M245.2,339.9h0.56M247.0,337.2h0.56M246.4,335.5h0.56M248.3,338.9h0.56M253.6,333.4h0.56M246.3,335.1h0.56M245.6,334.0h0.56M244.1,339.1h0.56M245.3,336.5h0.56M249.3,337.8h0.56M247.8,336.9h0.56M247.2,336.1h0.56M250.7,336.9h0.56M245.2,336.4h0.56M247.6,335.8h0.56M251.4,338.2h0.56M248.7,337.6h0.56M244.0,336.1h0.56M248.5,337.6h0.56M245.4,334.0h0.56M244.5,338.5h0.56M240.8,341.5h0.56M239.8,335.3h0.56M250.9,336.6h0.56M245.9,332.8h0.56M245.7,338.1h0.56M244.7,337.6h0.56M245.2,335.9h0.56M245.5,340.6h0.56M250.4,340.3h0.56M243.7,334.4h0.56M244.1,336.6h0.56M249.2,340.8h0.56M242.8,339.3h0.56M245.5,336.1h0.56M249.4,333.2h0.56M249.5,342.1h0.56M250.2,335.2h0.56M247.8,338.5h0.56M244.1,341.0h0.56M246.6,339.8h0.56M246.5,336.0h0.56M245.7,338.8h0.56M248.3,340.2h0.56M242.4,333.1h0.56M249.1,336.7h0.56M250.4,338.6h0.56M246.3,337.8h0.56M245.8,335.0h0.56M247.5,336.1h0.56M246.6,336.7h0.56M243.1,336.9h0.56M247.8,334.9h0.56M248.8,335.8h0.56M253.0,331.5h0.56M250.2,341.2h0.56M247.6,334.9h0.56M246.6,341.9h0.56M246.3,338.3h0.56M247.0,336.3h0.56M247.8,340.6h0.56M251.8,334.1h0.56M246.0,336.5h0.56M249.9,335.9h0.56" stroke="#444" stroke-width="0.56" opacity="0.35" fill="none"/>
<rect x="240.50" y="333.59" width="12.07" height="7.56" fill="#666" opacity="0.32" filter="url(#b12)"/>
<path d="M252.20,325.95 C258.70,325.95 262.50,327.45 261.70,338.05" fill="none" stroke="#702020" stroke-width="4.80" stroke-linecap="round" opacity="0.75" filter="url(#b08)"/>
<path d="M252.20,325.95 C258.70,325.95 262.50,327.45 261.70,338.05" fill="none" stroke="#b01818" stroke-width="2.20" stroke-linecap="round" opacity="0.70" filter="url(#b05)"/>
<path d="M261.4,327.8h0.5M254.6,324.9h0.5M257.5,326.2h0.5M257.3,325.1h0.5M254.5,326.2h0.5M261.9,333.8h0.5M257.7,326.8h0.5M261.7,329.8h0.5M254.8,325.7h0.5M262.3,330.0h0.5M261.2,336.0h0.5M261.9,327.3h0.5M256.5,325.4h0.5M262.7,329.4h0.5M261.8,334.3h0.5M261.9,326.9h0.5M256.7,324.9h0.5M261.4,329.7h0.5M261.7,331.6h0.5M254.7,325.2h0.5M257.5,327.4h0.5M251.5,325.4h0.5M257.1,326.7h0.5M261.4,334.0h0.5M260.9,329.9h0.5M254.5,326.4h0.5M256.3,325.4h0.5M262.1,330.6h0.5M256.4,327.8h0.5M257.6,326.3h0.5M253.0,324.7h0.5M254.2,326.4h0.5M261.9,332.4h0.5M260.6,336.3h0.5M255.6,324.5h0.5M262.0,328.4h0.5M261.0,328.9h0.5M257.9,326.1h0.5M260.1,334.1h0.5M260.1,333.3h0.5M256.2,326.4h0.5M261.2,330.6h0.5M262.2,333.6h0.5M262.6,332.2h0.5M262.0,331.0h0.5M254.6,326.4h0.5M257.4,325.9h0.5M261.8,330.8h0.5M263.4,330.8h0.5M257.4,325.8h0.5M253.1,325.4h0.5M261.6,336.0h0.5M259.6,330.4h0.5M255.0,323.2h0.5M261.9,335.0h0.5M259.9,336.0h0.5M255.8,326.8h0.5M262.4,331.9h0.5M252.5,325.8h0.5M261.7,329.8h0.5M262.9,336.8h0.5M261.8,331.3h0.5M262.5,337.1h0.5M264.2,329.5h0.5M253.6,327.2h0.5M254.0,327.4h0.5M263.0,334.3h0.5M256.3,325.6h0.5M257.7,328.2h0.5M261.6,325.7h0.5M256.3,324.2h0.5M262.5,330.0h0.5M262.2,337.2h0.5M257.0,326.2h0.5M253.3,326.2h0.5M259.4,326.6h0.5M256.9,324.8h0.5M257.9,324.1h0.5M261.7,331.0h0.5M254.3,328.9h0.5M261.3,335.4h0.5M252.4,324.7h0.5M255.4,324.7h0.5M263.2,329.8h0.5M254.6,325.0h0.5M260.6,329.3h0.5M262.9,333.5h0.5M257.2,326.9h0.5M258.9,332.7h0.5M260.2,327.5h0.5M261.8,336.7h0.5M259.3,324.6h0.5M253.9,325.1h0.5M259.1,325.2h0.5M262.6,333.0h0.5M254.3,323.7h0.5M255.1,326.8h0.5M252.8,325.4h0.5M254.3,326.4h0.5M262.4,330.3h0.5M261.3,330.5h0.5M256.0,325.7h0.5M251.3,324.9h0.5M257.5,327.0h0.5M261.6,337.8h0.5M262.6,331.0h0.5M253.8,325.9h0.5M260.8,326.7h0.5M261.1,333.4h0.5M253.6,325.4h0.5M261.6,336.2h0.5M256.0,324.9h0.5M252.2,324.9h0.5M255.7,326.1h0.5M264.5,329.1h0.5M252.8,326.1h0.5M262.0,329.4h0.5M261.0,331.7h0.5M254.8,325.2h0.5M253.6,324.6h0.5" stroke="#6a1515" stroke-width="0.5" opacity="0.5"/>
<ellipse cx="261.70" cy="336.25" rx="1.89" ry="3.56" fill="#c81212" opacity="1.00" filter="url(#b05)"/>
<path d="M254.1,325.9h0.60M254.5,324.8h0.60M246.3,328.0h0.60M250.1,325.7h0.60M242.5,325.6h0.60M254.7,322.4h0.60M240.9,327.6h0.60M241.9,328.0h0.60M247.8,328.9h0.60M249.5,324.5h0.60M249.6,328.3h0.60M247.2,325.7h0.60M244.0,326.5h0.60M255.3,331.1h0.60M244.8,324.3h0.60M245.0,329.8h0.60M249.0,333.6h0.60M247.1,333.0h0.60M245.5,328.4h0.60M252.5,326.1h0.60M258.3,327.4h0.60M254.9,326.2h0.60M246.4,326.6h0.60M248.1,331.3h0.60M252.8,331.1h0.60M248.1,325.3h0.60M243.2,337.3h0.60M241.5,331.6h0.60M244.2,327.7h0.60M251.3,325.4h0.60M243.9,327.2h0.60M240.5,327.9h0.60M250.2,329.7h0.60M251.5,329.6h0.60M245.1,327.9h0.60M244.5,326.2h0.60M245.0,333.5h0.60M249.1,329.0h0.60M243.2,328.3h0.60M240.6,336.8h0.60M245.8,327.8h0.60M240.8,322.5h0.60M249.7,330.8h0.60M248.1,329.0h0.60M239.6,328.6h0.60M241.3,330.3h0.60M247.0,326.6h0.60M249.4,321.9h0.60M246.2,334.0h0.60M243.9,329.0h0.60M248.0,324.9h0.60M250.3,332.6h0.60M247.7,325.2h0.60M243.5,329.6h0.60M253.6,331.4h0.60M250.0,332.5h0.60M250.8,335.6h0.60M248.6,331.1h0.60M250.9,329.7h0.60M255.8,330.6h0.60M243.2,333.7h0.60M240.1,332.1h0.60M251.3,330.6h0.60M251.4,326.4h0.60M241.9,333.8h0.60M245.3,330.9h0.60M243.5,335.0h0.60M245.8,334.8h0.60M251.4,326.0h0.60M243.8,327.2h0.60M239.7,325.8h0.60M244.3,331.2h0.60M248.4,328.8h0.60M251.0,328.2h0.60M247.4,328.7h0.60M240.9,331.4h0.60M252.6,333.6h0.60M245.1,335.6h0.60M247.9,332.0h0.60M246.3,329.4h0.60M248.7,332.0h0.60M245.5,330.2h0.60M249.9,332.1h0.60M250.0,324.0h0.60M254.8,326.1h0.60M250.6,326.2h0.60M245.7,327.1h0.60M245.8,334.4h0.60M246.3,327.1h0.60M249.7,331.0h0.60M247.0,330.6h0.60M240.2,326.2h0.60M256.1,325.1h0.60M240.4,323.6h0.60M243.8,334.7h0.60M255.4,333.9h0.60M259.4,334.1h0.60M251.2,322.6h0.60M253.2,327.3h0.60M248.1,324.7h0.60M247.4,323.3h0.60M255.0,333.7h0.60M247.0,323.8h0.60M247.8,327.1h0.60M245.5,331.3h0.60M250.5,329.0h0.60M252.7,331.3h0.60M249.2,329.7h0.60M247.5,321.6h0.60M240.6,330.4h0.60M249.1,331.0h0.60M246.5,324.4h0.60M252.3,327.1h0.60M246.9,326.1h0.60M246.9,326.4h0.60M243.2,329.6h0.60M245.3,329.2h0.60M247.6,328.4h0.60M245.7,326.0h0.60M248.9,331.8h0.60M245.8,333.7h0.60M247.9,332.5h0.60M241.3,328.8h0.60M245.3,323.4h0.60M240.5,331.0h0.60M256.1,319.9h0.60M245.7,333.4h0.60M249.6,326.9h0.60M253.8,333.2h0.60M240.4,329.8h0.60M249.0,324.8h0.60M240.5,326.1h0.60M251.1,325.1h0.60M246.3,328.0h0.60M250.9,335.4h0.60M248.5,332.0h0.60M258.1,320.9h0.60M254.7,329.6h0.60M254.5,332.6h0.60M250.7,327.8h0.60M245.5,328.4h0.60M245.6,331.2h0.60M249.3,332.6h0.60M248.3,328.7h0.60M252.0,330.7h0.60M240.8,332.7h0.60M246.1,325.7h0.60M245.0,325.8h0.60M246.5,325.6h0.60M242.1,327.0h0.60M250.8,328.8h0.60M247.4,330.1h0.60M248.6,327.5h0.60M250.1,330.9h0.60" stroke="#000" stroke-width="0.60" opacity="0.5" fill="none"/>
<rect x="239.50" y="321.98" width="18.20" height="15.61" rx="3" fill="#333" opacity="0.35" filter="url(#b20)"/>
<rect x="241.00" y="323.48" width="16.70" height="10.11" rx="2" fill="#222" opacity="0.45" filter="url(#b12)"/>
<rect x="240.00" y="322.98" width="14.20" height="11.61" rx="4.05" fill="#000" filter="url(#b08)"/>
<rect x="241.20" y="324.18" width="11.40" height="9.21" rx="2.70" fill="#000" opacity="0.8"/>
<rect x="281.2" y="303.45" width="38.6" height="39.2" fill="none" stroke="#b0b0b0" stroke-width="0.5"/>
<g stroke="#a8a8a8" stroke-width="0.45"><line x1="292.5" y1="303.45" x2="292.5" y2="333.34999999999997"/><line x1="281.2" y1="333.34999999999997" x2="319.8" y2="333.34999999999997"/><line x1="298.8" y1="333.34999999999997" x2="298.8" y2="342.65"/></g>
<text transform="translate(282.4 308.45) scale(0.1)" font-size="42.00" font-weight="normal" fill="#222" text-anchor="start">72</text>
<text transform="translate(318.6 308.45) scale(0.1)" font-size="42.00" font-weight="normal" fill="#222" text-anchor="end">6.93</text>
<text transform="translate(318.6 341.65) scale(0.1)" font-size="42.00" font-weight="normal" fill="#222" text-anchor="end">9.77</text>
<path d="M287.8,338.5h0.56M288.9,329.8h0.56M288.6,335.7h0.56M288.1,335.2h0.56M290.3,337.1h0.56M283.3,332.3h0.56M288.5,331.1h0.56M293.2,333.3h0.56M288.2,337.5h0.56M286.0,332.7h0.56M289.2,332.6h0.56M289.9,336.0h0.56M289.7,334.9h0.56M286.1,332.5h0.56M282.9,330.8h0.56M286.4,336.9h0.56M290.5,331.1h0.56M288.5,334.1h0.56M288.5,333.5h0.56M287.1,338.8h0.56M286.2,332.7h0.56M291.1,336.4h0.56M288.4,340.0h0.56M289.9,334.1h0.56M290.2,334.2h0.56M286.8,337.4h0.56M284.3,336.1h0.56M286.6,333.4h0.56M288.0,332.4h0.56M289.6,332.7h0.56M287.1,334.4h0.56M288.0,339.2h0.56M284.3,334.5h0.56M289.9,341.7h0.56M288.0,337.5h0.56M289.6,333.1h0.56M289.0,337.8h0.56M289.4,334.5h0.56M288.0,332.1h0.56M284.7,332.8h0.56M292.4,333.3h0.56M291.0,333.4h0.56M291.5,332.8h0.56M284.2,335.6h0.56M289.9,333.4h0.56M287.7,333.2h0.56M285.2,337.2h0.56M291.9,336.1h0.56M290.0,334.9h0.56M287.7,332.9h0.56M289.4,335.7h0.56M290.3,336.1h0.56M285.0,331.4h0.56M287.3,335.2h0.56M283.6,335.0h0.56M283.7,335.5h0.56M284.0,334.1h0.56M288.2,334.0h0.56M288.3,334.4h0.56M283.3,333.1h0.56M287.4,334.7h0.56M284.0,337.3h0.56M289.9,332.0h0.56M288.2,332.9h0.56M285.4,332.4h0.56M292.2,334.7h0.56M290.8,333.8h0.56M285.5,336.1h0.56M291.4,340.4h0.56M286.4,335.2h0.56M284.1,333.7h0.56M291.1,336.8h0.56M286.3,331.5h0.56M287.4,340.3h0.56M284.0,335.4h0.56M284.7,333.6h0.56M288.6,332.7h0.56M287.4,334.3h0.56M286.7,335.1h0.56M282.6,335.6h0.56M292.7,334.6h0.56M283.3,336.5h0.56M286.1,334.0h0.56M287.0,337.8h0.56M286.3,333.4h0.56M289.0,333.4h0.56M287.4,336.9h0.56M288.0,336.3h0.56M288.2,338.7h0.56M288.2,335.6h0.56M286.6,336.8h0.56M282.6,332.0h0.56M292.1,334.3h0.56M289.4,338.7h0.56M285.6,337.0h0.56M284.8,333.9h0.56M291.2,334.7h0.56M285.1,333.7h0.56M289.8,337.2h0.56M290.6,329.1h0.56M283.4,333.4h0.56M290.5,332.5h0.56M283.4,326.0h0.56M283.0,337.3h0.56M291.9,334.7h0.56M287.4,334.3h0.56M289.9,336.4h0.56M289.8,333.1h0.56M290.3,339.7h0.56M289.9,337.1h0.56" stroke="#444" stroke-width="0.56" opacity="0.35" fill="none"/>
<rect x="282.70" y="331.39" width="9.78" height="9.76" fill="#666" opacity="0.32" filter="url(#b12)"/>
<path d="M291.70,323.75 C301.00,323.75 304.80,325.25 304.00,337.65" fill="none" stroke="#702020" stroke-width="4.17" stroke-linecap="round" opacity="0.41" filter="url(#b08)"/>
<path d="M291.70,323.75 C301.00,323.75 304.80,325.25 304.00,337.65" fill="none" stroke="#b01818" stroke-width="1.84" stroke-linecap="round" opacity="0.39" filter="url(#b05)"/>
<path d="M308.2,328.7h0.5M303.8,333.8h0.5M294.5,322.1h0.5M303.4,335.2h0.5M300.2,324.9h0.5M302.7,328.0h0.5M297.3,324.5h0.5M292.6,324.4h0.5M300.3,322.8h0.5M299.5,325.7h0.5M295.5,322.9h0.5M291.4,323.3h0.5M292.7,323.6h0.5M295.6,323.4h0.5M301.4,329.1h0.5M297.3,323.4h0.5M290.3,323.0h0.5M305.5,334.3h0.5M293.9,322.7h0.5M300.5,324.9h0.5M304.0,331.7h0.5M293.8,322.2h0.5M299.9,324.3h0.5M302.4,329.1h0.5M305.0,329.1h0.5M300.8,322.0h0.5M295.2,323.4h0.5M302.6,324.7h0.5M304.4,328.0h0.5M297.8,324.6h0.5M304.7,326.9h0.5M296.1,323.9h0.5M303.9,336.4h0.5M303.4,332.0h0.5M295.3,324.1h0.5M303.7,325.6h0.5M292.5,323.1h0.5M305.2,333.8h0.5M291.6,324.5h0.5M303.1,332.9h0.5M303.2,336.1h0.5M305.3,327.3h0.5M304.2,329.0h0.5M300.3,324.4h0.5M297.9,325.7h0.5M293.0,322.1h0.5M304.8,331.6h0.5M305.3,340.2h0.5M294.4,323.9h0.5M298.9,326.2h0.5M294.0,325.3h0.5M305.4,331.0h0.5M299.1,325.9h0.5M299.9,325.1h0.5M297.7,322.9h0.5M304.8,335.5h0.5M300.3,323.6h0.5M291.4,325.3h0.5M302.1,324.5h0.5M297.6,323.9h0.5M299.1,325.7h0.5M304.7,331.4h0.5M303.0,329.8h0.5M293.0,324.8h0.5M299.4,323.9h0.5M297.4,324.7h0.5" stroke="#6a1515" stroke-width="0.5" opacity="0.5"/>
<ellipse cx="304.00" cy="335.85" rx="1.75" ry="3.30" fill="#c81212" opacity="1.00" filter="url(#b05)"/>
<path d="M286.0,326.3h0.60M287.9,325.9h0.60M289.4,325.7h0.60M290.7,328.3h0.60M287.5,320.0h0.60M282.3,323.4h0.60M290.4,327.7h0.60M287.5,321.8h0.60M288.2,326.5h0.60M288.9,328.3h0.60M288.5,325.0h0.60M287.8,317.2h0.60M290.5,328.4h0.60M288.5,323.5h0.60M288.3,324.9h0.60M287.9,329.6h0.60M289.7,326.3h0.60M288.1,326.7h0.60M287.2,325.1h0.60M289.8,324.8h0.60M287.8,327.7h0.60M287.1,326.9h0.60M292.7,327.8h0.60M288.2,324.9h0.60M284.8,326.7h0.60M288.4,330.4h0.60M284.2,330.3h0.60M287.1,326.9h0.60M291.0,329.0h0.60M289.3,324.1h0.60M287.6,325.8h0.60M291.8,323.6h0.60M292.2,326.9h0.60M285.5,326.9h0.60M289.3,322.9h0.60M292.1,325.9h0.60M291.4,325.0h0.60M285.6,328.8h0.60M290.1,326.5h0.60M282.3,329.7h0.60M290.6,321.5h0.60M282.3,325.7h0.60M289.5,326.9h0.60M282.7,327.3h0.60M289.3,328.1h0.60M287.1,324.2h0.60M284.9,329.3h0.60M288.5,326.7h0.60M289.1,328.7h0.60M289.2,329.6h0.60M282.9,330.0h0.60M290.7,324.6h0.60M290.0,324.1h0.60M289.0,325.0h0.60M283.2,329.0h0.60M287.0,332.1h0.60M282.2,327.9h0.60M284.8,322.7h0.60M284.7,324.2h0.60M289.3,328.5h0.60M293.9,319.0h0.60M288.5,325.1h0.60M291.2,327.9h0.60M285.6,324.5h0.60M294.2,323.4h0.60M283.8,323.4h0.60M289.1,327.4h0.60M290.3,321.7h0.60M288.5,323.4h0.60M288.1,321.4h0.60M284.5,325.3h0.60M287.8,319.2h0.60M289.0,324.1h0.60M288.0,328.5h0.60M293.0,330.1h0.60M291.7,329.7h0.60M282.6,324.5h0.60M287.4,326.4h0.60M292.3,328.3h0.60M290.5,327.7h0.60M282.1,330.6h0.60M288.9,326.2h0.60M282.8,321.1h0.60M290.1,329.2h0.60M282.7,321.0h0.60M288.7,324.1h0.60M292.3,328.1h0.60M288.0,318.0h0.60M293.7,325.6h0.60M283.6,327.6h0.60M286.2,328.4h0.60M294.1,322.8h0.60M291.6,323.5h0.60M289.0,328.3h0.60M294.4,326.8h0.60M289.4,325.4h0.60M286.1,324.6h0.60M285.7,328.5h0.60M288.2,331.1h0.60M282.6,324.8h0.60M287.0,330.4h0.60M284.5,328.1h0.60M291.9,330.1h0.60M286.4,326.0h0.60M291.4,325.8h0.60M290.2,326.7h0.60M291.6,327.9h0.60M289.6,325.4h0.60M289.9,326.1h0.60M299.1,327.8h0.60M288.4,325.6h0.60M289.4,327.9h0.60M287.2,330.4h0.60M289.5,324.4h0.60M284.0,330.3h0.60M286.3,324.7h0.60M283.5,324.3h0.60M290.3,328.3h0.60M287.5,329.1h0.60M291.5,329.2h0.60M286.2,332.3h0.60M293.8,327.8h0.60M284.5,329.9h0.60M287.3,324.7h0.60M292.0,327.3h0.60M288.0,324.1h0.60M285.1,332.4h0.60M285.3,321.7h0.60M293.0,325.2h0.60M287.3,326.7h0.60M295.9,322.3h0.60M288.9,327.4h0.60M289.2,327.8h0.60M289.0,334.6h0.60M289.1,330.8h0.60M287.9,324.1h0.60M287.0,321.1h0.60M296.0,321.9h0.60M293.0,325.0h0.60M286.8,324.5h0.60M285.7,323.5h0.60M287.4,327.1h0.60M288.5,330.6h0.60M288.9,322.5h0.60M293.9,323.9h0.60M286.9,326.2h0.60M284.7,332.8h0.60M286.2,327.4h0.60M285.0,324.4h0.60M287.2,326.3h0.60M289.2,323.5h0.60M291.6,329.3h0.60" stroke="#000" stroke-width="0.60" opacity="0.5" fill="none"/>
<rect x="281.70" y="319.78" width="15.50" height="15.61" rx="3" fill="#333" opacity="0.35" filter="url(#b20)"/>
<rect x="283.20" y="321.28" width="14.00" height="10.11" rx="2" fill="#222" opacity="0.45" filter="url(#b12)"/>
<rect x="282.20" y="320.78" width="11.50" height="11.61" rx="4.05" fill="#000" filter="url(#b08)"/>
<rect x="283.40" y="321.98" width="8.70" height="9.21" rx="2.70" fill="#000" opacity="0.8"/>
<rect x="196.3" y="343.09999999999997" width="39.8" height="39.2" fill="none" stroke="#b0b0b0" stroke-width="0.5"/>
<g stroke="#a8a8a8" stroke-width="0.45"><line x1="210.5" y1="343.09999999999997" x2="210.5" y2="372.99999999999994"/><line x1="196.3" y1="372.99999999999994" x2="236.10000000000002" y2="372.99999999999994"/><line x1="216.8" y1="372.99999999999994" x2="216.8" y2="382.29999999999995"/></g>
<text transform="translate(197.5 348.09999999999997) scale(0.1)" font-size="42.00" font-weight="normal" fill="#222" text-anchor="start">86.7</text>
<text transform="translate(234.90000000000003 348.09999999999997) scale(0.1)" font-size="42.00" font-weight="normal" fill="#222" text-anchor="end">2.98</text>
<text transform="translate(234.90000000000003 381.29999999999995) scale(0.1)" font-size="42.00" font-weight="normal" fill="#222" text-anchor="end">2.72</text>
<path d="M204.8,374.6h0.56M207.1,375.7h0.56M205.5,376.8h0.56M200.3,376.3h0.56M205.7,372.7h0.56M207.4,373.1h0.56M198.5,377.5h0.56M205.9,377.4h0.56M202.7,378.9h0.56M207.0,378.2h0.56M204.5,375.0h0.56M203.0,374.2h0.56M203.0,379.8h0.56M201.9,378.6h0.56M203.4,378.4h0.56M209.0,371.6h0.56M201.8,374.9h0.56M202.8,374.5h0.56M204.3,374.9h0.56M203.9,375.7h0.56M204.6,369.6h0.56M208.5,375.4h0.56M206.0,379.8h0.56M200.8,376.3h0.56M204.0,376.9h0.56M199.2,374.3h0.56M207.8,374.3h0.56M202.9,372.8h0.56M203.9,376.5h0.56M204.9,380.7h0.56M203.0,377.6h0.56M199.8,375.4h0.56M202.2,376.2h0.56M207.2,375.6h0.56M205.3,377.4h0.56M205.0,376.8h0.56M201.7,378.1h0.56M203.8,373.9h0.56M198.2,380.9h0.56M204.0,377.4h0.56M206.3,375.4h0.56M201.2,377.4h0.56M204.4,379.9h0.56M203.0,375.1h0.56M199.5,374.5h0.56M198.7,370.1h0.56M203.3,375.9h0.56M207.2,374.4h0.56M204.8,375.5h0.56M200.9,375.0h0.56M203.3,375.0h0.56M203.9,376.7h0.56M200.3,374.7h0.56M204.9,373.5h0.56M206.8,373.7h0.56M204.2,375.6h0.56M203.1,374.2h0.56M203.7,375.6h0.56M205.5,370.2h0.56M204.3,375.9h0.56M201.3,377.2h0.56M202.3,376.0h0.56M207.5,379.0h0.56M201.4,377.8h0.56M206.3,374.2h0.56M204.6,376.5h0.56M204.0,371.7h0.56M204.0,373.5h0.56M203.9,377.8h0.56M206.0,374.6h0.56M202.8,371.2h0.56M205.6,376.9h0.56M204.6,374.3h0.56M198.8,376.2h0.56M205.7,378.7h0.56M204.0,377.8h0.56M199.3,378.7h0.56M208.5,374.0h0.56M200.7,376.2h0.56M206.0,374.8h0.56M197.2,378.0h0.56M206.9,375.6h0.56M206.0,373.8h0.56M201.3,372.1h0.56M205.6,373.3h0.56M206.1,375.9h0.56M202.4,374.6h0.56M202.4,370.4h0.56M204.6,374.9h0.56M205.3,372.6h0.56M202.2,373.3h0.56M201.9,375.6h0.56M204.1,372.3h0.56M202.5,379.7h0.56M206.9,376.7h0.56M203.7,374.4h0.56M202.8,374.2h0.56M199.6,372.4h0.56M202.1,378.8h0.56M201.2,371.5h0.56M204.8,375.3h0.56M203.0,375.1h0.56M200.5,378.4h0.56M207.4,374.3h0.56M204.2,375.5h0.56M203.9,376.0h0.56M197.6,373.7h0.56M204.6,376.2h0.56M197.8,377.3h0.56" stroke="#444" stroke-width="0.56" opacity="0.35" fill="none"/>
<rect x="200.29" y="373.36" width="6.46" height="7.44" fill="#666" opacity="0.32" filter="url(#b12)"/>
<path d="M205.40,363.80 C215.80,363.80 219.60,365.30 218.80,377.10" fill="none" stroke="#702020" stroke-width="3.82" stroke-linecap="round" opacity="0.22" filter="url(#b08)"/>
<path d="M205.40,363.80 C215.80,363.80 219.60,365.30 218.80,377.10" fill="none" stroke="#b01818" stroke-width="1.64" stroke-linecap="round" opacity="0.21" filter="url(#b05)"/>
<path d="M217.8,371.2h0.5M206.5,364.6h0.5M210.8,362.7h0.5M220.3,367.0h0.5M207.1,365.3h0.5M211.8,363.5h0.5M205.2,363.1h0.5M207.3,365.3h0.5M213.7,363.9h0.5M212.8,364.1h0.5M220.4,374.4h0.5M212.8,364.4h0.5M217.8,368.9h0.5M215.4,365.0h0.5M211.5,364.7h0.5M207.7,363.6h0.5M208.0,363.0h0.5M207.2,361.6h0.5M214.3,364.0h0.5M205.6,363.2h0.5M213.7,365.7h0.5M212.5,363.6h0.5M220.8,366.6h0.5M210.5,364.8h0.5M217.8,371.5h0.5M220.3,370.8h0.5M207.9,364.5h0.5M215.6,365.3h0.5M217.3,376.2h0.5M217.9,375.3h0.5M219.0,372.1h0.5M215.1,365.0h0.5M213.3,364.4h0.5M215.8,363.3h0.5M214.1,362.9h0.5M220.9,371.3h0.5" stroke="#6a1515" stroke-width="0.5" opacity="0.5"/>
<ellipse cx="218.80" cy="375.30" rx="1.36" ry="2.57" fill="#c81212" opacity="0.45" filter="url(#b05)"/>
<path d="M200.8,366.8h0.60M204.5,364.2h0.60M200.7,366.6h0.60M204.5,371.3h0.60M201.0,363.9h0.60M205.1,367.7h0.60M200.3,367.1h0.60M202.6,369.7h0.60M205.8,368.4h0.60M203.6,366.8h0.60M204.0,366.5h0.60M201.2,365.2h0.60M203.8,369.5h0.60M204.8,372.2h0.60M201.1,361.1h0.60M202.9,369.4h0.60M198.1,366.3h0.60M206.4,360.3h0.60M200.4,360.0h0.60M201.5,378.2h0.60M199.1,364.5h0.60M202.8,367.7h0.60M206.0,372.2h0.60M201.1,368.4h0.60M202.6,363.4h0.60M204.8,361.3h0.60M201.0,368.4h0.60M200.7,365.7h0.60M202.8,367.8h0.60M198.9,360.4h0.60M205.1,363.9h0.60M202.6,372.3h0.60M203.8,369.7h0.60M202.0,363.4h0.60M204.6,366.7h0.60M200.9,361.0h0.60M201.1,365.7h0.60M202.1,367.5h0.60M199.5,362.7h0.60M205.9,370.2h0.60M205.4,370.5h0.60M206.3,367.5h0.60M204.6,372.5h0.60M206.9,360.3h0.60M204.0,369.7h0.60M200.4,368.1h0.60M205.7,369.1h0.60M206.1,358.2h0.60M202.0,366.8h0.60M202.7,376.9h0.60M202.4,365.7h0.60M207.1,367.0h0.60M205.3,369.5h0.60M205.6,368.6h0.60M206.6,366.5h0.60M199.0,365.1h0.60M205.4,370.2h0.60M201.7,367.8h0.60M205.7,364.8h0.60M205.7,366.2h0.60M206.0,372.7h0.60M205.2,373.4h0.60M201.5,368.2h0.60M200.0,360.8h0.60M206.1,362.0h0.60M197.4,363.6h0.60M201.3,366.0h0.60M204.9,368.4h0.60M205.3,370.3h0.60M203.8,366.1h0.60M205.5,368.8h0.60M204.0,364.4h0.60M205.3,358.6h0.60M200.7,366.5h0.60M203.0,370.2h0.60M206.9,361.0h0.60M204.4,366.9h0.60M207.1,371.9h0.60M207.0,366.6h0.60M202.3,372.7h0.60M205.4,367.6h0.60M199.0,364.6h0.60M206.2,369.1h0.60M202.0,364.3h0.60M204.1,362.5h0.60M201.0,375.3h0.60M201.9,366.6h0.60M202.5,364.6h0.60M202.9,366.7h0.60M205.3,368.2h0.60M204.3,367.1h0.60M205.2,365.1h0.60M206.4,368.4h0.60M205.0,365.0h0.60M202.3,368.5h0.60M204.9,368.5h0.60M198.9,366.7h0.60M206.0,365.7h0.60M203.8,368.4h0.60M204.2,358.3h0.60M203.2,367.8h0.60M198.6,364.0h0.60M205.5,361.2h0.60M200.1,369.0h0.60M203.1,363.9h0.60M203.1,354.8h0.60M208.1,373.4h0.60M202.7,366.5h0.60M204.3,369.2h0.60M203.2,363.1h0.60M204.6,362.6h0.60M204.0,365.6h0.60M202.3,370.7h0.60M202.3,369.7h0.60M205.5,370.5h0.60M200.2,367.5h0.60M204.2,367.3h0.60M204.9,367.5h0.60M204.3,374.3h0.60M204.3,363.5h0.60M206.9,372.1h0.60M198.9,371.6h0.60M201.6,366.9h0.60M202.9,367.5h0.60M204.7,372.4h0.60M202.1,367.7h0.60M205.0,366.1h0.60M199.8,370.7h0.60M202.0,370.6h0.60M200.1,373.4h0.60M201.2,364.6h0.60M204.8,366.7h0.60M202.6,371.4h0.60M207.1,374.0h0.60M204.2,365.5h0.60M204.1,366.2h0.60M202.3,372.5h0.60M197.9,369.3h0.60M203.8,368.5h0.60M205.8,372.0h0.60M203.5,372.8h0.60M205.3,365.9h0.60M205.1,368.6h0.60M203.9,362.6h0.60M201.3,360.8h0.60M201.0,366.8h0.60M203.8,367.3h0.60M203.2,361.7h0.60M205.0,372.9h0.60M201.7,366.9h0.60M204.2,365.1h0.60M205.3,362.9h0.60M206.2,362.6h0.60M205.4,367.9h0.60M201.5,368.9h0.60M204.2,363.4h0.60M205.0,361.6h0.60M203.1,365.5h0.60M198.7,366.2h0.60" stroke="#000" stroke-width="0.60" opacity="0.5" fill="none"/>
<rect x="199.29" y="359.17" width="11.61" height="18.19" rx="3" fill="#333" opacity="0.35" filter="url(#b20)"/>
<rect x="200.79" y="360.67" width="10.11" height="12.69" rx="2" fill="#222" opacity="0.45" filter="url(#b12)"/>
<rect x="199.79" y="360.17" width="7.61" height="14.19" rx="2.92" fill="#000" filter="url(#b08)"/>
<rect x="200.99" y="361.37" width="4.81" height="11.79" rx="1.95" fill="#000" opacity="0.8"/>
<rect x="239.0" y="343.09999999999997" width="40.2" height="39.2" fill="none" stroke="#b0b0b0" stroke-width="0.5"/>
<g stroke="#a8a8a8" stroke-width="0.45"><line x1="252.4" y1="343.09999999999997" x2="252.4" y2="372.99999999999994"/><line x1="239.0" y1="372.99999999999994" x2="279.2" y2="372.99999999999994"/><line x1="259.1" y1="372.99999999999994" x2="259.1" y2="382.29999999999995"/></g>
<text transform="translate(240.2 348.09999999999997) scale(0.1)" font-size="42.00" font-weight="normal" fill="#222" text-anchor="start">93</text>
<text transform="translate(278.0 348.09999999999997) scale(0.1)" font-size="42.00" font-weight="normal" fill="#222" text-anchor="end">5.79</text>
<text transform="translate(278.0 381.29999999999995) scale(0.1)" font-size="42.00" font-weight="normal" fill="#222" text-anchor="end">1.36</text>
<path d="M247.7,374.9h0.56M246.0,378.5h0.56M248.5,375.7h0.56M245.2,372.9h0.56M247.3,377.7h0.56M249.3,375.8h0.56M242.2,379.7h0.56M243.8,374.1h0.56M247.6,378.5h0.56M240.5,373.1h0.56M245.7,378.4h0.56M249.8,377.3h0.56M247.6,375.4h0.56M245.3,376.2h0.56M250.8,376.1h0.56M248.7,372.5h0.56M249.4,373.4h0.56M243.1,376.3h0.56M249.6,370.5h0.56M242.6,376.7h0.56M250.2,376.4h0.56M249.8,379.0h0.56M250.0,377.0h0.56M245.6,377.1h0.56M248.5,376.0h0.56M248.9,375.6h0.56M247.6,371.9h0.56M246.5,373.2h0.56M247.3,373.3h0.56M243.8,376.7h0.56M251.8,374.3h0.56M244.9,377.3h0.56M248.6,376.2h0.56M249.7,375.6h0.56M250.7,376.5h0.56M246.9,376.3h0.56M250.9,378.9h0.56M247.5,380.9h0.56M246.7,371.8h0.56M244.1,371.7h0.56M248.2,374.3h0.56M247.2,373.2h0.56M247.8,373.5h0.56M246.7,377.5h0.56M247.2,377.0h0.56M243.7,370.6h0.56M249.1,375.1h0.56M245.8,370.6h0.56M246.1,374.9h0.56M248.7,371.8h0.56M242.6,374.8h0.56M246.6,376.9h0.56M247.1,375.5h0.56M245.7,372.0h0.56M244.2,380.8h0.56M247.4,374.2h0.56M249.2,375.2h0.56M246.8,377.8h0.56M247.5,371.4h0.56M241.2,373.4h0.56M242.5,375.9h0.56M247.1,373.9h0.56M243.3,376.0h0.56M249.8,374.4h0.56M248.6,375.1h0.56M245.6,377.8h0.56M246.0,374.2h0.56M252.9,376.4h0.56M247.1,376.4h0.56M248.3,376.9h0.56M248.8,377.2h0.56M250.0,374.8h0.56M244.2,371.3h0.56M244.2,379.8h0.56M251.7,371.2h0.56M248.1,374.7h0.56M251.3,373.0h0.56M244.5,379.1h0.56M246.3,377.7h0.56M249.7,374.1h0.56M250.7,372.3h0.56M242.0,374.4h0.56M251.1,372.6h0.56M248.4,379.7h0.56M245.1,373.0h0.56M243.2,374.9h0.56M246.3,379.2h0.56M252.1,378.0h0.56M249.0,375.5h0.56M241.6,376.5h0.56M239.9,374.4h0.56M249.9,373.5h0.56M243.6,375.4h0.56M245.1,375.5h0.56M247.7,379.6h0.56M243.7,378.7h0.56M247.8,371.8h0.56M246.7,372.7h0.56M243.6,372.9h0.56M243.2,376.5h0.56M254.6,377.6h0.56M246.1,373.1h0.56M245.5,374.9h0.56M246.1,370.7h0.56M252.3,374.3h0.56M247.1,377.7h0.56M246.5,373.3h0.56M246.8,370.1h0.56M250.9,372.5h0.56M245.9,372.8h0.56" stroke="#444" stroke-width="0.56" opacity="0.35" fill="none"/>
<rect x="240.96" y="372.28" width="11.93" height="8.52" fill="#666" opacity="0.32" filter="url(#b12)"/>
<path d="M252.50,364.00 C258.70,364.00 262.50,365.50 261.70,377.10" fill="none" stroke="#702020" stroke-width="4.38" stroke-linecap="round" opacity="0.52" filter="url(#b08)"/>
<path d="M252.50,364.00 C258.70,364.00 262.50,365.50 261.70,377.10" fill="none" stroke="#b01818" stroke-width="1.96" stroke-linecap="round" opacity="0.49" filter="url(#b05)"/>
<path d="M263.1,364.1h0.5M260.7,376.3h0.5M260.4,371.3h0.5M256.3,365.1h0.5M257.2,365.0h0.5M261.1,369.2h0.5M255.3,364.4h0.5M255.4,364.9h0.5M255.0,364.4h0.5M261.6,374.8h0.5M258.0,365.5h0.5M257.5,365.7h0.5M257.7,364.2h0.5M260.2,366.6h0.5M263.2,369.6h0.5M256.6,365.1h0.5M254.8,364.8h0.5M257.4,364.0h0.5M260.5,375.8h0.5M257.1,365.0h0.5M252.7,361.8h0.5M255.9,365.5h0.5M257.1,366.0h0.5M261.5,369.7h0.5M253.7,366.0h0.5M260.9,370.0h0.5M261.2,372.2h0.5M261.7,372.1h0.5M257.5,364.4h0.5M262.3,374.9h0.5M254.0,366.1h0.5M253.6,363.3h0.5M261.9,371.1h0.5M263.0,371.0h0.5M256.3,364.6h0.5M253.9,363.7h0.5M261.3,376.4h0.5M255.9,365.0h0.5M254.3,365.6h0.5M252.4,363.3h0.5M257.9,363.6h0.5M262.3,375.6h0.5M263.6,369.3h0.5M257.9,362.9h0.5M253.4,363.4h0.5M263.0,369.5h0.5M260.3,377.3h0.5M253.7,363.2h0.5M261.8,372.6h0.5M254.0,362.5h0.5M255.7,364.8h0.5M255.4,363.7h0.5M263.8,371.9h0.5M258.0,365.3h0.5M253.7,362.3h0.5M262.0,375.0h0.5M260.9,371.2h0.5M257.5,366.2h0.5M252.7,364.1h0.5M255.2,365.9h0.5M252.5,364.3h0.5M258.0,362.5h0.5M256.5,365.8h0.5M253.9,363.4h0.5M256.0,363.4h0.5M253.6,365.1h0.5M256.3,362.6h0.5M257.2,363.8h0.5M255.2,362.9h0.5M262.9,365.6h0.5M254.8,365.9h0.5M258.5,370.4h0.5M252.9,363.6h0.5M257.1,363.6h0.5M263.7,375.3h0.5M263.1,368.2h0.5M263.1,365.5h0.5M253.6,363.3h0.5M256.7,363.1h0.5M261.8,366.8h0.5M256.4,364.4h0.5M249.4,365.5h0.5M262.9,370.4h0.5M260.7,373.8h0.5" stroke="#6a1515" stroke-width="0.5" opacity="0.5"/>
<ellipse cx="261.70" cy="375.30" rx="1.54" ry="2.90" fill="#c81212" opacity="0.70" filter="url(#b05)"/>
<path d="M249.2,365.5h0.60M241.2,369.2h0.60M246.7,370.4h0.60M240.5,359.2h0.60M252.6,368.5h0.60M248.2,370.1h0.60M254.0,365.8h0.60M244.4,370.8h0.60M249.6,363.7h0.60M251.3,364.4h0.60M251.6,367.1h0.60M242.8,366.8h0.60M246.4,366.4h0.60M247.9,368.2h0.60M249.8,368.4h0.60M245.1,371.2h0.60M250.4,368.1h0.60M248.4,367.1h0.60M244.6,362.7h0.60M249.6,370.9h0.60M249.1,364.7h0.60M248.0,367.8h0.60M243.5,367.8h0.60M254.9,364.7h0.60M243.1,365.6h0.60M247.4,365.5h0.60M249.1,365.3h0.60M248.2,367.7h0.60M241.4,363.0h0.60M242.4,362.6h0.60M250.8,364.9h0.60M252.7,370.7h0.60M245.4,363.3h0.60M244.9,370.6h0.60M254.0,364.9h0.60M250.4,370.4h0.60M248.4,368.8h0.60M249.4,368.3h0.60M241.0,370.8h0.60M252.8,365.3h0.60M242.6,367.3h0.60M247.3,368.7h0.60M247.4,367.1h0.60M243.1,370.5h0.60M246.4,370.3h0.60M248.4,362.3h0.60M249.5,368.8h0.60M246.5,367.1h0.60M245.1,366.7h0.60M248.9,365.3h0.60M245.4,369.9h0.60M243.0,365.7h0.60M254.9,369.9h0.60M245.3,364.8h0.60M241.4,369.5h0.60M249.5,373.8h0.60M247.2,369.2h0.60M249.8,364.6h0.60M254.4,370.5h0.60M252.4,364.6h0.60M246.8,365.6h0.60M248.1,368.8h0.60M247.4,362.2h0.60M251.0,368.2h0.60M246.4,369.4h0.60M244.3,366.4h0.60M250.8,370.4h0.60M248.9,365.3h0.60M249.1,367.1h0.60M245.6,371.1h0.60M240.9,366.8h0.60M254.2,358.4h0.60M253.2,369.7h0.60M247.6,359.8h0.60M249.5,365.8h0.60M247.0,369.2h0.60M247.3,364.7h0.60M257.3,372.6h0.60M245.8,370.4h0.60M252.8,368.0h0.60M250.7,370.2h0.60M248.2,370.4h0.60M245.7,371.3h0.60M239.7,371.0h0.60M242.2,365.9h0.60M251.9,372.7h0.60M248.6,378.1h0.60M251.7,368.3h0.60M250.2,368.3h0.60M246.4,367.6h0.60M252.3,367.1h0.60M251.5,368.7h0.60M247.4,367.8h0.60M253.1,369.1h0.60M246.7,364.5h0.60M247.8,365.2h0.60M256.0,367.0h0.60M245.7,364.8h0.60M248.3,364.2h0.60M251.6,360.9h0.60M244.6,363.3h0.60M244.3,371.3h0.60M253.0,360.9h0.60M251.5,371.2h0.60M247.5,369.1h0.60M246.6,364.7h0.60M246.2,365.7h0.60M250.1,371.9h0.60M242.7,367.1h0.60M250.8,372.7h0.60M250.0,362.4h0.60M249.1,365.7h0.60M246.6,365.8h0.60M248.8,368.4h0.60M242.8,365.3h0.60M244.5,375.9h0.60M252.0,363.2h0.60M249.9,366.9h0.60M245.1,368.7h0.60M248.8,363.1h0.60M245.6,366.6h0.60M245.7,370.6h0.60M247.1,366.6h0.60M246.4,372.5h0.60M250.0,365.1h0.60M248.2,370.9h0.60M244.9,367.2h0.60M242.8,367.1h0.60M247.1,364.0h0.60M254.3,366.4h0.60M247.9,372.5h0.60M247.4,361.8h0.60M250.0,365.3h0.60M245.4,368.5h0.60M250.8,370.9h0.60M254.1,369.5h0.60M243.8,371.6h0.60M252.5,366.5h0.60M252.8,361.9h0.60M250.8,363.8h0.60M240.3,365.6h0.60M244.6,365.6h0.60M251.2,363.5h0.60M244.4,362.5h0.60M246.2,363.0h0.60M246.5,368.5h0.60M243.6,370.0h0.60M247.8,366.8h0.60M243.2,374.9h0.60M245.1,359.8h0.60M249.2,370.0h0.60M243.0,364.3h0.60M252.1,366.0h0.60M251.8,363.7h0.60" stroke="#000" stroke-width="0.60" opacity="0.5" fill="none"/>
<rect x="239.96" y="359.81" width="18.04" height="16.47" rx="3" fill="#333" opacity="0.35" filter="url(#b20)"/>
<rect x="241.46" y="361.31" width="16.54" height="10.97" rx="2" fill="#222" opacity="0.45" filter="url(#b12)"/>
<rect x="240.46" y="360.81" width="14.04" height="12.47" rx="4.35" fill="#000" filter="url(#b08)"/>
<rect x="241.66" y="362.01" width="11.24" height="10.07" rx="2.90" fill="#000" opacity="0.8"/>
<rect x="281.2" y="343.09999999999997" width="38.6" height="39.2" fill="none" stroke="#b0b0b0" stroke-width="0.5"/>
<g stroke="#a8a8a8" stroke-width="0.45"><line x1="292.5" y1="343.09999999999997" x2="292.5" y2="372.99999999999994"/><line x1="281.2" y1="372.99999999999994" x2="319.8" y2="372.99999999999994"/><line x1="298.8" y1="372.99999999999994" x2="298.8" y2="382.29999999999995"/></g>
<text transform="translate(282.4 348.09999999999997) scale(0.1)" font-size="42.00" font-weight="normal" fill="#222" text-anchor="start">73.9</text>
<text transform="translate(318.6 348.09999999999997) scale(0.1)" font-size="42.00" font-weight="normal" fill="#222" text-anchor="end">11.2</text>
<text transform="translate(318.6 381.29999999999995) scale(0.1)" font-size="42.00" font-weight="normal" fill="#222" text-anchor="end">8</text>
<path d="M283.2,373.7h0.56M285.4,373.4h0.56M285.2,371.6h0.56M286.3,375.4h0.56M287.1,376.1h0.56M284.6,373.2h0.56M283.7,373.1h0.56M292.6,374.3h0.56M288.7,372.4h0.56M288.3,370.5h0.56M294.1,368.5h0.56M289.8,373.0h0.56M288.0,373.4h0.56M290.6,373.3h0.56M288.8,372.9h0.56M292.5,373.5h0.56M288.1,375.3h0.56M291.5,372.7h0.56M286.4,370.8h0.56M287.3,374.8h0.56M293.7,371.3h0.56M287.8,371.7h0.56M287.8,373.5h0.56M289.7,374.1h0.56M282.0,376.6h0.56M287.1,375.2h0.56M289.3,372.9h0.56M290.6,372.6h0.56M285.0,372.0h0.56M285.6,375.5h0.56M289.7,372.5h0.56M288.8,375.5h0.56M289.9,373.5h0.56M286.1,374.9h0.56M290.1,373.6h0.56M292.9,373.8h0.56M291.2,372.2h0.56M286.4,376.7h0.56M285.6,373.3h0.56M290.0,371.3h0.56M288.4,374.0h0.56M290.6,369.9h0.56M286.8,372.1h0.56M283.1,373.3h0.56M288.5,377.1h0.56M286.6,374.4h0.56M285.2,379.4h0.56M293.6,371.5h0.56M283.7,372.6h0.56M288.4,373.1h0.56M284.7,372.2h0.56M285.3,373.3h0.56M291.0,375.0h0.56M293.0,374.7h0.56M291.6,379.4h0.56M288.7,372.8h0.56M283.4,370.7h0.56M290.1,374.2h0.56M287.4,379.5h0.56M289.8,371.9h0.56M288.6,377.5h0.56M283.7,371.9h0.56M288.5,371.9h0.56M289.4,377.0h0.56M288.2,375.2h0.56M287.2,373.8h0.56M296.5,371.7h0.56M288.5,372.9h0.56M287.2,376.1h0.56M287.8,377.4h0.56M286.3,374.4h0.56M291.8,372.0h0.56M285.2,372.4h0.56M287.8,377.2h0.56M287.0,376.0h0.56M286.4,374.2h0.56M283.7,370.2h0.56M289.2,372.4h0.56M289.8,373.3h0.56M286.6,375.0h0.56M288.5,371.5h0.56M283.9,371.7h0.56M287.6,375.5h0.56M289.0,373.6h0.56M287.0,366.2h0.56M283.5,378.0h0.56M284.7,375.4h0.56M289.8,372.3h0.56M283.9,376.6h0.56M288.7,372.8h0.56M283.4,378.1h0.56M283.7,373.2h0.56M285.1,373.4h0.56M286.3,371.7h0.56M290.6,373.8h0.56M284.9,372.4h0.56M291.7,374.0h0.56M289.6,374.5h0.56M290.6,372.9h0.56M287.9,372.1h0.56M282.4,375.9h0.56M288.9,374.8h0.56M289.1,372.8h0.56M286.2,372.0h0.56M290.3,371.3h0.56M283.5,375.3h0.56M289.7,376.1h0.56M286.0,374.1h0.56M292.1,369.7h0.56M289.4,374.6h0.56" stroke="#444" stroke-width="0.56" opacity="0.35" fill="none"/>
<rect x="282.70" y="370.76" width="9.78" height="10.04" fill="#666" opacity="0.32" filter="url(#b12)"/>
<path d="M291.70,362.80 C301.00,362.80 304.80,364.30 304.00,376.90" fill="none" stroke="#702020" stroke-width="4.17" stroke-linecap="round" opacity="0.41" filter="url(#b08)"/>
<path d="M291.70,362.80 C301.00,362.80 304.80,364.30 304.00,376.90" fill="none" stroke="#b01818" stroke-width="1.84" stroke-linecap="round" opacity="0.39" filter="url(#b05)"/>
<path d="M303.9,368.4h0.5M296.7,363.9h0.5M300.5,364.7h0.5M303.9,370.4h0.5M294.1,362.3h0.5M290.8,363.3h0.5M303.0,368.9h0.5M303.7,374.9h0.5M293.9,363.3h0.5M302.6,366.0h0.5M298.1,362.0h0.5M302.4,372.3h0.5M294.7,362.4h0.5M305.3,364.8h0.5M301.3,366.8h0.5M294.2,361.1h0.5M302.1,370.2h0.5M293.4,362.0h0.5M300.3,364.3h0.5M301.1,363.7h0.5M298.1,363.4h0.5M299.8,363.1h0.5M303.5,378.6h0.5M302.9,376.4h0.5M293.5,361.9h0.5M293.0,361.9h0.5M294.7,362.6h0.5M303.2,367.3h0.5M294.9,364.9h0.5M299.2,361.2h0.5M303.4,365.2h0.5M296.8,362.2h0.5M303.1,365.5h0.5M297.1,362.4h0.5M294.3,361.0h0.5M303.1,371.2h0.5M301.2,367.7h0.5M303.4,372.1h0.5M305.7,371.3h0.5M293.5,364.0h0.5M305.1,371.0h0.5M300.6,362.8h0.5M292.8,362.8h0.5M303.5,366.1h0.5M300.7,365.3h0.5M301.0,370.6h0.5M299.7,364.8h0.5M305.1,378.2h0.5M291.9,362.5h0.5M297.6,363.3h0.5M299.4,362.7h0.5M303.2,365.0h0.5M293.7,362.7h0.5M299.4,363.8h0.5M300.6,364.1h0.5M293.4,365.1h0.5M303.5,369.5h0.5M303.0,375.7h0.5M304.8,377.0h0.5M303.8,365.7h0.5M293.9,365.3h0.5M305.5,361.7h0.5M294.7,363.0h0.5M296.0,365.9h0.5M303.5,368.5h0.5M295.4,364.4h0.5" stroke="#6a1515" stroke-width="0.5" opacity="0.5"/>
<ellipse cx="304.00" cy="375.10" rx="1.68" ry="3.17" fill="#c81212" opacity="0.90" filter="url(#b05)"/>
<path d="M287.9,364.6h0.60M287.3,363.9h0.60M288.8,362.7h0.60M284.2,364.8h0.60M295.4,358.4h0.60M283.9,364.7h0.60M284.8,367.2h0.60M287.3,366.8h0.60M288.2,365.4h0.60M285.0,371.9h0.60M288.0,361.9h0.60M283.2,353.4h0.60M291.7,369.9h0.60M289.4,363.7h0.60M285.7,366.7h0.60M291.9,372.9h0.60M287.0,365.6h0.60M287.9,368.9h0.60M285.5,367.9h0.60M284.2,369.1h0.60M295.3,360.8h0.60M283.8,367.0h0.60M289.7,363.3h0.60M283.5,365.4h0.60M285.1,362.8h0.60M288.2,361.1h0.60M288.9,360.1h0.60M286.7,366.4h0.60M282.3,370.6h0.60M287.1,358.9h0.60M285.5,362.1h0.60M285.6,361.6h0.60M288.6,364.0h0.60M284.9,367.9h0.60M290.3,365.2h0.60M285.4,358.8h0.60M287.0,363.6h0.60M286.8,361.2h0.60M284.9,361.2h0.60M295.2,362.3h0.60M293.5,369.5h0.60M293.5,368.7h0.60M283.8,364.2h0.60M285.0,363.9h0.60M290.8,368.5h0.60M290.2,366.6h0.60M295.9,366.8h0.60M288.7,366.6h0.60M289.3,365.4h0.60M289.4,362.0h0.60M287.9,362.6h0.60M289.6,364.2h0.60M287.7,368.1h0.60M288.6,370.9h0.60M287.0,367.0h0.60M289.6,363.4h0.60M288.7,365.3h0.60M290.7,362.2h0.60M284.8,366.5h0.60M288.0,360.7h0.60M289.5,365.9h0.60M288.2,364.4h0.60M285.6,367.7h0.60M285.8,368.0h0.60M285.6,366.6h0.60M283.3,368.3h0.60M285.2,366.3h0.60M288.6,366.0h0.60M286.0,360.5h0.60M284.3,360.9h0.60M285.9,367.0h0.60M288.2,363.7h0.60M285.0,367.1h0.60M288.4,366.9h0.60M291.0,364.3h0.60M288.4,365.1h0.60M288.7,366.0h0.60M291.0,370.2h0.60M284.7,364.2h0.60M285.1,365.5h0.60M283.5,366.7h0.60M287.9,368.1h0.60M292.3,366.6h0.60M282.7,367.4h0.60M284.2,366.8h0.60M284.7,361.9h0.60M289.5,363.8h0.60M286.1,365.5h0.60M289.4,363.3h0.60M288.4,364.6h0.60M292.3,371.0h0.60M286.4,362.8h0.60M282.8,371.6h0.60M293.4,367.9h0.60M285.0,364.4h0.60M288.8,372.0h0.60M289.1,369.4h0.60M290.3,364.8h0.60M288.1,364.2h0.60M286.6,362.6h0.60M287.2,368.8h0.60M293.7,367.8h0.60M284.9,365.3h0.60M286.8,364.1h0.60M289.0,359.4h0.60M286.6,363.9h0.60M293.4,368.5h0.60M287.4,363.2h0.60M283.1,365.1h0.60M289.9,369.7h0.60M283.4,365.2h0.60M289.4,367.2h0.60M282.6,367.2h0.60M287.6,365.8h0.60M286.6,368.8h0.60M291.0,368.2h0.60M283.9,366.9h0.60M286.4,367.7h0.60M291.2,364.5h0.60M283.2,366.0h0.60M288.8,361.9h0.60M287.6,364.1h0.60M291.0,363.0h0.60M285.6,362.4h0.60M288.6,367.8h0.60M288.1,368.4h0.60M285.9,362.1h0.60M284.8,365.8h0.60M294.6,367.3h0.60M288.8,366.4h0.60M290.2,364.4h0.60M292.7,366.2h0.60M291.3,362.2h0.60M287.1,364.2h0.60M289.4,360.3h0.60M286.5,368.1h0.60M291.1,365.2h0.60M289.9,368.2h0.60M291.2,366.3h0.60M284.4,367.4h0.60M285.3,363.8h0.60M284.7,364.2h0.60M286.5,363.5h0.60M287.6,366.1h0.60M290.1,364.5h0.60M290.7,368.5h0.60M284.1,365.0h0.60M285.1,362.9h0.60M282.5,369.6h0.60M289.3,364.1h0.60" stroke="#000" stroke-width="0.60" opacity="0.5" fill="none"/>
<rect x="281.70" y="358.72" width="15.50" height="16.04" rx="3" fill="#333" opacity="0.35" filter="url(#b20)"/>
<rect x="283.20" y="360.22" width="14.00" height="10.54" rx="2" fill="#222" opacity="0.45" filter="url(#b12)"/>
<rect x="282.20" y="359.72" width="11.50" height="12.04" rx="4.20" fill="#000" filter="url(#b08)"/>
<rect x="283.40" y="360.92" width="8.70" height="9.64" rx="2.80" fill="#000" opacity="0.8"/>
<rect x="196.3" y="382.75" width="39.8" height="39.2" fill="none" stroke="#b0b0b0" stroke-width="0.5"/>
<g stroke="#a8a8a8" stroke-width="0.45"><line x1="210.5" y1="382.75" x2="210.5" y2="412.65"/><line x1="196.3" y1="412.65" x2="236.10000000000002" y2="412.65"/><line x1="216.8" y1="412.65" x2="216.8" y2="421.95"/></g>
<text transform="translate(197.5 387.75) scale(0.1)" font-size="42.00" font-weight="normal" fill="#222" text-anchor="start">79</text>
<text transform="translate(234.90000000000003 387.75) scale(0.1)" font-size="42.00" font-weight="normal" fill="#222" text-anchor="end">8.08</text>
<text transform="translate(234.90000000000003 420.95) scale(0.1)" font-size="42.00" font-weight="normal" fill="#222" text-anchor="end">5.01</text>
<path d="M204.1,407.8h0.56M204.2,413.7h0.56M206.6,412.6h0.56M200.9,411.1h0.56M202.9,412.1h0.56M201.7,411.2h0.56M201.1,411.6h0.56M205.5,412.8h0.56M203.5,414.0h0.56M208.1,415.4h0.56M202.9,414.3h0.56M206.6,414.3h0.56M211.0,412.3h0.56M203.3,414.1h0.56M202.7,411.5h0.56M202.4,414.4h0.56M203.9,412.7h0.56M205.8,410.7h0.56M209.4,412.5h0.56M200.9,411.9h0.56M203.9,413.5h0.56M203.3,408.2h0.56M199.2,414.9h0.56M208.6,418.0h0.56M205.8,411.3h0.56M208.1,411.8h0.56M210.9,410.8h0.56M202.7,414.1h0.56M203.2,414.1h0.56M204.9,412.5h0.56M202.4,407.5h0.56M205.1,413.7h0.56M201.9,412.7h0.56M208.3,410.8h0.56M202.6,409.6h0.56M205.0,409.5h0.56M202.5,410.8h0.56M204.3,415.0h0.56M202.9,409.1h0.56M207.0,412.5h0.56M203.0,410.9h0.56M205.2,414.8h0.56M200.3,414.6h0.56M202.3,412.9h0.56M198.2,417.6h0.56M202.6,410.8h0.56M197.0,413.0h0.56M205.9,413.4h0.56M201.3,411.5h0.56M201.3,418.8h0.56M202.1,413.6h0.56M201.5,414.7h0.56M204.4,413.1h0.56M205.0,413.8h0.56M203.7,415.0h0.56M206.7,411.9h0.56M203.3,416.0h0.56M199.8,416.4h0.56M206.4,415.8h0.56M200.8,414.6h0.56M204.4,410.3h0.56M197.0,414.7h0.56M206.1,410.7h0.56M198.7,414.6h0.56M209.3,410.9h0.56M201.7,410.3h0.56M204.6,409.9h0.56M211.2,414.1h0.56M205.1,408.9h0.56M206.5,415.4h0.56M206.9,412.0h0.56M201.8,410.1h0.56M204.5,405.7h0.56M207.0,413.5h0.56M207.3,416.0h0.56M203.1,415.9h0.56M204.3,417.1h0.56M207.2,410.4h0.56M205.8,414.2h0.56M204.7,410.2h0.56M208.0,414.7h0.56M208.2,413.4h0.56M202.2,410.8h0.56M205.3,414.3h0.56M203.4,413.2h0.56M202.8,414.7h0.56M206.6,414.0h0.56M202.7,413.6h0.56M205.4,411.9h0.56M207.4,412.4h0.56M204.1,411.6h0.56M208.5,417.7h0.56M205.5,413.3h0.56M200.5,409.5h0.56M202.3,412.7h0.56M203.5,410.4h0.56M204.4,413.6h0.56M206.9,411.3h0.56M200.4,412.8h0.56M199.4,408.9h0.56M203.8,412.7h0.56M203.0,414.0h0.56M205.0,412.2h0.56M202.5,415.0h0.56M205.6,416.3h0.56M206.0,414.2h0.56M205.1,410.7h0.56M204.5,413.6h0.56M206.4,413.6h0.56M206.1,414.3h0.56" stroke="#444" stroke-width="0.56" opacity="0.35" fill="none"/>
<rect x="198.72" y="409.81" width="10.61" height="10.64" fill="#666" opacity="0.32" filter="url(#b12)"/>
<path d="M208.70,401.85 C215.80,401.85 219.60,403.35 218.80,414.75" fill="none" stroke="#702020" stroke-width="4.10" stroke-linecap="round" opacity="0.38" filter="url(#b08)"/>
<path d="M208.70,401.85 C215.80,401.85 219.60,403.35 218.80,414.75" fill="none" stroke="#b01818" stroke-width="1.80" stroke-linecap="round" opacity="0.35" filter="url(#b05)"/>
<path d="M219.8,412.8h0.5M213.4,400.7h0.5M209.6,399.9h0.5M215.9,403.5h0.5M211.5,403.5h0.5M209.2,402.7h0.5M211.4,403.8h0.5M213.5,400.4h0.5M211.9,402.9h0.5M214.2,403.1h0.5M217.4,408.7h0.5M211.4,401.2h0.5M220.3,409.9h0.5M211.6,402.1h0.5M210.8,404.1h0.5M213.5,402.4h0.5M215.3,402.2h0.5M206.9,402.5h0.5M217.6,409.1h0.5M220.1,407.7h0.5M218.3,412.6h0.5M219.5,409.8h0.5M213.5,403.9h0.5M215.2,403.1h0.5M214.1,403.4h0.5M214.3,401.9h0.5M209.1,401.8h0.5M210.4,402.5h0.5M212.8,403.9h0.5M212.4,402.5h0.5M217.7,405.6h0.5M214.8,403.8h0.5M212.5,402.5h0.5M215.4,401.9h0.5M212.6,400.4h0.5M219.5,404.9h0.5M212.4,401.4h0.5M219.0,410.4h0.5M210.4,401.3h0.5M217.1,408.7h0.5M210.6,401.2h0.5M209.3,402.4h0.5M211.8,402.7h0.5M214.1,404.1h0.5M217.2,404.9h0.5M219.0,405.2h0.5M218.8,408.8h0.5M208.4,401.4h0.5M209.2,401.6h0.5M209.1,402.6h0.5M212.2,401.6h0.5M212.2,403.1h0.5M219.4,406.8h0.5M209.7,401.5h0.5M212.3,400.3h0.5M212.6,402.3h0.5M218.0,407.9h0.5M208.7,401.5h0.5M216.8,413.6h0.5M219.4,401.9h0.5" stroke="#6a1515" stroke-width="0.5" opacity="0.5"/>
<ellipse cx="218.80" cy="412.95" rx="1.61" ry="3.04" fill="#c81212" opacity="0.80" filter="url(#b05)"/>
<path d="M205.1,398.9h0.60M205.2,403.7h0.60M204.1,400.9h0.60M206.8,401.9h0.60M199.3,407.9h0.60M206.0,410.0h0.60M201.6,401.9h0.60M205.1,409.9h0.60M208.9,406.5h0.60M206.8,403.1h0.60M202.8,405.2h0.60M202.7,403.9h0.60M203.2,403.1h0.60M200.3,402.9h0.60M199.2,407.2h0.60M202.5,401.2h0.60M206.1,403.2h0.60M211.7,399.7h0.60M209.7,406.2h0.60M205.8,403.5h0.60M197.8,403.2h0.60M204.5,401.0h0.60M208.2,401.1h0.60M200.7,403.3h0.60M205.4,402.0h0.60M203.8,409.9h0.60M206.6,405.6h0.60M200.8,408.5h0.60M204.3,408.3h0.60M203.0,401.4h0.60M208.6,401.5h0.60M204.2,407.4h0.60M206.0,399.6h0.60M205.5,410.5h0.60M207.9,401.6h0.60M210.7,405.7h0.60M199.7,410.1h0.60M201.6,407.9h0.60M207.9,406.9h0.60M204.5,407.7h0.60M200.3,404.8h0.60M197.2,407.0h0.60M200.1,409.9h0.60M200.1,401.7h0.60M202.5,408.7h0.60M206.3,406.1h0.60M209.6,400.3h0.60M207.6,405.2h0.60M197.9,401.8h0.60M207.8,400.9h0.60M205.1,403.4h0.60M200.7,401.7h0.60M198.9,403.3h0.60M214.4,400.7h0.60M202.0,404.5h0.60M205.2,404.5h0.60M199.3,401.4h0.60M201.4,402.3h0.60M202.6,405.9h0.60M204.2,407.2h0.60M201.9,408.7h0.60M202.8,404.8h0.60M204.2,407.7h0.60M196.9,402.3h0.60M202.1,406.8h0.60M205.9,405.3h0.60M210.3,406.3h0.60M209.0,405.0h0.60M206.8,401.4h0.60M208.3,401.7h0.60M207.8,406.6h0.60M200.3,404.8h0.60M204.1,403.5h0.60M201.4,407.9h0.60M200.6,404.9h0.60M204.3,400.2h0.60M206.2,404.4h0.60M202.5,403.3h0.60M201.5,402.6h0.60M199.2,407.5h0.60M207.3,403.3h0.60M199.2,398.5h0.60M199.5,410.9h0.60M200.5,402.8h0.60M202.6,398.3h0.60M202.0,403.9h0.60M205.9,404.4h0.60M206.1,403.7h0.60M200.1,405.9h0.60M205.0,404.6h0.60M198.7,409.4h0.60M206.0,407.3h0.60M204.0,399.5h0.60M199.9,408.1h0.60M213.3,397.0h0.60M209.2,406.2h0.60M204.7,404.8h0.60M207.5,406.4h0.60M208.2,403.4h0.60M204.8,404.0h0.60M200.5,403.7h0.60M201.7,406.5h0.60M204.3,410.9h0.60M205.1,402.8h0.60M209.0,404.8h0.60M202.4,403.4h0.60M208.2,402.7h0.60M203.6,407.2h0.60M211.5,410.4h0.60M204.7,408.5h0.60M205.0,402.4h0.60M203.0,404.7h0.60M206.1,403.8h0.60M203.5,405.8h0.60M205.1,411.2h0.60M207.3,406.2h0.60M210.6,403.7h0.60M210.5,408.3h0.60M211.5,408.6h0.60M203.0,410.1h0.60M206.4,406.5h0.60M202.9,405.9h0.60M207.3,404.3h0.60M201.9,406.8h0.60M208.2,407.7h0.60M200.8,408.4h0.60M205.2,405.8h0.60M208.8,407.7h0.60M208.2,405.9h0.60M201.0,403.9h0.60M207.7,400.5h0.60M202.6,402.5h0.60M200.9,404.3h0.60M204.0,401.2h0.60M205.6,401.6h0.60M208.7,405.9h0.60M200.7,405.5h0.60M198.9,405.1h0.60M198.0,405.9h0.60M208.7,399.7h0.60M202.8,406.8h0.60M206.0,402.8h0.60M208.0,406.3h0.60M199.6,409.1h0.60M199.1,402.7h0.60M204.4,399.1h0.60M203.9,405.9h0.60M208.2,400.3h0.60M205.2,405.9h0.60M201.5,399.5h0.60M201.6,404.8h0.60M203.1,406.2h0.60M201.7,403.2h0.60M202.3,402.4h0.60M197.1,402.1h0.60M202.5,402.7h0.60M198.4,402.2h0.60M204.7,408.0h0.60" stroke="#000" stroke-width="0.60" opacity="0.5" fill="none"/>
<rect x="197.72" y="397.77" width="16.48" height="16.04" rx="3" fill="#333" opacity="0.35" filter="url(#b20)"/>
<rect x="199.22" y="399.27" width="14.98" height="10.54" rx="2" fill="#222" opacity="0.45" filter="url(#b12)"/>
<rect x="198.22" y="398.77" width="12.48" height="12.04" rx="4.20" fill="#000" filter="url(#b08)"/>
<rect x="199.42" y="399.97" width="9.68" height="9.64" rx="2.80" fill="#000" opacity="0.8"/>
<rect x="239.0" y="382.75" width="40.2" height="39.2" fill="none" stroke="#b0b0b0" stroke-width="0.5"/>
<g stroke="#a8a8a8" stroke-width="0.45"><line x1="252.4" y1="382.75" x2="252.4" y2="412.65"/><line x1="239.0" y1="412.65" x2="279.2" y2="412.65"/><line x1="259.1" y1="412.65" x2="259.1" y2="421.95"/></g>
<text transform="translate(240.2 387.75) scale(0.1)" font-size="42.00" font-weight="normal" fill="#222" text-anchor="start">91.9</text>
<text transform="translate(278.0 387.75) scale(0.1)" font-size="42.00" font-weight="normal" fill="#222" text-anchor="end">4.84</text>
<text transform="translate(278.0 420.95) scale(0.1)" font-size="42.00" font-weight="normal" fill="#222" text-anchor="end">3.53</text>
<path d="M245.0,413.3h0.56M245.0,414.4h0.56M245.5,417.4h0.56M248.6,416.0h0.56M246.9,414.1h0.56M251.6,414.6h0.56M252.0,415.4h0.56M247.9,413.1h0.56M246.3,406.4h0.56M250.3,414.2h0.56M245.4,414.5h0.56M241.8,413.4h0.56M244.0,416.1h0.56M250.9,413.4h0.56M251.6,415.0h0.56M248.9,413.4h0.56M247.6,412.9h0.56M248.9,411.4h0.56M246.8,416.7h0.56M248.1,407.9h0.56M244.8,414.4h0.56M250.0,413.9h0.56M249.5,416.9h0.56M243.8,413.7h0.56M249.6,413.2h0.56M248.8,417.3h0.56M245.8,414.8h0.56M245.3,417.4h0.56M251.2,408.5h0.56M247.8,409.8h0.56M242.7,414.0h0.56M255.9,412.3h0.56M246.0,415.4h0.56M247.7,414.9h0.56M250.5,414.6h0.56M243.9,413.2h0.56M246.3,412.0h0.56M245.7,413.2h0.56M248.3,411.5h0.56M248.6,413.2h0.56M245.4,412.7h0.56M249.9,413.8h0.56M245.5,412.2h0.56M247.6,411.9h0.56M245.9,415.7h0.56M250.2,410.6h0.56M247.8,417.3h0.56M249.6,412.4h0.56M247.6,413.3h0.56M245.2,416.6h0.56M249.0,414.7h0.56M249.7,416.6h0.56M247.8,414.7h0.56M248.2,409.9h0.56M246.5,413.9h0.56M240.6,416.0h0.56M247.6,414.4h0.56M246.6,416.3h0.56M249.1,413.3h0.56M242.9,416.6h0.56M251.0,415.8h0.56M249.6,413.8h0.56M246.8,415.1h0.56M246.7,409.2h0.56M242.8,416.9h0.56M243.8,411.4h0.56M249.3,416.9h0.56M246.0,413.6h0.56M243.9,411.5h0.56M243.2,412.9h0.56M248.1,411.7h0.56M242.8,414.5h0.56M247.9,413.9h0.56M249.4,414.1h0.56M250.1,413.1h0.56M245.9,412.2h0.56M247.6,414.7h0.56M245.5,415.2h0.56M249.0,414.5h0.56M244.1,415.1h0.56M243.7,411.6h0.56M247.0,415.1h0.56M247.4,414.1h0.56M248.6,416.4h0.56M245.6,415.2h0.56M247.8,414.2h0.56M251.4,411.2h0.56M248.5,417.2h0.56M253.3,415.2h0.56M247.1,413.0h0.56M242.9,414.6h0.56M250.5,414.3h0.56M245.8,414.2h0.56M247.6,414.6h0.56M251.5,415.9h0.56M251.3,413.7h0.56M249.6,411.1h0.56M245.6,414.3h0.56M245.2,413.3h0.56M246.3,413.4h0.56M249.4,410.1h0.56M253.3,412.1h0.56M248.3,416.8h0.56M244.4,417.8h0.56M245.1,415.8h0.56M247.8,414.8h0.56M256.3,410.4h0.56M250.7,418.6h0.56M247.0,413.0h0.56" stroke="#444" stroke-width="0.56" opacity="0.35" fill="none"/>
<rect x="240.67" y="410.59" width="12.27" height="9.86" fill="#666" opacity="0.32" filter="url(#b12)"/>
<path d="M252.60,402.95 C258.70,402.95 262.50,404.45 261.70,416.95" fill="none" stroke="#702020" stroke-width="4.38" stroke-linecap="round" opacity="0.52" filter="url(#b08)"/>
<path d="M252.60,402.95 C258.70,402.95 262.50,404.45 261.70,416.95" fill="none" stroke="#b01818" stroke-width="1.96" stroke-linecap="round" opacity="0.49" filter="url(#b05)"/>
<path d="M263.3,408.5h0.5M254.4,401.9h0.5M262.7,405.0h0.5M257.1,405.7h0.5M256.9,401.9h0.5M257.4,403.2h0.5M252.4,401.3h0.5M255.6,404.8h0.5M257.4,402.3h0.5M261.6,412.7h0.5M254.6,404.4h0.5M254.5,403.5h0.5M261.7,413.3h0.5M261.4,405.7h0.5M262.0,411.8h0.5M257.7,402.3h0.5M259.6,416.2h0.5M258.6,402.1h0.5M262.4,407.1h0.5M254.8,403.1h0.5M256.3,402.5h0.5M252.5,400.5h0.5M261.8,409.9h0.5M253.0,402.0h0.5M262.3,414.9h0.5M253.4,402.4h0.5M261.8,412.9h0.5M252.0,402.5h0.5M260.1,404.7h0.5M262.5,416.5h0.5M253.8,401.8h0.5M262.1,406.8h0.5M260.9,410.0h0.5M261.8,406.2h0.5M262.5,407.7h0.5M261.1,416.0h0.5M261.6,408.4h0.5M253.9,404.1h0.5M261.6,409.6h0.5M254.2,402.3h0.5M261.8,409.3h0.5M254.3,404.4h0.5M252.6,403.6h0.5M260.4,405.7h0.5M256.5,404.4h0.5M255.4,402.7h0.5M256.3,403.5h0.5M258.6,411.1h0.5M252.8,403.5h0.5M257.6,402.0h0.5M260.5,415.6h0.5M261.8,406.4h0.5M260.7,414.5h0.5M252.5,403.6h0.5M250.5,405.0h0.5M255.2,401.7h0.5M252.8,404.2h0.5M257.9,403.0h0.5M261.3,404.7h0.5M262.8,411.1h0.5M261.8,406.6h0.5M262.8,411.1h0.5M262.0,405.8h0.5M261.1,412.0h0.5M261.1,410.2h0.5M255.9,403.9h0.5M252.4,402.7h0.5M257.2,403.1h0.5M256.0,403.5h0.5M250.9,401.6h0.5M255.2,402.8h0.5M252.7,404.2h0.5M254.5,403.2h0.5M261.5,403.0h0.5M260.6,413.8h0.5M258.9,404.0h0.5M254.8,402.1h0.5M261.8,405.5h0.5M254.6,402.1h0.5M254.6,403.0h0.5M261.6,411.5h0.5M260.6,419.0h0.5M258.1,402.5h0.5M254.0,404.2h0.5" stroke="#6a1515" stroke-width="0.5" opacity="0.5"/>
<ellipse cx="261.70" cy="415.15" rx="1.61" ry="3.04" fill="#c81212" opacity="0.80" filter="url(#b05)"/>
<path d="M250.6,408.3h0.60M242.9,408.1h0.60M250.0,405.0h0.60M244.2,405.5h0.60M249.9,409.6h0.60M241.1,405.4h0.60M244.1,403.8h0.60M239.5,404.2h0.60M251.0,404.4h0.60M254.0,405.2h0.60M247.8,405.4h0.60M241.6,404.5h0.60M258.2,406.8h0.60M247.4,407.3h0.60M254.0,406.8h0.60M249.8,409.4h0.60M242.6,399.4h0.60M243.6,407.3h0.60M248.6,399.3h0.60M243.8,408.3h0.60M246.8,407.0h0.60M246.4,405.6h0.60M240.8,402.7h0.60M243.5,406.5h0.60M247.0,409.1h0.60M239.6,409.2h0.60M241.8,405.7h0.60M239.8,404.1h0.60M239.7,400.0h0.60M240.9,405.6h0.60M243.3,409.7h0.60M244.2,409.4h0.60M243.6,407.6h0.60M248.4,403.9h0.60M248.4,407.6h0.60M252.4,405.0h0.60M249.3,406.9h0.60M242.9,405.9h0.60M240.5,411.8h0.60M254.8,406.5h0.60M249.4,403.3h0.60M241.4,404.6h0.60M249.5,409.1h0.60M240.3,401.2h0.60M251.1,402.5h0.60M247.4,403.3h0.60M250.8,409.0h0.60M242.4,406.4h0.60M248.4,407.1h0.60M253.1,402.1h0.60M244.6,409.8h0.60M251.6,401.7h0.60M245.9,399.6h0.60M250.3,406.8h0.60M247.2,407.7h0.60M246.1,396.3h0.60M242.6,404.0h0.60M245.5,408.3h0.60M245.1,400.7h0.60M245.3,401.9h0.60M248.0,407.0h0.60M257.1,406.1h0.60M248.4,407.9h0.60M244.1,407.8h0.60M246.8,406.3h0.60M248.2,398.8h0.60M244.2,406.4h0.60M254.7,401.6h0.60M244.1,407.3h0.60M243.7,402.1h0.60M240.5,400.7h0.60M242.9,407.3h0.60M244.7,402.3h0.60M248.1,402.3h0.60M242.4,406.6h0.60M249.8,402.2h0.60M248.4,410.2h0.60M243.2,412.4h0.60M246.8,409.5h0.60M242.4,405.5h0.60M244.4,401.7h0.60M248.4,407.2h0.60M244.1,398.0h0.60M246.8,409.0h0.60M249.4,405.0h0.60M243.7,404.9h0.60M247.6,410.3h0.60M249.1,402.4h0.60M251.0,400.4h0.60M248.1,405.3h0.60M244.0,410.5h0.60M249.3,404.0h0.60M250.7,408.1h0.60M245.4,402.0h0.60M251.0,399.9h0.60M241.7,412.8h0.60M245.8,411.4h0.60M248.4,410.1h0.60M241.5,409.7h0.60M240.8,402.9h0.60M250.4,407.6h0.60M243.2,410.7h0.60M244.0,408.9h0.60M251.8,403.0h0.60M239.7,405.9h0.60M241.8,405.1h0.60M246.0,405.3h0.60M249.3,405.8h0.60M252.2,403.1h0.60M245.7,402.1h0.60M244.9,401.3h0.60M243.5,409.3h0.60M252.0,406.1h0.60M243.3,405.9h0.60M250.9,408.3h0.60M253.1,406.9h0.60M249.7,402.4h0.60M246.0,404.5h0.60M247.6,409.3h0.60M245.6,406.3h0.60M246.5,404.8h0.60M249.7,407.3h0.60M247.5,404.2h0.60M245.9,402.4h0.60M243.7,404.1h0.60M247.9,401.3h0.60M245.2,412.1h0.60M255.1,403.0h0.60M244.6,411.6h0.60M248.0,402.6h0.60M241.6,402.0h0.60M246.8,409.0h0.60M256.9,402.0h0.60M249.6,404.2h0.60M253.3,399.5h0.60M247.3,407.0h0.60M240.4,407.6h0.60M243.0,402.0h0.60M256.1,401.3h0.60M247.3,406.7h0.60M242.9,404.0h0.60M263.2,406.8h0.60M252.2,407.2h0.60M248.4,404.9h0.60M248.3,404.0h0.60M254.7,400.4h0.60M245.6,407.3h0.60M248.0,406.4h0.60M244.2,404.4h0.60M244.6,409.3h0.60M249.2,400.2h0.60M248.0,406.9h0.60M239.9,410.4h0.60" stroke="#000" stroke-width="0.60" opacity="0.5" fill="none"/>
<rect x="239.67" y="398.98" width="18.43" height="15.61" rx="3" fill="#333" opacity="0.35" filter="url(#b20)"/>
<rect x="241.17" y="400.48" width="16.93" height="10.11" rx="2" fill="#222" opacity="0.45" filter="url(#b12)"/>
<rect x="240.17" y="399.98" width="14.43" height="11.61" rx="4.05" fill="#000" filter="url(#b08)"/>
<rect x="241.37" y="401.18" width="11.63" height="9.21" rx="2.70" fill="#000" opacity="0.8"/>
<rect x="281.2" y="382.75" width="38.6" height="39.2" fill="none" stroke="#b0b0b0" stroke-width="0.5"/>
<g stroke="#a8a8a8" stroke-width="0.45"><line x1="292.5" y1="382.75" x2="292.5" y2="412.65"/><line x1="281.2" y1="412.65" x2="319.8" y2="412.65"/><line x1="298.8" y1="412.65" x2="298.8" y2="421.95"/></g>
<text transform="translate(282.4 387.75) scale(0.1)" font-size="42.00" font-weight="normal" fill="#222" text-anchor="start">98</text>
<text transform="translate(318.6 387.75) scale(0.1)" font-size="42.00" font-weight="normal" fill="#222" text-anchor="end">1.32</text>
<text transform="translate(318.6 420.95) scale(0.1)" font-size="42.00" font-weight="normal" fill="#222" text-anchor="end">2.04</text>
<path d="M292.4,411.5h0.56M284.0,416.9h0.56M284.5,413.3h0.56M284.9,412.7h0.56M287.8,416.5h0.56M285.7,413.6h0.56M286.9,410.0h0.56M284.5,412.6h0.56M289.1,414.4h0.56M288.8,416.7h0.56M287.2,412.0h0.56M290.4,414.1h0.56M284.4,410.7h0.56M286.9,411.6h0.56M284.2,414.3h0.56M285.8,410.7h0.56M282.5,412.2h0.56M283.5,416.2h0.56M284.5,415.6h0.56M284.8,410.4h0.56M285.3,417.5h0.56M285.2,414.3h0.56M286.7,412.9h0.56M286.7,415.5h0.56M288.7,412.2h0.56M289.6,412.8h0.56M281.7,414.2h0.56M284.6,413.9h0.56M287.7,416.2h0.56M286.0,415.3h0.56M288.0,417.1h0.56M290.2,415.8h0.56M283.1,409.6h0.56M284.6,412.5h0.56M286.3,411.5h0.56M288.7,413.9h0.56M287.3,418.1h0.56M292.3,412.2h0.56M283.3,414.9h0.56M284.5,419.3h0.56M282.3,416.9h0.56M283.5,414.3h0.56M285.7,411.1h0.56M287.2,414.4h0.56M285.7,412.7h0.56M285.5,412.4h0.56M284.4,416.1h0.56M285.4,416.1h0.56M285.3,413.0h0.56M289.4,411.4h0.56M290.1,413.4h0.56M286.3,414.9h0.56M284.0,415.5h0.56M286.1,414.2h0.56M286.4,413.8h0.56M283.2,415.3h0.56M287.4,413.0h0.56M287.6,411.9h0.56M286.7,412.6h0.56M284.3,411.9h0.56M288.8,414.9h0.56M292.4,411.3h0.56M285.4,413.0h0.56M288.7,414.5h0.56M283.6,415.6h0.56M283.3,410.7h0.56M285.4,413.7h0.56M288.8,414.3h0.56M283.4,411.9h0.56M283.2,409.7h0.56M289.8,411.3h0.56M286.2,414.2h0.56M285.6,415.6h0.56M288.0,414.5h0.56M287.0,417.6h0.56M282.1,411.8h0.56M283.7,414.1h0.56M284.1,417.9h0.56M284.2,417.8h0.56M285.5,412.1h0.56M282.8,412.2h0.56M286.2,414.6h0.56M287.9,415.4h0.56M288.8,413.1h0.56M287.8,415.2h0.56M282.5,415.2h0.56M289.8,418.2h0.56M289.2,413.8h0.56M282.4,415.8h0.56M288.6,413.3h0.56M284.4,413.1h0.56M287.1,414.6h0.56M287.1,413.3h0.56M290.2,417.7h0.56M285.1,413.5h0.56M291.2,411.8h0.56M291.9,415.4h0.56M285.8,415.6h0.56M285.1,404.2h0.56M290.0,412.6h0.56" stroke="#444" stroke-width="0.56" opacity="0.35" fill="none"/>
<rect x="282.70" y="410.59" width="7.91" height="9.86" fill="#666" opacity="0.32" filter="url(#b12)"/>
<path d="M289.50,402.95 C299.70,402.95 303.50,404.45 302.70,415.65" fill="none" stroke="#702020" stroke-width="3.68" stroke-linecap="round" opacity="0.15" filter="url(#b08)"/>
<path d="M289.50,402.95 C299.70,402.95 303.50,404.45 302.70,415.65" fill="none" stroke="#b01818" stroke-width="1.56" stroke-linecap="round" opacity="0.14" filter="url(#b05)"/>
<path d="M294.4,403.1h0.5M305.3,414.0h0.5M304.4,404.4h0.5M292.1,402.7h0.5M295.7,401.1h0.5M303.4,407.8h0.5M295.0,401.9h0.5M302.2,404.7h0.5M292.7,403.8h0.5M301.3,412.6h0.5M305.0,404.5h0.5M304.1,410.0h0.5M304.5,405.6h0.5M290.8,401.9h0.5M289.7,402.9h0.5M302.0,412.7h0.5M300.8,414.1h0.5M298.1,403.2h0.5M301.0,406.1h0.5M289.7,403.1h0.5M302.9,411.1h0.5M295.1,403.2h0.5M288.8,404.4h0.5M303.0,406.7h0.5" stroke="#6a1515" stroke-width="0.5" opacity="0.5"/>
<ellipse cx="302.70" cy="413.85" rx="1.33" ry="2.51" fill="#c81212" opacity="0.40" filter="url(#b05)"/>
<path d="M283.3,396.7h0.60M293.1,403.1h0.60M287.0,402.1h0.60M285.8,405.3h0.60M283.5,408.6h0.60M285.1,406.4h0.60M282.3,406.3h0.60M285.1,407.5h0.60M287.1,402.4h0.60M290.6,409.4h0.60M289.6,407.4h0.60M282.1,410.8h0.60M286.4,402.7h0.60M285.1,403.9h0.60M284.9,397.8h0.60M289.7,405.8h0.60M290.5,407.3h0.60M286.2,404.0h0.60M287.8,406.9h0.60M282.9,407.4h0.60M288.5,408.5h0.60M282.8,404.0h0.60M286.6,401.7h0.60M284.5,404.4h0.60M289.5,402.8h0.60M283.0,406.7h0.60M287.7,403.2h0.60M288.7,409.9h0.60M285.9,407.1h0.60M292.5,405.0h0.60M284.9,404.1h0.60M291.6,406.7h0.60M286.3,402.8h0.60M284.8,411.3h0.60M285.4,404.7h0.60M283.1,404.4h0.60M287.3,406.6h0.60M283.2,409.1h0.60M291.1,405.9h0.60M286.9,404.5h0.60M284.1,411.4h0.60M288.1,408.8h0.60M285.8,408.8h0.60M289.6,404.9h0.60M289.6,409.1h0.60M286.2,404.8h0.60M286.3,404.9h0.60M291.5,405.8h0.60M286.7,405.4h0.60M285.7,405.0h0.60M292.5,408.8h0.60M288.4,412.6h0.60M287.6,405.8h0.60M289.6,401.3h0.60M286.1,403.4h0.60M284.3,407.7h0.60M285.4,407.7h0.60M285.6,405.2h0.60M287.0,409.8h0.60M283.8,402.4h0.60M281.8,407.5h0.60M292.4,400.8h0.60M283.2,401.3h0.60M286.0,409.5h0.60M283.0,402.8h0.60M288.1,405.5h0.60M288.4,404.8h0.60M285.9,405.7h0.60M287.6,407.8h0.60M286.6,404.5h0.60M288.8,407.8h0.60M285.0,406.9h0.60M289.6,404.2h0.60M283.1,400.5h0.60M288.4,405.7h0.60M284.0,410.3h0.60M283.5,406.9h0.60M282.0,404.1h0.60M282.5,406.4h0.60M285.3,404.4h0.60M287.2,411.0h0.60M287.4,406.9h0.60M283.3,406.6h0.60M289.5,402.5h0.60M287.2,409.5h0.60M284.8,400.8h0.60M288.5,403.6h0.60M288.3,402.2h0.60M295.8,404.3h0.60M285.2,406.3h0.60M289.0,409.7h0.60M289.8,402.7h0.60M285.7,400.8h0.60M285.6,409.6h0.60M286.9,411.4h0.60M289.3,403.3h0.60M285.7,408.0h0.60M289.5,404.4h0.60M292.3,407.0h0.60M282.8,399.7h0.60M284.2,400.1h0.60M284.2,408.3h0.60M286.5,406.1h0.60M287.1,407.7h0.60M284.9,406.7h0.60M285.7,406.5h0.60M288.0,405.8h0.60M285.9,403.6h0.60M294.2,406.1h0.60M286.6,400.5h0.60M286.9,406.9h0.60M286.7,404.0h0.60M289.8,403.1h0.60M290.0,405.2h0.60M284.4,411.5h0.60M291.0,403.6h0.60M285.5,403.5h0.60M285.5,408.9h0.60M290.8,402.7h0.60M286.0,405.7h0.60M285.5,401.1h0.60M285.1,402.8h0.60M285.0,407.5h0.60M286.2,403.6h0.60M289.4,411.7h0.60M288.6,405.4h0.60M287.2,406.2h0.60M289.5,409.7h0.60M285.9,402.6h0.60M289.4,408.1h0.60M291.2,400.5h0.60M288.9,409.4h0.60M284.6,404.9h0.60M284.2,405.3h0.60M283.7,401.5h0.60M287.1,406.0h0.60M281.9,407.1h0.60M290.7,403.1h0.60M285.5,404.4h0.60M286.7,403.4h0.60M284.1,401.6h0.60M289.5,404.9h0.60M283.4,403.4h0.60M283.6,408.3h0.60M285.1,404.8h0.60M286.2,403.9h0.60M287.5,410.3h0.60M285.5,405.8h0.60M287.1,408.6h0.60M284.9,399.2h0.60M285.1,405.8h0.60M287.5,410.1h0.60M288.0,412.0h0.60" stroke="#000" stroke-width="0.60" opacity="0.5" fill="none"/>
<rect x="281.70" y="398.98" width="13.30" height="15.61" rx="3" fill="#333" opacity="0.35" filter="url(#b20)"/>
<rect x="283.20" y="400.48" width="11.80" height="10.11" rx="2" fill="#222" opacity="0.45" filter="url(#b12)"/>
<rect x="282.20" y="399.98" width="9.30" height="11.61" rx="3.75" fill="#000" filter="url(#b08)"/>
<rect x="283.40" y="401.18" width="6.50" height="9.21" rx="2.50" fill="#000" opacity="0.8"/>
<line x1="191.3" y1="399" x2="191.3" y2="108.0" stroke="#111" stroke-width="0.7"/>
<path d="M191.3,105 L189.375,108.5 L193.22500000000002,108.5 Z" fill="#111"/>
<text transform="translate(193.6 420) rotate(-90) scale(0.1)" font-size="66.00" font-weight="bold" fill="#111" text-anchor="start">CD14</text>
<text transform="translate(197.5 427.6) scale(0.1)" font-size="66.00" font-weight="bold" fill="#111" text-anchor="start">CD16</text>
<line x1="216" y1="425.5" x2="313.5" y2="425.5" stroke="#111" stroke-width="0.7"/>
<path d="M316.5,425.5 L313.0,423.575 L313.0,427.425 Z" fill="#111"/>
<text transform="translate(452.5 96.3) scale(0.1)" font-size="98.00" font-weight="bold" fill="#111" text-anchor="middle">MPL</text>
<line x1="394.5" y1="97.5" x2="394.5" y2="135.625" stroke="#333" stroke-width="0.6"/>
<line x1="392.5" y1="97.5" x2="394.5" y2="97.5" stroke="#333" stroke-width="0.6"/>
<text transform="translate(391.6 100.0) scale(0.1)" font-size="70.00" font-weight="bold" fill="#222" text-anchor="end">100</text>
<line x1="392.5" y1="112.75" x2="394.5" y2="112.75" stroke="#333" stroke-width="0.6"/>
<text transform="translate(391.6 115.25) scale(0.1)" font-size="70.00" font-weight="bold" fill="#222" text-anchor="end">80</text>
<line x1="392.5" y1="128.0" x2="394.5" y2="128.0" stroke="#333" stroke-width="0.6"/>
<text transform="translate(391.6 130.5) scale(0.1)" font-size="70.00" font-weight="bold" fill="#222" text-anchor="end">60</text>
<line x1="392.5" y1="135.625" x2="394.5" y2="135.625" stroke="#333" stroke-width="0.6"/>
<line x1="394.5" y1="143.125" x2="394.5" y2="181.75" stroke="#333" stroke-width="0.6"/>
<line x1="392.5" y1="181.75" x2="394.5" y2="181.75" stroke="#333" stroke-width="0.6"/>
<text transform="translate(391.6 184.25) scale(0.1)" font-size="70.00" font-weight="bold" fill="#222" text-anchor="end">0</text>
<line x1="392.5" y1="174.025" x2="394.5" y2="174.025" stroke="#333" stroke-width="0.6"/>
<text transform="translate(391.6 176.525) scale(0.1)" font-size="70.00" font-weight="bold" fill="#222" text-anchor="end">5</text>
<line x1="392.5" y1="166.3" x2="394.5" y2="166.3" stroke="#333" stroke-width="0.6"/>
<text transform="translate(391.6 168.8) scale(0.1)" font-size="70.00" font-weight="bold" fill="#222" text-anchor="end">10</text>
<line x1="392.5" y1="158.575" x2="394.5" y2="158.575" stroke="#333" stroke-width="0.6"/>
<text transform="translate(391.6 161.075) scale(0.1)" font-size="70.00" font-weight="bold" fill="#222" text-anchor="end">15</text>
<line x1="392.5" y1="150.85" x2="394.5" y2="150.85" stroke="#333" stroke-width="0.6"/>
<text transform="translate(391.6 153.35) scale(0.1)" font-size="70.00" font-weight="bold" fill="#222" text-anchor="end">20</text>
<line x1="392.5" y1="143.125" x2="394.5" y2="143.125" stroke="#333" stroke-width="0.6"/>
<text transform="translate(391.6 145.625) scale(0.1)" font-size="70.00" font-weight="bold" fill="#222" text-anchor="end">25</text>
<line x1="394.5" y1="181.75" x2="446" y2="181.75" stroke="#333" stroke-width="0.6"/>
<line x1="450" y1="181.75" x2="513.25" y2="181.75" stroke="#333" stroke-width="0.6"/>
<line x1="395" y1="181.75" x2="395" y2="183.55" stroke="#333" stroke-width="0.6"/>
<line x1="400.75" y1="181.75" x2="400.75" y2="183.55" stroke="#333" stroke-width="0.6"/>
<line x1="411.25" y1="181.75" x2="411.25" y2="183.55" stroke="#333" stroke-width="0.6"/>
<line x1="442.5" y1="181.75" x2="442.5" y2="183.55" stroke="#333" stroke-width="0.6"/>
<line x1="452" y1="181.75" x2="452" y2="183.55" stroke="#333" stroke-width="0.6"/>
<line x1="461.25" y1="181.75" x2="461.25" y2="183.55" stroke="#333" stroke-width="0.6"/>
<line x1="480.5" y1="181.75" x2="480.5" y2="183.55" stroke="#333" stroke-width="0.6"/>
<line x1="513.25" y1="181.75" x2="513.25" y2="183.55" stroke="#333" stroke-width="0.6"/>
<line x1="446" y1="181.75" x2="446" y2="183.55" stroke="#333" stroke-width="0.6"/>
<line x1="450" y1="181.75" x2="450" y2="183.55" stroke="#333" stroke-width="0.6"/>
<polyline points="395.00,111.99 400.75,106.27 411.25,108.02 442.50,108.02 446.00,108.30" fill="none" stroke="#707070" stroke-width="1.25"/>
<polyline points="452.00,108.78 461.25,108.78 480.50,108.02 513.25,110.46" fill="none" stroke="#707070" stroke-width="1.25"/>
<path d="M400.75,104.76875V107.76875M399.55,104.76875h2.4M399.55,107.76875h2.4" stroke="#707070" stroke-width="0.5" fill="none"/>
<path d="M411.25,104.12249999999999V111.9225M410.05,104.12249999999999h2.4M410.05,111.9225h2.4" stroke="#707070" stroke-width="0.5" fill="none"/>
<path d="M442.5,103.5225V112.5225M441.3,103.5225h2.4M441.3,112.5225h2.4" stroke="#707070" stroke-width="0.5" fill="none"/>
<path d="M452,106.285V111.285M450.8,106.285h2.4M450.8,111.285h2.4" stroke="#707070" stroke-width="0.5" fill="none"/>
<path d="M461.25,107.285V110.285M460.05,107.285h2.4M460.05,110.285h2.4" stroke="#707070" stroke-width="0.5" fill="none"/>
<path d="M480.5,104.82249999999999V111.2225M479.3,104.82249999999999h2.4M479.3,111.2225h2.4" stroke="#707070" stroke-width="0.5" fill="none"/>
<circle cx="395" cy="111.99" r="1.9" fill="#707070"/>
<circle cx="400.75" cy="106.27" r="1.9" fill="#707070"/>
<circle cx="411.25" cy="108.02" r="1.9" fill="#707070"/>
<circle cx="442.5" cy="108.02" r="1.9" fill="#707070"/>
<circle cx="452" cy="108.78" r="1.9" fill="#707070"/>
<circle cx="461.25" cy="108.78" r="1.9" fill="#707070"/>
<circle cx="480.5" cy="108.02" r="1.9" fill="#707070"/>
<circle cx="513.25" cy="110.46" r="1.9" fill="#707070"/>
<polyline points="395.00,174.03 400.75,177.12 411.25,175.57 442.50,176.34 446.00,175.49" fill="none" stroke="#2a30d0" stroke-width="1.5"/>
<polyline points="452.00,174.03 461.25,177.12 480.50,178.66 513.25,176.34" fill="none" stroke="#2a30d0" stroke-width="1.5"/>
<path d="M400.75,174.615V179.615M399.55,174.615h2.4M399.55,179.615h2.4" stroke="#2a30d0" stroke-width="0.5" fill="none"/>
<path d="M411.25,172.57V178.57M410.05,172.57h2.4M410.05,178.57h2.4" stroke="#2a30d0" stroke-width="0.5" fill="none"/>
<path d="M442.5,173.3425V179.3425M441.3,173.3425h2.4M441.3,179.3425h2.4" stroke="#2a30d0" stroke-width="0.5" fill="none"/>
<path d="M452,172.025V176.025M450.8,172.025h2.4M450.8,176.025h2.4" stroke="#2a30d0" stroke-width="0.5" fill="none"/>
<path d="M513.25,174.3425V178.3425M512.05,174.3425h2.4M512.05,178.3425h2.4" stroke="#2a30d0" stroke-width="0.5" fill="none"/>
<path d="M395,171.83L397.2,174.03L395,176.22L392.8,174.03Z" fill="#2a30d0"/>
<path d="M400.75,174.92L402.95,177.12L400.75,179.31L398.55,177.12Z" fill="#2a30d0"/>
<path d="M411.25,173.37L413.45,175.57L411.25,177.77L409.05,175.57Z" fill="#2a30d0"/>
<path d="M442.5,174.14L444.7,176.34L442.5,178.54L440.3,176.34Z" fill="#2a30d0"/>
<path d="M452,171.83L454.2,174.03L452,176.22L449.8,174.03Z" fill="#2a30d0"/>
<path d="M461.25,174.92L463.45,177.12L461.25,179.31L459.05,177.12Z" fill="#2a30d0"/>
<path d="M480.5,176.46L482.7,178.66L480.5,180.86L478.3,178.66Z" fill="#2a30d0"/>
<path d="M513.25,174.14L515.45,176.34L513.25,178.54L511.05,176.34Z" fill="#2a30d0"/>
<polyline points="395.00,167.84 400.75,177.12 411.25,174.80 442.50,176.34 446.00,175.77" fill="none" stroke="#c0282e" stroke-width="1.5"/>
<polyline points="452.00,174.80 461.25,177.12 480.50,178.66 513.25,175.57" fill="none" stroke="#c0282e" stroke-width="1.5"/>
<path d="M400.75,175.115V179.115M399.55,175.115h2.4M399.55,179.115h2.4" stroke="#c0282e" stroke-width="0.5" fill="none"/>
<path d="M411.25,171.7975V177.7975M410.05,171.7975h2.4M410.05,177.7975h2.4" stroke="#c0282e" stroke-width="0.5" fill="none"/>
<path d="M442.5,173.3425V179.3425M441.3,173.3425h2.4M441.3,179.3425h2.4" stroke="#c0282e" stroke-width="0.5" fill="none"/>
<path d="M452,172.7975V176.7975M450.8,172.7975h2.4M450.8,176.7975h2.4" stroke="#c0282e" stroke-width="0.5" fill="none"/>
<path d="M513.25,173.57V177.57M512.05,173.57h2.4M512.05,177.57h2.4" stroke="#c0282e" stroke-width="0.5" fill="none"/>
<circle cx="395" cy="167.84" r="1.9" fill="#c0282e"/>
<circle cx="400.75" cy="177.12" r="1.9" fill="#c0282e"/>
<circle cx="411.25" cy="174.80" r="1.9" fill="#c0282e"/>
<circle cx="442.5" cy="176.34" r="1.9" fill="#c0282e"/>
<circle cx="452" cy="174.80" r="1.9" fill="#c0282e"/>
<circle cx="461.25" cy="177.12" r="1.9" fill="#c0282e"/>
<circle cx="480.5" cy="178.66" r="1.9" fill="#c0282e"/>
<circle cx="513.25" cy="175.57" r="1.9" fill="#c0282e"/>
<circle cx="401.30" cy="170.40" r="0.85" fill="#c0282e"/>
<circle cx="403.10" cy="170.40" r="0.85" fill="#c0282e"/>
<circle cx="442.70" cy="169.40" r="0.85" fill="#c0282e"/>
<circle cx="460.10" cy="172.80" r="0.85" fill="#c0282e"/>
<circle cx="461.90" cy="172.80" r="0.85" fill="#c0282e"/>
<circle cx="479.70" cy="173.40" r="0.85" fill="#c0282e"/>
<circle cx="481.50" cy="173.40" r="0.85" fill="#c0282e"/>
<circle cx="513.40" cy="169.40" r="0.85" fill="#c0282e"/>
<text transform="translate(452.5 201.0) scale(0.1)" font-size="98.00" font-weight="bold" fill="#111" text-anchor="middle">R-848</text>
<line x1="394.5" y1="198.75" x2="394.5" y2="236.875" stroke="#333" stroke-width="0.6"/>
<line x1="392.5" y1="198.75" x2="394.5" y2="198.75" stroke="#333" stroke-width="0.6"/>
<text transform="translate(391.6 201.25) scale(0.1)" font-size="70.00" font-weight="bold" fill="#222" text-anchor="end">100</text>
<line x1="392.5" y1="214.0" x2="394.5" y2="214.0" stroke="#333" stroke-width="0.6"/>
<text transform="translate(391.6 216.5) scale(0.1)" font-size="70.00" font-weight="bold" fill="#222" text-anchor="end">80</text>
<line x1="392.5" y1="229.25" x2="394.5" y2="229.25" stroke="#333" stroke-width="0.6"/>
<text transform="translate(391.6 231.75) scale(0.1)" font-size="70.00" font-weight="bold" fill="#222" text-anchor="end">60</text>
<line x1="392.5" y1="236.875" x2="394.5" y2="236.875" stroke="#333" stroke-width="0.6"/>
<line x1="394.5" y1="243.875" x2="394.5" y2="282.5" stroke="#333" stroke-width="0.6"/>
<line x1="392.5" y1="282.5" x2="394.5" y2="282.5" stroke="#333" stroke-width="0.6"/>
<text transform="translate(391.6 285.0) scale(0.1)" font-size="70.00" font-weight="bold" fill="#222" text-anchor="end">0</text>
<line x1="392.5" y1="274.775" x2="394.5" y2="274.775" stroke="#333" stroke-width="0.6"/>
<text transform="translate(391.6 277.275) scale(0.1)" font-size="70.00" font-weight="bold" fill="#222" text-anchor="end">5</text>
<line x1="392.5" y1="267.05" x2="394.5" y2="267.05" stroke="#333" stroke-width="0.6"/>
<text transform="translate(391.6 269.55) scale(0.1)" font-size="70.00" font-weight="bold" fill="#222" text-anchor="end">10</text>
<line x1="392.5" y1="259.325" x2="394.5" y2="259.325" stroke="#333" stroke-width="0.6"/>
<text transform="translate(391.6 261.825) scale(0.1)" font-size="70.00" font-weight="bold" fill="#222" text-anchor="end">15</text>
<line x1="392.5" y1="251.6" x2="394.5" y2="251.6" stroke="#333" stroke-width="0.6"/>
<text transform="translate(391.6 254.1) scale(0.1)" font-size="70.00" font-weight="bold" fill="#222" text-anchor="end">20</text>
<line x1="392.5" y1="243.875" x2="394.5" y2="243.875" stroke="#333" stroke-width="0.6"/>
<text transform="translate(391.6 246.375) scale(0.1)" font-size="70.00" font-weight="bold" fill="#222" text-anchor="end">25</text>
<line x1="394.5" y1="282.5" x2="446" y2="282.5" stroke="#333" stroke-width="0.6"/>
<line x1="450" y1="282.5" x2="513.25" y2="282.5" stroke="#333" stroke-width="0.6"/>
<line x1="395" y1="282.5" x2="395" y2="284.3" stroke="#333" stroke-width="0.6"/>
<line x1="400.75" y1="282.5" x2="400.75" y2="284.3" stroke="#333" stroke-width="0.6"/>
<line x1="411.25" y1="282.5" x2="411.25" y2="284.3" stroke="#333" stroke-width="0.6"/>
<line x1="442.5" y1="282.5" x2="442.5" y2="284.3" stroke="#333" stroke-width="0.6"/>
<line x1="452" y1="282.5" x2="452" y2="284.3" stroke="#333" stroke-width="0.6"/>
<line x1="461.25" y1="282.5" x2="461.25" y2="284.3" stroke="#333" stroke-width="0.6"/>
<line x1="480.5" y1="282.5" x2="480.5" y2="284.3" stroke="#333" stroke-width="0.6"/>
<line x1="513.25" y1="282.5" x2="513.25" y2="284.3" stroke="#333" stroke-width="0.6"/>
<line x1="446" y1="282.5" x2="446" y2="284.3" stroke="#333" stroke-width="0.6"/>
<line x1="450" y1="282.5" x2="450" y2="284.3" stroke="#333" stroke-width="0.6"/>
<polyline points="395,213.24 400.75,233.82 411.25,207.90 432,236.2" fill="none" stroke="#707070" stroke-width="1.25"/>
<polyline points="452,231.54 461.25,214.00 480.5,216.29 513.25,210.19" fill="none" stroke="#707070" stroke-width="1.25"/>
<rect x="393.1" y="211.34" width="3.8" height="3.8" fill="#707070"/>
<path d="M400.75,228.825V238.825M399.55,228.825h2.4M399.55,238.825h2.4" stroke="#707070" stroke-width="0.5" fill="none"/>
<rect x="398.85" y="231.92" width="3.8" height="3.8" fill="#707070"/>
<rect x="409.35" y="206.00" width="3.8" height="3.8" fill="#707070"/>
<path d="M452,228.5375V234.5375M450.8,228.5375h2.4M450.8,234.5375h2.4" stroke="#707070" stroke-width="0.5" fill="none"/>
<rect x="450.1" y="229.64" width="3.8" height="3.8" fill="#707070"/>
<path d="M461.25,212.0V216.0M460.05,212.0h2.4M460.05,216.0h2.4" stroke="#707070" stroke-width="0.5" fill="none"/>
<rect x="459.35" y="212.10" width="3.8" height="3.8" fill="#707070"/>
<path d="M480.5,213.2875V219.2875M479.3,213.2875h2.4M479.3,219.2875h2.4" stroke="#707070" stroke-width="0.5" fill="none"/>
<rect x="478.6" y="214.39" width="3.8" height="3.8" fill="#707070"/>
<rect x="511.35" y="208.29" width="3.8" height="3.8" fill="#707070"/>
<path d="M442.5,243.75V262.5M441.3,243.75h2.4M441.3,262.5h2.4" stroke="#707070" stroke-width="0.5"/>
<rect x="440.6" y="248.1" width="3.8" height="3.8" fill="#707070"/>
<polyline points="395,269.5 400.75,282 411.25,278 435,243.5" fill="none" stroke="#c0282e" stroke-width="1.5"/>
<polyline points="452,260.75 461.25,273.75 480.5,271.25 513.25,278" fill="none" stroke="#c0282e" stroke-width="1.5"/>
<circle cx="395" cy="269.5" r="2.3" fill="#c0282e"/>
<circle cx="400.75" cy="282" r="2.3" fill="#c0282e"/>
<circle cx="411.25" cy="278" r="2.3" fill="#c0282e"/>
<circle cx="442.5" cy="233.5" r="2.3" fill="#c0282e"/>
<circle cx="452" cy="260.75" r="2.3" fill="#c0282e"/>
<circle cx="461.25" cy="273.75" r="2.3" fill="#c0282e"/>
<circle cx="480.5" cy="271.25" r="2.3" fill="#c0282e"/>
<circle cx="513.25" cy="278" r="2.3" fill="#c0282e"/>
<path d="M442.5,230.5V236.5M452,257V264.5M461.25,270V277.5" stroke="#c0282e" stroke-width="0.6"/>
<polyline points="395,275 400.75,282 411.25,282 442.5,270.75 446.25,265.5" fill="none" stroke="#2a30d0" stroke-width="1.5"/>
<polyline points="452,256.25 461.25,269.5 480.5,275 513.25,276.25" fill="none" stroke="#2a30d0" stroke-width="1.5"/>
<circle cx="395" cy="275" r="2.3" fill="#2a30d0"/>
<circle cx="400.75" cy="282" r="2.3" fill="#2a30d0"/>
<circle cx="411.25" cy="282" r="2.3" fill="#2a30d0"/>
<circle cx="442.5" cy="270.75" r="2.3" fill="#2a30d0"/>
<circle cx="452" cy="256.25" r="2.3" fill="#2a30d0"/>
<circle cx="461.25" cy="269.5" r="2.3" fill="#2a30d0"/>
<circle cx="480.5" cy="275" r="2.3" fill="#2a30d0"/>
<circle cx="513.25" cy="276.25" r="2.3" fill="#2a30d0"/>
<path d="M442.5,266V275.5M452,249.5V263M461.25,265V274" stroke="#2a30d0" stroke-width="0.6"/>
<circle cx="403.30" cy="236.60" r="0.85" fill="#707070"/>
<circle cx="405.10" cy="236.60" r="0.85" fill="#707070"/>
<circle cx="434.10" cy="249.80" r="0.85" fill="#707070"/>
<circle cx="435.90" cy="249.80" r="0.85" fill="#707070"/>
<circle cx="437.70" cy="249.80" r="0.85" fill="#707070"/>
<circle cx="439.50" cy="249.80" r="0.85" fill="#707070"/>
<circle cx="456.10" cy="231.30" r="0.85" fill="#707070"/>
<circle cx="457.90" cy="231.30" r="0.85" fill="#707070"/>
<circle cx="440.40" cy="227.30" r="0.85" fill="#c0282e"/>
<circle cx="442.20" cy="227.30" r="0.85" fill="#c0282e"/>
<circle cx="444.00" cy="227.30" r="0.85" fill="#c0282e"/>
<circle cx="400.20" cy="276.10" r="0.85" fill="#c0282e"/>
<circle cx="402.00" cy="276.10" r="0.85" fill="#c0282e"/>
<circle cx="403.80" cy="276.10" r="0.85" fill="#c0282e"/>
<circle cx="405.60" cy="276.10" r="0.85" fill="#c0282e"/>
<circle cx="414.90" cy="276.80" r="0.85" fill="#c0282e"/>
<circle cx="416.70" cy="276.80" r="0.85" fill="#c0282e"/>
<circle cx="512.35" cy="271.25" r="0.85" fill="#c0282e"/>
<circle cx="514.15" cy="271.25" r="0.85" fill="#c0282e"/>
<circle cx="461.00" cy="278.90" r="0.85" fill="#c0282e"/>
<circle cx="400.10" cy="287.40" r="0.85" fill="#2a30d0"/>
<circle cx="401.90" cy="287.40" r="0.85" fill="#2a30d0"/>
<circle cx="409.70" cy="287.40" r="0.85" fill="#2a30d0"/>
<circle cx="411.50" cy="287.40" r="0.85" fill="#2a30d0"/>
<circle cx="451.70" cy="245.50" r="0.85" fill="#2a30d0"/>
<circle cx="453.50" cy="245.50" r="0.85" fill="#2a30d0"/>
<circle cx="461.00" cy="264.40" r="0.85" fill="#2a30d0"/>
<text transform="translate(377.6 276.8) rotate(-90) scale(0.1)" font-size="64.00" font-weight="bold" fill="#222" text-anchor="start">% cells / blood monocytes</text>
<text transform="translate(452.5 305.3) scale(0.1)" font-size="98.00" font-weight="bold" fill="#111" text-anchor="middle">CpG</text>
<line x1="394.5" y1="301.25" x2="394.5" y2="339.375" stroke="#333" stroke-width="0.6"/>
<line x1="392.5" y1="301.25" x2="394.5" y2="301.25" stroke="#333" stroke-width="0.6"/>
<text transform="translate(391.6 303.75) scale(0.1)" font-size="70.00" font-weight="bold" fill="#222" text-anchor="end">100</text>
<line x1="392.5" y1="316.5" x2="394.5" y2="316.5" stroke="#333" stroke-width="0.6"/>
<text transform="translate(391.6 319.0) scale(0.1)" font-size="70.00" font-weight="bold" fill="#222" text-anchor="end">80</text>
<line x1="392.5" y1="331.75" x2="394.5" y2="331.75" stroke="#333" stroke-width="0.6"/>
<text transform="translate(391.6 334.25) scale(0.1)" font-size="70.00" font-weight="bold" fill="#222" text-anchor="end">60</text>
<line x1="392.5" y1="339.375" x2="394.5" y2="339.375" stroke="#333" stroke-width="0.6"/>
<line x1="394.5" y1="346.875" x2="394.5" y2="385.5" stroke="#333" stroke-width="0.6"/>
<line x1="392.5" y1="385.5" x2="394.5" y2="385.5" stroke="#333" stroke-width="0.6"/>
<text transform="translate(391.6 388.0) scale(0.1)" font-size="70.00" font-weight="bold" fill="#222" text-anchor="end">0</text>
<line x1="392.5" y1="377.775" x2="394.5" y2="377.775" stroke="#333" stroke-width="0.6"/>
<text transform="translate(391.6 380.275) scale(0.1)" font-size="70.00" font-weight="bold" fill="#222" text-anchor="end">5</text>
<line x1="392.5" y1="370.05" x2="394.5" y2="370.05" stroke="#333" stroke-width="0.6"/>
<text transform="translate(391.6 372.55) scale(0.1)" font-size="70.00" font-weight="bold" fill="#222" text-anchor="end">10</text>
<line x1="392.5" y1="362.325" x2="394.5" y2="362.325" stroke="#333" stroke-width="0.6"/>
<text transform="translate(391.6 364.825) scale(0.1)" font-size="70.00" font-weight="bold" fill="#222" text-anchor="end">15</text>
<line x1="392.5" y1="354.6" x2="394.5" y2="354.6" stroke="#333" stroke-width="0.6"/>
<text transform="translate(391.6 357.1) scale(0.1)" font-size="70.00" font-weight="bold" fill="#222" text-anchor="end">20</text>
<line x1="392.5" y1="346.875" x2="394.5" y2="346.875" stroke="#333" stroke-width="0.6"/>
<text transform="translate(391.6 349.375) scale(0.1)" font-size="70.00" font-weight="bold" fill="#222" text-anchor="end">25</text>
<line x1="394.5" y1="385.5" x2="446" y2="385.5" stroke="#333" stroke-width="0.6"/>
<line x1="450" y1="385.5" x2="513.25" y2="385.5" stroke="#333" stroke-width="0.6"/>
<line x1="395" y1="385.5" x2="395" y2="387.3" stroke="#333" stroke-width="0.6"/>
<line x1="400.75" y1="385.5" x2="400.75" y2="387.3" stroke="#333" stroke-width="0.6"/>
<line x1="411.25" y1="385.5" x2="411.25" y2="387.3" stroke="#333" stroke-width="0.6"/>
<line x1="442.5" y1="385.5" x2="442.5" y2="387.3" stroke="#333" stroke-width="0.6"/>
<line x1="452" y1="385.5" x2="452" y2="387.3" stroke="#333" stroke-width="0.6"/>
<line x1="461.25" y1="385.5" x2="461.25" y2="387.3" stroke="#333" stroke-width="0.6"/>
<line x1="480.5" y1="385.5" x2="480.5" y2="387.3" stroke="#333" stroke-width="0.6"/>
<line x1="513.25" y1="385.5" x2="513.25" y2="387.3" stroke="#333" stroke-width="0.6"/>
<line x1="446" y1="385.5" x2="446" y2="387.3" stroke="#333" stroke-width="0.6"/>
<line x1="450" y1="385.5" x2="450" y2="387.3" stroke="#333" stroke-width="0.6"/>
<polyline points="395.00,316.50 400.75,308.88 411.25,311.16 442.50,322.60 446.00,323.16" fill="none" stroke="#707070" stroke-width="1.25"/>
<polyline points="452.00,324.12 461.25,321.84 480.50,316.50 513.25,310.40" fill="none" stroke="#707070" stroke-width="1.25"/>
<path d="M442.5,320.6V324.6M441.3,320.6h2.4M441.3,324.6h2.4" stroke="#707070" stroke-width="0.5" fill="none"/>
<path d="M480.5,314.5V318.5M479.3,314.5h2.4M479.3,318.5h2.4" stroke="#707070" stroke-width="0.5" fill="none"/>
<path d="M513.25,308.4V312.4M512.05,308.4h2.4M512.05,312.4h2.4" stroke="#707070" stroke-width="0.5" fill="none"/>
<path d="M395,314.30L397.2,318.10L392.8,318.10Z" fill="#707070"/>
<path d="M400.75,306.68L402.95,310.48L398.55,310.48Z" fill="#707070"/>
<path d="M411.25,308.96L413.45,312.76L409.05,312.76Z" fill="#707070"/>
<path d="M442.5,320.40L444.7,324.20L440.3,324.20Z" fill="#707070"/>
<path d="M452,321.93L454.2,325.73L449.8,325.73Z" fill="#707070"/>
<path d="M461.25,319.64L463.45,323.44L459.05,323.44Z" fill="#707070"/>
<path d="M480.5,314.30L482.7,318.10L478.3,318.10Z" fill="#707070"/>
<path d="M513.25,308.20L515.45,312.00L511.05,312.00Z" fill="#707070"/>
<polyline points="395.00,378.55 400.75,381.64 411.25,381.64 442.50,376.23 446.00,375.09" fill="none" stroke="#2a30d0" stroke-width="1.5"/>
<polyline points="452.00,373.14 461.25,368.50 480.50,378.08 513.25,378.39" fill="none" stroke="#2a30d0" stroke-width="1.5"/>
<path d="M442.5,373.23V379.23M441.3,373.23h2.4M441.3,379.23h2.4" stroke="#2a30d0" stroke-width="0.5" fill="none"/>
<path d="M452,370.14V376.14M450.8,370.14h2.4M450.8,376.14h2.4" stroke="#2a30d0" stroke-width="0.5" fill="none"/>
<path d="M461.25,363.505V373.505M460.05,363.505h2.4M460.05,373.505h2.4" stroke="#2a30d0" stroke-width="0.5" fill="none"/>
<path d="M513.25,373.39300000000003V383.39300000000003M512.05,373.39300000000003h2.4M512.05,383.39300000000003h2.4" stroke="#2a30d0" stroke-width="0.5" fill="none"/>
<rect x="393.2" y="376.75" width="3.6" height="3.6" fill="#2a30d0"/>
<rect x="398.95" y="379.84" width="3.6" height="3.6" fill="#2a30d0"/>
<rect x="409.45" y="379.84" width="3.6" height="3.6" fill="#2a30d0"/>
<rect x="440.7" y="374.43" width="3.6" height="3.6" fill="#2a30d0"/>
<rect x="450.2" y="371.34" width="3.6" height="3.6" fill="#2a30d0"/>
<rect x="459.45" y="366.70" width="3.6" height="3.6" fill="#2a30d0"/>
<rect x="478.7" y="376.28" width="3.6" height="3.6" fill="#2a30d0"/>
<rect x="511.45" y="376.59" width="3.6" height="3.6" fill="#2a30d0"/>
<polyline points="395.00,372.37 400.75,380.87 411.25,382.41 442.50,363.87 446.00,363.87" fill="none" stroke="#c0282e" stroke-width="1.5"/>
<polyline points="452.00,363.87 461.25,374.69 480.50,372.37 513.25,380.87" fill="none" stroke="#c0282e" stroke-width="1.5"/>
<path d="M461.25,371.685V377.685M460.05,371.685h2.4M460.05,377.685h2.4" stroke="#c0282e" stroke-width="0.5" fill="none"/>
<path d="M480.5,369.3675V375.3675M479.3,369.3675h2.4M479.3,375.3675h2.4" stroke="#c0282e" stroke-width="0.5" fill="none"/>
<path d="M395,370.17L397.2,373.97L392.8,373.97Z" fill="#c0282e"/>
<path d="M400.75,378.67L402.95,382.47L398.55,382.47Z" fill="#c0282e"/>
<path d="M411.25,380.21L413.45,384.01L409.05,384.01Z" fill="#c0282e"/>
<path d="M442.5,361.67L444.7,365.47L440.3,365.47Z" fill="#c0282e"/>
<path d="M452,361.67L454.2,365.47L449.8,365.47Z" fill="#c0282e"/>
<path d="M461.25,372.49L463.45,376.29L459.05,376.29Z" fill="#c0282e"/>
<path d="M480.5,370.17L482.7,373.97L478.3,373.97Z" fill="#c0282e"/>
<path d="M513.25,378.67L515.45,382.47L511.05,382.47Z" fill="#c0282e"/>
<circle cx="400.75" cy="303.75" r="0.85" fill="#707070"/>
<circle cx="450.75" cy="320.50" r="0.85" fill="#707070"/>
<circle cx="399.30" cy="377.00" r="0.85" fill="#c0282e"/>
<circle cx="401.10" cy="377.00" r="0.85" fill="#c0282e"/>
<circle cx="402.90" cy="377.00" r="0.85" fill="#c0282e"/>
<circle cx="410.20" cy="377.70" r="0.85" fill="#c0282e"/>
<circle cx="412.00" cy="377.70" r="0.85" fill="#c0282e"/>
<circle cx="413.80" cy="377.70" r="0.85" fill="#c0282e"/>
<circle cx="442.10" cy="359.70" r="0.85" fill="#c0282e"/>
<circle cx="443.90" cy="359.70" r="0.85" fill="#c0282e"/>
<circle cx="451.80" cy="358.20" r="0.85" fill="#c0282e"/>
<circle cx="453.60" cy="358.20" r="0.85" fill="#c0282e"/>
<circle cx="507.80" cy="382.60" r="0.85" fill="#c0282e"/>
<circle cx="509.60" cy="382.60" r="0.85" fill="#c0282e"/>
<circle cx="450.20" cy="369.80" r="0.85" fill="#2a30d0"/>
<circle cx="452.00" cy="369.80" r="0.85" fill="#2a30d0"/>
<circle cx="460.10" cy="361.50" r="0.85" fill="#2a30d0"/>
<circle cx="461.90" cy="361.50" r="0.85" fill="#2a30d0"/>
<text transform="translate(403.05 387.5) rotate(-90) scale(0.1)" font-size="70.00" font-weight="bold" fill="#222" text-anchor="end">3hr</text>
<text transform="translate(413.55 387.5) rotate(-90) scale(0.1)" font-size="70.00" font-weight="bold" fill="#222" text-anchor="end">8hr</text>
<text transform="translate(444.8 387.5) rotate(-90) scale(0.1)" font-size="70.00" font-weight="bold" fill="#222" text-anchor="end">d. 1</text>
<text transform="translate(454.3 387.5) rotate(-90) scale(0.1)" font-size="70.00" font-weight="bold" fill="#222" text-anchor="end">d. 2</text>
<text transform="translate(463.55 387.5) rotate(-90) scale(0.1)" font-size="70.00" font-weight="bold" fill="#222" text-anchor="end">d. 3</text>
<text transform="translate(482.8 387.5) rotate(-90) scale(0.1)" font-size="70.00" font-weight="bold" fill="#222" text-anchor="end">d. 6</text>
<text transform="translate(515.55 387.5) rotate(-90) scale(0.1)" font-size="70.00" font-weight="bold" fill="#222" text-anchor="end">d. 14</text>
<text transform="translate(453.2 410.2) scale(0.1)" font-size="65.00" font-weight="bold" fill="#222" text-anchor="middle">time post injection</text>
<line x1="412" y1="421.6" x2="422.2" y2="421.6" stroke="#555" stroke-width="0.7"/>
<line x1="412" y1="430.8" x2="422.2" y2="430.8" stroke="#a83838" stroke-width="0.8"/>
<line x1="412" y1="440.1" x2="422.2" y2="440.1" stroke="#3030a8" stroke-width="0.8"/>
<text x="427" y="424.3" font-size="6.05" font-weight="bold" fill="#222">CD14<tspan dy="-2" font-size="4.2">+</tspan><tspan dy="2"> CD16</tspan><tspan dy="-2" font-size="4.2">neg</tspan><tspan dy="2"> mono.</tspan></text>
<text x="427" y="433.8" font-size="6.05" font-weight="bold" fill="#222">CD14<tspan dy="-2" font-size="4.2">+</tspan><tspan dy="2"> CD16</tspan><tspan dy="-2" font-size="4.2">+</tspan><tspan dy="2"> mono.</tspan></text>
<text x="427" y="443.3" font-size="6.05" font-weight="bold" fill="#222">CD14<tspan dy="-2" font-size="4.2">dim</tspan><tspan dy="2"> CD16</tspan><tspan dy="-2" font-size="4.2">++</tspan><tspan dy="2"> mono.</tspan></text>
</svg></body></html>
